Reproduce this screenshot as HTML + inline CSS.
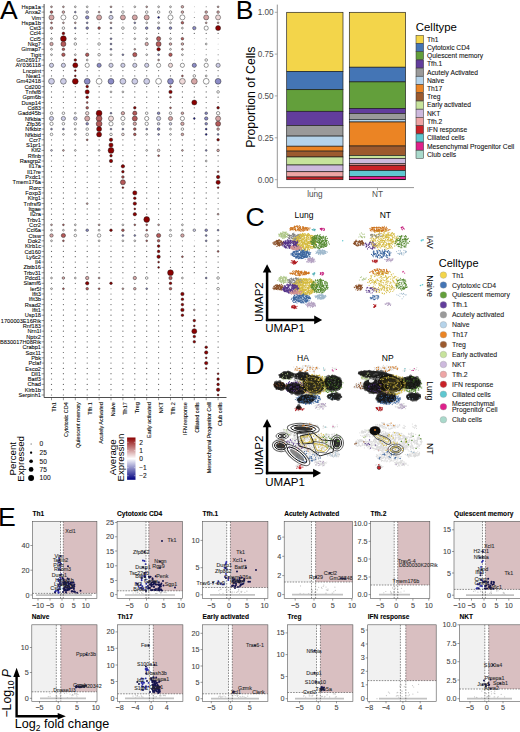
<!DOCTYPE html>
<html><head><meta charset="utf-8"><style>
html,body{margin:0;padding:0;background:#fff;width:520px;height:732px;overflow:hidden}
svg{display:block}
text{font-family:"Liberation Sans", sans-serif}
</style></head><body>
<svg width="520" height="732" viewBox="0 0 520 732">
<rect width="520" height="732" fill="#fff"/>
<text x="0" y="18.75" font-size="26.6" fill="#000">A</text>
<g font-size="5.65" text-anchor="end" fill="#000" stroke="#000" stroke-width="0.07"><text x="41.0" y="8.90">Hspa1a</text><text x="41.0" y="14.22">Anxa2</text><text x="41.0" y="19.54">Vim</text><text x="41.0" y="24.85">Hspa1b</text><text x="41.0" y="30.17">Cst3</text><text x="41.0" y="35.49">Ccl4</text><text x="41.0" y="40.81">Ccl5</text><text x="41.0" y="46.13">Nkg7</text><text x="41.0" y="51.44">Gimap7</text><text x="41.0" y="56.76">Tigit</text><text x="41.0" y="62.08">Gm26917</text><text x="41.0" y="67.40">AY036118</text><text x="41.0" y="72.72">Lncpint</text><text x="41.0" y="78.03">Neat1</text><text x="41.0" y="83.35">Gm42418</text><text x="41.0" y="88.67">Cd200</text><text x="41.0" y="93.99">Tnfsf8</text><text x="41.0" y="99.31">Gpm6b</text><text x="41.0" y="104.62">Dusp14</text><text x="41.0" y="109.94">Cd83</text><text x="41.0" y="115.26">Gadd45b</text><text x="41.0" y="120.58">Nfkbia</text><text x="41.0" y="125.90">Zfp36</text><text x="41.0" y="131.21">Nfkbiz</text><text x="41.0" y="136.53">Nfkbid</text><text x="41.0" y="141.85">Ccr7</text><text x="41.0" y="147.17">S1pr1</text><text x="41.0" y="152.49">Klf2</text><text x="41.0" y="157.80">Rflnb</text><text x="41.0" y="163.12">Rasgrp2</text><text x="41.0" y="168.44">Il17a</text><text x="41.0" y="173.76">Il17re</text><text x="41.0" y="179.08">Pxdc1</text><text x="41.0" y="184.39">Tmem176a</text><text x="41.0" y="189.71">Rorc</text><text x="41.0" y="195.03">Foxp3</text><text x="41.0" y="200.35">Klrg1</text><text x="41.0" y="205.67">Tnfrsf9</text><text x="41.0" y="210.98">Itgae</text><text x="41.0" y="216.30">Il2ra</text><text x="41.0" y="221.62">Trbv1</text><text x="41.0" y="226.94">Ccr2</text><text x="41.0" y="232.26">Ccl6a</text><text x="41.0" y="237.57">Ctsw</text><text x="41.0" y="242.89">Dok2</text><text x="41.0" y="248.21">Klrb1c</text><text x="41.0" y="253.53">Cd160</text><text x="41.0" y="258.85">Ly6c2</text><text x="41.0" y="264.16">Il4</text><text x="41.0" y="269.48">Zbtb16</text><text x="41.0" y="274.80">Trbv31</text><text x="41.0" y="280.12">Pdcd1</text><text x="41.0" y="285.44">Slamf6</text><text x="41.0" y="290.75">Ier5l</text><text x="41.0" y="296.07">Ifit3</text><text x="41.0" y="301.39">Ifit3b</text><text x="41.0" y="306.71">Rsad2</text><text x="41.0" y="312.03">Ifit1</text><text x="41.0" y="317.34">Usp18</text><text x="41.0" y="322.66">1700003E16Rik</text><text x="41.0" y="327.98">Rnf183</text><text x="41.0" y="333.30">Nrn1l</text><text x="41.0" y="338.62">Nptx2</text><text x="41.0" y="343.93">B830017H08Rik</text><text x="41.0" y="349.25">Crabp1</text><text x="41.0" y="354.57">Sox11</text><text x="41.0" y="359.89">Pbk</text><text x="41.0" y="365.21">Pclaf</text><text x="41.0" y="370.52">Esco2</text><text x="41.0" y="375.84">Dll1</text><text x="41.0" y="381.16">Batf3</text><text x="41.0" y="386.48">Chad</text><text x="41.0" y="391.80">Klrb1b</text><text x="41.0" y="397.11">Serpinh1</text></g>
<path d="M41.6 6.80H44.1M41.6 12.12H44.1M41.6 17.44H44.1M41.6 22.75H44.1M41.6 28.07H44.1M41.6 33.39H44.1M41.6 38.71H44.1M41.6 44.03H44.1M41.6 49.34H44.1M41.6 54.66H44.1M41.6 59.98H44.1M41.6 65.30H44.1M41.6 70.62H44.1M41.6 75.93H44.1M41.6 81.25H44.1M41.6 86.57H44.1M41.6 91.89H44.1M41.6 97.21H44.1M41.6 102.52H44.1M41.6 107.84H44.1M41.6 113.16H44.1M41.6 118.48H44.1M41.6 123.80H44.1M41.6 129.11H44.1M41.6 134.43H44.1M41.6 139.75H44.1M41.6 145.07H44.1M41.6 150.39H44.1M41.6 155.70H44.1M41.6 161.02H44.1M41.6 166.34H44.1M41.6 171.66H44.1M41.6 176.98H44.1M41.6 182.29H44.1M41.6 187.61H44.1M41.6 192.93H44.1M41.6 198.25H44.1M41.6 203.57H44.1M41.6 208.88H44.1M41.6 214.20H44.1M41.6 219.52H44.1M41.6 224.84H44.1M41.6 230.16H44.1M41.6 235.47H44.1M41.6 240.79H44.1M41.6 246.11H44.1M41.6 251.43H44.1M41.6 256.75H44.1M41.6 262.06H44.1M41.6 267.38H44.1M41.6 272.70H44.1M41.6 278.02H44.1M41.6 283.34H44.1M41.6 288.65H44.1M41.6 293.97H44.1M41.6 299.29H44.1M41.6 304.61H44.1M41.6 309.93H44.1M41.6 315.24H44.1M41.6 320.56H44.1M41.6 325.88H44.1M41.6 331.20H44.1M41.6 336.52H44.1M41.6 341.83H44.1M41.6 347.15H44.1M41.6 352.47H44.1M41.6 357.79H44.1M41.6 363.11H44.1M41.6 368.42H44.1M41.6 373.74H44.1M41.6 379.06H44.1M41.6 384.38H44.1M41.6 389.70H44.1M41.6 395.01H44.1M51.50 397.5V400.2M63.40 397.5V400.2M75.30 397.5V400.2M87.20 397.5V400.2M99.10 397.5V400.2M111.00 397.5V400.2M122.90 397.5V400.2M134.80 397.5V400.2M146.70 397.5V400.2M158.60 397.5V400.2M170.50 397.5V400.2M182.40 397.5V400.2M194.30 397.5V400.2M206.20 397.5V400.2M218.10 397.5V400.2" stroke="#333" stroke-width="0.5" fill="none"/>
<path d="M44.1 4V397.5H226.5" stroke="#222" stroke-width="0.8" fill="none"/>
<g fill="#666"><circle cx="99.1" cy="6.8" r="0.50"/><circle cx="122.9" cy="6.8" r="0.50"/><circle cx="194.3" cy="6.8" r="0.34"/><circle cx="206.2" cy="6.8" r="0.50"/><circle cx="134.8" cy="12.1" r="0.50"/><circle cx="194.3" cy="12.1" r="0.34"/><circle cx="194.3" cy="17.4" r="0.50"/><circle cx="99.1" cy="22.8" r="0.50"/><circle cx="122.9" cy="22.8" r="0.50"/><circle cx="194.3" cy="22.8" r="0.34"/><circle cx="51.5" cy="33.4" r="0.62"/><circle cx="75.3" cy="33.4" r="0.62"/><circle cx="87.2" cy="33.4" r="0.62"/><circle cx="99.1" cy="33.4" r="0.62"/><circle cx="111.0" cy="33.4" r="0.62"/><circle cx="122.9" cy="33.4" r="0.62"/><circle cx="134.8" cy="33.4" r="0.62"/><circle cx="146.7" cy="33.4" r="0.62"/><circle cx="158.6" cy="33.4" r="0.62"/><circle cx="170.5" cy="33.4" r="0.62"/><circle cx="182.4" cy="33.4" r="0.62"/><circle cx="194.3" cy="33.4" r="0.62"/><circle cx="206.2" cy="33.4" r="0.62"/><circle cx="218.1" cy="33.4" r="0.62"/><circle cx="87.2" cy="38.7" r="0.50"/><circle cx="99.1" cy="38.7" r="0.50"/><circle cx="122.9" cy="38.7" r="0.50"/><circle cx="194.3" cy="38.7" r="0.34"/><circle cx="206.2" cy="38.7" r="0.50"/><circle cx="218.1" cy="38.7" r="0.34"/><circle cx="87.2" cy="44.0" r="0.50"/><circle cx="122.9" cy="44.0" r="0.50"/><circle cx="134.8" cy="44.0" r="0.50"/><circle cx="194.3" cy="44.0" r="0.34"/><circle cx="218.1" cy="44.0" r="0.34"/><circle cx="75.3" cy="49.3" r="0.50"/><circle cx="87.2" cy="49.3" r="0.50"/><circle cx="99.1" cy="49.3" r="0.50"/><circle cx="122.9" cy="49.3" r="0.50"/><circle cx="146.7" cy="49.3" r="0.50"/><circle cx="194.3" cy="49.3" r="0.34"/><circle cx="206.2" cy="49.3" r="0.50"/><circle cx="218.1" cy="49.3" r="0.34"/><circle cx="194.3" cy="54.7" r="0.34"/><circle cx="206.2" cy="54.7" r="0.50"/><circle cx="218.1" cy="54.7" r="0.50"/><circle cx="51.5" cy="60.0" r="0.50"/><circle cx="63.4" cy="60.0" r="0.50"/><circle cx="99.1" cy="60.0" r="0.50"/><circle cx="111.0" cy="60.0" r="0.50"/><circle cx="122.9" cy="60.0" r="0.50"/><circle cx="134.8" cy="60.0" r="0.50"/><circle cx="146.7" cy="60.0" r="0.50"/><circle cx="170.5" cy="60.0" r="0.50"/><circle cx="182.4" cy="60.0" r="0.50"/><circle cx="194.3" cy="60.0" r="0.34"/><circle cx="218.1" cy="60.0" r="0.50"/><circle cx="51.5" cy="70.6" r="0.62"/><circle cx="63.4" cy="70.6" r="0.62"/><circle cx="87.2" cy="70.6" r="0.62"/><circle cx="99.1" cy="70.6" r="0.62"/><circle cx="111.0" cy="70.6" r="0.62"/><circle cx="122.9" cy="70.6" r="0.62"/><circle cx="134.8" cy="70.6" r="0.50"/><circle cx="146.7" cy="70.6" r="0.62"/><circle cx="158.6" cy="70.6" r="0.62"/><circle cx="170.5" cy="70.6" r="0.62"/><circle cx="182.4" cy="70.6" r="0.62"/><circle cx="194.3" cy="70.6" r="0.62"/><circle cx="206.2" cy="70.6" r="0.62"/><circle cx="218.1" cy="70.6" r="0.62"/><circle cx="51.5" cy="75.9" r="0.62"/><circle cx="63.4" cy="75.9" r="0.62"/><circle cx="87.2" cy="75.9" r="0.62"/><circle cx="99.1" cy="75.9" r="0.62"/><circle cx="111.0" cy="75.9" r="0.62"/><circle cx="122.9" cy="75.9" r="0.62"/><circle cx="134.8" cy="75.9" r="0.62"/><circle cx="146.7" cy="75.9" r="0.62"/><circle cx="158.6" cy="75.9" r="0.62"/><circle cx="170.5" cy="75.9" r="0.62"/><circle cx="218.1" cy="75.9" r="0.62"/><circle cx="51.5" cy="86.6" r="0.62"/><circle cx="63.4" cy="86.6" r="0.62"/><circle cx="75.3" cy="86.6" r="0.62"/><circle cx="99.1" cy="86.6" r="0.62"/><circle cx="111.0" cy="86.6" r="0.62"/><circle cx="122.9" cy="86.6" r="0.62"/><circle cx="134.8" cy="86.6" r="0.62"/><circle cx="146.7" cy="86.6" r="0.62"/><circle cx="158.6" cy="86.6" r="0.62"/><circle cx="182.4" cy="86.6" r="0.62"/><circle cx="194.3" cy="86.6" r="0.62"/><circle cx="206.2" cy="86.6" r="0.62"/><circle cx="218.1" cy="86.6" r="0.62"/><circle cx="51.5" cy="91.9" r="0.62"/><circle cx="63.4" cy="91.9" r="0.62"/><circle cx="75.3" cy="91.9" r="0.62"/><circle cx="99.1" cy="91.9" r="0.62"/><circle cx="134.8" cy="91.9" r="0.62"/><circle cx="146.7" cy="91.9" r="0.62"/><circle cx="158.6" cy="91.9" r="0.62"/><circle cx="182.4" cy="91.9" r="0.62"/><circle cx="194.3" cy="91.9" r="0.62"/><circle cx="206.2" cy="91.9" r="0.62"/><circle cx="51.5" cy="97.2" r="0.62"/><circle cx="63.4" cy="97.2" r="0.62"/><circle cx="75.3" cy="97.2" r="0.62"/><circle cx="99.1" cy="97.2" r="0.62"/><circle cx="111.0" cy="97.2" r="0.62"/><circle cx="122.9" cy="97.2" r="0.62"/><circle cx="134.8" cy="97.2" r="0.62"/><circle cx="146.7" cy="97.2" r="0.62"/><circle cx="158.6" cy="97.2" r="0.62"/><circle cx="182.4" cy="97.2" r="0.62"/><circle cx="194.3" cy="97.2" r="0.62"/><circle cx="206.2" cy="97.2" r="0.62"/><circle cx="218.1" cy="97.2" r="0.62"/><circle cx="51.5" cy="102.5" r="0.62"/><circle cx="63.4" cy="102.5" r="0.62"/><circle cx="75.3" cy="102.5" r="0.62"/><circle cx="99.1" cy="102.5" r="0.62"/><circle cx="111.0" cy="102.5" r="0.62"/><circle cx="122.9" cy="102.5" r="0.62"/><circle cx="134.8" cy="102.5" r="0.62"/><circle cx="146.7" cy="102.5" r="0.62"/><circle cx="158.6" cy="102.5" r="0.62"/><circle cx="170.5" cy="102.5" r="0.62"/><circle cx="182.4" cy="102.5" r="0.62"/><circle cx="206.2" cy="102.5" r="0.62"/><circle cx="218.1" cy="102.5" r="0.62"/><circle cx="51.5" cy="107.8" r="0.62"/><circle cx="63.4" cy="107.8" r="0.62"/><circle cx="75.3" cy="107.8" r="0.62"/><circle cx="99.1" cy="107.8" r="0.62"/><circle cx="111.0" cy="107.8" r="0.62"/><circle cx="122.9" cy="107.8" r="0.62"/><circle cx="146.7" cy="107.8" r="0.62"/><circle cx="158.6" cy="107.8" r="0.62"/><circle cx="182.4" cy="107.8" r="0.62"/><circle cx="194.3" cy="107.8" r="0.62"/><circle cx="206.2" cy="107.8" r="0.62"/><circle cx="194.3" cy="113.2" r="0.50"/><circle cx="194.3" cy="123.8" r="0.50"/><circle cx="194.3" cy="129.1" r="0.50"/><circle cx="194.3" cy="134.4" r="0.34"/><circle cx="51.5" cy="139.8" r="0.62"/><circle cx="63.4" cy="139.8" r="0.62"/><circle cx="75.3" cy="139.8" r="0.62"/><circle cx="99.1" cy="139.8" r="0.62"/><circle cx="122.9" cy="139.8" r="0.62"/><circle cx="134.8" cy="139.8" r="0.62"/><circle cx="146.7" cy="139.8" r="0.62"/><circle cx="158.6" cy="139.8" r="0.62"/><circle cx="170.5" cy="139.8" r="0.62"/><circle cx="182.4" cy="139.8" r="0.62"/><circle cx="194.3" cy="139.8" r="0.62"/><circle cx="206.2" cy="139.8" r="0.62"/><circle cx="51.5" cy="145.1" r="0.62"/><circle cx="63.4" cy="145.1" r="0.62"/><circle cx="75.3" cy="145.1" r="0.62"/><circle cx="87.2" cy="145.1" r="0.62"/><circle cx="99.1" cy="145.1" r="0.62"/><circle cx="122.9" cy="145.1" r="0.62"/><circle cx="134.8" cy="145.1" r="0.62"/><circle cx="146.7" cy="145.1" r="0.62"/><circle cx="158.6" cy="145.1" r="0.62"/><circle cx="170.5" cy="145.1" r="0.62"/><circle cx="182.4" cy="145.1" r="0.62"/><circle cx="194.3" cy="145.1" r="0.62"/><circle cx="206.2" cy="145.1" r="0.62"/><circle cx="218.1" cy="145.1" r="0.62"/><circle cx="87.2" cy="150.4" r="0.50"/><circle cx="122.9" cy="150.4" r="0.50"/><circle cx="134.8" cy="150.4" r="0.50"/><circle cx="170.5" cy="150.4" r="0.50"/><circle cx="194.3" cy="150.4" r="0.50"/><circle cx="51.5" cy="155.7" r="0.62"/><circle cx="63.4" cy="155.7" r="0.62"/><circle cx="75.3" cy="155.7" r="0.62"/><circle cx="87.2" cy="155.7" r="0.62"/><circle cx="99.1" cy="155.7" r="0.62"/><circle cx="122.9" cy="155.7" r="0.62"/><circle cx="134.8" cy="155.7" r="0.62"/><circle cx="146.7" cy="155.7" r="0.62"/><circle cx="170.5" cy="155.7" r="0.62"/><circle cx="182.4" cy="155.7" r="0.62"/><circle cx="194.3" cy="155.7" r="0.50"/><circle cx="206.2" cy="155.7" r="0.62"/><circle cx="218.1" cy="155.7" r="0.62"/><circle cx="51.5" cy="161.0" r="0.62"/><circle cx="63.4" cy="161.0" r="0.50"/><circle cx="75.3" cy="161.0" r="0.62"/><circle cx="87.2" cy="161.0" r="0.62"/><circle cx="99.1" cy="161.0" r="0.62"/><circle cx="122.9" cy="161.0" r="0.62"/><circle cx="134.8" cy="161.0" r="0.62"/><circle cx="146.7" cy="161.0" r="0.50"/><circle cx="158.6" cy="161.0" r="0.50"/><circle cx="170.5" cy="161.0" r="0.62"/><circle cx="182.4" cy="161.0" r="0.62"/><circle cx="194.3" cy="161.0" r="0.62"/><circle cx="218.1" cy="161.0" r="0.62"/><circle cx="51.5" cy="166.3" r="0.62"/><circle cx="63.4" cy="166.3" r="0.62"/><circle cx="75.3" cy="166.3" r="0.62"/><circle cx="87.2" cy="166.3" r="0.62"/><circle cx="99.1" cy="166.3" r="0.62"/><circle cx="111.0" cy="166.3" r="0.62"/><circle cx="134.8" cy="166.3" r="0.62"/><circle cx="146.7" cy="166.3" r="0.62"/><circle cx="158.6" cy="166.3" r="0.62"/><circle cx="170.5" cy="166.3" r="0.62"/><circle cx="182.4" cy="166.3" r="0.62"/><circle cx="194.3" cy="166.3" r="0.62"/><circle cx="206.2" cy="166.3" r="0.62"/><circle cx="218.1" cy="166.3" r="0.62"/><circle cx="51.5" cy="171.7" r="0.62"/><circle cx="63.4" cy="171.7" r="0.62"/><circle cx="75.3" cy="171.7" r="0.62"/><circle cx="87.2" cy="171.7" r="0.62"/><circle cx="99.1" cy="171.7" r="0.62"/><circle cx="111.0" cy="171.7" r="0.62"/><circle cx="134.8" cy="171.7" r="0.62"/><circle cx="146.7" cy="171.7" r="0.62"/><circle cx="158.6" cy="171.7" r="0.62"/><circle cx="170.5" cy="171.7" r="0.62"/><circle cx="182.4" cy="171.7" r="0.62"/><circle cx="194.3" cy="171.7" r="0.62"/><circle cx="206.2" cy="171.7" r="0.62"/><circle cx="51.5" cy="177.0" r="0.62"/><circle cx="63.4" cy="177.0" r="0.62"/><circle cx="75.3" cy="177.0" r="0.62"/><circle cx="87.2" cy="177.0" r="0.62"/><circle cx="99.1" cy="177.0" r="0.62"/><circle cx="111.0" cy="177.0" r="0.62"/><circle cx="134.8" cy="177.0" r="0.62"/><circle cx="146.7" cy="177.0" r="0.62"/><circle cx="158.6" cy="177.0" r="0.62"/><circle cx="170.5" cy="177.0" r="0.62"/><circle cx="182.4" cy="177.0" r="0.62"/><circle cx="194.3" cy="177.0" r="0.62"/><circle cx="206.2" cy="177.0" r="0.62"/><circle cx="51.5" cy="182.3" r="0.50"/><circle cx="63.4" cy="182.3" r="0.62"/><circle cx="75.3" cy="182.3" r="0.62"/><circle cx="87.2" cy="182.3" r="0.62"/><circle cx="99.1" cy="182.3" r="0.62"/><circle cx="111.0" cy="182.3" r="0.62"/><circle cx="134.8" cy="182.3" r="0.62"/><circle cx="146.7" cy="182.3" r="0.62"/><circle cx="158.6" cy="182.3" r="0.50"/><circle cx="170.5" cy="182.3" r="0.62"/><circle cx="182.4" cy="182.3" r="0.62"/><circle cx="194.3" cy="182.3" r="0.62"/><circle cx="206.2" cy="182.3" r="0.62"/><circle cx="51.5" cy="187.6" r="0.62"/><circle cx="63.4" cy="187.6" r="0.62"/><circle cx="75.3" cy="187.6" r="0.62"/><circle cx="87.2" cy="187.6" r="0.62"/><circle cx="99.1" cy="187.6" r="0.62"/><circle cx="111.0" cy="187.6" r="0.62"/><circle cx="134.8" cy="187.6" r="0.62"/><circle cx="146.7" cy="187.6" r="0.62"/><circle cx="158.6" cy="187.6" r="0.62"/><circle cx="170.5" cy="187.6" r="0.62"/><circle cx="182.4" cy="187.6" r="0.62"/><circle cx="194.3" cy="187.6" r="0.62"/><circle cx="206.2" cy="187.6" r="0.62"/><circle cx="51.5" cy="192.9" r="0.62"/><circle cx="63.4" cy="192.9" r="0.62"/><circle cx="75.3" cy="192.9" r="0.62"/><circle cx="87.2" cy="192.9" r="0.62"/><circle cx="99.1" cy="192.9" r="0.62"/><circle cx="111.0" cy="192.9" r="0.62"/><circle cx="122.9" cy="192.9" r="0.62"/><circle cx="146.7" cy="192.9" r="0.62"/><circle cx="158.6" cy="192.9" r="0.62"/><circle cx="170.5" cy="192.9" r="0.62"/><circle cx="182.4" cy="192.9" r="0.62"/><circle cx="194.3" cy="192.9" r="0.62"/><circle cx="206.2" cy="192.9" r="0.62"/><circle cx="218.1" cy="192.9" r="0.62"/><circle cx="51.5" cy="198.2" r="0.62"/><circle cx="63.4" cy="198.2" r="0.62"/><circle cx="75.3" cy="198.2" r="0.62"/><circle cx="87.2" cy="198.2" r="0.62"/><circle cx="99.1" cy="198.2" r="0.62"/><circle cx="111.0" cy="198.2" r="0.62"/><circle cx="122.9" cy="198.2" r="0.62"/><circle cx="146.7" cy="198.2" r="0.62"/><circle cx="158.6" cy="198.2" r="0.62"/><circle cx="170.5" cy="198.2" r="0.62"/><circle cx="182.4" cy="198.2" r="0.62"/><circle cx="194.3" cy="198.2" r="0.62"/><circle cx="206.2" cy="198.2" r="0.62"/><circle cx="218.1" cy="198.2" r="0.62"/><circle cx="51.5" cy="203.6" r="0.62"/><circle cx="63.4" cy="203.6" r="0.62"/><circle cx="75.3" cy="203.6" r="0.62"/><circle cx="99.1" cy="203.6" r="0.62"/><circle cx="111.0" cy="203.6" r="0.62"/><circle cx="122.9" cy="203.6" r="0.62"/><circle cx="146.7" cy="203.6" r="0.62"/><circle cx="158.6" cy="203.6" r="0.62"/><circle cx="170.5" cy="203.6" r="0.62"/><circle cx="182.4" cy="203.6" r="0.62"/><circle cx="194.3" cy="203.6" r="0.62"/><circle cx="206.2" cy="203.6" r="0.62"/><circle cx="218.1" cy="203.6" r="0.50"/><circle cx="51.5" cy="208.9" r="0.62"/><circle cx="63.4" cy="208.9" r="0.62"/><circle cx="75.3" cy="208.9" r="0.62"/><circle cx="87.2" cy="208.9" r="0.62"/><circle cx="99.1" cy="208.9" r="0.62"/><circle cx="111.0" cy="208.9" r="0.62"/><circle cx="122.9" cy="208.9" r="0.62"/><circle cx="146.7" cy="208.9" r="0.62"/><circle cx="158.6" cy="208.9" r="0.62"/><circle cx="170.5" cy="208.9" r="0.62"/><circle cx="182.4" cy="208.9" r="0.62"/><circle cx="194.3" cy="208.9" r="0.62"/><circle cx="206.2" cy="208.9" r="0.62"/><circle cx="218.1" cy="208.9" r="0.62"/><circle cx="51.5" cy="214.2" r="0.62"/><circle cx="63.4" cy="214.2" r="0.62"/><circle cx="75.3" cy="214.2" r="0.62"/><circle cx="87.2" cy="214.2" r="0.62"/><circle cx="99.1" cy="214.2" r="0.62"/><circle cx="111.0" cy="214.2" r="0.62"/><circle cx="122.9" cy="214.2" r="0.62"/><circle cx="146.7" cy="214.2" r="0.62"/><circle cx="158.6" cy="214.2" r="0.50"/><circle cx="170.5" cy="214.2" r="0.62"/><circle cx="182.4" cy="214.2" r="0.62"/><circle cx="194.3" cy="214.2" r="0.62"/><circle cx="206.2" cy="214.2" r="0.62"/><circle cx="51.5" cy="219.5" r="0.62"/><circle cx="63.4" cy="219.5" r="0.62"/><circle cx="75.3" cy="219.5" r="0.62"/><circle cx="87.2" cy="219.5" r="0.62"/><circle cx="99.1" cy="219.5" r="0.62"/><circle cx="111.0" cy="219.5" r="0.62"/><circle cx="122.9" cy="219.5" r="0.62"/><circle cx="134.8" cy="219.5" r="0.62"/><circle cx="158.6" cy="219.5" r="0.62"/><circle cx="170.5" cy="219.5" r="0.62"/><circle cx="182.4" cy="219.5" r="0.62"/><circle cx="194.3" cy="219.5" r="0.62"/><circle cx="206.2" cy="219.5" r="0.62"/><circle cx="218.1" cy="219.5" r="0.62"/><circle cx="87.2" cy="224.8" r="0.50"/><circle cx="111.0" cy="224.8" r="0.50"/><circle cx="170.5" cy="224.8" r="0.50"/><circle cx="194.3" cy="224.8" r="0.34"/><circle cx="206.2" cy="224.8" r="0.50"/><circle cx="218.1" cy="224.8" r="0.50"/><circle cx="134.8" cy="230.2" r="0.50"/><circle cx="158.6" cy="230.2" r="0.50"/><circle cx="87.2" cy="235.5" r="0.50"/><circle cx="111.0" cy="235.5" r="0.50"/><circle cx="194.3" cy="235.5" r="0.34"/><circle cx="218.1" cy="235.5" r="0.50"/><circle cx="75.3" cy="240.8" r="0.50"/><circle cx="87.2" cy="240.8" r="0.50"/><circle cx="111.0" cy="240.8" r="0.50"/><circle cx="170.5" cy="240.8" r="0.50"/><circle cx="182.4" cy="240.8" r="0.50"/><circle cx="194.3" cy="240.8" r="0.34"/><circle cx="51.5" cy="246.1" r="0.62"/><circle cx="63.4" cy="246.1" r="0.62"/><circle cx="75.3" cy="246.1" r="0.62"/><circle cx="87.2" cy="246.1" r="0.62"/><circle cx="99.1" cy="246.1" r="0.62"/><circle cx="111.0" cy="246.1" r="0.62"/><circle cx="122.9" cy="246.1" r="0.62"/><circle cx="134.8" cy="246.1" r="0.62"/><circle cx="146.7" cy="246.1" r="0.62"/><circle cx="170.5" cy="246.1" r="0.62"/><circle cx="182.4" cy="246.1" r="0.62"/><circle cx="194.3" cy="246.1" r="0.62"/><circle cx="206.2" cy="246.1" r="0.62"/><circle cx="218.1" cy="246.1" r="0.62"/><circle cx="51.5" cy="251.4" r="0.62"/><circle cx="63.4" cy="251.4" r="0.62"/><circle cx="75.3" cy="251.4" r="0.62"/><circle cx="87.2" cy="251.4" r="0.62"/><circle cx="99.1" cy="251.4" r="0.62"/><circle cx="111.0" cy="251.4" r="0.62"/><circle cx="122.9" cy="251.4" r="0.62"/><circle cx="134.8" cy="251.4" r="0.62"/><circle cx="146.7" cy="251.4" r="0.62"/><circle cx="170.5" cy="251.4" r="0.62"/><circle cx="182.4" cy="251.4" r="0.62"/><circle cx="194.3" cy="251.4" r="0.62"/><circle cx="206.2" cy="251.4" r="0.62"/><circle cx="51.5" cy="256.7" r="0.62"/><circle cx="63.4" cy="256.7" r="0.62"/><circle cx="75.3" cy="256.7" r="0.62"/><circle cx="87.2" cy="256.7" r="0.62"/><circle cx="99.1" cy="256.7" r="0.62"/><circle cx="111.0" cy="256.7" r="0.62"/><circle cx="122.9" cy="256.7" r="0.62"/><circle cx="134.8" cy="256.7" r="0.62"/><circle cx="146.7" cy="256.7" r="0.62"/><circle cx="170.5" cy="256.7" r="0.62"/><circle cx="194.3" cy="256.7" r="0.62"/><circle cx="206.2" cy="256.7" r="0.62"/><circle cx="218.1" cy="256.7" r="0.62"/><circle cx="51.5" cy="262.1" r="0.62"/><circle cx="63.4" cy="262.1" r="0.62"/><circle cx="75.3" cy="262.1" r="0.62"/><circle cx="87.2" cy="262.1" r="0.62"/><circle cx="99.1" cy="262.1" r="0.62"/><circle cx="111.0" cy="262.1" r="0.62"/><circle cx="122.9" cy="262.1" r="0.62"/><circle cx="134.8" cy="262.1" r="0.62"/><circle cx="146.7" cy="262.1" r="0.62"/><circle cx="170.5" cy="262.1" r="0.62"/><circle cx="182.4" cy="262.1" r="0.62"/><circle cx="194.3" cy="262.1" r="0.62"/><circle cx="206.2" cy="262.1" r="0.62"/><circle cx="218.1" cy="262.1" r="0.62"/><circle cx="51.5" cy="267.4" r="0.62"/><circle cx="63.4" cy="267.4" r="0.62"/><circle cx="75.3" cy="267.4" r="0.62"/><circle cx="87.2" cy="267.4" r="0.62"/><circle cx="99.1" cy="267.4" r="0.62"/><circle cx="111.0" cy="267.4" r="0.62"/><circle cx="122.9" cy="267.4" r="0.62"/><circle cx="134.8" cy="267.4" r="0.62"/><circle cx="146.7" cy="267.4" r="0.62"/><circle cx="170.5" cy="267.4" r="0.62"/><circle cx="182.4" cy="267.4" r="0.62"/><circle cx="194.3" cy="267.4" r="0.62"/><circle cx="206.2" cy="267.4" r="0.62"/><circle cx="218.1" cy="267.4" r="0.62"/><circle cx="51.5" cy="272.7" r="0.62"/><circle cx="63.4" cy="272.7" r="0.62"/><circle cx="75.3" cy="272.7" r="0.62"/><circle cx="87.2" cy="272.7" r="0.62"/><circle cx="99.1" cy="272.7" r="0.62"/><circle cx="111.0" cy="272.7" r="0.62"/><circle cx="122.9" cy="272.7" r="0.62"/><circle cx="134.8" cy="272.7" r="0.62"/><circle cx="146.7" cy="272.7" r="0.62"/><circle cx="158.6" cy="272.7" r="0.62"/><circle cx="182.4" cy="272.7" r="0.62"/><circle cx="194.3" cy="272.7" r="0.62"/><circle cx="206.2" cy="272.7" r="0.62"/><circle cx="218.1" cy="272.7" r="0.62"/><circle cx="111.0" cy="278.0" r="0.50"/><circle cx="122.9" cy="278.0" r="0.50"/><circle cx="158.6" cy="278.0" r="0.50"/><circle cx="194.3" cy="278.0" r="0.34"/><circle cx="51.5" cy="283.3" r="0.62"/><circle cx="63.4" cy="283.3" r="0.62"/><circle cx="75.3" cy="283.3" r="0.62"/><circle cx="99.1" cy="283.3" r="0.62"/><circle cx="122.9" cy="283.3" r="0.62"/><circle cx="134.8" cy="283.3" r="0.62"/><circle cx="146.7" cy="283.3" r="0.62"/><circle cx="158.6" cy="283.3" r="0.62"/><circle cx="182.4" cy="283.3" r="0.62"/><circle cx="194.3" cy="283.3" r="0.62"/><circle cx="206.2" cy="283.3" r="0.62"/><circle cx="218.1" cy="283.3" r="0.62"/><circle cx="75.3" cy="288.7" r="0.50"/><circle cx="111.0" cy="288.7" r="0.50"/><circle cx="158.6" cy="288.7" r="0.50"/><circle cx="182.4" cy="288.7" r="0.50"/><circle cx="194.3" cy="288.7" r="0.34"/><circle cx="206.2" cy="288.7" r="0.50"/><circle cx="51.5" cy="294.0" r="0.62"/><circle cx="63.4" cy="294.0" r="0.62"/><circle cx="75.3" cy="294.0" r="0.62"/><circle cx="87.2" cy="294.0" r="0.62"/><circle cx="99.1" cy="294.0" r="0.62"/><circle cx="111.0" cy="294.0" r="0.62"/><circle cx="122.9" cy="294.0" r="0.62"/><circle cx="134.8" cy="294.0" r="0.62"/><circle cx="146.7" cy="294.0" r="0.62"/><circle cx="158.6" cy="294.0" r="0.62"/><circle cx="170.5" cy="294.0" r="0.62"/><circle cx="194.3" cy="294.0" r="0.62"/><circle cx="206.2" cy="294.0" r="0.62"/><circle cx="218.1" cy="294.0" r="0.62"/><circle cx="51.5" cy="299.3" r="0.62"/><circle cx="63.4" cy="299.3" r="0.62"/><circle cx="75.3" cy="299.3" r="0.62"/><circle cx="87.2" cy="299.3" r="0.62"/><circle cx="99.1" cy="299.3" r="0.62"/><circle cx="111.0" cy="299.3" r="0.62"/><circle cx="122.9" cy="299.3" r="0.62"/><circle cx="134.8" cy="299.3" r="0.62"/><circle cx="146.7" cy="299.3" r="0.62"/><circle cx="158.6" cy="299.3" r="0.62"/><circle cx="170.5" cy="299.3" r="0.62"/><circle cx="194.3" cy="299.3" r="0.62"/><circle cx="206.2" cy="299.3" r="0.62"/><circle cx="218.1" cy="299.3" r="0.62"/><circle cx="51.5" cy="304.6" r="0.62"/><circle cx="63.4" cy="304.6" r="0.62"/><circle cx="75.3" cy="304.6" r="0.62"/><circle cx="87.2" cy="304.6" r="0.62"/><circle cx="99.1" cy="304.6" r="0.62"/><circle cx="111.0" cy="304.6" r="0.62"/><circle cx="122.9" cy="304.6" r="0.62"/><circle cx="134.8" cy="304.6" r="0.62"/><circle cx="146.7" cy="304.6" r="0.62"/><circle cx="158.6" cy="304.6" r="0.62"/><circle cx="170.5" cy="304.6" r="0.62"/><circle cx="194.3" cy="304.6" r="0.62"/><circle cx="206.2" cy="304.6" r="0.62"/><circle cx="218.1" cy="304.6" r="0.62"/><circle cx="51.5" cy="309.9" r="0.62"/><circle cx="63.4" cy="309.9" r="0.62"/><circle cx="75.3" cy="309.9" r="0.62"/><circle cx="87.2" cy="309.9" r="0.62"/><circle cx="99.1" cy="309.9" r="0.62"/><circle cx="111.0" cy="309.9" r="0.62"/><circle cx="122.9" cy="309.9" r="0.62"/><circle cx="134.8" cy="309.9" r="0.62"/><circle cx="146.7" cy="309.9" r="0.62"/><circle cx="158.6" cy="309.9" r="0.62"/><circle cx="170.5" cy="309.9" r="0.62"/><circle cx="206.2" cy="309.9" r="0.62"/><circle cx="218.1" cy="309.9" r="0.62"/><circle cx="51.5" cy="315.2" r="0.62"/><circle cx="63.4" cy="315.2" r="0.62"/><circle cx="75.3" cy="315.2" r="0.62"/><circle cx="87.2" cy="315.2" r="0.62"/><circle cx="99.1" cy="315.2" r="0.62"/><circle cx="111.0" cy="315.2" r="0.62"/><circle cx="122.9" cy="315.2" r="0.62"/><circle cx="134.8" cy="315.2" r="0.62"/><circle cx="146.7" cy="315.2" r="0.62"/><circle cx="158.6" cy="315.2" r="0.62"/><circle cx="170.5" cy="315.2" r="0.62"/><circle cx="194.3" cy="315.2" r="0.62"/><circle cx="206.2" cy="315.2" r="0.62"/><circle cx="218.1" cy="315.2" r="0.62"/><circle cx="51.5" cy="320.6" r="0.62"/><circle cx="63.4" cy="320.6" r="0.62"/><circle cx="75.3" cy="320.6" r="0.62"/><circle cx="87.2" cy="320.6" r="0.62"/><circle cx="99.1" cy="320.6" r="0.62"/><circle cx="111.0" cy="320.6" r="0.62"/><circle cx="122.9" cy="320.6" r="0.62"/><circle cx="134.8" cy="320.6" r="0.62"/><circle cx="146.7" cy="320.6" r="0.62"/><circle cx="158.6" cy="320.6" r="0.62"/><circle cx="170.5" cy="320.6" r="0.62"/><circle cx="182.4" cy="320.6" r="0.62"/><circle cx="206.2" cy="320.6" r="0.62"/><circle cx="218.1" cy="320.6" r="0.62"/><circle cx="51.5" cy="325.9" r="0.62"/><circle cx="63.4" cy="325.9" r="0.62"/><circle cx="75.3" cy="325.9" r="0.62"/><circle cx="87.2" cy="325.9" r="0.62"/><circle cx="99.1" cy="325.9" r="0.62"/><circle cx="111.0" cy="325.9" r="0.62"/><circle cx="122.9" cy="325.9" r="0.62"/><circle cx="134.8" cy="325.9" r="0.62"/><circle cx="146.7" cy="325.9" r="0.62"/><circle cx="158.6" cy="325.9" r="0.62"/><circle cx="170.5" cy="325.9" r="0.62"/><circle cx="182.4" cy="325.9" r="0.62"/><circle cx="206.2" cy="325.9" r="0.62"/><circle cx="218.1" cy="325.9" r="0.62"/><circle cx="51.5" cy="331.2" r="0.62"/><circle cx="63.4" cy="331.2" r="0.62"/><circle cx="75.3" cy="331.2" r="0.62"/><circle cx="87.2" cy="331.2" r="0.62"/><circle cx="99.1" cy="331.2" r="0.62"/><circle cx="111.0" cy="331.2" r="0.62"/><circle cx="122.9" cy="331.2" r="0.62"/><circle cx="134.8" cy="331.2" r="0.62"/><circle cx="146.7" cy="331.2" r="0.62"/><circle cx="158.6" cy="331.2" r="0.62"/><circle cx="170.5" cy="331.2" r="0.62"/><circle cx="182.4" cy="331.2" r="0.62"/><circle cx="206.2" cy="331.2" r="0.62"/><circle cx="218.1" cy="331.2" r="0.62"/><circle cx="51.5" cy="336.5" r="0.62"/><circle cx="63.4" cy="336.5" r="0.62"/><circle cx="75.3" cy="336.5" r="0.62"/><circle cx="87.2" cy="336.5" r="0.62"/><circle cx="99.1" cy="336.5" r="0.62"/><circle cx="111.0" cy="336.5" r="0.62"/><circle cx="122.9" cy="336.5" r="0.62"/><circle cx="134.8" cy="336.5" r="0.62"/><circle cx="146.7" cy="336.5" r="0.62"/><circle cx="158.6" cy="336.5" r="0.62"/><circle cx="170.5" cy="336.5" r="0.62"/><circle cx="182.4" cy="336.5" r="0.62"/><circle cx="206.2" cy="336.5" r="0.62"/><circle cx="218.1" cy="336.5" r="0.62"/><circle cx="51.5" cy="341.8" r="0.62"/><circle cx="63.4" cy="341.8" r="0.62"/><circle cx="75.3" cy="341.8" r="0.62"/><circle cx="87.2" cy="341.8" r="0.62"/><circle cx="99.1" cy="341.8" r="0.62"/><circle cx="111.0" cy="341.8" r="0.62"/><circle cx="122.9" cy="341.8" r="0.62"/><circle cx="134.8" cy="341.8" r="0.62"/><circle cx="146.7" cy="341.8" r="0.62"/><circle cx="158.6" cy="341.8" r="0.62"/><circle cx="170.5" cy="341.8" r="0.62"/><circle cx="182.4" cy="341.8" r="0.62"/><circle cx="206.2" cy="341.8" r="0.62"/><circle cx="218.1" cy="341.8" r="0.62"/><circle cx="51.5" cy="347.2" r="0.62"/><circle cx="63.4" cy="347.2" r="0.62"/><circle cx="75.3" cy="347.2" r="0.62"/><circle cx="87.2" cy="347.2" r="0.62"/><circle cx="99.1" cy="347.2" r="0.62"/><circle cx="111.0" cy="347.2" r="0.62"/><circle cx="122.9" cy="347.2" r="0.62"/><circle cx="134.8" cy="347.2" r="0.62"/><circle cx="146.7" cy="347.2" r="0.62"/><circle cx="158.6" cy="347.2" r="0.62"/><circle cx="170.5" cy="347.2" r="0.62"/><circle cx="182.4" cy="347.2" r="0.62"/><circle cx="194.3" cy="347.2" r="0.62"/><circle cx="218.1" cy="347.2" r="0.62"/><circle cx="51.5" cy="352.5" r="0.62"/><circle cx="63.4" cy="352.5" r="0.62"/><circle cx="75.3" cy="352.5" r="0.62"/><circle cx="87.2" cy="352.5" r="0.62"/><circle cx="99.1" cy="352.5" r="0.62"/><circle cx="111.0" cy="352.5" r="0.62"/><circle cx="122.9" cy="352.5" r="0.62"/><circle cx="134.8" cy="352.5" r="0.62"/><circle cx="146.7" cy="352.5" r="0.62"/><circle cx="158.6" cy="352.5" r="0.62"/><circle cx="170.5" cy="352.5" r="0.62"/><circle cx="182.4" cy="352.5" r="0.62"/><circle cx="194.3" cy="352.5" r="0.62"/><circle cx="218.1" cy="352.5" r="0.62"/><circle cx="51.5" cy="357.8" r="0.62"/><circle cx="63.4" cy="357.8" r="0.62"/><circle cx="75.3" cy="357.8" r="0.62"/><circle cx="87.2" cy="357.8" r="0.62"/><circle cx="99.1" cy="357.8" r="0.62"/><circle cx="111.0" cy="357.8" r="0.62"/><circle cx="122.9" cy="357.8" r="0.62"/><circle cx="134.8" cy="357.8" r="0.62"/><circle cx="146.7" cy="357.8" r="0.62"/><circle cx="158.6" cy="357.8" r="0.62"/><circle cx="170.5" cy="357.8" r="0.62"/><circle cx="182.4" cy="357.8" r="0.62"/><circle cx="194.3" cy="357.8" r="0.62"/><circle cx="218.1" cy="357.8" r="0.62"/><circle cx="51.5" cy="363.1" r="0.62"/><circle cx="63.4" cy="363.1" r="0.62"/><circle cx="75.3" cy="363.1" r="0.62"/><circle cx="87.2" cy="363.1" r="0.62"/><circle cx="99.1" cy="363.1" r="0.62"/><circle cx="111.0" cy="363.1" r="0.62"/><circle cx="122.9" cy="363.1" r="0.62"/><circle cx="134.8" cy="363.1" r="0.62"/><circle cx="146.7" cy="363.1" r="0.62"/><circle cx="158.6" cy="363.1" r="0.62"/><circle cx="170.5" cy="363.1" r="0.62"/><circle cx="182.4" cy="363.1" r="0.62"/><circle cx="194.3" cy="363.1" r="0.62"/><circle cx="218.1" cy="363.1" r="0.62"/><circle cx="51.5" cy="368.4" r="0.62"/><circle cx="63.4" cy="368.4" r="0.62"/><circle cx="75.3" cy="368.4" r="0.62"/><circle cx="87.2" cy="368.4" r="0.62"/><circle cx="99.1" cy="368.4" r="0.62"/><circle cx="111.0" cy="368.4" r="0.62"/><circle cx="122.9" cy="368.4" r="0.62"/><circle cx="134.8" cy="368.4" r="0.62"/><circle cx="146.7" cy="368.4" r="0.62"/><circle cx="158.6" cy="368.4" r="0.62"/><circle cx="170.5" cy="368.4" r="0.62"/><circle cx="182.4" cy="368.4" r="0.62"/><circle cx="194.3" cy="368.4" r="0.62"/><circle cx="218.1" cy="368.4" r="0.62"/><circle cx="51.5" cy="373.7" r="0.62"/><circle cx="63.4" cy="373.7" r="0.62"/><circle cx="75.3" cy="373.7" r="0.62"/><circle cx="87.2" cy="373.7" r="0.62"/><circle cx="99.1" cy="373.7" r="0.62"/><circle cx="111.0" cy="373.7" r="0.62"/><circle cx="122.9" cy="373.7" r="0.62"/><circle cx="134.8" cy="373.7" r="0.62"/><circle cx="146.7" cy="373.7" r="0.62"/><circle cx="158.6" cy="373.7" r="0.62"/><circle cx="170.5" cy="373.7" r="0.62"/><circle cx="182.4" cy="373.7" r="0.62"/><circle cx="194.3" cy="373.7" r="0.62"/><circle cx="206.2" cy="373.7" r="0.62"/><circle cx="51.5" cy="379.1" r="0.62"/><circle cx="63.4" cy="379.1" r="0.62"/><circle cx="75.3" cy="379.1" r="0.62"/><circle cx="87.2" cy="379.1" r="0.62"/><circle cx="99.1" cy="379.1" r="0.62"/><circle cx="111.0" cy="379.1" r="0.62"/><circle cx="122.9" cy="379.1" r="0.62"/><circle cx="134.8" cy="379.1" r="0.62"/><circle cx="146.7" cy="379.1" r="0.62"/><circle cx="158.6" cy="379.1" r="0.62"/><circle cx="170.5" cy="379.1" r="0.62"/><circle cx="182.4" cy="379.1" r="0.62"/><circle cx="194.3" cy="379.1" r="0.62"/><circle cx="206.2" cy="379.1" r="0.62"/><circle cx="51.5" cy="384.4" r="0.62"/><circle cx="63.4" cy="384.4" r="0.62"/><circle cx="75.3" cy="384.4" r="0.62"/><circle cx="87.2" cy="384.4" r="0.62"/><circle cx="99.1" cy="384.4" r="0.62"/><circle cx="111.0" cy="384.4" r="0.62"/><circle cx="122.9" cy="384.4" r="0.62"/><circle cx="134.8" cy="384.4" r="0.62"/><circle cx="146.7" cy="384.4" r="0.62"/><circle cx="158.6" cy="384.4" r="0.62"/><circle cx="170.5" cy="384.4" r="0.62"/><circle cx="182.4" cy="384.4" r="0.62"/><circle cx="194.3" cy="384.4" r="0.62"/><circle cx="206.2" cy="384.4" r="0.62"/><circle cx="51.5" cy="389.7" r="0.62"/><circle cx="63.4" cy="389.7" r="0.62"/><circle cx="75.3" cy="389.7" r="0.62"/><circle cx="87.2" cy="389.7" r="0.62"/><circle cx="99.1" cy="389.7" r="0.62"/><circle cx="111.0" cy="389.7" r="0.62"/><circle cx="122.9" cy="389.7" r="0.62"/><circle cx="134.8" cy="389.7" r="0.62"/><circle cx="146.7" cy="389.7" r="0.62"/><circle cx="158.6" cy="389.7" r="0.62"/><circle cx="170.5" cy="389.7" r="0.62"/><circle cx="182.4" cy="389.7" r="0.62"/><circle cx="194.3" cy="389.7" r="0.62"/><circle cx="206.2" cy="389.7" r="0.62"/><circle cx="51.5" cy="395.0" r="0.62"/><circle cx="63.4" cy="395.0" r="0.62"/><circle cx="75.3" cy="395.0" r="0.62"/><circle cx="87.2" cy="395.0" r="0.62"/><circle cx="99.1" cy="395.0" r="0.62"/><circle cx="111.0" cy="395.0" r="0.62"/><circle cx="122.9" cy="395.0" r="0.62"/><circle cx="134.8" cy="395.0" r="0.62"/><circle cx="146.7" cy="395.0" r="0.62"/><circle cx="158.6" cy="395.0" r="0.62"/><circle cx="170.5" cy="395.0" r="0.62"/><circle cx="182.4" cy="395.0" r="0.62"/><circle cx="194.3" cy="395.0" r="0.62"/><circle cx="206.2" cy="395.0" r="0.62"/></g>
<g stroke="#1a1a1a" stroke-width="0.45"><circle cx="51.5" cy="6.8" r="0.90" fill="#d6a6a6"/><circle cx="63.4" cy="6.8" r="0.90" fill="#d6a6a6"/><circle cx="75.3" cy="6.8" r="0.90" fill="#fcf9f9"/><circle cx="87.2" cy="6.8" r="0.90" fill="#ffffff"/><circle cx="111.0" cy="6.8" r="0.90" fill="#d6a6a6"/><circle cx="134.8" cy="6.8" r="0.90" fill="#fcf9f9"/><circle cx="146.7" cy="6.8" r="0.90" fill="#d6a6a6"/><circle cx="158.6" cy="6.8" r="0.90" fill="#fcf9f9"/><circle cx="170.5" cy="6.8" r="0.90" fill="#fcf9f9"/><circle cx="182.4" cy="6.8" r="1.30" fill="#d6a6a6"/><circle cx="218.1" cy="6.8" r="0.90" fill="#d6a6a6"/><circle cx="51.5" cy="12.1" r="1.30" fill="#b45959"/><circle cx="63.4" cy="12.1" r="1.30" fill="#d6a6a6"/><circle cx="75.3" cy="12.1" r="0.90" fill="#8c8cc6"/><circle cx="87.2" cy="12.1" r="1.30" fill="#cccce6"/><circle cx="99.1" cy="12.1" r="0.90" fill="#d6a6a6"/><circle cx="111.0" cy="12.1" r="0.90" fill="#8c8cc6"/><circle cx="122.9" cy="12.1" r="1.30" fill="#ffffff"/><circle cx="146.7" cy="12.1" r="1.30" fill="#ffffff"/><circle cx="158.6" cy="12.1" r="1.30" fill="#ffffff"/><circle cx="170.5" cy="12.1" r="1.30" fill="#ffffff"/><circle cx="182.4" cy="12.1" r="1.30" fill="#d6a6a6"/><circle cx="206.2" cy="12.1" r="1.30" fill="#d6a6a6"/><circle cx="218.1" cy="12.1" r="1.30" fill="#d6a6a6"/><circle cx="51.5" cy="17.4" r="2.50" fill="#d6a6a6"/><circle cx="63.4" cy="17.4" r="2.50" fill="#ffffff"/><circle cx="75.3" cy="17.4" r="2.10" fill="#ffffff"/><circle cx="87.2" cy="17.4" r="1.70" fill="#8c8cc6"/><circle cx="99.1" cy="17.4" r="2.50" fill="#d6a6a6"/><circle cx="111.0" cy="17.4" r="2.10" fill="#cccce6"/><circle cx="122.9" cy="17.4" r="2.50" fill="#d6a6a6"/><circle cx="134.8" cy="17.4" r="2.50" fill="#d6a6a6"/><circle cx="146.7" cy="17.4" r="2.50" fill="#d6a6a6"/><circle cx="158.6" cy="17.4" r="0.90" fill="#1a1a8d"/><circle cx="170.5" cy="17.4" r="2.50" fill="#ffffff"/><circle cx="182.4" cy="17.4" r="2.50" fill="#ffffff"/><circle cx="206.2" cy="17.4" r="2.50" fill="#d6a6a6"/><circle cx="218.1" cy="17.4" r="2.50" fill="#eed9d9"/><circle cx="51.5" cy="22.8" r="0.90" fill="#b45959"/><circle cx="63.4" cy="22.8" r="0.90" fill="#d6a6a6"/><circle cx="75.3" cy="22.8" r="0.90" fill="#d6a6a6"/><circle cx="87.2" cy="22.8" r="0.90" fill="#8c8cc6"/><circle cx="111.0" cy="22.8" r="0.90" fill="#d6a6a6"/><circle cx="134.8" cy="22.8" r="0.90" fill="#8c8cc6"/><circle cx="146.7" cy="22.8" r="0.90" fill="#fcf9f9"/><circle cx="158.6" cy="22.8" r="0.90" fill="#fcf9f9"/><circle cx="170.5" cy="22.8" r="0.90" fill="#fcf9f9"/><circle cx="182.4" cy="22.8" r="1.30" fill="#b45959"/><circle cx="206.2" cy="22.8" r="0.90" fill="#d6a6a6"/><circle cx="218.1" cy="22.8" r="0.90" fill="#d6a6a6"/><circle cx="51.5" cy="28.1" r="1.30" fill="#d6a6a6"/><circle cx="63.4" cy="28.1" r="1.30" fill="#ffffff"/><circle cx="75.3" cy="28.1" r="0.90" fill="#8c8cc6"/><circle cx="87.2" cy="28.1" r="1.30" fill="#8c8cc6"/><circle cx="99.1" cy="28.1" r="1.30" fill="#b45959"/><circle cx="111.0" cy="28.1" r="0.90" fill="#8c8cc6"/><circle cx="122.9" cy="28.1" r="1.30" fill="#ffffff"/><circle cx="134.8" cy="28.1" r="1.30" fill="#ffffff"/><circle cx="146.7" cy="28.1" r="1.30" fill="#8c8cc6"/><circle cx="158.6" cy="28.1" r="1.30" fill="#8c8cc6"/><circle cx="170.5" cy="28.1" r="1.30" fill="#8c8cc6"/><circle cx="182.4" cy="28.1" r="0.90" fill="#fcf9f9"/><circle cx="194.3" cy="28.1" r="1.70" fill="#8c8cc6"/><circle cx="206.2" cy="28.1" r="2.10" fill="#ffffff"/><circle cx="218.1" cy="28.1" r="2.50" fill="#8b0000"/><circle cx="63.4" cy="33.4" r="1.30" fill="#8b0000"/><circle cx="51.5" cy="38.7" r="0.90" fill="#fcf9f9"/><circle cx="63.4" cy="38.7" r="2.90" fill="#8b0000"/><circle cx="75.3" cy="38.7" r="0.90" fill="#fcf9f9"/><circle cx="111.0" cy="38.7" r="0.90" fill="#8c8cc6"/><circle cx="134.8" cy="38.7" r="0.90" fill="#fcf9f9"/><circle cx="146.7" cy="38.7" r="0.90" fill="#fcf9f9"/><circle cx="158.6" cy="38.7" r="2.10" fill="#b45959"/><circle cx="170.5" cy="38.7" r="0.90" fill="#fcf9f9"/><circle cx="182.4" cy="38.7" r="1.30" fill="#b45959"/><circle cx="51.5" cy="44.0" r="1.70" fill="#d6a6a6"/><circle cx="63.4" cy="44.0" r="2.50" fill="#b45959"/><circle cx="75.3" cy="44.0" r="1.30" fill="#ffffff"/><circle cx="99.1" cy="44.0" r="1.30" fill="#ffffff"/><circle cx="111.0" cy="44.0" r="0.90" fill="#8c8cc6"/><circle cx="146.7" cy="44.0" r="1.70" fill="#d6a6a6"/><circle cx="158.6" cy="44.0" r="2.50" fill="#b45959"/><circle cx="170.5" cy="44.0" r="1.30" fill="#d6a6a6"/><circle cx="182.4" cy="44.0" r="1.30" fill="#d6a6a6"/><circle cx="206.2" cy="44.0" r="0.90" fill="#ffffff"/><circle cx="51.5" cy="49.3" r="0.90" fill="#fcf9f9"/><circle cx="63.4" cy="49.3" r="1.30" fill="#b45959"/><circle cx="111.0" cy="49.3" r="0.90" fill="#8c8cc6"/><circle cx="134.8" cy="49.3" r="0.90" fill="#d6a6a6"/><circle cx="158.6" cy="49.3" r="1.70" fill="#8b0000"/><circle cx="170.5" cy="49.3" r="0.90" fill="#fcf9f9"/><circle cx="182.4" cy="49.3" r="0.90" fill="#d6a6a6"/><circle cx="51.5" cy="54.7" r="0.90" fill="#fcf9f9"/><circle cx="63.4" cy="54.7" r="1.70" fill="#b45959"/><circle cx="75.3" cy="54.7" r="0.90" fill="#fcf9f9"/><circle cx="87.2" cy="54.7" r="1.70" fill="#b45959"/><circle cx="99.1" cy="54.7" r="1.30" fill="#fcf9f9"/><circle cx="111.0" cy="54.7" r="0.90" fill="#fcf9f9"/><circle cx="122.9" cy="54.7" r="0.90" fill="#8c8cc6"/><circle cx="134.8" cy="54.7" r="2.10" fill="#b45959"/><circle cx="146.7" cy="54.7" r="0.90" fill="#fcf9f9"/><circle cx="158.6" cy="54.7" r="0.90" fill="#8c8cc6"/><circle cx="170.5" cy="54.7" r="1.70" fill="#b45959"/><circle cx="182.4" cy="54.7" r="0.90" fill="#fcf9f9"/><circle cx="75.3" cy="60.0" r="1.30" fill="#8b0000"/><circle cx="87.2" cy="60.0" r="0.90" fill="#fcf9f9"/><circle cx="158.6" cy="60.0" r="0.90" fill="#d6a6a6"/><circle cx="206.2" cy="60.0" r="1.30" fill="#ffffff"/><circle cx="51.5" cy="65.3" r="2.10" fill="#cccce6"/><circle cx="63.4" cy="65.3" r="2.10" fill="#cccce6"/><circle cx="75.3" cy="65.3" r="2.50" fill="#8b0000"/><circle cx="87.2" cy="65.3" r="2.10" fill="#ffffff"/><circle cx="99.1" cy="65.3" r="2.10" fill="#8c8cc6"/><circle cx="111.0" cy="65.3" r="2.10" fill="#cccce6"/><circle cx="122.9" cy="65.3" r="2.10" fill="#cccce6"/><circle cx="134.8" cy="65.3" r="2.10" fill="#cccce6"/><circle cx="146.7" cy="65.3" r="2.10" fill="#cccce6"/><circle cx="158.6" cy="65.3" r="2.10" fill="#ffffff"/><circle cx="170.5" cy="65.3" r="2.10" fill="#eed9d9"/><circle cx="182.4" cy="65.3" r="2.10" fill="#ffffff"/><circle cx="194.3" cy="65.3" r="2.10" fill="#8c8cc6"/><circle cx="206.2" cy="65.3" r="2.10" fill="#ffffff"/><circle cx="218.1" cy="65.3" r="2.10" fill="#cccce6"/><circle cx="75.3" cy="70.6" r="0.90" fill="#8b0000"/><circle cx="75.3" cy="75.9" r="0.90" fill="#8b0000"/><circle cx="182.4" cy="75.9" r="0.90" fill="#b45959"/><circle cx="194.3" cy="75.9" r="1.30" fill="#ffffff"/><circle cx="206.2" cy="75.9" r="0.90" fill="#fcf9f9"/><circle cx="51.5" cy="81.3" r="2.90" fill="#cccce6"/><circle cx="63.4" cy="81.3" r="2.90" fill="#cccce6"/><circle cx="75.3" cy="81.3" r="2.90" fill="#8b0000"/><circle cx="87.2" cy="81.3" r="2.90" fill="#8c8cc6"/><circle cx="99.1" cy="81.3" r="2.90" fill="#ffffff"/><circle cx="111.0" cy="81.3" r="2.90" fill="#8c8cc6"/><circle cx="122.9" cy="81.3" r="2.90" fill="#cccce6"/><circle cx="134.8" cy="81.3" r="2.90" fill="#cccce6"/><circle cx="146.7" cy="81.3" r="2.90" fill="#cccce6"/><circle cx="158.6" cy="81.3" r="2.90" fill="#ffffff"/><circle cx="170.5" cy="81.3" r="2.90" fill="#8c8cc6"/><circle cx="182.4" cy="81.3" r="2.90" fill="#eed9d9"/><circle cx="194.3" cy="81.3" r="2.90" fill="#d6a6a6"/><circle cx="206.2" cy="81.3" r="2.90" fill="#ffffff"/><circle cx="218.1" cy="81.3" r="2.90" fill="#8c8cc6"/><circle cx="87.2" cy="86.6" r="1.30" fill="#8b0000"/><circle cx="170.5" cy="86.6" r="0.90" fill="#b45959"/><circle cx="87.2" cy="91.9" r="2.10" fill="#8b0000"/><circle cx="111.0" cy="91.9" r="0.90" fill="#fcf9f9"/><circle cx="122.9" cy="91.9" r="0.90" fill="#fcf9f9"/><circle cx="170.5" cy="91.9" r="1.70" fill="#8b0000"/><circle cx="218.1" cy="91.9" r="1.30" fill="#ffffff"/><circle cx="87.2" cy="97.2" r="1.30" fill="#8b0000"/><circle cx="170.5" cy="97.2" r="0.90" fill="#b45959"/><circle cx="87.2" cy="102.5" r="0.90" fill="#b45959"/><circle cx="194.3" cy="102.5" r="2.50" fill="#8b0000"/><circle cx="87.2" cy="107.8" r="1.30" fill="#b45959"/><circle cx="134.8" cy="107.8" r="1.30" fill="#8b0000"/><circle cx="170.5" cy="107.8" r="0.90" fill="#b45959"/><circle cx="218.1" cy="107.8" r="1.30" fill="#8b0000"/><circle cx="51.5" cy="113.2" r="1.30" fill="#ffffff"/><circle cx="63.4" cy="113.2" r="1.30" fill="#ffffff"/><circle cx="75.3" cy="113.2" r="0.90" fill="#ffffff"/><circle cx="87.2" cy="113.2" r="1.70" fill="#eed9d9"/><circle cx="99.1" cy="113.2" r="2.90" fill="#8b0000"/><circle cx="111.0" cy="113.2" r="0.90" fill="#8c8cc6"/><circle cx="122.9" cy="113.2" r="1.70" fill="#d6a6a6"/><circle cx="134.8" cy="113.2" r="2.10" fill="#b45959"/><circle cx="146.7" cy="113.2" r="1.30" fill="#ffffff"/><circle cx="158.6" cy="113.2" r="1.30" fill="#8c8cc6"/><circle cx="170.5" cy="113.2" r="1.30" fill="#ffffff"/><circle cx="182.4" cy="113.2" r="1.30" fill="#d6a6a6"/><circle cx="206.2" cy="113.2" r="1.30" fill="#8c8cc6"/><circle cx="218.1" cy="113.2" r="1.70" fill="#ffffff"/><circle cx="51.5" cy="118.5" r="2.10" fill="#cccce6"/><circle cx="63.4" cy="118.5" r="2.10" fill="#cccce6"/><circle cx="75.3" cy="118.5" r="1.70" fill="#cccce6"/><circle cx="87.2" cy="118.5" r="2.50" fill="#d6a6a6"/><circle cx="99.1" cy="118.5" r="2.90" fill="#b45959"/><circle cx="111.0" cy="118.5" r="2.50" fill="#eed9d9"/><circle cx="122.9" cy="118.5" r="2.10" fill="#ffffff"/><circle cx="134.8" cy="118.5" r="2.50" fill="#b45959"/><circle cx="146.7" cy="118.5" r="2.10" fill="#ffffff"/><circle cx="158.6" cy="118.5" r="2.10" fill="#cccce6"/><circle cx="170.5" cy="118.5" r="2.10" fill="#d6a6a6"/><circle cx="182.4" cy="118.5" r="2.10" fill="#ffffff"/><circle cx="194.3" cy="118.5" r="0.90" fill="#1a1a8d"/><circle cx="206.2" cy="118.5" r="1.70" fill="#8c8cc6"/><circle cx="218.1" cy="118.5" r="2.50" fill="#d6a6a6"/><circle cx="51.5" cy="123.8" r="1.70" fill="#ffffff"/><circle cx="63.4" cy="123.8" r="1.30" fill="#ffffff"/><circle cx="75.3" cy="123.8" r="1.30" fill="#ffffff"/><circle cx="87.2" cy="123.8" r="1.30" fill="#8c8cc6"/><circle cx="99.1" cy="123.8" r="2.90" fill="#b45959"/><circle cx="111.0" cy="123.8" r="2.10" fill="#ffffff"/><circle cx="122.9" cy="123.8" r="1.30" fill="#ffffff"/><circle cx="134.8" cy="123.8" r="1.70" fill="#d6a6a6"/><circle cx="146.7" cy="123.8" r="1.70" fill="#ffffff"/><circle cx="158.6" cy="123.8" r="1.30" fill="#cccce6"/><circle cx="170.5" cy="123.8" r="1.30" fill="#cccce6"/><circle cx="182.4" cy="123.8" r="1.70" fill="#d6a6a6"/><circle cx="206.2" cy="123.8" r="1.30" fill="#8c8cc6"/><circle cx="218.1" cy="123.8" r="2.50" fill="#b45959"/><circle cx="51.5" cy="129.1" r="0.90" fill="#8c8cc6"/><circle cx="63.4" cy="129.1" r="0.90" fill="#8c8cc6"/><circle cx="75.3" cy="129.1" r="0.90" fill="#fcf9f9"/><circle cx="87.2" cy="129.1" r="1.30" fill="#ffffff"/><circle cx="99.1" cy="129.1" r="2.50" fill="#8b0000"/><circle cx="111.0" cy="129.1" r="0.90" fill="#8c8cc6"/><circle cx="122.9" cy="129.1" r="0.90" fill="#8c8cc6"/><circle cx="134.8" cy="129.1" r="1.30" fill="#b45959"/><circle cx="146.7" cy="129.1" r="0.90" fill="#8c8cc6"/><circle cx="158.6" cy="129.1" r="1.30" fill="#8c8cc6"/><circle cx="170.5" cy="129.1" r="0.90" fill="#ffffff"/><circle cx="182.4" cy="129.1" r="1.30" fill="#ffffff"/><circle cx="206.2" cy="129.1" r="0.90" fill="#1a1a8d"/><circle cx="218.1" cy="129.1" r="1.30" fill="#d6a6a6"/><circle cx="51.5" cy="134.4" r="1.30" fill="#ffffff"/><circle cx="63.4" cy="134.4" r="0.90" fill="#fcf9f9"/><circle cx="75.3" cy="134.4" r="0.90" fill="#fcf9f9"/><circle cx="87.2" cy="134.4" r="1.30" fill="#ffffff"/><circle cx="99.1" cy="134.4" r="2.50" fill="#8b0000"/><circle cx="111.0" cy="134.4" r="1.30" fill="#ffffff"/><circle cx="122.9" cy="134.4" r="1.30" fill="#eed9d9"/><circle cx="134.8" cy="134.4" r="1.30" fill="#b45959"/><circle cx="146.7" cy="134.4" r="0.90" fill="#fcf9f9"/><circle cx="158.6" cy="134.4" r="0.90" fill="#8c8cc6"/><circle cx="170.5" cy="134.4" r="0.90" fill="#ffffff"/><circle cx="182.4" cy="134.4" r="1.30" fill="#d6a6a6"/><circle cx="206.2" cy="134.4" r="0.90" fill="#1a1a8d"/><circle cx="218.1" cy="134.4" r="0.90" fill="#8c8cc6"/><circle cx="87.2" cy="139.8" r="0.90" fill="#b45959"/><circle cx="111.0" cy="139.8" r="1.70" fill="#8b0000"/><circle cx="218.1" cy="139.8" r="1.30" fill="#8b0000"/><circle cx="111.0" cy="145.1" r="2.10" fill="#8b0000"/><circle cx="51.5" cy="150.4" r="0.90" fill="#cccce6"/><circle cx="63.4" cy="150.4" r="0.90" fill="#d6a6a6"/><circle cx="75.3" cy="150.4" r="0.90" fill="#fcf9f9"/><circle cx="99.1" cy="150.4" r="0.90" fill="#fcf9f9"/><circle cx="111.0" cy="150.4" r="2.90" fill="#8b0000"/><circle cx="146.7" cy="150.4" r="0.90" fill="#fcf9f9"/><circle cx="158.6" cy="150.4" r="1.30" fill="#eed9d9"/><circle cx="182.4" cy="150.4" r="0.90" fill="#d6a6a6"/><circle cx="206.2" cy="150.4" r="0.90" fill="#8c8cc6"/><circle cx="218.1" cy="150.4" r="1.30" fill="#d6a6a6"/><circle cx="111.0" cy="155.7" r="1.30" fill="#8b0000"/><circle cx="158.6" cy="155.7" r="0.90" fill="#b45959"/><circle cx="111.0" cy="161.0" r="1.70" fill="#8b0000"/><circle cx="206.2" cy="161.0" r="0.90" fill="#fcf9f9"/><circle cx="122.9" cy="166.3" r="1.70" fill="#8b0000"/><circle cx="122.9" cy="171.7" r="1.30" fill="#8b0000"/><circle cx="218.1" cy="171.7" r="0.90" fill="#b45959"/><circle cx="122.9" cy="177.0" r="1.30" fill="#b45959"/><circle cx="218.1" cy="177.0" r="1.70" fill="#8b0000"/><circle cx="122.9" cy="182.3" r="2.50" fill="#b45959"/><circle cx="218.1" cy="182.3" r="2.10" fill="#8b0000"/><circle cx="122.9" cy="187.6" r="0.90" fill="#8b0000"/><circle cx="218.1" cy="187.6" r="0.90" fill="#8b0000"/><circle cx="134.8" cy="192.9" r="2.10" fill="#8b0000"/><circle cx="134.8" cy="198.2" r="1.30" fill="#8b0000"/><circle cx="87.2" cy="203.6" r="0.90" fill="#d6a6a6"/><circle cx="134.8" cy="203.6" r="1.70" fill="#8b0000"/><circle cx="134.8" cy="208.9" r="0.90" fill="#8b0000"/><circle cx="134.8" cy="214.2" r="1.70" fill="#8b0000"/><circle cx="218.1" cy="214.2" r="0.90" fill="#d6a6a6"/><circle cx="146.7" cy="219.5" r="2.90" fill="#8b0000"/><circle cx="51.5" cy="224.8" r="0.90" fill="#d6a6a6"/><circle cx="63.4" cy="224.8" r="0.90" fill="#b45959"/><circle cx="75.3" cy="224.8" r="0.90" fill="#fcf9f9"/><circle cx="99.1" cy="224.8" r="0.90" fill="#d6a6a6"/><circle cx="122.9" cy="224.8" r="0.90" fill="#fcf9f9"/><circle cx="134.8" cy="224.8" r="0.90" fill="#b45959"/><circle cx="146.7" cy="224.8" r="0.90" fill="#b45959"/><circle cx="158.6" cy="224.8" r="0.90" fill="#d6a6a6"/><circle cx="182.4" cy="224.8" r="0.90" fill="#fcf9f9"/><circle cx="51.5" cy="230.2" r="0.90" fill="#fcf9f9"/><circle cx="63.4" cy="230.2" r="0.90" fill="#fcf9f9"/><circle cx="75.3" cy="230.2" r="0.90" fill="#fcf9f9"/><circle cx="87.2" cy="230.2" r="1.30" fill="#8c8cc6"/><circle cx="99.1" cy="230.2" r="0.90" fill="#fcf9f9"/><circle cx="111.0" cy="230.2" r="1.30" fill="#8b0000"/><circle cx="122.9" cy="230.2" r="1.30" fill="#b45959"/><circle cx="146.7" cy="230.2" r="0.90" fill="#b45959"/><circle cx="170.5" cy="230.2" r="0.90" fill="#ffffff"/><circle cx="182.4" cy="230.2" r="0.90" fill="#fcf9f9"/><circle cx="194.3" cy="230.2" r="1.30" fill="#cccce6"/><circle cx="206.2" cy="230.2" r="1.30" fill="#8c8cc6"/><circle cx="218.1" cy="230.2" r="0.90" fill="#8c8cc6"/><circle cx="51.5" cy="235.5" r="1.70" fill="#d6a6a6"/><circle cx="63.4" cy="235.5" r="2.10" fill="#b45959"/><circle cx="75.3" cy="235.5" r="1.30" fill="#ffffff"/><circle cx="99.1" cy="235.5" r="1.70" fill="#ffffff"/><circle cx="122.9" cy="235.5" r="0.90" fill="#8c8cc6"/><circle cx="134.8" cy="235.5" r="0.90" fill="#8c8cc6"/><circle cx="146.7" cy="235.5" r="1.70" fill="#eed9d9"/><circle cx="158.6" cy="235.5" r="2.10" fill="#b45959"/><circle cx="170.5" cy="235.5" r="1.30" fill="#ffffff"/><circle cx="182.4" cy="235.5" r="1.70" fill="#d6a6a6"/><circle cx="206.2" cy="235.5" r="0.90" fill="#8c8cc6"/><circle cx="51.5" cy="240.8" r="0.90" fill="#fcf9f9"/><circle cx="63.4" cy="240.8" r="0.90" fill="#b45959"/><circle cx="99.1" cy="240.8" r="0.90" fill="#fcf9f9"/><circle cx="122.9" cy="240.8" r="0.90" fill="#fcf9f9"/><circle cx="134.8" cy="240.8" r="0.90" fill="#fcf9f9"/><circle cx="146.7" cy="240.8" r="0.90" fill="#b45959"/><circle cx="158.6" cy="240.8" r="1.30" fill="#b45959"/><circle cx="206.2" cy="240.8" r="0.90" fill="#8c8cc6"/><circle cx="218.1" cy="240.8" r="0.90" fill="#ffffff"/><circle cx="158.6" cy="246.1" r="1.30" fill="#8b0000"/><circle cx="158.6" cy="251.4" r="1.30" fill="#8b0000"/><circle cx="218.1" cy="251.4" r="0.90" fill="#b45959"/><circle cx="158.6" cy="256.7" r="1.70" fill="#8b0000"/><circle cx="182.4" cy="256.7" r="0.90" fill="#b45959"/><circle cx="158.6" cy="262.1" r="0.90" fill="#8b0000"/><circle cx="158.6" cy="267.4" r="0.90" fill="#8b0000"/><circle cx="170.5" cy="272.7" r="2.90" fill="#8b0000"/><circle cx="51.5" cy="278.0" r="0.90" fill="#fcf9f9"/><circle cx="63.4" cy="278.0" r="1.30" fill="#d6a6a6"/><circle cx="75.3" cy="278.0" r="0.90" fill="#fcf9f9"/><circle cx="87.2" cy="278.0" r="1.70" fill="#d6a6a6"/><circle cx="99.1" cy="278.0" r="0.90" fill="#d6a6a6"/><circle cx="134.8" cy="278.0" r="1.70" fill="#d6a6a6"/><circle cx="146.7" cy="278.0" r="1.30" fill="#ffffff"/><circle cx="170.5" cy="278.0" r="1.70" fill="#b45959"/><circle cx="182.4" cy="278.0" r="0.90" fill="#fcf9f9"/><circle cx="206.2" cy="278.0" r="0.90" fill="#8c8cc6"/><circle cx="218.1" cy="278.0" r="1.30" fill="#ffffff"/><circle cx="87.2" cy="283.3" r="1.70" fill="#8b0000"/><circle cx="111.0" cy="283.3" r="1.30" fill="#8b0000"/><circle cx="170.5" cy="283.3" r="1.30" fill="#8b0000"/><circle cx="51.5" cy="288.7" r="0.90" fill="#fcf9f9"/><circle cx="63.4" cy="288.7" r="0.90" fill="#b45959"/><circle cx="87.2" cy="288.7" r="1.30" fill="#b45959"/><circle cx="99.1" cy="288.7" r="0.90" fill="#b45959"/><circle cx="122.9" cy="288.7" r="0.90" fill="#d6a6a6"/><circle cx="134.8" cy="288.7" r="1.30" fill="#d6a6a6"/><circle cx="146.7" cy="288.7" r="0.90" fill="#8c8cc6"/><circle cx="170.5" cy="288.7" r="1.30" fill="#b45959"/><circle cx="218.1" cy="288.7" r="1.30" fill="#ffffff"/><circle cx="182.4" cy="294.0" r="1.70" fill="#8b0000"/><circle cx="182.4" cy="299.3" r="1.30" fill="#8b0000"/><circle cx="182.4" cy="304.6" r="1.30" fill="#8b0000"/><circle cx="182.4" cy="309.9" r="1.70" fill="#8b0000"/><circle cx="194.3" cy="309.9" r="0.90" fill="#d6a6a6"/><circle cx="182.4" cy="315.2" r="1.30" fill="#8b0000"/><circle cx="194.3" cy="320.6" r="1.30" fill="#8b0000"/><circle cx="194.3" cy="325.9" r="0.90" fill="#8b0000"/><circle cx="194.3" cy="331.2" r="2.50" fill="#8b0000"/><circle cx="194.3" cy="336.5" r="1.30" fill="#8b0000"/><circle cx="194.3" cy="341.8" r="1.30" fill="#8b0000"/><circle cx="206.2" cy="347.2" r="1.30" fill="#8b0000"/><circle cx="206.2" cy="352.5" r="1.70" fill="#8b0000"/><circle cx="206.2" cy="357.8" r="0.90" fill="#8b0000"/><circle cx="206.2" cy="363.1" r="1.70" fill="#8b0000"/><circle cx="206.2" cy="368.4" r="0.90" fill="#8b0000"/><circle cx="218.1" cy="373.7" r="0.90" fill="#8b0000"/><circle cx="218.1" cy="379.1" r="1.30" fill="#8b0000"/><circle cx="218.1" cy="384.4" r="1.30" fill="#8b0000"/><circle cx="218.1" cy="389.7" r="1.70" fill="#8b0000"/><circle cx="218.1" cy="395.0" r="0.90" fill="#8b0000"/></g>
<g font-size="5.45" text-anchor="end" fill="#000" stroke="#000" stroke-width="0.07"><text transform="translate(55.80 402.3) rotate(-90)">Th1</text><text transform="translate(67.70 402.3) rotate(-90)">Cytotoxic CD4</text><text transform="translate(79.60 402.3) rotate(-90)">Quiescent memory</text><text transform="translate(91.50 402.3) rotate(-90)">Tfh.1</text><text transform="translate(103.40 402.3) rotate(-90)">Acutely Activated</text><text transform="translate(115.30 402.3) rotate(-90)">Naive</text><text transform="translate(127.20 402.3) rotate(-90)">Th17</text><text transform="translate(139.10 402.3) rotate(-90)">Treg</text><text transform="translate(151.00 402.3) rotate(-90)">Early activated</text><text transform="translate(162.90 402.3) rotate(-90)">NKT</text><text transform="translate(174.80 402.3) rotate(-90)">Tfh.2</text><text transform="translate(186.70 402.3) rotate(-90)">IFN response</text><text transform="translate(198.60 402.3) rotate(-90)">Ciliated cells</text><text transform="translate(210.50 402.3) rotate(-90)">Mesenchymal Progenitor Cell</text><text transform="translate(222.40 402.3) rotate(-90)">Club cells</text></g>
<g font-size="9.7" text-anchor="middle" fill="#000"><text transform="translate(16.2 458.7) rotate(-90)">Percent</text><text transform="translate(23.6 458.9) rotate(-90)">Expressed</text></g>
<g font-size="6.6" fill="#111" stroke="#111" stroke-width="0.09"><circle cx="31.1" cy="444.0" r="0.45" fill="#000"/><text x="39.6" y="446.2">0</text><circle cx="31.1" cy="452.7" r="1.10" fill="#000"/><text x="39.6" y="454.9">25</text><circle cx="31.1" cy="461.3" r="1.80" fill="#000"/><text x="39.6" y="463.5">50</text><circle cx="31.1" cy="469.4" r="2.30" fill="#000"/><text x="39.6" y="471.6">75</text><circle cx="31.1" cy="478.0" r="2.90" fill="#000"/><text x="39.6" y="480.2">100</text></g>
<g font-size="9.7" text-anchor="middle" fill="#000"><text transform="translate(115.6 457.4) rotate(-90)">Average</text><text transform="translate(123.8 457.6) rotate(-90)">Expression</text></g>
<defs><linearGradient id="cb" x1="0" y1="0" x2="0" y2="1"><stop offset="0" stop-color="#8b0000"/><stop offset="0.5" stop-color="#ffffff"/><stop offset="1" stop-color="#000080"/></linearGradient></defs>
<rect x="127.1" y="437.5" width="8.4" height="42.3" fill="url(#cb)"/>
<g font-size="6.6" fill="#111" stroke="#111" stroke-width="0.09"><text x="139.2" y="444.5">2</text><path d="M127.1 442.3h1.6M133.9 442.3h1.6" stroke="#fff" stroke-width="0.4"/><text x="139.2" y="452.8">1</text><path d="M127.1 450.6h1.6M133.9 450.6h1.6" stroke="#fff" stroke-width="0.4"/><text x="139.2" y="461.2">0</text><path d="M127.1 459.0h1.6M133.9 459.0h1.6" stroke="#fff" stroke-width="0.4"/><text x="139.2" y="469.9">−1</text><path d="M127.1 467.7h1.6M133.9 467.7h1.6" stroke="#fff" stroke-width="0.4"/><text x="139.2" y="477.9">−2</text><path d="M127.1 475.7h1.6M133.9 475.7h1.6" stroke="#fff" stroke-width="0.4"/></g>
<text x="235.8" y="19" font-size="26.6" fill="#000">B</text>
<g stroke="#1a1a1a" stroke-width="0.65"><rect x="286.7" y="12.30" width="56.3" height="59.20" fill="#f3d54a"/><rect x="286.7" y="71.50" width="56.3" height="18.20" fill="#4475b5"/><rect x="286.7" y="89.70" width="56.3" height="21.60" fill="#639f3b"/><rect x="286.7" y="111.30" width="56.3" height="14.20" fill="#623d9c"/><rect x="286.7" y="125.50" width="56.3" height="10.60" fill="#9a9a9a"/><rect x="286.7" y="136.10" width="56.3" height="10.10" fill="#b5d3ea"/><rect x="286.7" y="146.20" width="56.3" height="4.90" fill="#eb8424"/><rect x="286.7" y="151.10" width="56.3" height="5.90" fill="#9c5a2e"/><rect x="286.7" y="157.00" width="56.3" height="8.00" fill="#c7e39c"/><rect x="286.7" y="165.00" width="56.3" height="6.75" fill="#cdb9dd"/><rect x="286.7" y="171.75" width="56.3" height="5.25" fill="#eea5a5"/><rect x="286.7" y="177.00" width="56.3" height="2.70" fill="#c92127"/><rect x="349.3" y="12.30" width="56.3" height="54.90" fill="#f3d54a"/><rect x="349.3" y="67.20" width="56.3" height="14.70" fill="#4475b5"/><rect x="349.3" y="81.90" width="56.3" height="26.60" fill="#639f3b"/><rect x="349.3" y="108.50" width="56.3" height="4.90" fill="#623d9c"/><rect x="349.3" y="113.40" width="56.3" height="6.00" fill="#9a9a9a"/><rect x="349.3" y="119.40" width="56.3" height="2.60" fill="#b5d3ea"/><rect x="349.3" y="122.00" width="56.3" height="24.00" fill="#eb8424"/><rect x="349.3" y="146.00" width="56.3" height="9.50" fill="#9c5a2e"/><rect x="349.3" y="155.50" width="56.3" height="2.90" fill="#c7e39c"/><rect x="349.3" y="158.40" width="56.3" height="5.40" fill="#cdb9dd"/><rect x="349.3" y="163.80" width="56.3" height="1.50" fill="#eea5a5"/><rect x="349.3" y="165.30" width="56.3" height="5.20" fill="#c92127"/><rect x="349.3" y="170.50" width="56.3" height="5.90" fill="#5ec7d0"/><rect x="349.3" y="176.40" width="56.3" height="3.00" fill="#df1f8b"/><rect x="349.3" y="179.40" width="56.3" height="0.30" fill="#a9d9cb"/></g>
<path d="M277.3 4.6V187.6H414" stroke="#8a8a8a" stroke-width="0.9" fill="none"/>
<path d="M274.8 12.3H277.3M274.8 54.1H277.3M274.8 95.9H277.3M274.8 137.8H277.3M274.8 179.7H277.3M314.9 187.6V190.1M377.5 187.6V190.1" stroke="#8a8a8a" stroke-width="0.7"/>
<g font-size="8.2" fill="#4d4d4d" text-anchor="end"><text x="273.6" y="15.2">1.00</text><text x="273.6" y="57.0">0.75</text><text x="273.6" y="98.8">0.50</text><text x="273.6" y="140.7">0.25</text><text x="273.6" y="182.6">0.00</text></g>
<g font-size="8.2" fill="#4d4d4d" text-anchor="middle"><text x="314.9" y="197.3">lung</text><text x="377.5" y="197.3">NT</text></g>
<text transform="translate(254.6 97.2) rotate(-90)" font-size="12.3" text-anchor="middle" fill="#000">Proportion of Cells</text>
<text x="415.8" y="31.2" font-size="11.4" fill="#000">Celltype</text>
<g stroke="#333" stroke-width="0.5"><rect x="416" y="35.30" width="7.6" height="8.0" fill="#f3d54a"/><rect x="416" y="43.52" width="7.6" height="8.0" fill="#4475b5"/><rect x="416" y="51.74" width="7.6" height="8.0" fill="#639f3b"/><rect x="416" y="59.96" width="7.6" height="8.0" fill="#623d9c"/><rect x="416" y="68.18" width="7.6" height="8.0" fill="#9a9a9a"/><rect x="416" y="76.40" width="7.6" height="8.0" fill="#b5d3ea"/><rect x="416" y="84.62" width="7.6" height="8.0" fill="#eb8424"/><rect x="416" y="92.84" width="7.6" height="8.0" fill="#9c5a2e"/><rect x="416" y="101.06" width="7.6" height="8.0" fill="#c7e39c"/><rect x="416" y="109.28" width="7.6" height="8.0" fill="#cdb9dd"/><rect x="416" y="117.50" width="7.6" height="8.0" fill="#eea5a5"/><rect x="416" y="125.72" width="7.6" height="8.0" fill="#c92127"/><rect x="416" y="133.94" width="7.6" height="8.0" fill="#5ec7d0"/><rect x="416" y="142.16" width="7.6" height="8.0" fill="#df1f8b"/><rect x="416" y="150.38" width="7.6" height="8.0" fill="#a9d9cb"/></g>
<g font-size="6.7" fill="#111" stroke="#111" stroke-width="0.09"><text x="427" y="41.70">Th1</text><text x="427" y="49.92">Cytotoxic CD4</text><text x="427" y="58.14">Quiescent memory</text><text x="427" y="66.36">Tfh.1</text><text x="427" y="74.58">Acutely Activated</text><text x="427" y="82.80">Naive</text><text x="427" y="91.02">Th17</text><text x="427" y="99.24">Treg</text><text x="427" y="107.46">Early activated</text><text x="427" y="115.68">NKT</text><text x="427" y="123.90">Tfh.2</text><text x="427" y="132.12">IFN response</text><text x="427" y="140.34">Ciliated cells</text><text x="427" y="148.56">Mesenchymal Progenitor Cell</text><text x="427" y="156.78">Club cells</text></g>
<text x="245.6" y="225.7" font-size="26.6" fill="#000">C</text>
<g font-size="8.5" text-anchor="middle" fill="#000"><text x="304" y="217.5">Lung</text><text x="385.4" y="217.5">NT</text></g>
<g><path d="M293.0 229.0h0M292.2 228.9h0M293.9 227.1h0M307.1 229.8h0M308.9 227.9h0M300.1 228.8h0M302.1 229.9h0M290.2 229.4h0M291.0 228.7h0M310.1 228.0h0M297.6 229.9h0M300.6 226.6h0M308.9 228.0h0M306.0 227.6h0M306.8 229.2h0M305.5 229.2h0M303.4 229.6h0M300.2 227.4h0M303.3 231.1h0M304.5 230.0h0M308.0 229.0h0M301.7 229.7h0M307.7 230.4h0M300.3 227.3h0M306.1 230.2h0M295.6 229.7h0M291.4 227.7h0M307.2 227.6h0M299.4 227.0h0M305.1 227.3h0M309.2 229.8h0M298.8 230.8h0M303.8 230.7h0M290.6 227.5h0M304.0 228.1h0M297.5 229.2h0M295.5 228.8h0M307.4 227.8h0M302.1 229.1h0M297.5 226.2h0M290.1 230.2h0M306.1 228.6h0M299.3 225.6h0M295.6 229.9h0M292.4 229.4h0M294.5 227.2h0M307.8 229.6h0M298.7 226.5h0M291.9 229.8h0M306.8 229.0h0M296.3 226.3h0M299.3 229.4h0M301.5 229.3h0M290.4 230.0h0M302.1 229.4h0M303.7 227.3h0M304.8 229.3h0M297.2 226.4h0M294.7 229.4h0M294.2 228.0h0M306.4 228.4h0M300.8 227.7h0M296.7 230.8h0M298.3 228.5h0M300.5 228.7h0M294.6 226.1h0M297.4 227.6h0M306.4 228.5h0M298.5 229.7h0M292.2 227.6h0M302.9 227.9h0M303.3 229.3h0M295.0 229.5h0M305.8 227.8h0M297.4 225.8h0M303.4 230.9h0M290.4 228.9h0M303.8 227.6h0M291.1 227.9h0M300.6 227.8h0M295.3 230.8h0M291.6 227.9h0M306.5 227.9h0M300.7 231.1h0M295.4 226.7h0M298.0 229.4h0M302.7 230.8h0M294.9 228.0h0M299.0 228.2h0M291.7 229.8h0M298.1 227.9h0M308.8 228.4h0M304.7 229.0h0M294.3 229.3h0M302.8 228.1h0M301.0 229.4h0M295.5 230.6h0M304.7 230.2h0M292.7 228.6h0M295.9 229.0h0M295.4 226.7h0M302.5 226.9h0M303.7 228.6h0M301.8 231.0h0M300.2 231.0h0M302.9 226.9h0M293.2 229.9h0M296.0 226.3h0M290.0 228.5h0M300.7 229.3h0M292.5 227.9h0M302.4 228.6h0M303.7 228.6h0M290.8 229.5h0M293.0 228.4h0M297.1 226.7h0M299.3 227.2h0M299.2 228.1h0M296.6 226.0h0M294.9 227.4h0M299.1 230.4h0M303.1 226.6h0M296.7 226.1h0M298.8 228.3h0M305.0 228.3h0M300.4 230.8h0M295.0 226.9h0M307.3 228.0h0M300.4 228.1h0M299.7 230.3h0M297.4 230.0h0M293.6 227.9h0" stroke="#ce741f" stroke-width="1.10" stroke-linecap="round" fill="none"/><path d="M287.2 234.8h0M281.5 233.6h0M285.4 237.4h0M283.1 234.3h0M279.6 234.8h0M281.3 233.5h0M283.3 235.5h0M284.6 238.0h0M284.8 234.2h0M286.7 236.6h0M284.2 234.6h0M284.0 232.6h0M281.7 234.0h0M283.4 235.7h0M279.4 236.1h0M280.9 233.4h0M287.8 234.7h0M286.9 236.6h0M281.6 235.9h0M280.3 233.3h0M284.5 238.0h0M284.4 235.6h0M282.1 234.2h0M285.8 236.3h0M281.3 237.0h0M283.5 232.0h0M284.8 232.2h0M281.5 235.4h0M280.5 232.7h0M282.8 231.9h0M287.1 236.9h0M280.3 233.8h0M283.8 234.6h0M285.5 235.3h0M282.4 236.8h0M282.2 235.4h0M287.8 233.2h0M284.0 233.6h0M287.4 234.1h0M281.1 236.8h0M284.8 236.9h0M285.6 233.4h0M285.9 233.8h0M280.9 234.2h0M282.8 234.0h0M284.4 234.6h0M287.2 236.9h0M282.2 234.3h0M279.0 234.8h0M286.4 234.5h0M283.2 232.0h0M285.8 232.0h0M286.4 232.1h0M279.8 234.2h0M281.8 234.4h0M282.2 236.4h0M282.7 238.4h0M286.2 236.6h0M285.1 235.4h0M285.0 235.5h0M283.4 237.7h0M284.8 237.2h0M282.4 236.9h0M283.6 238.0h0M278.7 234.1h0M287.8 235.6h0M279.9 235.8h0M282.8 233.6h0M280.4 236.7h0M284.2 236.4h0M284.4 232.3h0M283.7 238.0h0M288.2 234.4h0M285.4 235.7h0M281.0 235.1h0M285.1 233.1h0M284.8 234.2h0M280.8 235.0h0M282.9 236.9h0M279.0 236.1h0M284.2 236.6h0M285.8 232.6h0M282.2 233.2h0M288.1 235.0h0M281.0 234.1h0M281.9 237.3h0M283.3 236.2h0M286.6 233.8h0M284.2 234.2h0M282.0 232.8h0M285.6 232.9h0M284.1 236.1h0M285.2 233.9h0M283.4 232.2h0M282.2 235.6h0M287.0 234.2h0M285.6 235.7h0M284.6 236.3h0M285.6 233.2h0" stroke="#afc789" stroke-width="1.10" stroke-linecap="round" fill="none"/><path d="M298.8 235.5h0M299.4 238.6h0M294.1 234.6h0M293.2 235.6h0M289.2 236.1h0M293.1 238.9h0M298.6 238.7h0M293.2 235.2h0M298.0 234.8h0M293.5 240.0h0M296.2 235.2h0M299.3 236.7h0M292.4 234.4h0M291.1 238.1h0M296.9 238.9h0M291.9 235.9h0M291.2 235.6h0M294.5 235.3h0M289.9 236.5h0M293.4 233.8h0M297.9 234.2h0M288.2 235.2h0M288.9 237.9h0M293.9 233.0h0M294.9 234.6h0M297.7 238.0h0M300.1 237.3h0M293.5 238.5h0M300.2 234.1h0M289.6 238.5h0M289.8 235.7h0M298.7 238.1h0M295.0 238.4h0M299.5 235.0h0M295.0 236.3h0M294.8 238.2h0M291.5 237.6h0M297.8 235.3h0M293.6 235.8h0M297.1 239.7h0M297.1 236.5h0M300.2 234.5h0M292.5 233.6h0M295.6 238.0h0M295.9 237.3h0M291.6 238.0h0M296.3 238.0h0M295.5 239.6h0M290.1 237.3h0M292.0 236.2h0M298.2 237.1h0M294.6 239.6h0M295.3 236.6h0M289.6 238.5h0M289.2 236.1h0M294.9 234.2h0M293.3 234.3h0M295.2 235.0h0M289.5 236.8h0M295.6 239.2h0M292.9 236.1h0M289.3 235.4h0M299.3 236.9h0M295.7 239.7h0M290.4 235.2h0M297.9 238.0h0M291.3 235.4h0M300.6 238.3h0M298.6 238.1h0M298.9 237.5h0M295.4 236.4h0M296.7 236.6h0M298.6 236.7h0M291.8 237.7h0M301.9 236.5h0M295.0 238.0h0M288.1 237.5h0M301.0 236.3h0M293.5 236.4h0M299.0 234.4h0M289.2 238.8h0M296.2 238.8h0M296.8 238.2h0M294.2 238.5h0M296.9 235.5h0M293.5 234.8h0M295.4 238.6h0M294.0 235.1h0M299.0 235.1h0M295.6 236.6h0M300.2 238.6h0M293.0 236.6h0M297.5 236.8h0M292.9 238.4h0M293.9 234.3h0M296.7 238.3h0M291.7 237.4h0M294.0 238.4h0M299.5 236.6h0M298.1 235.4h0M295.5 238.2h0M297.1 235.2h0M291.6 237.5h0M292.6 238.7h0M291.5 238.3h0M294.8 237.8h0M297.9 238.0h0M294.2 236.3h0M299.8 237.4h0M290.7 235.6h0M299.7 236.5h0M294.8 239.5h0M289.4 234.8h0M300.2 235.1h0M291.0 238.3h0M298.3 235.1h0M298.1 238.6h0M297.8 236.6h0M294.3 235.1h0M291.4 237.5h0M288.7 235.5h0M298.3 236.8h0M292.4 238.4h0M301.6 236.3h0M289.4 236.9h0M295.0 234.5h0M293.4 237.7h0M297.4 237.2h0M298.7 237.4h0M298.5 238.9h0M295.1 238.4h0M294.1 234.6h0" stroke="#878787" stroke-width="1.10" stroke-linecap="round" fill="none"/><path d="M300.4 247.8h0M297.7 239.2h0M310.6 235.6h0M302.2 238.5h0M295.3 237.7h0M301.6 236.6h0M316.8 238.8h0M306.6 243.8h0M309.1 242.0h0M296.6 240.7h0M308.3 235.0h0M297.8 236.9h0M302.1 235.9h0M307.2 244.4h0M300.8 242.3h0M300.5 240.5h0M305.9 248.1h0M308.3 242.5h0M307.5 243.9h0M307.7 249.6h0M308.4 237.2h0M299.5 237.3h0M311.8 235.9h0M304.6 238.5h0M306.8 244.1h0M302.2 247.7h0M305.1 241.6h0M306.8 235.4h0M310.2 235.4h0M312.1 240.1h0M306.2 241.2h0M298.8 244.7h0M298.4 247.4h0M311.1 239.5h0M304.7 237.6h0M303.1 238.9h0M301.1 246.5h0M298.0 244.5h0M307.7 250.3h0M312.9 247.8h0M306.4 247.1h0M304.1 248.8h0M308.3 246.6h0M299.9 237.9h0M297.1 236.2h0M296.8 242.3h0M301.7 236.3h0M300.1 244.4h0M302.4 241.5h0M297.6 238.3h0M293.2 243.3h0M303.0 234.0h0M312.9 248.1h0M311.2 235.9h0M307.8 236.2h0M311.9 237.5h0M296.8 243.6h0M303.9 248.9h0M307.0 236.9h0M310.2 235.8h0M306.2 239.0h0M312.6 242.6h0M307.9 244.9h0M298.2 237.1h0M308.2 248.0h0M308.1 248.6h0M301.1 245.8h0M297.2 237.9h0M302.4 236.7h0M313.5 239.8h0M314.9 241.4h0M302.7 247.5h0M294.8 245.7h0M292.8 242.2h0M305.6 249.2h0M302.2 249.3h0M311.8 239.3h0M301.7 242.8h0M293.8 245.6h0M301.9 238.4h0M309.3 239.6h0M309.1 234.6h0M314.7 246.9h0M297.5 246.8h0M315.2 237.1h0M297.4 243.1h0M302.2 236.0h0M312.9 241.2h0M302.0 234.1h0M297.5 247.2h0M307.2 247.3h0M305.3 240.0h0M297.6 237.6h0M304.2 234.9h0M317.3 242.5h0M311.3 242.7h0M312.9 247.3h0M311.6 246.6h0M298.6 241.4h0M302.7 243.4h0M297.6 239.8h0M308.5 239.2h0M298.2 244.9h0M304.6 243.1h0M304.4 235.3h0M308.4 243.5h0M298.7 236.0h0M311.4 244.6h0M300.3 246.5h0M312.2 239.9h0M299.8 244.6h0M299.1 246.2h0M298.8 244.6h0M312.5 244.2h0M305.3 244.9h0M299.3 241.9h0M312.7 242.3h0M294.7 237.8h0M299.9 245.1h0M300.6 247.4h0M308.4 243.2h0M307.6 236.4h0M304.3 249.4h0M307.9 238.4h0M308.2 235.6h0M312.8 243.7h0M304.8 240.8h0M304.2 241.3h0M300.1 234.3h0M306.6 236.1h0M297.9 244.1h0M305.5 240.2h0M300.8 236.7h0M299.4 249.4h0M305.8 247.1h0M312.9 247.6h0M297.7 243.3h0M294.2 242.7h0M313.6 247.0h0M307.4 247.1h0M297.1 239.0h0M308.3 237.5h0M311.7 241.1h0M303.9 249.1h0M314.3 245.5h0M294.9 244.3h0M311.4 238.9h0M304.7 240.0h0M314.1 243.3h0M303.6 244.7h0M306.4 239.2h0M307.5 247.8h0M307.0 235.0h0M303.2 237.0h0M302.1 249.3h0M304.6 243.1h0M303.9 246.5h0M304.0 247.0h0M309.1 239.0h0M298.1 237.5h0M298.9 234.8h0M315.3 245.3h0M305.2 248.2h0M312.5 239.8h0M307.4 250.8h0M303.5 240.0h0M301.7 240.8h0M307.0 240.4h0M314.8 243.1h0M311.3 236.0h0M299.4 241.3h0M299.5 241.6h0M300.9 242.3h0M314.2 241.2h0M301.4 247.7h0M316.9 238.7h0M312.6 242.4h0M298.1 237.6h0M293.6 241.0h0M313.1 235.9h0M309.0 235.7h0M305.7 234.4h0M308.6 233.6h0M302.4 246.4h0M303.8 248.4h0M301.4 237.7h0M307.1 245.4h0M306.5 237.8h0M304.4 249.0h0M307.1 246.1h0M303.7 234.6h0M314.2 245.8h0M294.4 246.6h0M314.9 237.7h0M307.1 235.3h0M299.5 244.8h0M295.0 243.2h0M303.0 243.4h0M309.4 249.4h0M299.3 249.4h0M310.6 241.2h0M313.2 237.0h0M301.9 245.1h0M309.5 243.7h0M303.7 245.7h0M296.3 239.9h0M308.3 241.4h0M301.8 248.7h0M308.2 246.0h0M307.4 234.1h0M310.2 238.1h0M306.9 241.4h0M310.0 243.7h0M305.6 243.9h0M294.9 242.1h0M312.0 242.5h0M298.8 238.6h0M302.7 246.3h0M296.8 245.2h0M311.0 239.6h0M306.8 239.6h0M303.7 245.1h0M301.3 240.2h0M312.7 246.5h0M292.9 242.1h0M313.4 242.6h0M300.1 238.0h0M295.9 242.7h0M301.9 242.6h0M310.1 236.2h0M295.8 241.5h0M296.4 243.1h0M298.1 242.2h0M311.8 235.3h0M300.5 234.3h0M306.8 238.3h0M306.1 250.2h0M298.1 247.7h0M314.6 239.4h0M314.6 247.1h0M309.0 247.4h0M301.9 239.8h0M312.4 235.7h0M294.0 238.2h0M300.0 245.4h0M306.0 237.5h0M301.9 236.6h0M308.1 247.4h0M299.8 249.0h0M315.0 239.9h0M301.1 245.8h0M315.2 243.6h0M305.0 238.3h0M305.6 246.9h0M300.5 246.7h0M298.5 245.2h0M308.2 241.5h0M304.8 235.0h0M307.9 239.2h0M299.9 241.2h0M310.1 247.7h0M304.1 236.7h0M302.5 236.6h0M293.6 243.2h0M310.4 243.5h0M309.5 245.7h0M296.7 245.4h0M314.8 244.2h0M304.0 242.4h0M302.3 242.3h0M295.1 243.6h0M310.0 246.0h0M296.3 242.2h0M304.3 249.1h0M299.2 246.3h0M299.2 238.8h0M297.5 243.3h0M298.0 247.6h0M297.0 245.7h0M302.6 233.3h0M296.2 245.4h0M293.0 240.5h0M312.7 242.3h0M299.2 240.1h0M309.5 249.9h0M309.1 235.3h0M302.5 234.3h0M304.2 248.9h0M309.5 241.4h0M303.2 234.3h0M297.1 241.4h0M312.4 238.4h0M300.5 243.3h0M291.9 240.0h0M299.2 248.1h0M301.7 235.1h0M303.8 247.0h0M298.4 247.2h0M313.1 236.4h0M307.9 243.0h0M304.2 247.8h0M309.9 235.5h0M303.1 237.1h0M297.3 243.0h0M296.9 239.2h0M307.5 249.4h0M299.7 247.1h0M313.8 238.8h0M304.4 237.7h0M306.2 247.7h0M315.6 244.4h0M296.3 240.3h0M296.8 248.3h0M309.5 243.1h0M307.3 245.4h0M301.2 247.7h0M300.6 246.3h0M304.6 243.6h0M304.9 244.5h0M299.1 241.2h0M297.8 236.8h0M297.9 244.7h0M296.7 240.1h0M305.2 243.3h0M307.6 235.8h0M312.1 235.7h0M304.1 236.6h0M314.7 235.8h0M311.1 243.8h0M298.8 241.2h0M308.4 241.9h0M309.3 246.1h0M293.3 239.1h0M297.6 238.9h0M313.1 238.3h0M297.5 240.4h0M310.4 242.2h0M313.6 246.1h0M301.1 240.8h0M309.0 235.2h0M315.7 243.8h0M308.3 242.8h0M302.5 245.7h0M298.9 236.9h0M298.4 239.7h0M302.3 238.5h0M306.2 246.2h0M309.8 243.8h0M311.5 236.0h0M299.7 237.8h0M312.3 244.5h0M307.5 242.4h0M301.7 244.4h0M307.6 247.4h0M300.0 240.9h0M315.2 245.8h0M293.5 243.1h0M306.8 235.0h0M308.0 244.8h0M310.5 238.4h0M310.4 236.5h0M310.0 245.1h0M308.1 248.7h0M298.3 241.3h0M297.4 241.8h0M301.0 239.6h0M311.4 238.1h0M308.4 241.3h0M298.1 247.1h0M303.6 245.8h0M301.6 234.6h0M312.6 236.8h0M303.8 234.5h0M314.9 239.5h0M315.1 241.1h0M309.4 246.2h0M305.2 239.7h0M301.1 248.3h0M312.4 235.8h0M303.4 238.3h0M298.5 240.3h0M311.6 243.3h0M302.9 240.1h0M295.7 242.1h0M298.6 244.5h0M304.4 236.0h0M307.7 234.3h0M305.9 243.5h0M303.2 234.7h0M309.2 243.1h0M308.3 235.5h0M302.1 244.0h0M305.4 243.6h0M299.9 240.9h0M302.2 243.9h0M310.6 237.4h0M299.5 235.1h0M300.2 237.7h0M303.5 248.5h0M308.3 242.7h0M315.5 242.0h0M293.2 242.3h0M296.9 242.6h0M307.4 242.1h0M303.3 239.4h0M296.1 237.7h0M297.4 248.0h0M311.5 238.3h0M313.8 237.6h0M306.7 247.5h0M312.0 240.6h0M306.4 242.7h0M313.7 237.7h0M298.0 239.3h0M308.7 249.0h0M313.5 240.5h0M314.5 237.8h0M311.8 246.6h0M304.9 248.5h0M304.3 235.0h0M301.3 235.2h0M309.4 243.6h0M300.3 238.1h0M314.9 241.4h0M297.4 237.6h0M312.7 236.5h0M299.0 246.3h0M301.3 245.4h0M299.4 235.4h0M305.8 247.2h0M310.6 239.9h0M311.2 247.2h0M304.9 250.2h0M300.2 247.0h0M299.3 243.9h0M297.9 236.4h0M307.6 243.1h0M312.6 242.3h0M311.6 244.0h0M298.2 247.9h0M313.2 247.7h0M307.7 243.6h0M315.3 241.1h0M304.5 235.3h0M302.1 239.0h0M294.6 240.8h0M307.9 234.6h0M310.1 242.9h0M297.0 244.0h0M306.9 236.6h0M314.9 242.5h0M310.7 243.3h0M300.8 237.2h0M299.0 242.8h0M307.7 244.8h0M317.2 241.8h0M311.3 248.5h0M305.8 234.2h0M308.7 245.2h0M312.4 239.1h0M305.3 248.2h0M297.0 244.3h0M295.3 243.6h0M301.4 240.8h0M304.2 243.4h0M315.8 239.3h0M301.0 245.9h0M309.1 237.7h0M315.6 243.3h0M306.1 239.9h0M306.0 235.2h0M300.1 246.3h0M308.0 233.8h0M310.0 240.7h0M306.2 239.6h0M310.6 236.9h0M311.2 237.6h0M303.7 247.1h0M306.4 240.6h0M302.1 245.5h0M296.8 245.6h0M304.4 242.7h0M297.6 242.4h0M303.2 246.5h0M303.7 241.9h0M297.1 244.2h0M306.4 235.8h0M305.4 235.2h0M312.7 237.1h0M295.0 240.5h0M306.7 239.9h0M296.3 237.4h0M297.1 248.3h0M310.4 247.9h0M301.5 249.5h0M303.9 233.8h0M313.8 245.3h0M313.7 239.6h0M304.0 243.7h0M310.6 246.6h0M309.8 245.4h0M297.8 244.3h0M314.2 238.0h0M295.2 243.5h0M312.0 241.8h0M307.7 248.9h0M305.8 245.3h0M306.2 244.5h0M303.3 235.6h0M297.9 241.6h0M301.6 248.9h0M307.8 245.7h0M315.5 237.9h0M301.9 240.3h0M307.2 240.7h0M294.3 242.6h0M300.4 235.5h0M303.8 239.9h0M307.8 237.0h0M301.3 236.3h0M300.3 244.8h0M297.1 245.3h0M315.3 242.6h0M299.5 238.8h0M303.0 239.5h0M300.9 235.3h0M309.5 234.2h0M298.3 237.1h0M304.9 242.0h0M314.8 240.8h0M313.6 241.4h0M310.7 243.3h0M299.9 244.6h0M303.0 247.4h0M294.6 246.5h0M307.9 247.9h0M301.2 250.1h0M298.7 241.3h0M301.7 245.1h0M302.8 235.3h0M309.1 242.3h0M316.0 241.9h0M299.4 238.1h0M299.4 241.7h0M313.9 245.2h0M301.6 248.8h0M315.9 236.7h0M305.5 250.0h0M308.7 243.2h0M304.3 236.0h0M315.8 244.6h0M303.1 242.4h0M293.5 240.5h0M302.7 235.6h0M297.7 239.4h0M301.8 250.4h0M303.0 244.8h0M304.9 233.5h0M305.7 243.3h0M311.3 241.0h0M305.6 243.2h0M296.7 248.8h0M302.0 241.5h0M306.8 240.4h0M300.7 234.5h0M312.7 248.5h0M301.5 242.2h0M312.1 244.1h0M302.7 244.2h0M296.2 244.6h0M301.2 241.8h0M304.2 250.1h0" stroke="#d5bb41" stroke-width="1.10" stroke-linecap="round" fill="none"/><path d="M318.9 241.2h0M317.5 234.9h0M321.2 246.9h0M325.3 245.0h0M326.2 245.8h0M313.5 246.8h0M323.4 240.7h0M325.6 244.7h0M324.8 245.7h0M314.2 238.0h0M323.0 245.1h0M326.8 242.3h0M312.0 241.6h0M320.7 238.9h0M320.5 237.0h0M313.3 244.4h0M325.4 237.8h0M326.6 243.9h0M324.0 246.2h0M324.7 243.4h0M322.8 238.1h0M320.8 236.8h0M317.6 242.4h0M317.1 242.5h0M324.0 238.2h0M322.5 236.8h0M322.1 243.1h0M325.6 240.1h0M314.8 240.1h0M320.9 242.8h0M322.6 239.9h0M320.5 246.9h0M318.0 247.8h0M318.5 247.6h0M314.4 247.3h0M316.8 238.8h0M317.1 240.0h0M324.1 246.9h0M327.4 238.2h0M312.4 237.3h0M316.7 245.5h0M314.5 236.5h0M323.5 242.8h0M313.0 240.0h0M316.3 237.0h0M324.6 244.4h0M317.1 246.9h0M323.2 247.5h0M318.9 245.1h0M315.5 240.9h0M314.9 238.2h0M312.8 243.7h0M311.7 237.9h0M319.6 238.4h0M319.4 236.8h0M326.3 241.2h0M318.4 243.2h0M318.3 236.0h0M318.7 236.0h0M317.1 237.6h0M318.6 237.3h0M322.3 246.3h0M322.1 239.7h0M312.1 241.5h0M328.4 241.8h0M316.1 238.5h0M312.7 244.5h0M313.5 242.2h0M315.4 247.7h0M312.8 240.1h0M315.2 242.3h0M314.0 243.4h0M315.5 237.8h0M319.7 248.6h0M318.5 247.9h0M319.1 249.1h0M313.9 243.2h0M314.4 240.0h0M326.8 245.6h0M321.7 238.5h0M312.1 242.0h0M321.2 242.4h0M326.7 240.3h0M325.4 239.1h0M317.3 241.9h0M321.5 246.2h0M317.3 240.9h0M312.6 242.2h0M313.7 238.7h0M324.9 241.7h0M325.5 244.7h0M325.1 244.7h0M320.7 237.6h0M325.5 241.8h0M317.3 235.4h0M320.5 239.9h0M321.7 247.5h0M313.1 244.2h0M319.9 237.0h0M314.9 235.8h0M313.7 241.6h0M325.1 242.0h0M318.6 238.5h0M314.7 238.8h0M321.4 237.0h0M320.1 245.5h0M319.1 238.9h0M321.3 244.4h0M325.5 240.9h0M318.6 240.4h0M320.3 247.7h0M311.3 241.2h0M320.7 243.9h0M314.2 238.7h0M316.6 237.8h0M326.2 236.4h0M317.2 237.1h0M316.7 238.5h0M315.2 239.3h0M316.7 235.9h0M313.5 242.8h0M320.1 234.5h0M313.8 243.0h0M321.4 237.7h0M318.8 242.8h0M323.8 240.4h0M321.9 238.3h0M324.6 243.2h0M323.3 236.5h0M322.7 244.2h0M318.1 247.6h0M324.7 243.4h0M312.2 244.6h0M321.8 240.2h0M312.7 237.7h0M325.2 240.8h0M313.6 237.0h0M313.3 243.1h0M322.1 244.7h0M311.2 241.3h0M313.9 239.1h0M315.0 248.0h0M318.0 238.9h0M315.3 245.0h0M323.3 245.9h0M313.7 247.0h0M325.4 237.0h0M324.3 239.8h0M316.2 244.8h0M318.9 240.1h0M323.7 237.6h0M318.8 247.8h0M314.7 243.9h0M316.2 244.5h0M321.3 241.6h0M312.3 241.8h0M322.8 243.0h0M319.6 244.2h0M320.5 239.4h0M321.8 243.1h0M320.2 236.9h0M326.2 243.4h0M323.6 244.6h0M329.5 244.1h0M312.0 239.9h0M321.9 247.0h0M324.7 243.2h0M315.1 241.8h0M318.4 246.0h0M328.2 243.0h0M325.2 239.8h0M312.6 244.2h0M315.9 247.0h0M314.4 244.1h0M316.8 239.2h0M314.1 236.9h0M315.4 244.6h0M314.2 242.3h0M323.3 237.8h0M314.6 235.8h0M314.2 241.7h0M322.0 237.1h0M323.5 237.8h0M321.7 246.4h0M319.2 244.9h0M315.3 238.3h0M315.2 243.7h0M312.3 242.7h0M326.1 243.8h0M325.4 246.5h0M315.1 238.1h0M319.8 239.6h0M323.6 237.5h0M323.4 236.0h0M319.8 241.4h0M321.6 242.0h0M320.9 238.5h0M327.2 240.5h0M319.6 235.6h0M310.5 241.8h0M313.4 236.6h0M318.8 248.1h0M324.9 242.1h0M312.8 239.4h0M316.8 238.1h0M314.3 246.2h0M326.6 243.2h0M319.9 240.5h0M317.3 247.9h0M318.5 242.4h0M315.2 238.9h0M314.9 241.5h0M313.6 241.9h0M318.4 247.8h0M321.3 246.3h0M312.6 240.5h0M316.5 244.5h0M320.3 243.4h0M325.7 238.8h0M319.6 243.8h0M319.9 242.4h0M320.6 237.1h0M314.1 242.9h0M316.0 246.8h0M327.2 244.7h0M317.1 240.9h0M320.5 236.2h0M320.6 243.5h0M321.3 241.2h0M326.2 246.4h0M314.7 239.7h0M316.9 237.3h0M323.6 244.6h0M316.7 239.7h0M317.7 242.0h0M315.2 240.9h0M319.3 239.9h0M321.4 245.0h0M322.7 240.2h0M311.6 243.9h0M313.3 240.4h0M317.1 239.8h0M324.9 237.0h0M316.4 246.5h0M315.6 240.9h0M326.6 244.1h0M323.5 241.0h0M324.4 242.2h0M324.0 243.3h0M316.5 241.8h0M311.3 242.3h0M320.3 237.3h0M322.8 246.2h0M319.7 246.2h0M325.2 238.0h0M315.8 235.2h0M314.1 240.1h0M321.4 247.0h0M319.5 242.1h0M313.6 245.3h0M317.1 235.7h0M313.8 238.2h0M326.4 241.7h0M316.0 236.3h0M321.0 244.3h0M321.1 246.2h0M312.9 238.3h0M323.2 240.6h0M319.1 245.1h0M321.4 241.0h0M326.4 240.4h0M321.0 244.8h0M320.6 242.8h0M324.4 245.3h0M313.2 240.6h0M320.2 236.3h0M322.2 241.4h0M322.9 241.4h0M320.9 236.6h0M321.5 246.7h0M323.1 244.1h0M319.7 242.7h0M314.7 237.2h0M313.7 246.3h0M327.1 238.6h0M325.1 245.1h0" stroke="#578b33" stroke-width="1.10" stroke-linecap="round" fill="none"/><path d="M278.5 243.1h0M279.0 245.4h0M277.9 241.9h0M276.9 243.3h0M275.1 242.2h0M277.1 243.7h0M278.0 244.6h0M273.5 244.1h0M278.3 244.8h0M276.0 243.8h0M280.1 245.2h0M278.8 243.7h0M280.1 242.6h0M274.5 242.2h0M279.0 243.4h0M282.3 243.7h0M279.7 245.3h0M281.1 244.6h0M282.7 242.5h0M283.1 242.4h0M280.8 243.7h0M283.1 244.1h0M278.2 243.6h0M279.6 240.5h0M281.1 241.9h0M275.9 242.8h0M275.1 245.0h0M278.0 243.6h0M282.7 242.5h0M278.1 245.8h0M275.5 244.3h0M272.9 242.8h0M279.5 246.0h0M277.0 241.9h0M282.3 245.0h0M279.0 240.4h0M277.1 244.6h0M281.8 243.7h0M283.4 242.8h0M277.0 244.6h0M276.3 240.7h0M275.5 241.3h0M277.6 243.8h0M283.4 241.4h0M277.8 242.4h0M281.9 245.0h0M280.9 244.9h0M276.4 241.6h0M276.3 240.8h0M274.9 244.6h0M279.0 241.8h0M277.9 245.8h0M277.8 240.9h0M277.0 242.8h0M276.6 241.8h0M280.4 242.4h0M279.4 244.2h0M280.7 240.8h0M278.8 242.5h0M281.9 241.9h0M281.0 244.5h0M276.3 241.0h0M278.0 244.6h0M274.4 243.9h0M279.2 240.9h0M276.9 243.5h0M277.4 244.1h0M276.9 240.8h0M278.2 245.2h0M278.1 243.5h0M279.3 240.3h0M277.7 243.0h0M279.4 244.1h0M279.8 244.5h0M283.5 242.9h0M279.5 243.2h0M283.5 242.1h0M279.3 239.5h0M278.7 239.9h0M274.1 241.7h0M273.9 243.5h0M282.6 242.6h0M279.4 242.7h0M278.6 243.0h0M279.6 244.8h0M279.8 242.9h0M280.9 240.5h0M274.6 242.1h0M276.7 240.3h0M282.8 243.2h0M281.3 241.1h0M277.0 241.8h0M279.8 245.6h0M277.9 240.7h0M276.7 243.5h0M279.4 242.7h0M277.3 240.6h0M277.8 243.0h0M279.0 242.7h0M279.4 242.6h0M275.3 244.6h0M278.4 240.6h0M281.0 244.1h0M274.0 242.4h0M280.5 241.0h0M276.9 246.4h0M281.9 242.9h0M272.8 243.0h0M277.3 241.3h0M274.8 243.8h0" stroke="#894f28" stroke-width="1.10" stroke-linecap="round" fill="none"/><path d="M288.4 245.6h0M283.3 244.6h0M287.5 244.1h0M284.5 246.0h0M287.7 244.2h0M284.8 243.7h0M288.5 241.0h0M289.5 247.7h0M296.7 242.8h0M295.9 246.9h0M287.4 242.4h0M291.2 244.0h0M283.6 241.8h0M286.0 244.5h0M289.6 248.5h0M283.8 242.4h0M286.0 242.1h0M282.1 245.1h0M291.8 240.5h0M297.2 242.5h0M288.4 241.1h0M287.6 240.3h0M294.1 242.4h0M288.8 242.7h0M288.4 242.8h0M289.9 247.0h0M285.8 241.1h0M288.4 241.4h0M292.4 243.1h0M294.6 246.8h0M285.2 241.8h0M285.1 240.7h0M292.9 241.1h0M295.0 245.3h0M294.0 243.4h0M293.6 244.2h0M288.4 246.7h0M284.9 246.2h0M296.4 246.6h0M285.9 248.3h0M294.9 244.4h0M294.0 244.9h0M286.6 245.8h0M292.2 246.8h0M290.5 241.8h0M293.2 245.9h0M292.1 248.6h0M288.0 243.0h0M284.8 242.2h0M294.3 245.7h0M295.9 242.8h0M285.8 246.1h0M294.1 241.2h0M288.8 243.4h0M293.5 242.5h0M285.5 244.0h0M285.5 242.5h0M289.9 246.4h0M285.6 244.4h0M290.1 246.5h0M288.8 243.0h0M284.6 247.1h0M293.5 244.7h0M286.2 247.7h0M285.4 242.2h0M295.4 241.4h0M292.0 247.3h0M288.3 246.9h0M288.4 241.9h0M290.5 243.8h0M284.4 243.3h0M295.8 241.7h0M295.2 241.3h0M287.9 248.2h0M284.9 243.4h0M295.3 241.9h0M294.4 241.7h0M295.6 242.7h0M286.0 244.7h0M295.7 245.4h0M296.6 246.7h0M286.3 242.9h0M293.1 243.8h0M288.6 241.5h0M285.5 243.7h0M292.1 241.9h0M295.3 241.0h0M287.0 245.5h0M283.0 242.9h0M288.2 242.1h0M289.0 238.8h0M290.0 243.3h0M296.4 246.5h0M292.1 247.7h0M287.6 243.2h0M296.8 244.3h0M297.1 241.5h0M290.0 247.2h0M293.4 245.3h0M284.7 247.2h0M287.9 241.4h0M294.3 240.8h0M288.3 244.3h0M290.6 242.9h0M289.0 242.1h0M287.5 245.0h0M285.0 241.2h0M286.0 242.9h0M291.2 241.7h0M294.7 244.6h0M286.7 247.3h0M296.2 246.6h0M287.2 242.3h0M288.0 240.5h0M290.6 241.3h0M284.0 246.7h0M295.3 241.9h0M286.2 246.8h0M293.5 243.5h0M289.1 240.8h0M286.1 240.6h0M288.7 240.5h0M294.7 246.0h0M284.6 245.1h0M287.4 245.7h0M288.7 246.2h0M297.0 243.3h0M294.0 243.7h0M295.1 244.9h0M288.4 242.6h0M285.1 242.9h0M285.8 247.5h0M294.3 247.7h0M289.1 245.9h0M297.4 242.6h0M293.5 243.0h0M296.8 245.7h0M293.1 247.5h0M289.8 245.8h0M293.6 243.6h0M288.9 245.8h0M287.5 243.9h0M282.9 244.6h0M294.8 244.4h0M290.4 240.1h0M286.6 247.2h0M281.6 243.1h0M282.9 246.0h0M285.6 242.1h0M292.7 247.4h0M297.2 246.9h0M288.2 243.8h0M294.3 245.8h0M293.9 244.5h0M290.6 247.4h0M294.3 247.3h0M296.8 242.8h0M289.3 241.6h0M294.3 240.7h0M296.2 245.3h0M290.9 246.8h0M288.8 244.0h0M292.7 245.6h0M292.3 241.9h0M293.6 247.1h0M295.6 243.0h0M284.2 243.5h0M297.7 240.9h0M287.7 240.5h0M294.4 241.6h0M293.6 245.7h0M292.6 241.5h0M284.3 242.3h0M289.0 243.0h0M294.0 246.8h0M293.3 246.4h0M289.0 244.2h0M288.4 243.0h0M290.0 240.6h0M289.2 247.3h0M293.9 247.6h0M292.7 245.6h0M288.9 244.3h0M292.7 248.1h0M288.2 243.1h0M296.1 247.0h0M294.0 240.9h0M293.9 241.2h0M291.6 242.6h0M289.0 246.3h0M298.3 245.9h0M285.3 247.4h0M290.5 240.6h0M290.7 240.8h0M284.1 245.2h0M289.6 242.3h0M286.2 241.6h0M293.2 241.4h0M290.8 245.4h0M285.6 241.0h0M287.6 245.4h0M289.8 243.0h0M286.8 243.3h0M297.9 242.8h0M286.3 243.8h0M288.1 240.8h0M296.3 243.6h0M296.5 242.6h0M289.6 245.0h0M292.4 246.2h0M293.0 246.5h0M288.3 243.8h0M295.6 244.3h0M289.1 246.3h0M289.2 245.9h0M290.2 245.4h0M289.0 243.0h0M295.1 243.9h0M294.1 248.3h0M287.7 239.6h0" stroke="#563589" stroke-width="1.10" stroke-linecap="round" fill="none"/><path d="M297.8 247.2h0M299.4 249.0h0M297.8 247.9h0M292.0 247.8h0M299.2 248.9h0M292.6 245.9h0M295.6 248.2h0M300.9 248.4h0M296.3 248.6h0M295.7 247.8h0M298.3 247.7h0M291.3 249.0h0M296.9 249.2h0M298.2 247.4h0M296.2 248.8h0M298.4 248.9h0M293.1 249.8h0M294.0 248.8h0M298.1 249.7h0M295.9 246.8h0M295.8 248.8h0M292.5 247.8h0M297.9 247.8h0M294.9 246.1h0M291.6 248.3h0M293.3 249.3h0M294.2 249.7h0M299.0 249.2h0M298.5 249.6h0M296.9 247.7h0M292.1 247.8h0M299.1 249.6h0M297.7 249.1h0M292.8 247.9h0M300.4 249.0h0M300.9 249.5h0M298.2 248.3h0M294.4 246.4h0M294.3 249.1h0M297.7 248.5h0M291.9 246.3h0M292.3 247.8h0M296.0 249.2h0M299.4 246.9h0M294.9 249.2h0M294.6 248.1h0M292.5 247.8h0M298.6 247.9h0M299.5 249.1h0M296.1 246.8h0M293.3 246.9h0M290.6 248.2h0M292.9 247.2h0M292.5 249.2h0M292.5 246.6h0M299.6 247.4h0M298.3 246.7h0M292.0 247.0h0M297.1 249.2h0M300.9 247.3h0M300.3 247.2h0M296.5 247.5h0M293.3 249.0h0M291.0 246.4h0M298.1 248.9h0M293.3 248.0h0M294.9 249.2h0M296.9 249.6h0M294.9 249.3h0M293.1 248.4h0M290.8 247.6h0M301.7 247.5h0M297.8 248.3h0M297.9 248.1h0M291.3 247.5h0M299.6 249.1h0M298.1 248.3h0M293.5 247.4h0M297.6 247.5h0M299.0 247.3h0M296.3 250.0h0M299.9 247.4h0M295.6 250.0h0M292.5 249.0h0M300.5 248.8h0M290.6 248.0h0M290.4 247.9h0M299.5 249.3h0" stroke="#d19191" stroke-width="1.10" stroke-linecap="round" fill="none"/><path d="M324.6 252.6h0M323.9 250.6h0M320.6 250.4h0M317.6 252.9h0M322.3 251.3h0M324.5 250.4h0M317.1 252.3h0M321.5 250.9h0M320.1 249.7h0M321.2 252.5h0M318.5 252.4h0M316.0 253.4h0M320.5 253.0h0M322.5 252.2h0M322.3 253.3h0M322.3 249.8h0M327.5 252.1h0M319.0 251.5h0M322.6 251.3h0M319.8 252.9h0M319.3 252.0h0M321.3 251.5h0M323.3 250.8h0M324.0 254.0h0M317.7 250.3h0M320.3 254.7h0M321.8 252.5h0M322.2 253.8h0M324.3 253.2h0M322.6 254.1h0M318.4 254.4h0M321.2 251.9h0M320.3 253.2h0M323.5 252.6h0M319.5 250.5h0M318.9 249.9h0M320.0 251.7h0M324.0 252.8h0M318.9 252.5h0M320.6 251.1h0M323.6 250.9h0M318.6 252.3h0M321.9 252.5h0M322.6 250.8h0M318.3 250.0h0M320.6 251.3h0M324.3 253.4h0M323.7 251.1h0M323.0 251.0h0M325.6 251.3h0M321.1 252.0h0M321.8 251.3h0M324.9 252.5h0M322.5 253.7h0M320.2 250.3h0M319.6 252.3h0M324.8 250.6h0M324.6 250.9h0M322.9 252.8h0M316.5 252.9h0M322.9 252.6h0M325.6 253.4h0M324.6 251.0h0M317.7 251.4h0M320.0 251.7h0M317.4 252.4h0M321.1 250.7h0M316.4 252.5h0M322.7 250.3h0M320.8 251.6h0M322.3 250.2h0M324.2 251.1h0M317.9 252.8h0M322.9 251.5h0M326.2 251.6h0M326.1 253.0h0M319.2 251.5h0M318.5 253.8h0M320.3 254.2h0M322.7 249.9h0M319.3 252.3h0M324.1 252.7h0M322.0 252.5h0M318.8 250.3h0M323.7 254.5h0M321.1 253.8h0M325.0 252.0h0M325.2 253.0h0M320.5 251.3h0M319.9 253.6h0M320.2 252.5h0M320.2 252.5h0M325.0 252.5h0M318.2 253.0h0M321.3 251.0h0M317.8 252.3h0M318.7 252.0h0M321.0 250.8h0M320.1 253.7h0M320.2 250.6h0M325.2 251.3h0M316.1 251.2h0M320.1 254.8h0M323.2 253.4h0M322.0 253.4h0M319.0 250.4h0M319.0 252.0h0M324.6 251.5h0M325.7 252.7h0M318.8 253.6h0" stroke="#9fb9cd" stroke-width="1.10" stroke-linecap="round" fill="none"/><path d="M304.7 251.6h0M298.4 258.7h0M297.1 256.4h0M299.4 253.4h0M307.7 250.7h0M304.8 257.4h0M301.8 252.3h0M297.6 251.3h0M304.5 252.8h0M303.9 254.1h0M306.2 252.4h0M299.8 255.6h0M293.9 254.8h0M309.6 254.6h0M307.1 251.9h0M304.3 257.1h0M301.8 258.0h0M298.5 258.7h0M309.9 256.6h0M301.9 256.4h0M306.3 254.1h0M303.2 257.7h0M309.8 254.5h0M297.8 253.1h0M292.5 254.9h0M295.9 251.1h0M299.8 256.9h0M306.8 255.3h0M306.5 251.3h0M300.7 253.6h0M299.5 257.3h0M292.9 252.4h0M293.1 254.0h0M308.6 253.5h0M299.2 253.6h0M297.4 255.9h0M304.6 255.5h0M304.9 252.6h0M297.1 256.0h0M306.8 253.3h0M304.8 254.7h0M296.9 258.2h0M302.7 251.4h0M301.5 256.3h0M294.5 253.2h0M293.8 255.4h0M296.7 257.0h0M306.1 252.7h0M295.6 254.7h0M304.4 252.7h0M305.2 256.4h0M298.5 257.9h0M303.6 250.3h0M299.2 257.0h0M298.9 254.6h0M296.7 253.8h0M306.6 254.6h0M301.9 258.6h0M294.1 255.8h0M294.8 252.7h0M300.4 255.7h0M295.4 257.8h0M298.0 251.3h0M302.7 251.4h0M302.4 256.7h0M294.5 252.7h0M303.8 252.0h0M298.4 253.6h0M297.4 250.7h0M300.2 255.0h0M303.6 252.6h0M294.2 256.4h0M304.7 255.6h0M310.2 254.0h0M301.6 253.0h0M295.5 256.0h0M301.8 254.2h0M302.9 254.6h0M305.4 254.1h0M306.2 255.7h0M303.3 256.6h0M305.0 255.0h0M310.1 253.6h0M291.2 253.4h0M304.8 253.1h0M296.8 258.2h0M306.0 255.5h0M306.2 253.4h0M297.7 256.8h0M298.0 256.3h0M293.6 254.5h0M301.4 255.7h0M304.1 253.6h0M300.5 256.0h0M295.6 257.9h0M295.1 254.5h0M291.2 254.9h0M296.3 252.6h0M305.6 255.7h0M303.0 254.3h0M299.5 250.5h0M302.0 251.9h0M295.3 253.0h0M309.3 252.7h0M296.7 257.0h0M306.2 254.3h0M296.5 257.5h0M304.5 252.3h0M305.3 257.1h0M302.6 253.3h0M291.1 253.9h0M292.5 253.9h0M300.7 251.6h0M300.8 252.4h0M308.9 254.1h0M298.4 256.4h0M308.4 253.7h0M303.3 254.1h0M302.8 252.4h0M297.2 257.6h0M302.4 250.4h0M296.0 257.4h0M296.9 254.7h0M301.3 255.7h0M303.5 255.7h0M300.4 254.9h0M296.7 253.5h0M300.3 253.2h0M303.3 252.7h0M303.8 252.0h0M296.8 251.3h0M305.2 251.8h0M302.7 258.4h0M294.7 256.0h0M304.4 256.0h0M304.2 253.8h0M307.3 252.7h0M295.9 253.9h0M304.4 249.8h0M303.7 258.0h0M300.6 252.3h0M298.1 254.3h0M307.9 257.1h0M295.8 254.2h0M306.9 253.1h0M310.7 252.5h0M302.2 250.0h0M303.7 257.9h0M296.8 254.4h0M301.0 254.1h0M302.3 254.0h0M309.1 252.6h0M297.3 251.1h0M302.0 255.6h0M306.8 257.4h0M296.0 251.0h0M309.1 252.1h0M300.3 257.5h0M295.6 256.3h0M293.6 252.4h0M294.0 251.7h0M308.0 252.3h0M294.5 253.3h0M297.6 256.1h0M305.9 256.4h0M299.7 250.0h0M296.0 250.8h0M306.4 254.2h0M302.4 254.9h0M297.3 257.4h0M295.2 251.2h0M298.7 250.3h0M304.5 254.2h0M293.7 252.9h0M307.3 253.3h0M301.3 258.5h0M307.4 252.9h0M294.6 256.4h0M306.6 253.9h0M309.3 252.1h0M308.9 255.3h0M303.3 250.8h0M305.8 257.0h0M292.5 253.2h0M308.7 253.1h0M303.1 256.4h0M303.2 252.6h0M299.2 258.2h0M293.3 256.2h0M302.0 254.4h0M303.8 256.1h0M299.7 250.0h0M299.6 249.9h0M294.1 251.6h0M296.9 254.3h0M298.0 251.8h0M301.0 250.7h0M298.0 255.0h0M300.1 258.6h0M309.8 256.9h0M299.3 256.9h0M307.9 255.7h0M297.3 251.6h0M307.8 251.3h0M306.3 255.9h0M307.9 256.1h0M294.5 251.3h0M293.2 252.4h0M303.6 257.5h0M308.3 254.2h0M302.2 256.7h0M303.9 257.4h0M303.6 254.6h0M296.3 251.8h0M292.5 255.5h0M309.6 256.6h0M303.9 250.6h0M305.0 251.8h0M301.9 254.7h0M305.4 251.2h0M302.6 254.0h0M302.2 250.6h0M293.2 251.5h0M296.7 253.7h0M306.8 255.7h0M306.1 257.1h0M296.6 256.4h0M307.4 256.5h0M308.8 254.9h0M308.4 253.0h0M300.7 253.4h0M304.0 257.0h0M295.9 253.0h0M301.7 258.0h0M300.1 254.6h0M297.3 256.7h0M300.8 251.4h0M299.9 255.6h0M294.3 251.7h0M299.1 254.5h0M291.2 254.5h0M304.4 256.8h0M297.4 257.7h0M301.3 257.7h0M299.5 257.2h0M301.2 257.0h0M302.6 251.5h0M297.7 253.7h0M296.6 250.8h0M299.5 253.9h0M303.9 257.7h0M304.3 252.6h0M301.2 251.5h0M305.0 257.3h0M296.2 254.7h0M298.4 251.9h0M297.2 256.4h0M300.5 257.5h0M303.5 251.7h0M308.8 253.0h0M302.7 255.9h0M299.5 258.3h0M298.4 255.2h0M301.6 255.7h0" stroke="#3b669f" stroke-width="1.10" stroke-linecap="round" fill="none"/><path d="M313.4 259.7h0M308.2 260.6h0M307.9 259.4h0M308.1 260.2h0M309.0 260.5h0M308.5 258.4h0M312.3 261.1h0M309.7 261.7h0M314.0 262.1h0M308.0 260.8h0M312.7 259.0h0M309.1 258.5h0M311.7 262.4h0M311.3 261.5h0M310.3 258.1h0M312.0 258.8h0M311.8 259.3h0M311.2 262.7h0M308.2 261.2h0M314.1 260.0h0M313.1 259.2h0M311.5 259.2h0M310.6 260.4h0M311.1 258.4h0M312.8 259.7h0M313.0 261.9h0M312.8 260.8h0M311.5 260.9h0M308.4 260.0h0M311.3 259.0h0M311.0 259.3h0M308.7 258.9h0M311.0 259.8h0M306.7 261.5h0M313.1 262.1h0M311.8 261.1h0M313.4 260.7h0M310.4 257.5h0M309.4 260.3h0M312.6 258.0h0M314.0 258.8h0M306.8 261.9h0M311.2 260.9h0M308.4 259.9h0M311.9 260.4h0M309.9 259.9h0M312.2 259.0h0M311.1 260.0h0M312.8 257.9h0M311.0 261.4h0M309.5 259.7h0M311.9 261.5h0M314.8 260.0h0M312.1 258.3h0M311.9 259.9h0M310.2 258.1h0M313.8 259.9h0M315.1 261.5h0M309.5 258.4h0M311.5 259.5h0M310.2 258.5h0M308.0 261.4h0M309.6 259.4h0M313.8 259.6h0M312.9 261.0h0M308.2 259.3h0M311.6 260.3h0M309.6 260.7h0M314.4 259.7h0M307.7 261.1h0M311.7 261.6h0M308.2 262.4h0M309.9 261.9h0M311.0 262.0h0M309.5 259.5h0M313.5 260.2h0M311.7 259.1h0M310.9 260.1h0M312.4 259.4h0M309.8 259.4h0M309.2 260.8h0M310.4 258.2h0M311.5 259.4h0M307.7 258.9h0M307.8 259.3h0M313.3 261.3h0M305.3 259.2h0M312.4 257.6h0" stroke="#b4a2c2" stroke-width="1.10" stroke-linecap="round" fill="none"/><path d="M295.0 263.1h0M295.0 261.3h0M295.5 262.0h0M294.3 263.1h0M294.6 262.7h0M292.3 263.3h0M295.1 263.5h0M296.2 262.7h0M293.1 261.5h0M297.4 261.6h0M292.8 262.6h0M292.0 260.7h0M296.4 262.0h0M293.6 263.2h0M295.6 262.2h0M291.1 262.6h0M293.9 261.7h0M294.7 263.3h0M294.1 263.4h0M295.3 263.7h0M294.5 262.4h0M294.7 262.2h0M296.5 262.8h0M295.5 263.5h0M291.4 260.7h0M295.9 262.4h0M294.6 263.7h0M293.8 261.7h0M293.1 262.0h0M296.0 262.5h0M294.3 261.3h0M293.0 262.9h0M296.0 262.8h0M295.1 263.2h0M293.6 262.5h0M293.7 264.2h0M296.0 262.5h0M296.5 262.5h0M295.9 262.2h0M294.6 260.6h0M292.6 261.1h0M293.8 260.9h0M292.5 262.8h0M292.9 261.3h0" stroke="#b01d22" stroke-width="1.10" stroke-linecap="round" fill="none"/><path d="M320.6 228.5h0M324.4 230.1h0M321.7 228.7h0M322.5 228.9h0M324.5 228.9h0M323.4 230.2h0M323.5 228.2h0M320.2 228.6h0M324.2 229.5h0M321.7 228.4h0M320.4 229.3h0M321.7 229.9h0M321.1 228.4h0M322.2 228.4h0M320.9 229.3h0M321.6 230.2h0M321.0 229.3h0" stroke="#c41b7a" stroke-width="1.10" stroke-linecap="round" fill="none"/><path d="M315.0 229.3h0M314.2 230.2h0M314.3 229.7h0M312.7 229.5h0M313.7 230.2h0M313.8 228.9h0M315.3 229.6h0M312.6 230.0h0M312.1 229.5h0M314.2 230.1h0M314.8 230.8h0" stroke="#52afb7" stroke-width="1.10" stroke-linecap="round" fill="none"/></g>
<g><path d="M377.0 231.8h0M383.5 230.6h0M371.2 229.4h0M386.1 231.0h0M385.9 231.4h0M385.3 230.0h0M376.5 228.8h0M379.8 227.4h0M376.2 227.4h0M381.7 228.1h0M371.8 228.7h0M382.5 227.4h0M371.3 229.6h0M372.7 228.8h0M376.6 227.1h0M385.6 230.3h0M375.8 227.7h0M381.6 230.3h0M382.2 226.7h0M370.8 230.0h0M378.8 231.4h0M381.4 231.3h0M381.6 231.2h0M374.7 229.5h0M380.3 227.9h0M377.7 231.4h0M375.8 230.5h0M378.5 231.1h0M379.7 229.8h0M387.4 228.8h0M381.2 230.8h0M374.2 228.6h0M380.3 227.6h0M378.2 229.7h0M378.5 229.2h0M373.2 227.4h0M371.0 230.7h0M380.8 227.7h0M386.1 228.8h0M374.8 230.4h0M376.4 231.4h0M379.2 229.2h0M389.0 229.8h0M375.0 232.1h0M379.3 229.1h0M380.8 228.5h0M375.8 227.6h0M382.7 227.6h0M372.8 230.1h0M382.8 230.6h0M376.6 230.2h0M371.9 229.5h0M372.8 229.5h0M374.9 231.2h0M384.2 228.2h0M369.9 228.8h0M373.2 231.1h0M381.7 231.4h0M381.6 230.7h0M388.7 229.9h0M372.2 228.3h0M383.2 230.4h0M386.9 230.4h0M378.3 230.5h0M378.0 229.3h0M374.6 231.3h0M376.6 229.3h0M374.2 230.3h0M382.1 231.0h0M372.8 228.7h0M385.7 230.1h0M386.5 227.1h0M373.7 227.9h0M384.8 227.7h0M379.4 230.8h0M379.9 229.8h0M383.4 227.4h0M383.9 228.5h0M379.9 227.6h0M378.9 227.0h0M374.2 230.8h0M381.0 230.3h0M373.4 227.6h0M374.2 227.4h0M370.3 230.2h0M379.4 231.8h0M378.4 229.3h0M385.9 231.0h0M381.2 230.9h0M374.9 231.5h0M382.5 231.2h0M383.0 228.8h0M377.5 230.9h0M385.1 229.9h0M383.9 229.7h0M384.0 228.2h0M382.9 230.5h0M371.2 229.8h0M386.0 227.7h0M381.4 231.6h0M374.8 231.6h0M385.6 228.9h0M379.9 230.5h0M377.8 228.1h0M383.8 228.9h0M384.3 231.2h0M378.4 231.2h0M370.1 228.3h0M381.0 229.1h0M382.8 228.9h0M378.3 227.8h0M377.0 230.5h0M373.6 229.8h0M372.7 227.5h0M382.2 230.5h0M374.7 227.4h0M373.9 227.7h0M372.5 229.3h0M370.5 230.2h0M377.9 227.2h0M376.4 230.4h0M390.0 229.6h0M371.2 231.0h0M372.4 229.0h0M388.3 230.2h0M384.4 226.2h0M377.0 230.4h0M371.8 227.4h0M386.7 229.2h0M374.2 230.4h0M376.9 227.8h0M380.7 228.1h0M385.5 230.5h0M378.2 227.7h0M377.6 230.0h0M378.9 230.2h0M383.8 230.1h0M382.2 229.7h0M377.4 227.8h0M376.9 230.5h0" stroke="#ce741f" stroke-width="1.10" stroke-linecap="round" fill="none"/><path d="M383.3 240.4h0M388.9 243.3h0M379.7 244.6h0M393.3 234.6h0M378.3 246.8h0M378.0 231.3h0M392.0 239.7h0M390.8 245.5h0M392.9 233.5h0M378.9 233.5h0M396.0 239.5h0M378.2 241.0h0M388.8 234.6h0M385.3 230.4h0M373.6 241.2h0M388.6 244.4h0M376.9 238.1h0M384.9 241.9h0M380.2 230.1h0M389.5 245.5h0M385.7 245.2h0M372.9 243.5h0M385.1 234.8h0M383.3 234.5h0M384.6 246.6h0M382.4 240.6h0M390.2 247.3h0M391.2 235.3h0M390.9 248.2h0M375.9 241.7h0M385.4 246.1h0M393.9 233.8h0M379.2 236.8h0M393.3 237.6h0M383.3 234.3h0M379.6 232.9h0M376.3 231.3h0M382.9 245.9h0M388.0 237.5h0M377.8 234.2h0M391.0 245.7h0M396.1 236.5h0M382.6 236.3h0M388.8 235.3h0M391.5 246.5h0M381.1 240.4h0M397.8 238.6h0M385.9 240.2h0M389.8 246.9h0M392.1 241.1h0M382.9 240.4h0M391.8 242.8h0M371.0 235.8h0M379.0 239.6h0M388.2 248.2h0M378.3 237.2h0M379.0 236.4h0M392.4 248.0h0M390.7 239.3h0M373.6 238.3h0M384.0 232.9h0M373.7 239.6h0M377.0 237.3h0M381.1 245.4h0M386.3 237.3h0M389.1 244.3h0M387.5 248.7h0M388.6 243.0h0M370.9 240.6h0M380.6 236.8h0M386.7 245.4h0M377.5 247.2h0M391.6 233.9h0M394.9 245.1h0M382.8 236.8h0M393.0 242.6h0M387.8 234.2h0M372.5 234.6h0M397.3 241.0h0M376.7 246.0h0M371.8 238.3h0M384.7 246.4h0M385.8 236.1h0M374.4 235.2h0M376.6 245.6h0M384.2 244.2h0M398.5 238.1h0M393.8 234.1h0M387.5 236.9h0M384.6 242.3h0M380.5 244.5h0M393.8 241.3h0M393.9 241.6h0M392.4 232.6h0M391.3 240.8h0M391.8 236.3h0M380.4 240.5h0M390.4 244.0h0M373.7 244.9h0M392.4 244.2h0M379.3 245.8h0M380.0 239.1h0M385.8 237.1h0M373.5 245.7h0M391.7 243.6h0M372.0 242.2h0M379.3 244.0h0M382.3 237.1h0M396.9 240.0h0M390.0 244.1h0M378.9 241.6h0M387.0 243.7h0M389.5 246.2h0M381.0 233.5h0M378.6 238.3h0M378.3 249.4h0M393.4 240.8h0M370.5 242.5h0M385.9 235.1h0M385.8 244.5h0M372.7 244.6h0M387.9 232.0h0M380.3 243.3h0M385.9 248.0h0M394.7 246.3h0M390.4 235.8h0M384.4 240.6h0M383.0 235.4h0M390.4 240.0h0M382.5 244.5h0M384.3 247.3h0M381.9 241.2h0M373.5 238.5h0M388.5 245.8h0M372.4 236.8h0M386.2 247.3h0M388.0 235.4h0M390.1 234.6h0M383.0 234.4h0M391.4 239.8h0M388.8 238.8h0M378.5 244.9h0M376.2 243.4h0M396.8 242.7h0M383.4 242.6h0M390.0 241.1h0M392.1 235.6h0M386.8 235.9h0M377.6 245.0h0M377.3 242.5h0M397.7 238.6h0M389.9 243.4h0M378.3 243.2h0M370.3 238.3h0M388.0 243.9h0M370.1 241.7h0M389.1 248.1h0M389.6 235.6h0M383.9 232.4h0M373.0 245.1h0M381.5 238.8h0M371.8 239.2h0M376.7 234.5h0M376.0 245.5h0M384.8 241.0h0M382.0 239.8h0M374.8 232.4h0M396.4 237.3h0M385.6 239.5h0M388.6 240.9h0M392.5 247.9h0M378.6 243.4h0M387.5 239.4h0M390.3 238.7h0M393.0 241.7h0M388.0 233.3h0M374.6 247.7h0M389.2 248.0h0M391.2 247.0h0M375.0 245.2h0M372.2 235.0h0M390.5 239.7h0M386.1 237.7h0M374.4 239.8h0M380.6 238.7h0M371.4 243.1h0M373.9 244.9h0M383.3 234.6h0M388.5 239.3h0M387.2 241.0h0M380.3 240.9h0M377.4 236.3h0M389.9 235.4h0M372.9 240.6h0M378.9 245.2h0M377.0 246.7h0M388.4 236.9h0M385.5 239.8h0M386.3 230.2h0M395.4 240.7h0M395.9 242.1h0M376.3 237.5h0M391.3 233.0h0M386.0 242.4h0M394.2 233.5h0M389.4 244.5h0M384.3 238.1h0M391.0 240.0h0M375.6 240.6h0M395.2 241.7h0M373.4 244.6h0M387.8 234.0h0M373.7 244.6h0M392.7 239.6h0M386.1 244.4h0M381.1 246.7h0M388.4 233.9h0M370.8 235.1h0M387.2 240.5h0M379.6 243.1h0M372.7 241.4h0M379.9 241.6h0M392.6 236.1h0M373.0 235.2h0M384.4 241.2h0M391.0 234.0h0M392.0 236.1h0M385.9 238.1h0M391.0 240.3h0M375.6 240.2h0M392.1 241.3h0M375.2 246.5h0M383.5 235.0h0M379.6 242.9h0M382.4 240.3h0M375.7 236.4h0M383.0 244.9h0M391.5 241.3h0M372.3 246.1h0M374.0 240.4h0M387.4 244.0h0M384.1 244.3h0M379.3 237.0h0M386.8 235.4h0M376.6 237.5h0M375.8 235.4h0M386.2 236.2h0M390.8 240.9h0M383.2 236.6h0M380.7 231.2h0M371.9 234.4h0M381.5 246.4h0M372.4 242.9h0M374.0 246.7h0M384.5 249.2h0M382.0 246.4h0M385.0 236.3h0M376.2 238.1h0M389.1 232.6h0M386.1 235.3h0M394.2 243.5h0M389.4 237.3h0M396.5 240.6h0M384.0 235.4h0M391.0 242.9h0M381.9 239.0h0M386.8 237.6h0M385.2 237.2h0M377.2 244.5h0M389.0 246.8h0M386.1 249.3h0M374.0 246.9h0M380.2 242.2h0M392.5 238.0h0M377.3 247.7h0M373.7 246.4h0M375.5 238.9h0M372.3 234.6h0M391.4 239.2h0M380.7 247.9h0M384.5 242.0h0M383.8 243.3h0M397.1 237.7h0M394.6 235.1h0M383.8 240.7h0M381.9 233.8h0M379.4 232.8h0M381.8 236.3h0M388.0 235.5h0M385.3 231.4h0M374.9 243.6h0M375.7 244.9h0M386.8 234.4h0M389.3 240.3h0M383.2 238.2h0M390.0 240.9h0M374.3 247.4h0M384.3 247.1h0M372.4 241.2h0M386.5 243.5h0M392.4 242.0h0M392.6 237.6h0M375.0 236.1h0M384.1 246.1h0M381.1 236.7h0M384.7 233.1h0M376.5 234.8h0M377.5 240.2h0M389.0 243.3h0M394.4 236.2h0M383.4 238.5h0M372.4 240.6h0M374.2 245.4h0M394.8 237.7h0M382.6 242.0h0M388.3 237.4h0M373.8 241.4h0M388.4 238.5h0M375.1 243.7h0M392.7 236.0h0M374.0 238.7h0M379.3 247.0h0M381.7 242.4h0M372.3 237.7h0M392.1 239.0h0M383.2 243.9h0M375.2 245.6h0M376.0 245.9h0M379.7 235.0h0M395.1 238.4h0" stroke="#d5bb41" stroke-width="1.10" stroke-linecap="round" fill="none"/><path d="M360.0 245.3h0M361.6 241.6h0M355.2 243.6h0M360.6 243.9h0M354.6 242.4h0M364.0 243.2h0M354.4 243.3h0M359.6 242.2h0M360.7 245.1h0M358.2 243.9h0M363.0 244.9h0M359.9 241.5h0M362.3 244.6h0M362.5 242.0h0M360.6 242.6h0M360.8 244.4h0M354.8 244.5h0M355.1 241.6h0M361.0 241.0h0M354.6 243.7h0M355.1 244.0h0M357.8 245.5h0M355.7 241.2h0M356.8 244.5h0M356.7 245.4h0M355.7 241.9h0M356.0 245.4h0M358.7 242.0h0M358.6 241.2h0M362.3 240.5h0M357.5 245.9h0M357.1 246.0h0M356.1 240.0h0M362.2 243.2h0M360.0 242.6h0M356.8 241.5h0M353.4 243.5h0M356.5 245.4h0M358.2 244.7h0M362.5 241.3h0M361.6 241.3h0M355.0 241.5h0M358.5 245.0h0M356.3 240.8h0M355.0 244.0h0M354.7 243.2h0M363.8 244.0h0M360.1 243.8h0M359.4 240.7h0M361.3 240.9h0M355.2 242.0h0M354.8 243.5h0M362.4 245.0h0M362.1 243.7h0M355.3 241.7h0M358.2 244.6h0M360.9 241.9h0M355.7 241.7h0M355.3 244.5h0M362.8 243.2h0M355.8 242.9h0M356.3 241.5h0M357.6 243.2h0M362.3 242.8h0M361.8 242.0h0M363.3 242.4h0M363.4 243.1h0M354.1 244.1h0M363.7 243.7h0M361.7 241.6h0M361.5 243.3h0M361.8 241.3h0M360.7 241.2h0M357.3 241.3h0M359.7 240.9h0M361.0 243.5h0M355.7 243.4h0M355.4 243.8h0M358.4 245.3h0M359.0 244.9h0M355.7 241.7h0M359.2 242.2h0M359.4 241.0h0M358.4 245.7h0M358.1 242.6h0M360.4 242.9h0M355.7 241.7h0M354.1 242.1h0M355.8 240.6h0M354.4 242.9h0" stroke="#894f28" stroke-width="1.10" stroke-linecap="round" fill="none"/><path d="M404.3 243.6h0M404.2 239.4h0M407.3 242.7h0M398.4 244.0h0M399.0 240.3h0M404.5 238.8h0M407.7 239.0h0M401.7 245.9h0M404.0 240.7h0M399.1 244.3h0M403.0 236.0h0M401.9 247.8h0M398.1 246.2h0M396.7 239.9h0M399.5 236.4h0M402.7 245.5h0M399.8 239.9h0M404.5 236.9h0M408.2 238.4h0M400.8 241.0h0M404.8 243.6h0M398.1 243.5h0M402.0 240.8h0M401.2 243.4h0M399.9 240.8h0M400.4 239.2h0M405.5 239.4h0M400.3 238.5h0M403.9 246.7h0M402.8 242.0h0M405.6 240.0h0M397.1 244.3h0M397.7 240.5h0M404.9 239.2h0M399.5 239.5h0M400.5 236.9h0M403.2 243.9h0M405.4 235.6h0M406.9 243.4h0M396.8 244.9h0M395.6 241.1h0M409.6 241.4h0M406.4 236.2h0M400.8 247.8h0M398.1 240.2h0M396.0 241.9h0M404.2 238.5h0M399.5 244.4h0M406.1 237.2h0M406.1 244.6h0M401.7 236.7h0M404.8 246.5h0M399.6 246.6h0M405.0 245.7h0M400.6 244.8h0M405.7 242.0h0M399.9 243.1h0M399.3 244.4h0M408.6 243.1h0M401.1 245.0h0M405.0 236.4h0M403.9 246.1h0M400.4 236.6h0M407.1 239.0h0M406.3 239.3h0M401.0 238.3h0M399.6 236.5h0M404.8 247.1h0M401.0 247.1h0M405.6 239.4h0M405.5 235.9h0M395.0 243.1h0M403.0 239.5h0M400.2 238.1h0M401.3 236.9h0M406.3 245.0h0M398.5 246.6h0M400.3 241.7h0M406.7 241.0h0M401.3 235.7h0M397.5 239.8h0M398.8 244.0h0M397.6 244.0h0M405.9 246.9h0M405.7 238.6h0M400.1 239.8h0M401.7 235.6h0M403.5 241.7h0M400.5 239.0h0M395.5 243.5h0M401.6 244.3h0M403.1 241.2h0M398.8 240.6h0M405.1 241.1h0M399.4 242.0h0M402.1 242.2h0M405.9 245.0h0M396.8 238.7h0M398.8 245.0h0M402.2 239.2h0M398.4 244.5h0M397.6 240.7h0M396.4 241.8h0M396.6 239.1h0M405.4 238.6h0M397.9 236.1h0M398.9 238.3h0M407.2 239.6h0M397.7 244.4h0M397.9 243.5h0M405.9 244.7h0M403.0 239.4h0M404.4 238.9h0M405.0 242.1h0M405.9 239.6h0M406.3 240.9h0M406.9 242.9h0M402.5 239.8h0M407.1 243.2h0M401.3 242.7h0" stroke="#578b33" stroke-width="1.10" stroke-linecap="round" fill="none"/><path d="M383.0 252.4h0M375.7 256.8h0M387.8 255.5h0M378.4 255.4h0M374.1 251.8h0M377.0 256.1h0M377.2 251.2h0M384.3 254.1h0M380.3 253.2h0M389.9 255.2h0M387.4 252.5h0M380.1 251.4h0M385.2 251.2h0M375.0 254.4h0M387.8 255.5h0M389.2 254.0h0M378.6 254.9h0M384.6 249.7h0M383.6 253.7h0M380.1 251.7h0M381.0 257.5h0M377.3 257.1h0M380.4 255.4h0M377.0 255.9h0M380.0 255.9h0M377.2 253.5h0M387.3 251.4h0M378.8 255.4h0M382.1 253.7h0M382.3 250.1h0M385.2 251.6h0M384.1 251.4h0M380.2 251.8h0M388.9 253.5h0M382.2 251.4h0M391.0 252.7h0M387.8 252.1h0M389.8 251.7h0M389.3 255.7h0M380.0 250.7h0M373.5 256.7h0M371.5 254.4h0M375.9 255.7h0M387.1 257.1h0M381.2 257.7h0M384.3 253.1h0M375.6 253.5h0M389.2 254.6h0M373.2 254.3h0M376.6 255.8h0M385.1 250.8h0M378.5 254.7h0M376.5 250.7h0M386.7 251.3h0M373.1 252.0h0M377.8 257.8h0M379.5 250.4h0M383.5 256.0h0M381.2 253.7h0M376.6 254.2h0M386.6 255.6h0M386.7 255.9h0M389.2 252.2h0M384.2 255.8h0M387.5 257.7h0M386.5 254.6h0M382.8 254.9h0M374.1 254.8h0M383.9 252.4h0M388.5 250.6h0M381.2 256.9h0M385.1 253.5h0M380.7 252.8h0M377.7 252.8h0M386.7 257.3h0M383.3 254.9h0M383.1 253.3h0M374.9 253.4h0M381.2 252.9h0M384.5 251.8h0M374.0 254.2h0M383.2 256.4h0M372.5 255.7h0M377.9 252.4h0M384.5 252.7h0M377.1 252.1h0M373.8 253.0h0M373.0 255.5h0M389.8 254.3h0M379.8 258.1h0M377.3 253.8h0M388.2 251.0h0M381.6 256.7h0M376.8 256.3h0M379.1 254.3h0M381.9 256.5h0M373.5 253.4h0M377.8 250.9h0M385.7 256.0h0M378.1 250.8h0M373.7 252.4h0M381.8 257.2h0M384.6 254.7h0M373.7 251.4h0M390.0 253.2h0M382.4 257.7h0M373.8 250.9h0M385.0 250.0h0M377.6 253.2h0M377.5 256.4h0" stroke="#3b669f" stroke-width="1.10" stroke-linecap="round" fill="none"/><path d="M368.6 245.6h0M370.5 242.3h0M363.9 245.3h0M371.5 248.8h0M377.0 245.8h0M369.9 247.2h0M374.1 244.5h0M373.0 247.6h0M368.8 244.2h0M369.9 244.1h0M366.5 244.4h0M369.1 244.3h0M367.5 248.9h0M368.1 244.1h0M370.6 242.0h0M373.7 247.1h0M367.0 245.6h0M366.0 247.1h0M370.4 248.2h0M372.4 247.8h0M369.8 243.0h0M365.2 243.9h0M371.7 243.0h0M369.5 242.9h0M369.8 242.3h0M375.0 247.0h0M372.6 246.3h0M372.0 248.2h0M365.7 243.0h0M374.9 248.1h0M369.7 246.6h0M366.6 244.3h0M372.7 248.5h0M368.5 247.5h0M365.8 243.1h0M371.5 244.7h0M374.0 245.3h0M373.0 248.2h0M372.6 249.1h0M366.7 246.4h0M375.4 244.3h0M366.2 246.1h0M373.4 242.2h0M374.0 243.5h0M372.6 241.9h0" stroke="#563589" stroke-width="1.10" stroke-linecap="round" fill="none"/><path d="M374.3 260.2h0M372.3 260.3h0M376.8 260.0h0M374.6 261.1h0M372.7 261.7h0M374.9 262.1h0M376.5 261.4h0M377.0 260.9h0M374.9 260.9h0M374.5 260.7h0M375.0 262.4h0M375.1 260.6h0M374.5 261.4h0M375.4 260.3h0M372.8 261.0h0M377.3 260.3h0M377.3 261.8h0M373.3 261.8h0M376.6 260.5h0M376.3 261.7h0M375.3 261.6h0M376.0 262.7h0M375.6 260.2h0M376.3 261.5h0M374.2 260.0h0" stroke="#b01d22" stroke-width="1.10" stroke-linecap="round" fill="none"/><path d="M391.9 260.4h0M388.8 259.4h0M393.0 258.9h0M385.8 259.7h0M387.1 260.2h0M387.6 259.4h0M387.7 260.6h0M390.4 260.6h0M386.6 261.4h0M391.7 259.9h0M392.1 259.8h0M391.2 260.5h0M388.3 260.9h0M390.9 261.7h0M388.6 259.4h0M387.2 260.7h0M384.6 259.3h0M392.0 258.7h0M390.0 260.8h0M388.9 258.1h0M389.6 260.3h0M389.3 258.5h0M386.6 259.5h0M389.7 258.5h0M390.2 260.4h0M390.2 259.4h0M392.6 260.0h0M388.1 259.2h0M389.1 258.6h0M390.9 261.1h0" stroke="#b4a2c2" stroke-width="1.10" stroke-linecap="round" fill="none"/><path d="M401.8 254.6h0M401.5 252.6h0M398.9 253.7h0M400.5 250.2h0M405.2 252.6h0M403.8 250.2h0M406.0 251.4h0M403.2 255.0h0M396.6 251.6h0M399.5 254.4h0M406.5 251.8h0M399.3 253.2h0M397.9 253.4h0M399.2 253.3h0M398.8 250.6h0M404.1 253.8h0M401.7 253.4h0M405.1 250.7h0M400.4 251.7h0M405.7 251.9h0M403.2 252.8h0M405.7 252.5h0M405.8 252.3h0M401.3 253.9h0M400.8 253.4h0" stroke="#9fb9cd" stroke-width="1.10" stroke-linecap="round" fill="none"/><path d="M363.9 234.5h0M361.4 236.4h0M364.0 236.6h0M361.3 237.0h0M361.9 237.4h0M358.8 237.0h0M359.9 234.1h0M362.3 237.4h0M359.8 234.3h0M360.9 236.3h0M361.9 236.5h0M360.5 235.7h0M360.1 236.0h0M362.6 237.8h0M362.6 234.1h0M364.8 236.7h0M361.4 232.9h0M360.9 236.3h0M364.3 234.0h0M364.6 237.6h0" stroke="#afc789" stroke-width="1.10" stroke-linecap="round" fill="none"/><path d="M375.9 236.9h0M375.2 235.4h0M380.1 233.8h0M371.2 237.2h0M379.8 235.1h0M372.1 235.6h0M378.7 234.4h0M382.0 235.5h0M376.6 235.8h0M372.2 234.4h0M374.2 234.4h0M372.0 236.2h0M370.8 234.5h0M378.5 236.5h0M377.3 237.2h0M378.5 234.7h0M376.2 236.7h0M374.0 235.1h0M372.8 236.5h0M378.7 234.7h0M371.3 234.8h0M375.7 236.1h0M370.7 235.5h0M371.1 234.2h0M380.7 236.2h0" stroke="#878787" stroke-width="1.10" stroke-linecap="round" fill="none"/><path d="M402.2 227.2h0M403.3 228.3h0M402.5 229.7h0M402.3 226.9h0M404.2 229.1h0M401.1 227.6h0M401.6 227.4h0M401.7 228.9h0M403.8 228.4h0M403.0 227.1h0" stroke="#c41b7a" stroke-width="1.10" stroke-linecap="round" fill="none"/></g>
<g><path d="M296.3 270.5h0M306.9 272.4h0M307.0 272.5h0M298.3 273.5h0M300.4 272.8h0M294.2 273.3h0M300.0 275.0h0M296.4 271.8h0M300.6 272.2h0M304.1 273.0h0M308.5 272.7h0M304.3 271.8h0M297.8 273.5h0M308.7 272.5h0M300.7 275.2h0M306.5 271.7h0M298.6 273.3h0M298.1 273.3h0M290.1 272.9h0M305.7 274.6h0M309.5 273.1h0M300.5 275.2h0M294.2 273.8h0M308.9 272.0h0M301.9 271.9h0M299.3 271.9h0M306.3 272.6h0M297.5 273.8h0M290.8 273.5h0M295.4 273.7h0M292.8 271.4h0M298.9 274.0h0M294.3 273.7h0M295.3 271.3h0M297.7 271.4h0M305.4 272.3h0M299.9 273.4h0M289.9 273.2h0M299.7 274.7h0M304.7 274.6h0M304.4 274.6h0M301.8 273.1h0M292.5 273.2h0M306.8 273.0h0M298.7 273.6h0M296.6 275.3h0M303.1 272.5h0M299.2 271.3h0M294.4 274.0h0M292.5 274.2h0M308.2 272.5h0M293.1 273.9h0M303.2 272.9h0M304.1 273.5h0M295.7 275.0h0M308.0 273.5h0M294.9 271.4h0M299.5 274.5h0M299.7 272.0h0M298.7 274.5h0M306.3 273.7h0M293.3 272.8h0M299.4 274.2h0M302.9 274.9h0M304.6 272.7h0M305.9 271.9h0M306.2 274.1h0M305.4 273.5h0M301.7 271.7h0M304.4 272.7h0M295.2 270.8h0M301.8 271.6h0M298.6 272.3h0M298.0 271.2h0M292.7 271.6h0M294.9 274.4h0M298.0 275.3h0M301.7 273.8h0M290.8 273.9h0M296.8 270.9h0M296.8 271.7h0M298.4 271.1h0M299.0 271.8h0M301.9 271.0h0M297.1 275.0h0M298.5 270.6h0M290.1 273.0h0M297.8 272.4h0M305.6 273.1h0M293.3 272.8h0M304.7 271.0h0M293.8 272.8h0M295.5 275.2h0M296.1 272.2h0M291.8 273.4h0M303.5 274.5h0M294.7 271.8h0M305.6 273.5h0M295.2 272.0h0M301.3 272.7h0M295.6 272.9h0M300.7 271.3h0M304.3 272.4h0M308.6 273.7h0M303.7 274.1h0M291.5 273.2h0M298.7 274.2h0M299.8 274.7h0M298.5 275.3h0M299.7 274.5h0M306.6 274.1h0M299.9 273.5h0M301.4 271.6h0M307.8 273.4h0M307.4 273.5h0M305.0 272.9h0M301.2 273.8h0M302.6 274.7h0M303.4 273.1h0M306.2 274.1h0M304.0 273.7h0M291.6 273.1h0M298.0 272.3h0M298.9 275.0h0M300.5 272.3h0M298.9 271.8h0M305.0 271.6h0M293.2 270.8h0M299.5 275.8h0M302.2 273.0h0M291.5 273.2h0M300.8 274.8h0" stroke="#ce741f" stroke-width="1.10" stroke-linecap="round" fill="none"/><path d="M283.7 280.5h0M285.6 282.3h0M285.6 278.1h0M281.7 282.6h0M283.7 277.5h0M285.2 279.5h0M281.9 282.2h0M279.1 278.4h0M280.1 278.0h0M280.2 278.0h0M287.8 281.6h0M281.9 278.1h0M281.1 281.7h0M280.8 276.4h0M286.5 278.5h0M287.0 279.9h0M285.2 277.6h0M285.2 279.5h0M284.5 280.2h0M280.3 277.8h0M285.2 278.6h0M283.3 281.3h0M285.6 280.1h0M279.1 278.0h0M281.0 278.4h0M283.4 279.7h0M283.5 283.4h0M283.6 281.2h0M283.4 279.6h0M280.8 281.3h0M280.1 281.2h0M280.0 277.7h0M282.2 281.6h0M285.3 281.1h0M279.6 279.8h0M283.0 279.5h0M282.3 277.6h0M286.3 282.1h0M280.3 278.6h0M279.0 278.4h0M282.7 278.1h0M285.2 279.1h0M280.6 278.8h0M286.0 279.0h0M282.8 279.6h0M286.7 277.3h0M284.4 277.4h0M280.4 279.6h0M282.8 278.4h0M282.2 280.3h0M284.7 282.6h0M281.3 282.0h0M280.8 282.1h0M280.0 280.9h0M279.3 281.0h0M280.7 281.9h0M281.1 278.5h0M283.3 280.4h0M283.4 280.0h0M280.9 277.6h0M282.5 280.0h0M283.4 282.6h0M281.7 280.6h0M283.4 281.6h0M280.2 279.9h0M280.0 281.0h0M287.5 279.2h0M280.6 280.7h0M280.8 281.9h0M287.5 279.8h0M283.6 277.2h0M284.8 280.2h0M283.8 276.3h0M280.5 278.0h0M281.7 276.7h0M282.2 279.9h0M281.8 280.7h0M284.9 281.7h0M282.7 279.5h0M283.8 278.2h0M284.0 277.3h0M284.9 277.6h0M278.7 279.7h0M285.9 280.1h0M287.3 280.5h0M285.3 279.5h0M287.6 280.5h0M277.6 280.3h0M279.4 277.6h0M279.1 279.6h0M281.5 282.3h0M284.3 282.1h0M286.5 277.0h0M282.6 280.7h0M285.6 279.1h0M281.8 282.7h0M282.2 281.6h0M284.6 277.0h0M285.8 277.1h0" stroke="#afc789" stroke-width="1.10" stroke-linecap="round" fill="none"/><path d="M297.0 283.2h0M291.9 282.7h0M299.5 282.2h0M292.6 279.6h0M293.8 282.5h0M299.5 279.5h0M299.9 282.5h0M293.4 279.9h0M293.0 284.0h0M301.7 281.3h0M296.2 282.9h0M296.3 280.1h0M294.5 282.3h0M298.2 283.2h0M296.0 281.8h0M298.1 282.9h0M294.1 280.5h0M298.4 280.9h0M293.7 278.7h0M292.7 279.5h0M292.3 279.0h0M290.3 278.5h0M295.0 278.8h0M290.5 282.6h0M289.5 282.2h0M288.8 280.4h0M294.0 280.1h0M301.6 281.6h0M290.7 282.0h0M295.0 284.3h0M290.0 283.5h0M294.9 280.5h0M296.2 278.8h0M300.4 279.3h0M302.1 281.6h0M302.4 280.5h0M290.2 283.2h0M290.5 281.0h0M295.6 278.0h0M302.3 280.6h0M288.1 282.4h0M295.3 278.3h0M298.8 282.4h0M297.8 278.9h0M299.3 282.1h0M297.0 281.0h0M289.4 283.0h0M290.1 281.4h0M298.9 282.6h0M289.8 280.1h0M295.4 282.8h0M300.4 279.9h0M294.6 281.8h0M301.4 279.6h0M300.8 279.7h0M291.7 281.5h0M296.7 277.9h0M291.1 279.6h0M301.4 282.5h0M300.5 281.3h0M289.3 281.8h0M301.1 281.7h0M291.0 283.1h0M294.1 284.3h0M300.7 282.9h0M293.6 278.9h0M297.0 280.0h0M292.7 283.1h0M289.7 281.2h0M296.1 279.2h0M289.3 280.5h0M290.8 280.5h0M289.4 279.4h0M290.9 282.5h0M298.5 281.1h0M299.0 280.2h0M297.0 282.8h0M293.7 278.6h0M298.4 282.2h0M291.4 278.8h0M298.5 279.6h0M295.3 281.4h0M289.9 282.7h0M299.3 281.1h0M291.7 282.0h0M293.0 284.3h0M299.1 282.1h0M290.7 283.7h0M293.3 280.6h0M294.8 284.2h0M289.5 280.9h0M289.8 280.4h0M300.8 279.1h0M295.1 282.9h0M298.3 278.1h0M289.1 282.3h0M302.4 281.1h0M295.5 277.8h0M298.2 279.9h0M297.3 278.7h0M301.2 280.7h0M297.6 279.6h0M295.5 281.7h0M297.2 279.3h0M297.5 280.6h0M289.9 282.9h0M298.5 283.3h0M296.9 282.2h0M297.4 282.9h0M291.5 279.9h0M296.9 278.7h0M299.5 281.3h0M300.6 279.8h0M297.9 278.8h0M297.7 282.6h0M296.3 283.7h0M293.1 279.7h0M301.7 280.6h0M296.6 279.9h0M291.1 279.2h0M288.2 279.6h0M298.4 280.4h0M293.9 282.9h0M293.7 278.4h0M292.6 280.9h0M297.1 282.7h0M299.5 279.9h0M297.5 283.0h0M292.9 283.2h0M291.4 278.0h0M288.2 282.0h0M295.4 278.4h0" stroke="#878787" stroke-width="1.10" stroke-linecap="round" fill="none"/><path d="M297.7 280.7h0M312.5 283.3h0M298.1 281.4h0M297.8 291.2h0M307.7 291.0h0M309.6 294.0h0M312.5 289.8h0M296.3 285.3h0M306.3 294.2h0M313.4 281.6h0M306.8 294.1h0M302.2 290.7h0M297.5 288.5h0M302.6 292.5h0M304.5 286.3h0M302.9 292.2h0M295.8 281.8h0M306.0 292.5h0M310.9 291.2h0M303.7 293.1h0M316.3 284.8h0M303.8 291.8h0M293.9 283.8h0M312.7 281.4h0M297.5 288.6h0M308.0 282.6h0M307.1 289.2h0M297.4 279.3h0M309.9 286.5h0M305.6 284.3h0M305.0 290.7h0M315.8 285.4h0M301.9 291.3h0M312.5 289.8h0M302.2 289.0h0M310.7 293.9h0M311.6 293.2h0M310.8 289.3h0M311.8 292.3h0M306.2 294.8h0M311.4 289.2h0M300.2 282.5h0M307.9 283.9h0M305.3 283.6h0M310.9 287.1h0M305.5 282.3h0M306.8 279.4h0M293.1 285.0h0M317.6 285.2h0M301.6 280.8h0M304.2 290.5h0M304.4 289.6h0M299.5 289.0h0M304.1 282.4h0M300.5 288.5h0M298.8 293.3h0M307.6 293.1h0M298.1 284.3h0M303.2 292.3h0M313.7 288.1h0M306.3 284.2h0M313.8 281.4h0M314.6 290.4h0M308.4 289.1h0M298.0 281.7h0M300.0 291.1h0M300.7 281.3h0M302.0 286.3h0M315.0 286.2h0M316.1 284.2h0M309.5 282.5h0M310.1 287.4h0M309.2 294.4h0M313.1 285.8h0M295.8 288.6h0M308.0 290.3h0M304.7 289.4h0M300.8 279.5h0M297.4 284.7h0M301.1 292.9h0M312.9 286.7h0M308.8 287.2h0M300.0 290.6h0M295.5 289.4h0M311.6 280.1h0M313.2 288.0h0M305.0 293.4h0M305.9 281.9h0M297.4 286.6h0M297.0 287.1h0M308.5 287.1h0M299.2 278.2h0M298.0 292.2h0M303.7 291.3h0M312.4 285.8h0M305.6 289.0h0M302.6 289.2h0M314.3 281.3h0M311.4 290.3h0M297.1 291.1h0M300.9 289.7h0M307.9 287.3h0M303.7 293.0h0M311.0 290.1h0M304.2 291.1h0M302.8 293.0h0M299.6 289.8h0M308.1 285.2h0M300.5 290.8h0M295.1 285.2h0M305.6 280.2h0M297.7 292.1h0M298.3 288.0h0M311.5 281.2h0M309.3 285.8h0M312.8 289.9h0M306.7 289.5h0M295.6 292.0h0M302.2 290.2h0M308.8 288.0h0M308.0 291.9h0M303.6 287.0h0M313.6 283.3h0M304.0 285.5h0M315.4 283.9h0M300.6 288.2h0M312.7 289.6h0M311.5 279.6h0M299.4 289.2h0M300.1 291.9h0M307.5 284.1h0M302.2 281.2h0M309.2 292.5h0M311.0 291.8h0M310.8 289.8h0M310.2 281.2h0M308.5 280.8h0M301.4 292.3h0M315.1 289.2h0M316.5 284.3h0M299.9 290.6h0M303.3 288.0h0M306.2 286.7h0M298.7 284.1h0M298.8 287.3h0M307.4 279.4h0M303.1 290.7h0M314.7 291.9h0M302.2 281.6h0M299.3 280.3h0M307.0 287.8h0M312.9 288.9h0M309.3 290.0h0M303.1 278.5h0M311.8 281.7h0M299.2 280.9h0M312.5 289.3h0M309.9 285.6h0M304.1 291.4h0M305.6 282.7h0M307.2 279.7h0M317.1 286.9h0M300.8 291.4h0M301.5 294.8h0M308.3 278.8h0M313.6 290.7h0M293.4 287.9h0M312.9 282.0h0M305.1 287.3h0M303.0 294.7h0M302.5 282.0h0M307.4 281.6h0M307.3 281.9h0M297.4 286.8h0M311.2 292.5h0M315.3 288.1h0M315.5 284.1h0M308.9 295.0h0M293.5 287.5h0M298.6 291.7h0M302.9 281.3h0M293.6 289.0h0M301.1 293.0h0M297.1 288.5h0M304.8 280.0h0M311.8 293.4h0M312.8 282.1h0M311.9 292.2h0M301.4 279.6h0M308.1 292.2h0M300.9 278.2h0M305.7 294.0h0M305.0 286.4h0M292.7 287.5h0M295.8 288.4h0M299.5 285.2h0M298.8 291.7h0M303.1 282.2h0M307.1 288.3h0M294.9 288.3h0M309.6 279.2h0M298.3 292.2h0M297.3 289.6h0M300.7 288.4h0M303.9 286.2h0M312.8 288.1h0M312.3 282.7h0M308.5 292.3h0M313.4 281.1h0M294.9 284.2h0M311.1 289.0h0M308.2 280.7h0M305.4 289.3h0M297.5 280.8h0M300.1 283.0h0M304.4 286.1h0M293.9 287.9h0M305.2 290.7h0M302.1 283.1h0M306.9 289.0h0M301.3 284.3h0M315.7 288.5h0M309.9 278.5h0M302.1 284.0h0M303.9 285.2h0M305.8 281.0h0M312.8 285.7h0M309.0 285.8h0M306.0 283.2h0M298.8 285.7h0M312.6 285.4h0M305.1 287.4h0M306.6 289.5h0M312.0 286.2h0M314.0 289.5h0M302.9 281.4h0M309.3 282.5h0M312.1 290.9h0M303.3 289.7h0M309.1 293.3h0M293.1 285.0h0M303.0 293.9h0M308.4 291.4h0M303.5 281.4h0M297.8 282.8h0M297.7 291.6h0M303.1 288.4h0M301.4 292.0h0M307.8 280.8h0M309.9 290.9h0M295.8 292.7h0M305.9 279.2h0M308.5 282.4h0M304.8 285.9h0M299.8 283.9h0M294.3 286.6h0M313.4 290.0h0M310.3 279.1h0M303.9 283.1h0M309.6 282.9h0M312.6 290.4h0M311.7 287.6h0M306.8 280.2h0M315.5 287.7h0M305.1 294.4h0M300.1 292.0h0M301.8 287.6h0M307.4 282.8h0M309.1 280.7h0M309.8 292.3h0M305.2 279.7h0M313.9 286.2h0M313.9 288.3h0M315.9 283.2h0M304.2 286.3h0M311.1 290.6h0M302.6 286.8h0M307.3 291.6h0M296.7 292.6h0M301.9 289.5h0M304.3 294.4h0M295.8 283.9h0M306.1 293.9h0M303.7 282.1h0M303.2 285.7h0M311.4 286.0h0M303.1 283.7h0M302.7 293.0h0M300.1 285.8h0M308.8 289.6h0M300.3 284.8h0M306.1 279.7h0M297.3 286.3h0M299.0 283.1h0M309.2 290.9h0M293.3 284.3h0M297.7 287.9h0M304.2 291.7h0M312.6 284.4h0M308.3 288.6h0M300.3 289.6h0M299.2 293.3h0M301.1 287.6h0M294.0 284.6h0M312.9 291.3h0M311.7 284.8h0M294.5 285.7h0M308.8 293.3h0M301.8 281.8h0M301.9 291.6h0M316.6 285.4h0M302.7 291.2h0M311.7 283.5h0M304.0 278.5h0M302.9 279.3h0M307.2 287.9h0M302.0 289.2h0M309.9 285.6h0M312.3 283.1h0M306.1 285.6h0M309.6 293.0h0M297.2 292.0h0M313.3 281.2h0M310.4 291.4h0M308.6 285.3h0M305.2 287.4h0M304.9 287.8h0M302.5 289.8h0M300.6 284.6h0M313.1 292.4h0M293.5 287.7h0M310.3 291.8h0M304.9 279.4h0M298.2 283.7h0M305.9 287.2h0M303.3 282.2h0M306.8 291.5h0M311.5 285.2h0M306.3 292.7h0M312.2 290.8h0M306.6 290.1h0M308.7 290.7h0M301.8 283.7h0M298.8 290.7h0M302.5 288.4h0M300.4 284.2h0M317.0 286.1h0M299.6 287.8h0M301.7 281.5h0M311.2 290.0h0M296.2 291.2h0M308.6 288.8h0M311.7 287.4h0M294.0 284.9h0M304.6 288.0h0M308.8 292.8h0M307.4 281.7h0M310.6 281.8h0M307.5 282.8h0M304.1 293.9h0M315.5 288.1h0M300.1 286.9h0M306.8 283.3h0M306.8 282.4h0M309.9 285.3h0M297.0 287.0h0M304.5 280.5h0M303.5 289.4h0M305.0 285.6h0M303.0 284.8h0M310.2 281.7h0M296.5 287.5h0M313.0 285.4h0M303.2 295.4h0M310.1 291.2h0M299.2 285.0h0M296.3 288.6h0M315.9 284.6h0M309.2 279.6h0M298.5 282.6h0M302.7 291.3h0M306.5 282.9h0M311.8 284.2h0M305.8 290.1h0M299.8 288.2h0M310.4 293.2h0M307.7 281.5h0M308.9 285.9h0M301.3 287.6h0M308.0 288.4h0M303.8 283.9h0M310.5 282.4h0M307.1 281.1h0M308.6 279.2h0M301.5 290.4h0M304.8 279.3h0M311.8 292.4h0M313.0 289.7h0M306.2 278.6h0M301.5 292.4h0M293.1 283.5h0M301.8 288.4h0M305.7 281.2h0M305.7 290.1h0M307.0 279.1h0M307.1 292.8h0M298.8 281.3h0M306.2 284.0h0M304.9 282.4h0M316.1 287.8h0M297.6 287.4h0M298.7 289.2h0M297.3 292.7h0M306.2 280.7h0M312.6 291.6h0M302.4 279.9h0M312.0 280.7h0M301.2 278.8h0M310.0 288.1h0M296.5 281.9h0M304.3 281.3h0M302.4 279.7h0M302.4 284.2h0M315.9 290.2h0M296.9 290.6h0M308.4 292.5h0M308.9 286.5h0M300.0 290.4h0M294.2 287.8h0M305.8 285.2h0M296.7 282.3h0M293.0 286.2h0M295.3 283.1h0M301.6 279.1h0M301.9 283.2h0M296.8 291.0h0M314.7 292.1h0M306.1 282.5h0M308.5 282.8h0M306.9 291.5h0M308.0 283.5h0M298.5 285.2h0M303.8 278.5h0M300.8 285.4h0M312.6 287.7h0M311.5 287.4h0M301.8 286.5h0M297.6 286.5h0M312.8 291.9h0M302.1 281.8h0M303.9 280.6h0M294.7 291.1h0M302.5 284.4h0M299.2 286.3h0M309.3 288.2h0M307.9 292.6h0M310.2 292.0h0M311.2 281.8h0M299.0 279.9h0M294.0 284.6h0M296.0 287.6h0M310.3 281.1h0M309.8 278.4h0M310.8 286.1h0M306.6 294.6h0M307.2 294.2h0M296.5 289.2h0M303.4 289.3h0M302.9 282.7h0M311.1 282.5h0M311.7 282.3h0M302.7 281.7h0M299.6 279.9h0M297.5 288.8h0M305.9 293.7h0M294.9 289.5h0M316.3 288.8h0M296.8 288.0h0M298.0 285.6h0M304.7 289.7h0M300.2 282.4h0M302.4 286.8h0M312.6 286.0h0M303.6 291.6h0M316.5 290.6h0M312.7 287.6h0M295.2 285.3h0M311.4 281.7h0M301.5 291.3h0M311.9 279.7h0M304.7 279.3h0M297.4 287.1h0M301.8 293.6h0M305.3 283.5h0M303.3 278.9h0M299.1 289.1h0M306.7 282.9h0M302.0 287.0h0M309.5 281.9h0M307.0 294.7h0M299.8 292.1h0M310.8 280.4h0M311.7 291.0h0M314.7 290.8h0M300.0 289.9h0M303.7 279.1h0M304.0 290.8h0M310.0 284.4h0M307.1 293.9h0M297.7 280.3h0M299.4 287.1h0M296.6 289.5h0M312.7 283.0h0M297.4 291.3h0M299.5 288.3h0M309.7 284.6h0M299.2 291.3h0M304.0 279.8h0M303.7 283.1h0M316.1 287.8h0M305.4 278.8h0M303.1 287.9h0M314.6 284.3h0M300.6 284.4h0M308.1 287.7h0M307.1 285.8h0M294.7 290.3h0M312.1 281.5h0M309.3 287.9h0M314.0 281.5h0M302.9 287.3h0M312.9 284.2h0M312.5 286.3h0M298.4 281.4h0M298.3 288.7h0M302.0 287.5h0M302.3 285.5h0M305.5 292.6h0M312.3 287.7h0M313.0 290.8h0M296.5 280.8h0M301.2 284.5h0M308.7 292.7h0M309.3 290.7h0M309.6 283.9h0M311.8 284.8h0M301.3 290.2h0M294.3 283.8h0M300.4 285.0h0M308.9 292.6h0M309.0 286.2h0M300.4 294.4h0M298.2 286.2h0M311.1 279.7h0M309.0 282.5h0M299.2 286.9h0M306.0 289.5h0M300.6 282.6h0M310.4 280.8h0M303.9 289.7h0M303.2 279.8h0M299.2 287.9h0M304.4 292.2h0M296.0 284.9h0M300.7 294.5h0M305.1 289.0h0M300.0 284.3h0M304.3 279.5h0M301.5 285.6h0M304.3 283.2h0M296.8 283.8h0M299.5 292.8h0" stroke="#d5bb41" stroke-width="1.10" stroke-linecap="round" fill="none"/><path d="M313.2 289.4h0M311.3 286.0h0M322.6 285.5h0M313.8 283.8h0M320.5 289.3h0M315.7 289.0h0M319.7 282.9h0M320.0 281.5h0M313.4 285.6h0M319.7 280.3h0M312.7 287.3h0M327.4 283.6h0M326.4 282.8h0M323.0 285.9h0M315.2 287.7h0M318.4 290.9h0M326.0 287.9h0M328.1 287.6h0M312.9 287.6h0M327.5 288.6h0M312.5 286.4h0M323.7 287.7h0M314.1 285.8h0M324.1 285.0h0M323.5 280.4h0M316.6 290.9h0M320.5 280.9h0M322.9 292.4h0M316.3 288.4h0M316.1 286.8h0M320.4 278.9h0M320.1 292.8h0M314.1 284.9h0M321.1 288.4h0M312.5 284.7h0M317.2 289.4h0M322.6 285.5h0M320.3 289.5h0M322.4 283.5h0M314.7 289.5h0M312.6 285.9h0M320.4 287.3h0M323.1 289.5h0M326.8 287.6h0M326.1 289.4h0M311.6 284.9h0M317.8 280.4h0M314.0 288.3h0M317.0 285.7h0M320.9 287.8h0M312.6 286.3h0M322.4 288.4h0M323.3 286.1h0M320.5 283.6h0M327.7 289.0h0M316.7 285.9h0M314.7 282.7h0M315.1 285.1h0M318.9 284.5h0M326.0 281.4h0M324.9 281.3h0M321.9 286.4h0M312.1 287.4h0M320.9 289.2h0M318.0 282.5h0M321.4 289.3h0M321.2 287.4h0M317.9 284.6h0M317.3 284.8h0M314.3 290.3h0M316.2 285.5h0M315.6 289.5h0M319.8 287.4h0M320.6 291.4h0M316.9 291.3h0M321.1 288.4h0M321.7 280.8h0M317.6 279.9h0M313.6 287.7h0M320.6 280.7h0M324.8 283.6h0M324.7 283.2h0M311.4 288.1h0M316.8 286.6h0M327.5 287.5h0M323.2 286.3h0M319.2 292.0h0M323.0 280.3h0M319.4 289.3h0M319.0 289.5h0M324.7 288.9h0M326.1 282.7h0M325.2 288.5h0M313.8 289.0h0M314.8 286.8h0M313.7 285.4h0M325.2 288.0h0M323.1 285.2h0M322.0 289.5h0M326.1 284.0h0M317.0 291.8h0M321.9 292.4h0M317.0 282.1h0M320.9 290.8h0M324.6 281.8h0M318.0 283.6h0M322.1 284.4h0M317.1 280.4h0M314.7 292.3h0M320.8 291.5h0M320.3 282.3h0M324.1 291.8h0M319.4 285.8h0M318.9 287.3h0M312.8 288.7h0M321.6 286.4h0M322.9 284.9h0M311.2 287.1h0M319.5 292.2h0M326.6 285.6h0M322.9 285.4h0M322.1 285.6h0M311.7 284.0h0M326.5 287.2h0M326.4 287.5h0M321.0 285.8h0M316.6 288.3h0M318.9 289.5h0M316.1 287.1h0M313.5 284.2h0M312.5 283.0h0M321.8 289.1h0M321.5 280.9h0M319.9 282.5h0M319.5 286.6h0M313.5 284.9h0M322.8 280.2h0M322.4 286.6h0M314.7 286.9h0M317.5 286.8h0M324.4 290.8h0M322.0 282.2h0M313.3 282.1h0M322.2 282.2h0M323.9 285.8h0M316.3 291.5h0M321.9 281.9h0M326.9 286.2h0M325.5 290.3h0M315.5 287.7h0M322.0 280.7h0M322.9 291.4h0M320.5 282.8h0M324.9 287.8h0M318.0 290.0h0M322.0 280.5h0M318.8 290.3h0M319.2 279.5h0M316.9 287.5h0M323.8 290.2h0M320.7 282.0h0M327.8 285.7h0M320.1 284.6h0M320.0 280.5h0M318.7 285.3h0M313.8 284.1h0M325.1 282.8h0M324.4 291.0h0M320.8 285.3h0M318.9 281.5h0M324.6 282.0h0M317.9 284.1h0M318.3 290.5h0M319.9 283.2h0M322.6 292.4h0M315.4 279.9h0M320.4 288.3h0M314.0 284.1h0M318.7 281.1h0M314.8 290.9h0M311.9 287.8h0M316.2 287.2h0M315.1 282.6h0M315.3 291.2h0M310.6 285.3h0M318.7 283.2h0M325.5 289.7h0M312.6 289.0h0M312.8 286.9h0M327.2 282.5h0M320.7 279.9h0M323.0 292.4h0M313.9 282.5h0M316.6 292.7h0M321.1 280.6h0M326.0 283.1h0M320.3 289.1h0M320.4 290.8h0M322.5 290.1h0M317.7 289.9h0M325.7 284.3h0M313.7 281.3h0M317.7 286.0h0M315.1 283.0h0M318.4 292.3h0M313.6 288.2h0M321.6 283.2h0M321.7 282.0h0M312.3 284.2h0M327.4 284.9h0M322.3 282.8h0M314.5 290.2h0M321.2 290.9h0M321.7 290.0h0M311.8 287.3h0M322.8 285.2h0M321.6 279.7h0M318.0 282.1h0M325.6 285.7h0M321.4 288.6h0M325.1 289.7h0M323.0 290.7h0M314.7 286.7h0M320.7 290.6h0M316.3 284.4h0M320.0 284.8h0M319.8 279.8h0M326.5 286.5h0M317.6 282.3h0M320.4 290.3h0M316.8 287.6h0M326.3 285.6h0M315.6 280.9h0M320.4 286.0h0M323.8 286.9h0M313.9 285.6h0M322.6 286.6h0M316.9 285.8h0M316.7 285.0h0M321.6 293.0h0M318.9 287.1h0M315.2 287.0h0M314.4 290.0h0M314.3 291.0h0M316.0 288.6h0M322.8 292.6h0M317.4 292.1h0M324.2 287.7h0M318.2 289.0h0M311.6 284.4h0M313.1 284.6h0M319.4 285.9h0M323.5 289.4h0M317.2 280.4h0M321.5 293.0h0M321.0 284.5h0M314.9 290.3h0" stroke="#578b33" stroke-width="1.10" stroke-linecap="round" fill="none"/><path d="M280.9 288.3h0M274.8 288.0h0M278.1 288.8h0M279.7 284.5h0M273.6 286.9h0M275.7 288.9h0M280.0 289.2h0M281.7 290.1h0M275.0 287.8h0M280.0 284.9h0M282.1 287.7h0M278.7 286.0h0M278.8 287.2h0M276.7 289.5h0M275.6 289.0h0M277.3 288.4h0M276.1 287.1h0M277.4 288.1h0M280.8 287.3h0M276.4 288.9h0M281.6 284.2h0M276.3 289.5h0M282.4 287.6h0M275.1 287.6h0M281.2 289.0h0M278.0 286.5h0M280.4 289.6h0M278.8 287.8h0M275.0 288.7h0M275.7 288.0h0M276.3 289.5h0M274.2 288.4h0M278.6 288.0h0M274.0 289.6h0M274.9 287.8h0M274.3 285.7h0M278.5 288.4h0M278.1 287.3h0M277.5 284.8h0M279.4 289.3h0M275.5 288.0h0M282.1 286.9h0M275.5 285.1h0M280.5 287.0h0M277.3 285.9h0M281.4 286.8h0M280.0 288.6h0M282.0 289.2h0M280.1 288.2h0M279.0 285.6h0M277.4 288.2h0M280.1 289.9h0M277.6 287.8h0M278.1 286.5h0M274.3 286.3h0M277.9 287.6h0M276.7 285.3h0M274.5 286.3h0M281.6 287.4h0M282.0 290.0h0M276.5 286.5h0M279.5 286.3h0M278.6 285.4h0M278.5 287.3h0M277.0 286.3h0M281.4 288.5h0M275.5 285.7h0M275.6 285.6h0M281.4 287.2h0M276.3 288.7h0M280.0 289.8h0M281.9 287.4h0M277.8 286.8h0M279.7 288.9h0M280.4 285.3h0M273.2 288.6h0M280.0 285.7h0M277.5 285.8h0M282.0 287.4h0M279.1 289.5h0M280.3 288.8h0M275.6 287.6h0M276.5 284.8h0M274.3 289.0h0M282.7 287.2h0M272.9 288.1h0M281.3 286.4h0M280.2 288.2h0M280.7 287.7h0M275.6 287.7h0M276.4 287.3h0M282.0 285.2h0M274.2 286.8h0M279.7 287.0h0M276.5 286.9h0M280.7 286.5h0M275.4 287.9h0M278.0 285.6h0M278.0 289.1h0M283.0 286.0h0M276.7 288.1h0M276.4 286.4h0M274.4 288.4h0M282.8 285.9h0M279.6 284.9h0M277.9 289.7h0M281.9 285.1h0M280.1 288.3h0M277.1 286.7h0M274.8 287.8h0" stroke="#894f28" stroke-width="1.10" stroke-linecap="round" fill="none"/><path d="M291.0 290.7h0M286.1 291.5h0M287.8 286.8h0M293.7 285.6h0M287.5 288.6h0M293.9 288.1h0M287.4 287.2h0M292.7 288.5h0M296.9 288.0h0M290.6 284.0h0M290.3 292.0h0M295.1 287.6h0M292.1 287.4h0M289.1 290.1h0M292.6 286.7h0M296.1 287.5h0M289.5 291.4h0M292.6 288.4h0M289.1 287.7h0M294.9 284.3h0M289.1 292.3h0M288.0 289.6h0M288.9 291.2h0M297.7 288.5h0M286.4 288.7h0M284.6 290.5h0M284.0 288.1h0M292.2 288.8h0M295.3 287.9h0M296.2 291.7h0M281.9 289.3h0M293.4 292.4h0M283.8 290.3h0M284.3 290.0h0M291.9 285.0h0M289.0 288.7h0M287.8 286.6h0M294.9 291.3h0M294.3 287.5h0M285.1 289.7h0M285.6 290.9h0M286.0 289.1h0M283.1 288.1h0M284.3 287.3h0M289.0 289.6h0M288.2 285.9h0M294.4 288.2h0M285.0 290.9h0M293.3 288.9h0M287.6 284.3h0M291.2 290.0h0M290.2 291.8h0M284.0 288.6h0M292.1 286.5h0M290.4 290.4h0M294.2 289.0h0M290.0 286.0h0M288.6 290.7h0M286.4 291.1h0M294.2 287.4h0M288.5 290.8h0M289.2 291.4h0M293.3 286.9h0M295.5 291.8h0M291.0 290.3h0M293.7 284.7h0M287.6 292.0h0M293.7 288.9h0M290.4 285.1h0M295.0 288.3h0M288.8 286.4h0M293.1 286.4h0M289.1 289.1h0M283.4 287.5h0M297.4 290.5h0M293.6 287.8h0M287.9 285.8h0M295.5 287.9h0M289.6 290.6h0M296.5 285.8h0M291.8 290.4h0M284.2 286.4h0M285.4 288.6h0M287.3 291.1h0M287.4 287.7h0M288.2 292.5h0M298.0 287.6h0M297.9 289.4h0M285.1 285.6h0M284.6 289.3h0M293.3 289.8h0M291.9 286.2h0M295.1 290.0h0M283.9 290.9h0M283.6 289.1h0M295.5 285.7h0M293.7 284.8h0M289.5 292.3h0M291.3 287.8h0M297.8 289.0h0M285.9 290.7h0M291.6 290.2h0M291.9 292.5h0M289.3 288.5h0M287.5 290.5h0M288.1 291.0h0M292.4 287.1h0M297.7 287.3h0M292.1 287.4h0M292.4 285.9h0M293.2 291.1h0M295.7 286.9h0M293.6 292.4h0M292.7 291.4h0M295.7 285.7h0M292.3 291.7h0M288.7 292.4h0M290.4 291.6h0M288.6 293.1h0M289.3 284.2h0M297.2 285.8h0M286.6 285.1h0M287.0 284.3h0M286.4 289.8h0M284.6 290.6h0M293.5 292.4h0M296.0 286.1h0M285.4 291.6h0M293.5 286.5h0M289.4 285.4h0M286.0 287.9h0M283.3 290.0h0M296.5 286.7h0M294.9 291.5h0M285.7 291.2h0M292.5 284.6h0M297.5 285.9h0M291.6 285.8h0M298.8 288.4h0M295.8 287.5h0M291.1 289.1h0M294.5 286.9h0M291.6 289.0h0M287.6 290.9h0M283.2 289.7h0M289.9 293.2h0M284.6 288.1h0M297.1 288.5h0M287.7 287.8h0M284.0 289.5h0M291.4 288.9h0M284.0 288.4h0M292.2 287.5h0M284.2 288.9h0M287.2 288.3h0M286.4 287.8h0M284.6 287.7h0M286.9 292.1h0M285.0 285.9h0M291.7 285.1h0M282.9 288.5h0M287.8 292.0h0M293.1 285.3h0M282.9 289.0h0M295.5 290.7h0M291.3 288.1h0M288.5 284.7h0M292.0 290.8h0M289.7 291.6h0M290.0 289.2h0M296.8 289.1h0M284.9 285.9h0M285.5 287.2h0M285.7 288.8h0M297.7 290.3h0M288.5 290.9h0M284.5 291.6h0M286.0 287.4h0M294.2 285.4h0M287.8 287.9h0M287.3 289.1h0M282.8 289.0h0M292.5 290.3h0M294.7 291.0h0M289.0 285.4h0M294.7 292.1h0M292.6 293.5h0M284.6 288.1h0M284.3 285.9h0M287.6 284.2h0M292.5 292.8h0M289.6 288.9h0M295.0 286.1h0M294.1 288.2h0M290.9 289.5h0M292.7 292.9h0M295.3 285.4h0M297.5 286.3h0M292.6 288.9h0M294.4 287.8h0M296.1 285.3h0M286.9 290.2h0M284.7 288.8h0M283.3 288.4h0M288.6 287.2h0M290.9 289.6h0M284.6 290.3h0M292.4 284.6h0M297.0 288.5h0M285.8 287.6h0M290.5 284.8h0M291.2 289.9h0M287.7 285.3h0M283.6 290.2h0M295.6 290.6h0M294.9 285.1h0M287.1 284.3h0M286.8 287.5h0M290.0 291.1h0M285.4 286.4h0" stroke="#563589" stroke-width="1.10" stroke-linecap="round" fill="none"/><path d="M299.3 293.3h0M295.1 292.6h0M289.9 292.2h0M295.2 291.9h0M300.4 293.2h0M296.4 293.2h0M297.0 292.1h0M294.5 291.0h0M295.9 292.8h0M300.7 293.4h0M291.4 294.2h0M294.9 292.0h0M299.9 294.0h0M295.6 293.6h0M294.5 293.5h0M294.4 293.2h0M291.8 292.9h0M294.4 294.1h0M294.9 293.9h0M296.6 292.1h0M296.7 291.9h0M291.3 291.9h0M297.0 293.3h0M293.5 290.9h0M298.0 291.3h0M297.9 290.5h0M293.3 293.9h0M298.3 292.7h0M295.8 290.9h0M298.0 294.8h0M291.9 293.5h0M297.8 290.6h0M300.3 291.2h0M296.2 293.0h0M296.7 294.2h0M294.8 292.7h0M294.5 294.0h0M292.8 293.2h0M290.9 292.2h0M292.9 292.3h0M292.8 293.5h0M299.7 294.0h0M297.7 294.0h0M293.9 291.0h0M299.3 293.6h0M296.7 292.9h0M293.3 291.6h0M296.0 290.3h0M291.3 291.7h0M299.9 291.9h0M298.0 294.0h0M301.4 292.0h0M298.3 291.1h0M293.3 291.3h0M298.0 291.2h0M300.8 291.5h0M300.3 293.1h0M295.5 293.3h0M293.3 292.9h0M292.4 292.9h0M292.0 291.0h0M297.8 293.4h0M292.7 293.3h0M296.3 293.4h0M289.4 291.2h0M297.7 290.7h0M296.1 292.3h0M301.8 291.4h0M293.6 292.7h0M296.1 290.9h0M296.9 291.8h0M294.4 292.6h0M297.8 291.4h0M300.6 294.1h0M293.3 290.6h0M296.7 293.5h0M290.5 293.2h0M294.9 293.8h0M294.1 292.8h0M290.9 292.2h0M297.1 291.9h0M293.6 292.8h0M297.7 291.9h0M297.0 293.4h0M296.4 292.7h0M299.8 292.4h0M294.2 293.9h0M297.0 292.9h0" stroke="#d19191" stroke-width="1.10" stroke-linecap="round" fill="none"/><path d="M319.9 297.9h0M314.9 296.0h0M317.6 296.0h0M324.1 296.4h0M321.0 295.4h0M322.3 295.1h0M323.6 296.9h0M320.4 295.5h0M322.4 298.7h0M325.6 296.6h0M319.1 295.8h0M321.1 298.7h0M318.0 299.1h0M320.6 298.0h0M322.4 296.1h0M322.2 298.4h0M317.5 298.7h0M320.0 294.9h0M325.2 297.1h0M319.8 297.3h0M320.7 299.2h0M322.0 296.3h0M322.5 295.9h0M323.7 295.8h0M321.3 298.6h0M323.6 298.7h0M322.8 293.9h0M318.2 297.7h0M316.8 296.2h0M321.4 295.2h0M322.7 294.9h0M319.4 295.5h0M322.8 297.8h0M317.3 295.5h0M320.3 298.2h0M321.2 294.5h0M321.5 295.5h0M321.7 298.2h0M319.5 296.4h0M321.9 297.5h0M322.1 295.9h0M323.9 295.8h0M318.7 296.6h0M318.5 295.2h0M323.2 295.3h0M315.8 296.5h0M323.5 296.1h0M322.2 297.1h0M317.6 298.1h0M325.2 295.5h0M325.7 296.5h0M322.6 296.8h0M322.6 297.8h0M321.3 295.2h0M319.8 299.0h0M320.9 297.1h0M324.1 297.5h0M326.0 296.3h0M320.5 295.2h0M320.6 297.4h0M324.6 296.7h0M322.8 296.6h0M318.1 297.6h0M324.2 296.7h0M322.9 297.4h0M322.0 298.9h0M318.7 298.3h0M324.3 295.9h0M324.5 297.9h0M319.8 294.6h0M323.1 298.6h0M323.4 297.8h0M317.3 295.3h0M318.8 296.0h0M322.9 296.3h0M321.5 297.1h0M319.2 295.4h0M318.6 295.4h0M323.5 298.3h0M316.3 296.6h0M321.5 294.1h0M321.0 296.9h0M319.6 298.5h0M325.6 295.2h0M322.0 298.0h0M319.6 297.0h0M324.6 297.5h0M315.5 297.6h0M321.1 298.4h0M324.6 297.9h0M316.6 297.2h0M319.7 297.4h0M319.9 295.1h0M322.7 298.3h0M317.0 297.0h0M318.6 297.6h0M325.0 297.2h0M321.0 299.2h0M317.5 295.9h0M322.7 297.7h0M319.8 297.7h0M324.2 297.0h0M319.0 295.4h0M323.3 296.9h0M325.4 297.0h0M315.9 295.7h0M317.4 296.5h0M318.2 294.8h0M319.1 297.8h0M318.0 296.9h0" stroke="#9fb9cd" stroke-width="1.10" stroke-linecap="round" fill="none"/><path d="M304.3 299.1h0M302.4 301.4h0M306.3 297.2h0M304.1 300.7h0M298.0 298.0h0M301.2 297.4h0M294.6 297.7h0M308.6 297.3h0M296.9 296.4h0M298.1 298.9h0M310.2 297.6h0M296.9 297.7h0M302.1 298.6h0M296.1 297.3h0M298.0 301.3h0M301.6 298.1h0M298.5 295.8h0M308.1 295.7h0M300.8 295.6h0M295.7 297.2h0M302.1 300.6h0M296.7 296.4h0M294.5 299.1h0M302.1 296.7h0M299.4 295.1h0M303.1 302.0h0M304.3 297.2h0M295.0 299.8h0M302.7 299.7h0M300.0 301.5h0M301.1 295.7h0M303.0 296.3h0M306.4 300.0h0M306.4 298.2h0M302.1 301.9h0M305.0 295.4h0M295.6 297.8h0M296.9 300.4h0M298.8 296.7h0M299.6 298.0h0M294.7 299.5h0M294.5 298.2h0M303.5 302.0h0M310.0 298.1h0M303.3 299.7h0M303.6 299.1h0M292.8 300.6h0M305.9 300.1h0M298.2 299.5h0M308.1 300.8h0M306.7 296.5h0M301.2 299.7h0M295.9 299.2h0M291.7 298.3h0M295.1 299.4h0M300.9 302.2h0M300.2 299.7h0M297.9 297.4h0M308.0 301.0h0M296.2 300.1h0M305.0 294.7h0M302.7 294.9h0M305.0 295.7h0M304.2 298.5h0M301.4 297.5h0M293.7 297.7h0M306.4 296.3h0M294.9 296.3h0M308.1 296.9h0M303.6 294.1h0M303.3 296.6h0M305.4 301.4h0M299.3 300.9h0M293.6 296.3h0M305.0 301.3h0M293.7 298.6h0M300.5 297.4h0M296.5 300.5h0M292.7 301.2h0M299.9 301.1h0M301.7 298.6h0M297.8 295.4h0M310.3 298.0h0M310.6 298.7h0M304.1 303.0h0M295.6 301.4h0M307.2 300.0h0M300.2 302.0h0M307.9 299.7h0M306.2 297.6h0M301.9 303.0h0M294.4 297.4h0M308.1 300.9h0M307.9 301.2h0M294.9 295.3h0M303.4 294.4h0M296.5 296.1h0M298.2 295.2h0M309.4 296.3h0M307.5 300.2h0M303.4 302.1h0M293.6 299.5h0M303.7 299.0h0M301.9 295.6h0M308.5 298.4h0M295.5 298.2h0M299.6 296.8h0M299.1 301.4h0M294.4 295.4h0M298.5 301.7h0M305.9 301.9h0M297.4 298.1h0M308.0 299.7h0M299.1 295.9h0M293.8 300.7h0M297.2 301.0h0M293.2 298.6h0M305.0 301.6h0M300.3 301.2h0M298.9 300.5h0M300.2 300.5h0M293.7 302.4h0M302.9 302.0h0M293.4 299.6h0M298.4 299.1h0M309.7 300.8h0M293.3 299.5h0M306.5 301.4h0M299.8 298.5h0M301.6 296.0h0M294.3 299.3h0M300.3 296.2h0M307.7 299.5h0M303.7 295.9h0M301.4 301.7h0M298.1 296.0h0M301.4 300.2h0M305.1 300.4h0M306.9 297.8h0M295.9 301.5h0M293.6 297.3h0M306.6 295.6h0M304.8 297.8h0M305.8 299.2h0M305.1 299.0h0M300.8 300.2h0M296.5 297.8h0M293.8 300.8h0M297.6 298.1h0M298.0 297.9h0M306.5 295.7h0M305.9 302.3h0M298.1 297.8h0M293.1 298.5h0M303.7 293.8h0M297.5 300.9h0M302.4 295.4h0M310.0 298.0h0M303.5 299.8h0M306.1 299.5h0M294.4 302.2h0M301.6 300.0h0M301.7 295.8h0M306.4 297.8h0M295.8 302.4h0M303.0 294.9h0M306.3 302.7h0M303.4 295.6h0M306.3 299.1h0M307.8 300.5h0M307.2 295.8h0M301.0 297.8h0M298.5 297.6h0M297.6 299.5h0M305.6 296.4h0M297.1 300.8h0M303.0 297.1h0M294.6 300.1h0M306.4 298.5h0M306.4 301.2h0M305.8 296.5h0M296.6 296.8h0M300.2 298.3h0M306.9 295.2h0M297.8 301.2h0M305.7 298.0h0M300.0 298.6h0M305.3 301.7h0M301.8 295.0h0M299.2 301.6h0M302.5 299.8h0M298.6 298.5h0M299.0 301.5h0M296.5 299.1h0M304.4 298.3h0M291.3 299.5h0M308.2 297.7h0M302.5 294.8h0M303.7 297.6h0M309.7 298.4h0M307.1 298.1h0M294.7 295.8h0M297.6 295.1h0M294.4 297.7h0M301.1 302.3h0M307.2 301.1h0M309.8 297.4h0M307.3 297.3h0M295.4 296.9h0M306.4 295.9h0M309.2 298.8h0M300.3 296.3h0M306.7 300.8h0M299.3 297.1h0M296.2 294.5h0M297.0 303.0h0M300.2 296.7h0M307.5 295.7h0M298.2 300.6h0M305.6 299.0h0M291.7 298.3h0M299.5 300.8h0M306.8 295.8h0M300.3 300.3h0M303.8 298.9h0M303.2 302.8h0M293.1 297.5h0M299.8 295.6h0M296.8 296.6h0M304.5 300.7h0M299.0 301.2h0M299.7 299.3h0M297.4 296.0h0M300.8 302.8h0M307.2 298.1h0M305.6 296.3h0M309.1 298.1h0" stroke="#3b669f" stroke-width="1.10" stroke-linecap="round" fill="none"/><path d="M308.5 304.8h0M314.8 303.6h0M310.8 303.5h0M307.2 304.2h0M309.9 304.6h0M305.5 304.2h0M312.5 306.8h0M307.4 304.1h0M312.6 302.8h0M312.2 306.4h0M313.9 302.6h0M309.0 306.1h0M308.3 303.8h0M312.5 307.2h0M307.7 305.0h0M315.5 305.0h0M312.0 304.7h0M306.4 305.1h0M307.3 305.1h0M311.8 304.6h0M311.5 303.2h0M311.1 305.7h0M312.8 305.6h0M310.9 306.1h0M307.9 303.8h0M312.4 303.5h0M308.2 303.6h0M309.3 304.6h0M312.2 303.4h0M312.1 303.4h0M313.1 304.8h0M311.5 302.5h0M309.7 305.3h0M313.2 304.8h0M311.8 306.0h0M311.7 305.0h0M313.0 305.4h0M315.5 306.1h0M310.0 305.6h0M312.9 304.1h0M308.4 305.4h0M313.8 306.6h0M313.1 302.8h0M310.2 305.6h0M311.4 305.8h0M310.8 305.9h0M315.0 305.7h0M312.5 306.5h0M314.7 305.2h0M309.4 304.5h0M307.5 306.2h0M308.5 303.4h0M311.4 301.9h0M313.3 305.8h0M308.4 305.0h0M314.2 304.5h0M309.3 305.5h0M309.2 302.9h0M315.1 305.6h0M310.5 305.2h0M310.3 304.4h0M307.8 306.9h0M309.9 303.0h0M312.9 303.1h0M310.6 303.2h0M308.0 302.8h0M314.9 303.8h0M312.2 304.3h0M307.3 305.8h0M313.4 304.1h0M313.9 303.1h0M311.8 306.0h0M314.7 303.7h0M308.5 303.1h0M310.0 303.7h0M313.1 304.8h0M314.6 305.2h0M310.0 304.3h0M308.6 305.0h0M309.9 302.8h0M312.6 306.4h0M313.4 303.9h0M314.2 305.1h0M307.4 304.4h0M311.8 304.3h0M309.3 303.3h0M310.4 307.3h0M312.9 306.1h0" stroke="#b4a2c2" stroke-width="1.10" stroke-linecap="round" fill="none"/><path d="M295.8 307.5h0M294.0 307.2h0M293.3 305.4h0M292.8 307.2h0M293.6 307.8h0M294.8 306.0h0M293.7 307.5h0M294.8 306.1h0M294.3 306.8h0M295.5 306.4h0M292.2 305.9h0M291.7 307.8h0M293.1 307.3h0M297.1 306.3h0M293.0 305.5h0M295.7 307.3h0M296.0 306.8h0M293.5 306.9h0M293.3 307.6h0M295.2 306.0h0M291.6 306.8h0M294.1 306.5h0M294.9 306.2h0M295.5 307.0h0M292.6 306.5h0M295.6 307.9h0M294.6 305.2h0M292.4 306.9h0M293.9 307.7h0M294.9 307.5h0M294.5 307.7h0M292.2 307.4h0M294.5 306.4h0M294.2 308.6h0M291.9 307.3h0M291.8 306.0h0M293.0 308.0h0M292.8 307.1h0M294.2 307.5h0M296.7 308.2h0M291.8 306.9h0M295.0 308.2h0M294.7 308.2h0M293.1 307.0h0" stroke="#b01d22" stroke-width="1.10" stroke-linecap="round" fill="none"/><path d="M322.1 275.2h0M320.4 272.5h0M322.0 272.8h0M323.3 272.5h0M323.7 273.5h0M322.5 274.3h0M323.1 274.6h0M320.2 274.3h0M321.8 273.3h0M322.4 272.2h0M320.5 273.4h0M323.4 273.7h0M320.5 274.5h0M321.7 272.8h0M321.7 272.8h0M322.3 273.7h0M322.0 274.3h0" stroke="#c41b7a" stroke-width="1.10" stroke-linecap="round" fill="none"/><path d="M313.2 274.4h0M313.9 275.7h0M313.7 274.2h0M313.3 273.5h0M314.2 272.6h0M313.9 274.0h0M312.9 273.8h0M314.9 273.0h0M314.6 273.5h0M312.7 273.9h0M314.4 274.3h0" stroke="#52afb7" stroke-width="1.10" stroke-linecap="round" fill="none"/></g>
<g><path d="M372.6 272.7h0M386.8 272.0h0M384.2 271.6h0M387.4 271.5h0M387.0 270.3h0M385.7 273.1h0M376.2 275.0h0M382.9 272.0h0M384.2 271.7h0M375.8 270.4h0M375.0 269.7h0M373.3 272.2h0M383.4 274.3h0M382.3 271.3h0M383.5 269.5h0M376.8 273.8h0M375.5 270.3h0M379.9 271.5h0M382.4 274.6h0M382.0 269.7h0M381.9 271.8h0M381.3 274.1h0M379.2 272.9h0M376.3 269.0h0M387.2 271.6h0M378.7 274.0h0M384.0 271.1h0M386.6 270.4h0M377.6 268.9h0M369.8 272.4h0M379.1 274.1h0M374.2 269.5h0M377.8 273.0h0M377.8 273.3h0M375.4 270.3h0M377.8 269.6h0M387.8 271.6h0M386.6 269.3h0M379.5 273.8h0M384.3 272.1h0M378.1 270.4h0M382.2 273.8h0M378.5 272.2h0M372.8 271.4h0M374.5 270.0h0M373.2 273.7h0M377.1 273.5h0M377.2 273.8h0M384.3 269.6h0M380.5 271.3h0M382.5 274.5h0M378.4 271.3h0M381.0 269.9h0M380.8 271.1h0M373.5 273.2h0M376.4 270.2h0M386.7 273.5h0M388.6 272.3h0M380.1 272.3h0M378.7 274.9h0M383.2 273.5h0M377.3 270.2h0M380.2 269.6h0M378.7 270.7h0M385.8 273.3h0M386.7 273.2h0M387.4 273.5h0M371.7 271.3h0M378.4 273.7h0M370.7 271.8h0M385.5 273.1h0M376.0 274.1h0M379.7 269.5h0M384.4 270.6h0M375.4 271.6h0M382.3 273.1h0M372.7 270.5h0M373.4 271.6h0M381.6 274.0h0M381.6 270.2h0M383.1 271.0h0M377.4 273.1h0M383.2 273.1h0M374.8 270.2h0M373.0 271.9h0M386.4 271.5h0M379.2 268.8h0M374.9 269.5h0M389.3 271.3h0M373.1 272.4h0" stroke="#ce741f" stroke-width="1.10" stroke-linecap="round" fill="none"/><path d="M381.3 274.6h0M373.4 280.2h0M385.7 275.5h0M377.3 279.7h0M389.5 289.3h0M387.6 272.8h0M383.1 286.9h0M393.7 290.0h0M372.2 281.0h0M390.5 272.1h0M384.2 290.4h0M383.0 272.4h0M375.0 287.6h0M392.8 291.5h0M395.3 285.3h0M379.8 283.4h0M397.3 282.1h0M384.1 294.0h0M378.5 287.4h0M381.5 281.0h0M373.7 287.2h0M376.3 290.1h0M370.7 275.8h0M381.8 278.5h0M392.6 286.4h0M375.3 276.0h0M385.3 276.9h0M390.6 286.8h0M370.9 278.8h0M376.2 290.8h0M393.2 273.8h0M379.1 275.2h0M384.2 277.5h0M390.5 282.7h0M367.5 282.3h0M383.4 287.2h0M398.0 283.5h0M379.5 292.5h0M392.9 288.1h0M371.3 277.1h0M391.9 288.1h0M396.5 285.2h0M381.5 276.6h0M392.3 276.7h0M386.8 277.7h0M384.7 287.4h0M374.6 274.7h0M382.8 282.2h0M375.4 281.1h0M398.6 280.0h0M386.4 284.3h0M380.9 282.3h0M382.5 274.2h0M377.4 279.3h0M391.2 274.2h0M386.8 281.0h0M382.5 293.5h0M396.8 280.8h0M399.0 283.0h0M378.5 280.6h0M370.9 278.4h0M388.7 291.0h0M387.3 283.1h0M386.9 279.1h0M380.6 271.6h0M375.0 273.3h0M381.6 280.3h0M376.0 281.9h0M374.3 290.8h0M371.6 287.6h0M396.5 284.5h0M396.6 286.0h0M385.9 276.5h0M382.1 288.5h0M371.3 280.4h0M387.7 285.4h0M387.5 278.5h0M378.8 274.6h0M394.4 277.2h0M381.8 288.8h0M387.1 288.3h0M379.6 283.5h0M385.8 272.4h0M396.2 288.5h0M370.2 280.4h0M374.2 282.2h0M385.2 280.7h0M382.7 272.0h0M373.3 286.3h0M379.0 288.9h0M398.0 277.8h0M378.2 291.9h0M380.8 286.0h0M383.3 280.3h0M374.9 273.3h0M396.6 284.8h0M395.3 283.8h0M377.2 275.5h0M391.5 289.3h0M396.7 279.1h0M384.5 293.3h0M386.3 287.1h0M381.6 290.1h0M377.8 272.4h0M386.7 277.1h0M390.6 291.3h0M372.4 279.5h0M377.2 272.5h0M386.2 288.5h0M376.9 279.0h0M373.3 286.5h0M375.4 282.5h0M383.8 289.8h0M386.6 292.6h0M385.4 284.8h0M377.4 275.8h0M386.5 282.1h0M382.3 288.4h0M368.5 279.6h0M388.1 277.6h0M394.0 287.5h0M379.5 290.2h0M382.1 292.9h0M384.7 273.0h0M386.7 290.2h0M373.9 283.9h0M396.0 279.3h0M369.9 278.8h0M380.9 277.5h0M391.4 287.2h0M377.2 288.7h0M381.6 271.3h0M386.8 280.9h0M389.9 276.5h0M381.5 272.7h0M386.3 279.4h0M385.5 282.8h0M391.5 285.8h0M380.7 281.4h0M374.5 281.4h0M371.9 275.3h0M391.7 275.0h0M387.3 285.7h0M381.2 289.7h0M393.9 282.7h0M376.2 292.2h0M379.8 285.8h0M385.6 275.2h0M388.4 273.7h0M370.7 283.4h0M375.9 280.1h0M382.2 287.9h0M387.7 287.6h0M387.9 281.8h0M383.2 274.9h0M384.6 280.6h0M374.4 276.6h0M393.9 278.3h0M394.8 282.8h0M383.5 274.7h0M377.3 280.6h0M374.8 274.1h0M391.8 282.8h0M387.4 290.8h0M386.7 278.4h0M381.4 285.2h0M392.7 280.1h0M389.6 285.9h0M395.9 276.6h0M387.6 290.0h0M384.5 288.9h0M392.9 280.6h0M393.8 281.1h0M390.4 289.7h0M379.8 281.3h0M373.9 288.9h0M396.5 280.1h0M382.0 288.5h0M394.3 289.0h0M393.2 281.6h0M374.5 282.9h0M376.8 290.4h0M388.0 280.9h0M383.6 282.9h0M384.2 290.3h0M380.8 271.8h0M397.5 284.7h0M390.1 281.8h0M383.0 277.6h0M380.4 288.3h0M395.7 285.2h0M373.2 282.1h0M388.4 281.7h0M386.9 289.2h0M379.2 277.8h0M379.0 284.4h0M392.0 287.4h0M378.6 289.1h0M371.5 276.7h0M380.8 274.9h0M374.9 273.2h0M381.0 271.6h0M381.8 289.6h0M381.8 278.6h0M394.8 276.2h0M382.7 285.9h0M380.4 280.1h0M379.7 291.0h0M370.8 287.9h0M382.7 285.3h0M389.5 288.0h0M374.8 288.7h0M389.6 292.5h0M384.4 287.7h0M374.8 289.6h0M371.8 282.2h0M379.0 274.2h0M380.8 276.5h0M390.0 283.6h0M380.2 284.8h0M381.3 284.4h0M376.6 272.2h0M378.7 275.2h0M387.5 273.7h0M390.5 279.1h0M385.8 291.2h0M371.2 276.8h0M393.7 277.6h0M379.2 285.3h0M384.2 288.1h0M394.0 278.1h0M399.4 282.8h0M395.8 284.7h0M390.0 288.8h0M388.1 287.6h0M388.1 281.8h0M369.0 282.6h0M375.7 288.5h0M388.7 276.9h0M369.4 281.4h0M389.3 285.2h0M379.8 289.9h0M372.1 282.5h0M372.2 281.1h0M384.3 286.4h0M372.3 289.4h0M392.2 278.7h0M387.1 290.5h0M383.6 286.9h0M391.8 285.1h0M369.1 285.5h0M381.2 282.8h0M381.9 288.7h0M384.0 285.0h0M375.2 285.0h0M376.6 292.0h0M378.3 283.1h0M383.0 279.3h0M390.2 276.6h0M376.5 283.3h0" stroke="#d5bb41" stroke-width="1.10" stroke-linecap="round" fill="none"/><path d="M403.1 279.4h0M402.5 280.7h0M406.2 287.5h0M398.8 280.4h0M400.0 282.6h0M403.6 286.8h0M405.6 283.6h0M401.9 289.7h0M402.6 288.4h0M400.5 286.8h0M403.5 279.1h0M402.3 288.8h0M402.5 285.7h0M403.7 288.6h0M404.6 280.2h0M402.1 287.7h0M403.4 289.3h0M405.9 285.5h0M397.7 280.8h0M402.8 279.5h0M396.8 287.7h0M397.3 285.9h0M397.7 286.7h0M399.8 284.3h0M407.1 286.9h0M404.8 282.7h0M404.5 283.6h0M399.5 282.3h0M405.9 285.8h0M402.0 279.5h0M396.3 286.7h0M405.6 280.8h0M397.6 280.3h0M405.8 287.1h0M399.8 279.8h0M404.0 280.2h0M396.3 285.0h0M405.1 286.0h0M399.9 285.3h0M396.7 285.4h0M400.9 288.2h0M403.4 287.6h0M400.3 286.5h0M401.6 290.1h0M400.4 288.9h0M403.1 284.3h0M403.5 281.7h0M404.0 287.1h0M400.3 280.3h0M406.5 285.0h0M404.2 281.7h0M405.2 283.9h0M399.1 287.8h0M399.9 284.6h0M404.9 288.0h0M401.7 283.1h0M406.3 284.6h0M404.1 282.5h0M400.0 279.2h0M399.7 287.3h0M404.2 288.8h0M398.7 285.8h0M398.2 280.3h0M406.8 287.2h0M404.1 288.0h0M404.2 283.5h0M406.7 287.4h0M404.9 279.5h0M400.3 286.7h0M404.8 288.5h0M398.6 284.1h0M405.2 283.2h0M401.6 280.0h0M400.8 286.7h0M401.6 284.0h0M396.9 283.4h0M397.7 281.8h0M398.7 288.5h0M401.3 286.3h0M398.3 283.3h0M400.6 278.3h0M406.0 284.8h0M405.8 284.1h0M401.9 282.3h0M403.7 280.4h0M405.8 281.7h0M405.4 287.3h0M404.4 289.0h0M402.4 286.0h0M398.7 287.7h0" stroke="#578b33" stroke-width="1.10" stroke-linecap="round" fill="none"/><path d="M360.6 286.7h0M354.2 287.1h0M358.1 288.0h0M358.9 286.2h0M360.1 285.8h0M354.7 287.5h0M359.1 286.8h0M356.9 287.1h0M358.2 286.4h0M355.9 289.7h0M360.4 288.8h0M358.0 290.0h0M361.5 288.9h0M358.9 285.1h0M354.4 287.6h0M358.1 286.1h0M359.8 288.0h0M361.4 285.6h0M362.5 287.5h0M361.0 289.2h0M359.8 286.2h0M356.1 286.8h0M357.5 290.2h0M359.9 290.0h0M361.4 286.8h0M359.3 288.6h0M360.1 285.0h0M360.5 286.2h0M358.7 285.9h0M357.1 287.5h0M358.8 289.2h0M361.6 286.9h0M361.8 288.7h0M359.4 285.8h0M361.0 285.0h0M358.5 288.8h0M356.8 286.9h0M360.4 289.6h0M357.5 286.6h0M356.7 288.4h0M358.3 287.6h0M360.7 288.6h0M362.2 285.0h0M358.6 285.2h0M356.7 286.0h0M359.0 284.3h0M360.4 285.8h0M361.4 286.7h0M355.9 286.3h0M358.5 286.2h0M357.9 287.5h0M361.8 287.0h0M356.9 285.0h0M359.2 285.3h0M360.7 289.9h0M362.0 287.7h0M355.7 285.5h0M360.5 287.5h0M357.4 288.8h0M356.2 287.8h0" stroke="#894f28" stroke-width="1.10" stroke-linecap="round" fill="none"/><path d="M366.4 290.2h0M368.3 290.9h0M372.8 289.4h0M369.9 291.0h0M370.8 288.7h0M371.7 288.1h0M369.5 292.1h0M366.0 290.2h0M370.1 287.8h0M370.9 293.0h0M378.3 289.8h0M372.5 287.8h0M377.0 289.2h0M368.1 292.2h0M369.9 288.0h0M368.1 290.8h0M376.4 291.6h0M372.1 290.0h0M375.8 288.7h0M370.1 288.5h0M374.2 288.4h0M367.9 287.7h0M373.9 288.7h0M367.2 287.3h0M366.7 292.1h0M370.6 288.8h0M369.0 290.4h0M369.7 291.3h0M370.5 288.4h0M370.3 287.7h0M371.3 288.1h0M373.4 290.9h0M375.0 290.7h0M372.4 292.8h0M366.8 288.1h0" stroke="#563589" stroke-width="1.10" stroke-linecap="round" fill="none"/><path d="M370.7 297.3h0M374.4 299.6h0M375.0 295.6h0M374.5 299.6h0M378.6 296.2h0M371.6 297.7h0M371.6 298.5h0M377.1 295.7h0M372.9 296.2h0M372.8 295.3h0M372.2 297.7h0M377.6 298.9h0M378.2 298.1h0M375.1 296.9h0M370.2 297.7h0M374.3 296.9h0M377.6 296.0h0M371.7 298.8h0M375.1 299.0h0M376.1 298.3h0M375.2 299.3h0M374.8 296.4h0M373.9 299.1h0M377.0 295.4h0M376.7 295.8h0M373.0 297.4h0M372.6 297.5h0M378.8 297.1h0M377.2 297.2h0M378.1 298.2h0M373.8 299.6h0M373.0 298.8h0M370.7 298.8h0M373.7 295.8h0M378.6 295.9h0" stroke="#3b669f" stroke-width="1.10" stroke-linecap="round" fill="none"/><path d="M388.4 303.8h0M388.3 303.2h0M386.2 303.8h0M388.6 304.5h0M385.8 304.4h0M387.6 305.5h0M390.5 305.4h0M390.8 304.1h0M389.7 304.1h0M389.5 303.6h0M389.3 304.5h0M387.6 303.8h0M389.1 302.9h0M388.4 304.9h0M385.1 303.9h0M388.0 302.5h0M388.2 303.4h0M386.5 303.1h0" stroke="#b4a2c2" stroke-width="1.10" stroke-linecap="round" fill="none"/><path d="M375.7 306.4h0M373.7 304.5h0M374.3 306.5h0M375.3 305.5h0M374.7 307.1h0M374.5 306.1h0M375.1 306.0h0M374.7 305.0h0M375.9 304.9h0M373.6 307.0h0M374.1 307.5h0M375.2 306.2h0" stroke="#b01d22" stroke-width="1.10" stroke-linecap="round" fill="none"/><path d="M404.7 273.1h0M402.7 272.0h0M403.3 271.6h0M402.9 271.9h0M403.1 271.4h0M403.3 271.5h0" stroke="#c41b7a" stroke-width="1.10" stroke-linecap="round" fill="none"/><path d="M396.8 294.8h0M399.9 296.3h0M400.0 293.7h0M401.7 293.4h0M402.3 294.5h0M404.2 294.3h0M403.6 296.8h0M403.5 293.4h0M406.0 294.5h0M402.1 298.7h0M398.3 295.3h0M405.9 295.1h0" stroke="#9fb9cd" stroke-width="1.10" stroke-linecap="round" fill="none"/><path d="M361.4 276.9h0M359.4 280.0h0M364.7 279.4h0M363.9 278.4h0M363.6 278.3h0M363.0 279.4h0M363.2 279.9h0M360.4 277.5h0M363.0 279.3h0M362.2 279.9h0M365.7 278.9h0M366.2 277.8h0" stroke="#afc789" stroke-width="1.10" stroke-linecap="round" fill="none"/></g>
<g fill="#5ec7d0"><circle cx="342.7" cy="240.8" r="0.7"/><circle cx="421.5" cy="240.5" r="0.9"/><circle cx="423" cy="239.8" r="0.9"/><circle cx="420.5" cy="285.5" r="0.8"/><circle cx="422.5" cy="284.8" r="0.8"/></g>
<g stroke="#000" stroke-width="2.5" fill="none"><path d="M267.1 321.1V270"/><path d="M265.9 319.9H316"/></g>
<path d="M262.8 272.5L267.1 264.3L271.4 272.5Z M314.2 315.6L322.2 319.9L314.2 324.2Z" fill="#000"/>
<g font-size="11.5" fill="#000"><text transform="translate(263.2 302.1) rotate(-90)" text-anchor="middle">UMAP2</text><text x="265.3" y="332">UMAP1</text></g>
<g font-size="8.5" text-anchor="middle" fill="#000"><text transform="translate(427.3 242.2) rotate(90)">IAV</text><text transform="translate(427.3 286.1) rotate(90)">Naive</text></g>
<text x="438.8" y="266.6" font-size="11" fill="#000">Celltype</text>
<g stroke="#9a9a9a" stroke-width="0.35"><circle cx="443.4" cy="275.10" r="3.3" fill="#f3d54a"/><circle cx="443.4" cy="285.03" r="3.3" fill="#4475b5"/><circle cx="443.4" cy="294.96" r="3.3" fill="#639f3b"/><circle cx="443.4" cy="304.89" r="3.3" fill="#623d9c"/><circle cx="443.4" cy="314.82" r="3.3" fill="#9a9a9a"/><circle cx="443.4" cy="324.75" r="3.3" fill="#b5d3ea"/><circle cx="443.4" cy="334.68" r="3.3" fill="#eb8424"/><circle cx="443.4" cy="344.61" r="3.3" fill="#9c5a2e"/><circle cx="443.4" cy="354.54" r="3.3" fill="#c7e39c"/><circle cx="443.4" cy="364.47" r="3.3" fill="#cdb9dd"/><circle cx="443.4" cy="374.40" r="3.3" fill="#eea5a5"/><circle cx="443.4" cy="384.33" r="3.3" fill="#c92127"/><circle cx="443.4" cy="394.26" r="3.3" fill="#5ec7d0"/><circle cx="443.4" cy="406.8" r="3.3" fill="#df1f8b"/><circle cx="443.4" cy="419.7" r="3.3" fill="#a9d9cb"/></g>
<g font-size="6.9" fill="#1a1a1a" stroke="#1a1a1a" stroke-width="0.09"><text x="452" y="277.60">Th1</text><text x="452" y="287.53">Cytotoxic CD4</text><text x="452" y="297.46">Quiescent memory</text><text x="452" y="307.39">Tfh.1</text><text x="452" y="317.32">Acutely activated</text><text x="452" y="327.25">Naive</text><text x="452" y="337.18">Th17</text><text x="452" y="347.11">Treg</text><text x="452" y="357.04">Early activated</text><text x="452" y="366.97">NKT</text><text x="452" y="376.90">Tfh.2</text><text x="452" y="386.83">IFN response</text><text x="452" y="396.76">Ciliated cells</text><text x="452" y="405.8">Mesenchymal</text><text x="452" y="412.4">Progenitor Cell</text><text x="452" y="422.2">Club cells</text></g>
<text x="245.2" y="373.8" font-size="26.6" fill="#000">D</text>
<g font-size="8.5" text-anchor="middle" fill="#000"><text x="303" y="360.5">HA</text><text x="387.7" y="360.5">NP</text></g>
<g><path d="M317.7 367.0h0M299.5 367.4h0M309.7 371.0h0M310.0 368.2h0M295.8 368.4h0M308.0 365.6h0M314.0 367.7h0M297.4 367.6h0M295.5 368.7h0M303.6 367.9h0M309.1 367.4h0M311.7 368.5h0M302.8 370.6h0M308.2 366.5h0M309.1 365.6h0M293.7 367.0h0M313.5 371.4h0M316.9 367.7h0M308.6 365.3h0M307.3 366.6h0M307.3 369.4h0M317.8 367.5h0M300.3 368.0h0M307.1 370.2h0M300.8 370.0h0M303.1 365.8h0M302.5 367.8h0M306.6 365.9h0M313.8 370.6h0M310.1 367.1h0M298.2 368.3h0M298.4 368.9h0M299.7 371.2h0M310.0 371.4h0M303.2 368.4h0M302.4 366.2h0M304.4 371.8h0M312.6 366.1h0M301.0 367.9h0M302.3 371.8h0M295.8 370.0h0M306.8 370.3h0M305.3 371.4h0M301.7 368.6h0M311.0 367.0h0M317.8 368.5h0M306.3 371.1h0M314.8 370.4h0M306.6 369.0h0M313.0 371.0h0M317.1 369.4h0M295.2 368.7h0M310.3 366.1h0M309.5 369.0h0M299.7 368.9h0M311.1 367.5h0M305.6 366.4h0M319.4 368.5h0M309.1 365.8h0M304.4 365.8h0M285.0 377.2h0M287.9 373.6h0M284.1 379.3h0M289.3 373.3h0M282.5 373.6h0M290.8 375.9h0M288.2 374.1h0M291.2 376.6h0M285.2 373.2h0M284.5 375.3h0M285.3 376.0h0M288.9 379.4h0M286.0 372.9h0M283.1 379.9h0M282.4 375.9h0M287.5 375.4h0M287.6 374.2h0M287.2 374.4h0M290.7 378.6h0M288.8 372.7h0M281.4 375.4h0M283.6 373.9h0M286.5 374.8h0M286.5 376.9h0M286.9 375.4h0M282.8 374.2h0M289.1 379.5h0M279.8 376.4h0M288.8 376.7h0M288.2 373.8h0M286.0 376.7h0M282.3 374.4h0M280.9 375.1h0M288.0 373.3h0M290.2 372.8h0M289.0 378.5h0M280.8 375.9h0M287.1 378.3h0M288.7 378.9h0M281.9 373.2h0M288.1 378.1h0M285.7 376.3h0M286.3 373.0h0M288.3 377.7h0M281.7 378.6h0M304.8 381.1h0M305.6 375.1h0M298.7 373.7h0M307.8 376.9h0M297.2 380.5h0M295.1 374.9h0M294.2 379.6h0M299.8 379.3h0M299.4 379.1h0M307.0 375.7h0M300.0 379.0h0M307.0 377.5h0M306.4 379.3h0M307.8 375.0h0M304.1 377.0h0M299.4 375.6h0M301.6 377.6h0M302.0 376.8h0M305.7 379.3h0M306.2 380.4h0M300.7 374.7h0M306.4 374.8h0M299.8 379.8h0M300.3 373.9h0M298.5 377.5h0M307.3 376.3h0M306.3 376.1h0M307.4 376.9h0M294.6 375.9h0M296.7 377.4h0M301.8 377.2h0M307.9 377.8h0M304.4 381.5h0M297.9 376.6h0M302.8 379.4h0M297.0 377.5h0M296.5 380.4h0M297.9 380.2h0M304.0 376.2h0M304.6 379.1h0M303.1 378.4h0M294.8 377.9h0M308.6 378.9h0M296.0 375.5h0M299.6 380.8h0M306.4 376.4h0M305.0 375.1h0M302.9 374.2h0M307.2 378.3h0M301.8 379.7h0M303.6 375.9h0M305.0 377.3h0M302.1 380.6h0M299.0 378.1h0M307.5 379.8h0M302.1 376.3h0M300.6 374.6h0M296.6 380.7h0M308.9 375.7h0M305.4 380.8h0M306.5 383.9h0M298.7 386.7h0M312.5 379.5h0M317.0 378.2h0M303.3 386.3h0M307.6 391.1h0M309.8 379.2h0M304.9 381.3h0M316.4 388.7h0M315.4 379.1h0M316.6 391.9h0M310.2 380.4h0M318.6 383.5h0M309.4 390.8h0M310.6 377.7h0M307.7 381.6h0M314.0 377.7h0M314.9 386.1h0M324.6 389.5h0M309.2 384.3h0M312.9 377.9h0M315.8 379.5h0M314.7 376.5h0M311.3 389.5h0M320.1 389.3h0M312.7 382.1h0M313.3 375.3h0M313.4 389.6h0M305.8 380.9h0M312.5 388.9h0M301.3 384.6h0M304.6 392.5h0M321.8 379.7h0M313.9 376.6h0M304.0 376.7h0M311.6 379.8h0M307.7 380.6h0M316.0 376.0h0M313.3 391.0h0M306.8 383.9h0M304.2 383.0h0M307.1 378.7h0M309.6 378.6h0M316.0 385.7h0M307.0 386.3h0M310.2 389.6h0M313.5 385.3h0M308.4 379.9h0M320.1 376.3h0M316.0 378.3h0M323.1 382.0h0M304.0 383.8h0M318.4 389.0h0M311.8 386.7h0M323.3 385.7h0M306.6 383.4h0M320.0 383.1h0M313.4 392.4h0M310.6 386.5h0M315.1 378.7h0M319.0 379.6h0M316.6 382.1h0M316.6 375.6h0M315.3 387.0h0M311.1 390.5h0M313.6 379.2h0M313.3 387.1h0M323.6 387.6h0M323.6 385.8h0M323.8 392.2h0M319.7 375.5h0M305.5 379.4h0M318.2 380.0h0M326.0 388.4h0M326.5 384.3h0M301.7 385.8h0M323.1 381.7h0M313.6 379.7h0M319.7 389.1h0M321.5 380.1h0M311.0 378.2h0M310.5 384.3h0M311.7 391.8h0M302.6 386.7h0M320.8 386.4h0M301.4 387.1h0M321.8 390.7h0M310.0 384.0h0M306.8 375.5h0M321.9 391.1h0M301.4 385.0h0M311.3 390.8h0M321.9 390.6h0M317.6 376.4h0M316.9 376.4h0M309.7 390.2h0M302.5 384.1h0M320.8 385.8h0M317.0 377.3h0M324.9 388.3h0M308.7 392.1h0M305.0 388.4h0M319.3 389.4h0M318.6 392.3h0M309.4 384.9h0M299.2 388.1h0M307.7 388.4h0M313.7 385.2h0M307.6 382.2h0M321.6 384.0h0M309.5 381.1h0M309.7 383.9h0M309.0 392.0h0M320.7 391.4h0M309.3 376.1h0M318.6 392.1h0M326.4 385.1h0M316.0 380.0h0M321.6 376.3h0M313.9 387.1h0M302.8 383.8h0M322.7 380.8h0M319.8 379.7h0M321.0 391.7h0M319.7 390.5h0M320.2 376.2h0M301.5 390.3h0M301.5 386.3h0M314.9 383.5h0M325.9 382.3h0M313.1 379.8h0M300.2 382.0h0M320.5 387.3h0M311.6 391.0h0M309.4 391.9h0M323.2 387.8h0M314.1 377.7h0M320.1 381.1h0M321.6 379.8h0M304.6 392.8h0M300.2 384.6h0M327.0 384.5h0M315.9 389.2h0M300.0 384.6h0M309.3 375.9h0M309.7 384.9h0M326.2 382.7h0M303.6 388.3h0M311.0 378.0h0M314.3 376.0h0M304.8 388.4h0M305.0 381.2h0M307.4 388.5h0M314.5 388.0h0M301.1 389.2h0M305.0 376.3h0M327.4 385.3h0M326.9 381.6h0M304.0 380.5h0M323.5 383.9h0M321.6 377.5h0M302.9 386.0h0M311.1 384.7h0M310.3 384.1h0M314.4 373.6h0M301.6 387.1h0M313.9 382.9h0M323.9 378.6h0M314.8 388.5h0M317.5 379.4h0M304.3 386.0h0M326.8 383.4h0M300.7 389.8h0M307.7 380.6h0M327.4 386.5h0M315.0 394.9h0M307.0 392.1h0M312.4 394.3h0M327.9 382.5h0M315.2 390.7h0M307.2 382.3h0M311.5 394.7h0M315.3 386.2h0M309.8 389.8h0M313.5 394.6h0M304.3 391.1h0M315.2 388.0h0M322.3 381.8h0M318.0 383.2h0M306.7 384.6h0M299.3 383.9h0M314.4 383.5h0M299.9 383.1h0M312.9 389.8h0M300.4 383.9h0M311.4 375.5h0M303.7 386.4h0M317.4 380.8h0M309.2 393.7h0M304.3 384.1h0M306.0 380.7h0M303.3 383.7h0M315.9 377.7h0M313.5 383.3h0M305.6 393.1h0M322.6 385.1h0M308.0 376.1h0M320.0 384.1h0M324.9 386.2h0M321.0 389.5h0M318.7 392.4h0M314.2 384.4h0M304.2 388.5h0M319.3 375.8h0M310.3 392.6h0M306.6 381.1h0M305.4 378.7h0M302.3 384.4h0M313.5 391.7h0M304.8 386.4h0M319.9 380.8h0M324.8 378.1h0M306.7 386.7h0M302.9 391.8h0M310.3 381.5h0M314.2 388.3h0M315.9 391.1h0M303.8 390.7h0M312.6 384.4h0M321.9 386.5h0M305.3 379.7h0M310.8 390.2h0M298.9 387.2h0M310.6 383.4h0M303.3 384.6h0M323.5 384.8h0M318.9 393.3h0M306.3 393.2h0M315.3 390.0h0M314.8 393.5h0M318.4 378.1h0M323.2 377.4h0M308.6 376.1h0M301.7 389.0h0M299.0 381.5h0M309.0 385.8h0M318.6 390.6h0M309.2 386.0h0M315.0 375.4h0M313.2 378.0h0M308.9 391.7h0M325.2 382.9h0M325.3 384.9h0M313.7 387.5h0M306.9 383.6h0M302.2 381.9h0M313.9 388.6h0M308.0 389.4h0M305.2 381.2h0M320.5 392.6h0M327.0 380.2h0M333.4 377.0h0M324.3 386.0h0M327.6 378.7h0M339.5 385.1h0M337.7 379.3h0M328.4 390.7h0M325.7 380.3h0M331.0 390.7h0M326.8 389.4h0M336.8 390.1h0M338.1 388.2h0M325.7 390.5h0M331.4 380.3h0M340.0 384.8h0M323.8 385.5h0M332.5 379.7h0M329.0 380.1h0M329.1 389.8h0M333.8 386.6h0M327.5 389.9h0M321.5 383.5h0M333.2 379.8h0M329.6 390.1h0M325.3 378.1h0M326.4 386.0h0M339.3 382.4h0M325.6 387.0h0M329.5 385.2h0M336.2 385.2h0M337.6 383.7h0M326.7 390.4h0M336.0 384.4h0M339.6 379.2h0M326.7 378.1h0M324.7 387.8h0M340.1 386.5h0M326.3 380.2h0M339.7 388.9h0M326.7 390.7h0M326.9 382.7h0M325.1 386.6h0M335.0 390.3h0M333.2 378.4h0M337.8 379.6h0M329.6 391.8h0M324.5 378.9h0M329.3 391.9h0M328.1 379.6h0M322.3 385.3h0M326.6 378.5h0M339.8 380.5h0M334.5 384.8h0M328.9 381.6h0M334.4 387.5h0M334.9 383.1h0M336.2 376.9h0M331.0 386.0h0M324.1 386.8h0M340.9 383.4h0M333.3 385.7h0M327.5 379.3h0M329.8 382.0h0M326.7 389.8h0M332.3 392.6h0M338.0 379.8h0M324.2 387.3h0M327.5 382.6h0M334.4 377.6h0M327.3 384.3h0M324.9 378.9h0M333.9 377.7h0M326.1 379.6h0M334.4 391.3h0M335.1 387.8h0M328.4 384.7h0M336.0 391.0h0M334.8 389.3h0M323.4 387.6h0M337.6 385.9h0M342.2 387.5h0M336.5 389.4h0M339.4 381.2h0M324.5 388.8h0M338.0 379.7h0M329.9 390.3h0M332.5 385.1h0M330.9 391.0h0M333.4 385.4h0M330.7 382.8h0M328.5 391.9h0M335.1 391.5h0M339.9 384.8h0M336.7 382.0h0M326.2 378.2h0M328.3 381.2h0M333.1 386.4h0M325.8 386.1h0M333.4 385.7h0M322.4 381.4h0M334.2 384.1h0M337.5 383.5h0M340.5 383.9h0M334.9 385.9h0M323.7 388.6h0M334.7 383.9h0M323.5 384.8h0M338.5 390.2h0M335.4 385.3h0M340.2 382.5h0M325.2 384.8h0M333.9 391.9h0M328.7 376.2h0M325.4 378.5h0M340.2 384.0h0M324.8 387.6h0M339.7 387.6h0M329.9 379.9h0M339.3 388.3h0M324.2 382.4h0M333.1 387.4h0M330.3 379.1h0M324.3 389.3h0M326.8 391.0h0M325.9 389.6h0M328.3 389.3h0M338.2 381.5h0M333.1 378.1h0M330.7 377.8h0M332.0 384.7h0M279.1 385.8h0M285.2 386.6h0M281.5 383.7h0M278.3 388.4h0M278.7 388.3h0M284.7 385.9h0M282.4 383.6h0M283.1 384.0h0M283.8 389.3h0M280.7 387.4h0M280.1 390.2h0M277.0 382.9h0M281.5 386.7h0M280.3 388.0h0M276.7 387.9h0M281.1 385.4h0M278.2 385.1h0M278.6 388.1h0M281.7 387.9h0M275.4 386.4h0M281.1 386.2h0M279.6 384.3h0M281.8 385.1h0M279.9 388.8h0M284.3 388.3h0M286.6 384.4h0M277.2 387.2h0M285.3 384.6h0M275.6 386.4h0M276.5 386.4h0M278.7 387.1h0M279.7 384.4h0M281.6 386.0h0M285.2 387.3h0M277.9 384.6h0M275.8 383.4h0M278.2 387.4h0M277.2 385.6h0M285.0 384.4h0M279.8 388.0h0M281.1 390.0h0M274.6 386.8h0M281.2 383.6h0M281.1 383.2h0M281.5 382.4h0M282.0 383.1h0M279.2 385.8h0M285.2 386.0h0M282.5 386.1h0M285.7 386.5h0M299.4 388.2h0M294.3 388.0h0M287.5 387.5h0M298.0 382.7h0M289.9 383.2h0M284.8 387.7h0M295.1 389.4h0M286.7 386.4h0M301.5 389.2h0M294.2 390.9h0M298.0 384.9h0M298.7 391.3h0M286.6 386.7h0M300.2 390.3h0M293.8 382.2h0M293.1 390.0h0M293.8 385.4h0M298.3 391.3h0M295.3 383.1h0M298.7 390.9h0M291.3 385.8h0M300.0 389.7h0M292.1 387.7h0M289.6 389.9h0M287.4 387.0h0M291.0 383.2h0M289.5 391.0h0M300.5 388.5h0M289.3 386.8h0M294.5 388.8h0M298.1 387.3h0M304.3 385.5h0M305.6 385.2h0M302.6 384.8h0M298.0 387.2h0M299.8 390.9h0M297.5 390.7h0M297.9 381.6h0M292.3 389.4h0M289.7 390.3h0M298.6 386.7h0M299.6 384.1h0M305.6 389.6h0M301.2 384.5h0M295.8 389.1h0M292.9 387.2h0M303.4 387.2h0M296.0 383.0h0M286.5 388.4h0M292.5 385.5h0M304.3 386.7h0M304.2 390.4h0M288.3 388.0h0M305.0 386.1h0M288.1 386.8h0M295.5 383.5h0M296.4 384.1h0M287.6 384.8h0M301.3 386.0h0M298.5 388.1h0M304.0 388.1h0M294.7 381.7h0M299.6 384.0h0M295.6 385.8h0M292.2 392.0h0M303.7 388.3h0M300.4 388.7h0M291.8 391.1h0M302.6 388.4h0M305.6 388.0h0M291.3 388.6h0M295.5 385.4h0M293.3 392.1h0M294.1 388.4h0M295.0 387.5h0M287.6 389.4h0M298.3 383.4h0M294.3 390.7h0M304.9 387.3h0M295.7 390.4h0M305.2 386.5h0M305.2 389.1h0M295.2 389.5h0M291.8 387.8h0M301.1 384.6h0M298.2 388.1h0M293.7 388.3h0M299.8 385.6h0M302.1 383.3h0M304.5 387.6h0M290.1 384.6h0M290.9 388.5h0M288.7 388.9h0M289.8 387.2h0M296.5 392.0h0M293.6 381.5h0M291.7 391.7h0M289.1 390.3h0M303.2 389.5h0M291.6 389.1h0M296.2 391.4h0M303.5 391.2h0M304.9 390.7h0M301.5 391.3h0M296.5 390.8h0M297.2 390.2h0M306.8 392.3h0M295.3 391.5h0M308.4 391.0h0M296.8 391.5h0M300.7 393.3h0M298.0 391.6h0M304.5 392.9h0M308.4 391.0h0M307.9 390.5h0M300.9 394.1h0M305.4 390.4h0M298.7 392.8h0M302.9 391.1h0M302.4 390.2h0M298.3 393.9h0M298.3 390.1h0M305.4 392.2h0M306.3 392.6h0M301.4 391.5h0M307.2 389.9h0M302.5 391.3h0M309.2 390.1h0M302.5 392.8h0M308.9 392.8h0M304.8 390.8h0M300.5 389.0h0M302.5 394.6h0M308.0 391.0h0M306.6 392.8h0M296.8 393.4h0M306.6 394.1h0M302.2 393.9h0M307.8 390.5h0M294.8 392.1h0M334.9 395.3h0M335.7 394.7h0M332.5 394.9h0M328.4 398.7h0M330.2 396.7h0M331.9 398.9h0M337.7 397.1h0M334.1 396.3h0M331.0 395.0h0M335.9 397.7h0M340.2 396.1h0M330.2 395.2h0M334.2 395.8h0M333.7 397.6h0M337.1 394.9h0M328.3 394.6h0M330.4 395.5h0M336.8 395.8h0M331.2 396.4h0M332.2 398.6h0M333.8 394.3h0M327.8 395.5h0M334.8 397.2h0M330.0 397.7h0M327.9 395.4h0M330.9 397.6h0M334.0 395.6h0M335.6 396.6h0M335.8 398.1h0M336.8 397.8h0M329.0 396.6h0M335.6 396.5h0M335.4 394.5h0M337.1 399.1h0M331.7 394.6h0M338.9 397.4h0M338.8 397.0h0M333.5 397.4h0M327.7 399.0h0M331.6 395.1h0M336.9 399.6h0M337.7 397.3h0M333.7 395.5h0M332.2 395.7h0M329.4 395.9h0M328.3 395.7h0M340.8 397.7h0M333.9 396.3h0M329.0 396.6h0M327.5 396.5h0M305.0 400.6h0M317.5 397.6h0M313.5 402.1h0M307.1 398.8h0M304.1 397.2h0M301.4 400.9h0M314.0 401.0h0M300.0 402.4h0M296.5 398.3h0M313.7 397.1h0M306.5 397.4h0M299.7 400.7h0M303.0 400.9h0M309.7 397.5h0M302.4 395.7h0M301.6 401.4h0M300.9 395.3h0M303.5 399.2h0M314.4 401.1h0M311.1 396.1h0M297.9 401.5h0M312.1 400.4h0M318.7 397.6h0M318.0 396.3h0M311.7 403.8h0M317.8 400.6h0M299.7 399.6h0M312.5 401.7h0M295.8 397.4h0M297.5 399.4h0M300.4 402.2h0M304.4 397.3h0M315.5 396.5h0M298.5 402.7h0M320.2 398.2h0M302.2 403.3h0M300.7 401.9h0M301.7 396.0h0M304.9 399.1h0M319.0 398.1h0M319.0 399.4h0M302.9 395.1h0M308.0 400.9h0M320.1 399.8h0M317.1 401.6h0M300.5 398.5h0M307.1 403.8h0M305.1 395.6h0M314.4 399.0h0M314.5 401.0h0M303.2 394.2h0M314.5 401.1h0M314.7 401.1h0M318.1 399.1h0M317.7 401.4h0M298.1 402.0h0M305.9 396.8h0M304.4 398.1h0M307.9 404.3h0M299.5 397.7h0M304.5 395.6h0M297.3 399.3h0M310.1 398.5h0M315.4 401.3h0M304.1 401.7h0M302.4 401.7h0M311.6 397.0h0M303.0 400.0h0M302.3 397.5h0M315.3 402.9h0M316.9 402.5h0M299.9 400.5h0M303.8 400.8h0M318.0 396.7h0M305.4 400.4h0M306.3 403.7h0M318.2 397.0h0M307.9 393.8h0M310.4 402.6h0M298.6 399.4h0M299.6 396.1h0M319.2 402.0h0M307.0 395.8h0M303.4 399.8h0M318.3 398.4h0M320.7 397.8h0M311.7 396.0h0M311.6 401.1h0M315.7 402.5h0M305.8 399.3h0M318.6 401.6h0M310.0 399.9h0M307.6 397.5h0M312.4 395.6h0M297.0 398.4h0M314.2 398.5h0M311.7 400.4h0M308.3 401.0h0M308.4 401.3h0M309.4 399.4h0M304.3 396.0h0M316.0 395.7h0M299.0 396.1h0M304.3 398.3h0M307.2 397.4h0M309.6 402.8h0M319.5 397.9h0M299.2 400.4h0M305.0 396.9h0M313.5 400.0h0M316.3 398.7h0M313.8 398.5h0M298.4 399.8h0M299.3 401.2h0M302.4 398.7h0M307.5 394.8h0M311.9 402.4h0M314.2 403.5h0M299.4 400.0h0M298.4 398.3h0M322.0 405.1h0M320.6 407.8h0M319.3 409.2h0M319.2 407.2h0M324.1 405.2h0M322.8 405.0h0M320.5 406.0h0M323.0 405.4h0M318.1 404.2h0M322.7 403.4h0M323.5 406.4h0M314.2 406.0h0M317.4 405.9h0M316.3 407.1h0M322.3 406.2h0M317.8 409.4h0M320.2 406.0h0M323.5 406.7h0M318.3 407.5h0M324.6 407.0h0M323.2 405.9h0M322.4 404.0h0M319.1 406.0h0M316.9 404.8h0M316.8 406.9h0M325.0 404.9h0M315.9 406.0h0M319.0 405.3h0M318.8 405.7h0M319.9 408.1h0M320.9 404.8h0M320.2 403.6h0M325.7 405.6h0M315.8 405.4h0M322.0 403.6h0M316.4 407.1h0M324.9 406.1h0M322.3 405.8h0M315.4 408.4h0M318.1 407.5h0M301.2 409.3h0M296.9 410.3h0M296.8 409.0h0M298.2 409.9h0M300.8 407.6h0M299.2 407.8h0M297.6 410.0h0M301.5 409.1h0M297.8 407.7h0M299.0 411.0h0M299.1 407.5h0M299.7 408.7h0M301.1 410.1h0M299.8 408.8h0M297.3 409.3h0M303.8 409.2h0M301.1 408.0h0M298.4 407.2h0M296.4 407.8h0M296.7 409.4h0M335.8 369.1h0M335.8 368.5h0M333.0 368.2h0M335.1 369.7h0M334.6 368.3h0M335.9 369.3h0M332.3 367.6h0M336.0 368.1h0M325.2 369.1h0M325.0 369.9h0M323.5 369.5h0M325.1 369.4h0M324.0 369.1h0" stroke="#dcdcdc" stroke-width="1.20" stroke-linecap="round" fill="none"/></g>
<g><path d="M388.7 370.4h0M376.8 368.0h0M377.6 367.1h0M386.4 370.2h0M396.7 368.0h0M378.4 370.2h0M389.5 366.4h0M393.7 368.5h0M383.5 368.2h0M387.2 371.3h0M385.1 368.5h0M381.2 368.4h0M386.9 368.8h0M388.3 369.9h0M384.0 366.7h0M386.9 365.9h0M374.3 367.6h0M382.9 371.7h0M380.8 370.8h0M391.1 367.8h0M385.8 368.1h0M381.4 369.5h0M388.6 369.1h0M391.2 370.5h0M375.3 368.6h0M378.5 366.4h0M378.2 366.6h0M388.9 366.6h0M395.3 368.6h0M376.7 370.2h0M385.3 367.7h0M395.6 368.5h0M384.5 369.9h0M377.7 366.9h0M383.4 365.4h0M396.5 366.2h0M380.1 367.7h0M388.8 367.4h0M392.0 367.2h0M392.6 369.4h0M384.8 369.5h0M382.4 366.9h0M381.0 369.2h0M385.8 367.6h0M390.7 368.7h0M384.6 368.2h0M379.0 366.5h0M393.2 370.0h0M378.5 370.1h0M386.2 369.0h0M391.3 369.8h0M385.1 367.2h0M379.6 368.1h0M391.7 368.4h0M394.5 368.1h0M374.7 369.4h0M378.8 369.9h0M385.2 368.4h0M379.0 369.4h0M377.3 368.3h0M365.1 379.1h0M369.6 376.8h0M369.4 378.3h0M363.4 379.4h0M364.1 374.6h0M364.8 375.9h0M369.9 378.4h0M369.4 378.5h0M362.2 377.4h0M366.4 379.5h0M365.6 376.6h0M367.5 373.4h0M368.1 374.7h0M364.0 377.0h0M363.1 377.5h0M364.4 375.1h0M366.9 372.5h0M369.6 375.1h0M366.7 379.6h0M368.5 375.4h0M364.9 378.3h0M367.5 374.8h0M365.4 375.9h0M362.8 376.0h0M368.7 376.2h0M366.1 372.9h0M370.2 379.6h0M371.3 374.8h0M369.0 378.6h0M370.9 373.5h0M367.2 377.7h0M372.7 374.4h0M361.3 376.4h0M366.1 378.6h0M363.6 373.6h0M364.2 378.9h0M363.7 373.9h0M369.7 373.7h0M367.0 375.7h0M368.0 379.6h0M365.8 378.9h0M371.6 378.4h0M361.2 376.2h0M367.7 378.5h0M368.1 376.4h0M387.3 378.8h0M375.6 375.0h0M384.6 379.7h0M373.3 378.8h0M385.2 376.9h0M383.6 378.2h0M384.6 378.8h0M382.7 380.2h0M377.0 376.1h0M378.7 376.2h0M372.6 378.4h0M386.3 380.1h0M383.8 379.8h0M390.2 377.6h0M388.0 378.8h0M382.5 375.1h0M379.3 379.4h0M380.3 375.9h0M381.2 376.8h0M375.4 376.6h0M380.5 375.0h0M388.0 376.3h0M382.6 380.6h0M374.8 377.6h0M383.5 381.1h0M379.8 380.1h0M377.2 375.9h0M379.5 379.7h0M370.4 376.5h0M380.9 376.0h0M386.4 380.2h0M384.4 381.6h0M375.7 379.7h0M377.0 375.5h0M378.9 378.6h0M382.6 376.1h0M385.6 380.4h0M386.7 380.2h0M379.7 381.0h0M378.1 374.5h0M382.4 378.8h0M376.9 375.3h0M386.1 375.6h0M376.1 377.1h0M376.0 374.8h0M385.3 379.3h0M381.0 374.2h0M374.8 376.5h0M386.9 376.8h0M385.7 380.7h0M373.1 378.7h0M377.4 378.8h0M375.9 380.5h0M383.3 376.3h0M382.2 378.1h0M374.3 379.2h0M379.0 380.8h0M376.7 381.6h0M377.7 377.5h0M382.1 379.0h0M400.4 386.0h0M388.4 393.2h0M407.5 386.7h0M402.0 388.2h0M397.0 376.1h0M378.9 385.3h0M391.3 386.7h0M404.9 379.6h0M388.4 385.3h0M386.6 386.2h0M404.4 377.5h0M397.3 383.4h0M394.6 383.9h0M379.8 383.8h0M386.9 377.5h0M405.9 380.3h0M384.6 392.1h0M390.4 380.8h0M389.2 386.9h0M383.7 379.1h0M383.8 376.9h0M406.8 389.0h0M391.8 383.1h0M389.3 389.1h0M398.8 378.8h0M397.0 380.5h0M400.4 387.7h0M382.1 384.4h0M382.9 379.4h0M405.9 388.2h0M397.4 391.0h0M398.0 389.0h0M389.5 380.8h0M387.7 385.9h0M384.6 391.1h0M404.7 386.8h0M384.0 393.0h0M395.1 393.6h0M382.4 390.9h0M388.3 376.3h0M383.0 391.6h0M399.5 389.6h0M400.5 382.7h0M388.2 390.6h0M382.3 391.4h0M399.1 380.9h0M390.0 376.9h0M392.1 394.5h0M399.9 382.8h0M395.4 385.4h0M393.9 380.6h0M406.3 380.7h0M405.2 384.0h0M387.7 386.5h0M400.4 387.4h0M401.4 390.1h0M381.2 389.7h0M389.0 377.9h0M384.6 377.1h0M398.9 393.0h0M402.0 386.1h0M392.6 385.1h0M407.7 382.3h0M382.0 382.1h0M405.3 382.7h0M378.1 385.5h0M385.4 392.3h0M384.6 379.3h0M396.9 394.5h0M382.1 380.1h0M383.2 388.1h0M392.1 388.5h0M394.1 386.6h0M382.7 389.6h0M402.0 385.9h0M400.6 387.1h0M390.1 376.0h0M386.2 381.5h0M382.7 388.4h0M386.4 386.6h0M396.8 392.9h0M403.7 384.2h0M382.7 385.8h0M393.9 393.1h0M401.5 385.1h0M390.9 384.5h0M385.9 381.5h0M398.9 389.3h0M384.8 384.8h0M388.5 385.6h0M394.6 381.3h0M387.1 394.6h0M386.1 388.3h0M383.0 383.4h0M386.7 386.6h0M383.9 384.6h0M396.9 387.5h0M402.7 382.4h0M386.2 390.8h0M397.4 385.4h0M388.2 387.4h0M397.1 375.7h0M400.1 388.3h0M399.9 388.3h0M393.8 394.2h0M388.7 389.3h0M387.7 387.2h0M405.0 384.2h0M385.0 375.3h0M396.1 379.6h0M395.2 380.1h0M391.3 393.6h0M399.9 377.6h0M386.4 391.5h0M405.4 382.0h0M392.4 386.0h0M384.9 393.1h0M389.5 385.4h0M381.7 384.7h0M394.3 380.4h0M387.2 386.5h0M382.3 382.2h0M392.7 387.4h0M381.5 379.9h0M388.2 376.0h0M398.8 380.2h0M398.6 391.4h0M399.1 394.7h0M391.4 392.3h0M383.7 380.6h0M381.8 389.3h0M398.1 392.3h0M407.0 379.1h0M392.3 381.6h0M406.6 383.8h0M387.8 383.9h0M389.0 380.2h0M397.3 380.7h0M388.7 387.1h0M391.8 385.5h0M396.3 390.6h0M400.4 391.9h0M396.9 389.6h0M382.1 380.5h0M385.0 379.1h0M399.7 392.2h0M400.6 386.4h0M382.7 390.1h0M397.1 378.1h0M392.8 386.7h0M384.9 375.4h0M392.7 375.3h0M384.8 375.4h0M393.2 395.5h0M391.4 391.7h0M395.0 393.0h0M406.3 387.5h0M405.1 379.5h0M392.1 378.5h0M384.7 378.4h0M396.7 381.3h0M405.3 386.4h0M390.7 382.4h0M398.6 388.5h0M388.8 383.2h0M397.5 392.7h0M396.3 382.1h0M403.2 390.6h0M393.7 385.4h0M385.3 378.5h0M389.0 382.3h0M403.1 380.2h0M402.2 376.5h0M380.7 381.5h0M397.8 387.1h0M401.2 384.5h0M386.6 391.1h0M398.9 390.5h0M406.0 387.8h0M398.0 383.9h0M399.6 386.3h0M399.9 379.4h0M391.1 378.6h0M392.8 381.5h0M396.0 377.9h0M397.3 380.4h0M391.3 385.0h0M397.8 391.1h0M408.0 382.4h0M404.2 384.7h0M407.4 387.2h0M402.8 384.5h0M403.4 380.1h0M400.3 388.8h0M398.9 383.1h0M392.9 394.4h0M401.5 390.7h0M405.0 381.0h0M392.7 391.2h0M395.2 382.7h0M403.2 381.2h0M386.4 380.6h0M379.1 380.6h0M404.9 379.2h0M401.8 386.4h0M401.0 385.1h0M386.9 382.7h0M393.9 379.7h0M400.2 377.5h0M395.4 383.8h0M388.0 381.7h0M396.7 375.1h0M389.5 389.1h0M387.0 379.1h0M403.6 391.5h0M387.7 378.7h0M400.4 392.6h0M387.9 383.9h0M382.9 390.4h0M387.2 379.3h0M404.8 390.7h0M395.7 384.7h0M403.2 378.2h0M401.3 379.8h0M406.9 385.0h0M388.4 375.1h0M401.8 382.5h0M395.9 384.6h0M393.8 382.6h0M395.3 376.5h0M406.1 388.1h0M386.7 386.6h0M405.5 380.1h0M399.2 381.1h0M379.4 382.7h0M389.5 388.5h0M383.5 389.1h0M389.8 376.0h0M389.6 383.3h0M395.3 382.2h0M391.7 383.4h0M401.9 391.9h0M391.7 375.8h0M400.4 386.7h0M393.3 392.6h0M396.5 385.4h0M391.0 394.6h0M396.9 382.9h0M405.6 384.4h0M393.7 378.4h0M384.4 382.4h0M385.8 384.0h0M380.0 384.8h0M390.5 391.0h0M396.5 380.5h0M393.9 386.8h0M389.0 390.9h0M400.4 390.5h0M403.2 384.5h0M403.4 379.5h0M417.4 379.2h0M412.9 385.0h0M404.0 384.6h0M402.7 380.6h0M418.0 378.8h0M421.2 384.2h0M416.1 380.0h0M405.0 377.9h0M407.6 381.0h0M414.2 380.6h0M408.8 383.7h0M411.0 382.7h0M405.3 381.7h0M417.4 385.3h0M419.6 383.3h0M411.1 387.0h0M416.3 376.1h0M413.6 383.9h0M405.0 383.2h0M403.1 382.3h0M407.8 381.0h0M413.3 384.9h0M412.6 387.8h0M415.1 378.2h0M413.3 389.7h0M407.2 388.8h0M405.8 380.0h0M419.7 385.8h0M408.9 381.8h0M407.8 386.6h0M408.6 383.3h0M411.8 389.4h0M406.9 390.7h0M402.6 381.9h0M417.5 382.8h0M414.8 376.9h0M412.0 385.4h0M413.2 381.2h0M418.4 381.9h0M407.9 380.6h0M419.2 390.5h0M406.4 387.7h0M412.8 387.3h0M408.4 382.4h0M414.1 381.3h0M408.7 385.3h0M407.4 380.7h0M410.7 386.3h0M405.4 384.1h0M418.1 383.8h0M408.7 391.2h0M412.8 386.4h0M408.9 390.9h0M416.9 385.6h0M415.5 377.4h0M415.4 378.3h0M416.4 387.5h0M417.4 384.0h0M408.1 387.4h0M402.8 387.6h0M415.4 388.5h0M404.1 388.5h0M402.9 389.4h0M411.5 377.5h0M405.3 383.6h0M405.3 385.9h0M409.4 389.2h0M406.4 386.5h0M418.3 384.0h0M407.5 381.0h0M405.2 389.2h0M411.7 378.7h0M414.7 378.5h0M413.4 382.5h0M404.8 384.6h0M411.2 381.9h0M410.3 382.2h0M418.8 389.1h0M407.0 390.7h0M410.2 380.5h0M403.8 378.4h0M414.0 388.9h0M418.7 380.8h0M415.4 386.3h0M418.9 382.6h0M406.5 388.4h0M421.8 386.6h0M416.6 385.6h0M414.9 390.0h0M411.8 389.9h0M414.7 379.2h0M406.4 382.2h0M409.4 390.2h0M403.1 388.5h0M405.9 378.9h0M402.7 380.2h0M413.4 390.4h0M407.3 384.6h0M409.9 381.3h0M416.1 389.2h0M410.7 382.6h0M418.4 380.1h0M415.9 378.0h0M417.1 383.7h0M415.1 386.3h0M418.8 378.3h0M404.9 383.9h0M420.5 384.3h0M407.6 377.0h0M416.8 388.0h0M420.7 388.0h0M420.5 386.3h0M407.0 379.6h0M402.1 381.5h0M406.0 390.6h0M408.9 377.2h0M410.9 377.4h0M402.0 387.8h0M408.0 380.8h0M415.3 382.9h0M419.6 389.8h0M411.5 385.0h0M417.3 383.6h0M419.7 381.4h0M418.7 390.0h0M405.2 379.9h0M401.1 387.0h0M406.6 387.7h0M402.0 379.6h0M410.1 377.5h0M356.0 384.4h0M355.3 384.9h0M358.9 384.0h0M362.6 384.4h0M355.0 388.1h0M356.4 387.0h0M355.7 387.4h0M359.1 387.7h0M360.2 383.8h0M355.5 384.9h0M363.0 389.2h0M362.4 386.1h0M355.7 387.0h0M355.6 385.3h0M358.0 387.8h0M358.7 383.7h0M358.3 384.0h0M359.9 385.4h0M361.6 389.6h0M357.2 385.8h0M355.9 387.4h0M361.8 384.9h0M359.6 383.8h0M353.5 387.2h0M360.9 382.4h0M355.8 385.9h0M362.4 383.0h0M360.5 389.4h0M358.9 386.5h0M357.8 387.8h0M363.2 383.6h0M356.1 386.0h0M364.7 386.7h0M366.0 385.2h0M358.8 384.9h0M363.6 382.8h0M360.7 384.0h0M361.8 388.1h0M356.9 385.8h0M365.6 384.7h0M360.6 386.8h0M361.2 388.3h0M365.4 387.4h0M358.8 382.8h0M363.3 383.4h0M366.2 383.9h0M361.2 382.7h0M356.1 385.8h0M357.5 384.7h0M364.5 383.3h0M372.8 382.2h0M377.3 389.6h0M378.4 385.9h0M380.4 386.2h0M378.5 384.5h0M381.9 387.1h0M381.8 382.9h0M377.6 384.8h0M369.3 386.7h0M376.3 381.2h0M379.3 388.3h0M381.3 389.8h0M374.3 385.4h0M376.3 391.2h0M382.5 388.9h0M375.8 384.7h0M378.4 385.5h0M385.9 386.0h0M378.3 388.9h0M375.1 384.4h0M365.6 385.6h0M381.8 388.7h0M375.6 388.2h0M383.7 387.5h0M370.6 383.5h0M369.0 386.8h0M376.0 383.2h0M370.6 390.4h0M369.0 387.8h0M369.6 385.4h0M371.0 392.0h0M373.7 384.7h0M367.3 386.5h0M377.5 385.1h0M371.1 385.1h0M383.6 387.1h0M381.0 382.0h0M372.4 383.8h0M378.0 381.9h0M368.4 389.3h0M373.4 388.2h0M369.3 387.1h0M383.0 383.6h0M371.9 385.4h0M365.6 385.2h0M377.6 383.3h0M385.4 385.6h0M379.4 390.2h0M370.9 389.5h0M370.9 391.5h0M378.8 390.3h0M374.7 388.7h0M366.8 384.0h0M382.0 386.6h0M374.7 388.0h0M381.5 384.5h0M370.8 386.4h0M371.5 381.5h0M382.2 385.5h0M369.1 382.5h0M366.9 386.0h0M369.6 382.3h0M374.6 389.7h0M372.2 387.5h0M374.3 384.8h0M384.6 391.1h0M370.4 391.4h0M369.9 390.1h0M379.2 388.6h0M377.7 385.9h0M379.7 382.6h0M373.1 392.6h0M380.6 388.7h0M381.9 388.9h0M385.2 387.8h0M376.7 386.4h0M382.2 386.3h0M369.0 384.1h0M372.9 383.9h0M380.6 385.4h0M380.1 386.0h0M378.8 384.1h0M382.7 386.4h0M375.8 385.7h0M374.0 391.8h0M383.9 389.3h0M378.5 386.4h0M378.5 391.7h0M369.5 387.4h0M382.0 391.4h0M381.1 384.0h0M368.1 386.8h0M373.0 389.2h0M371.1 386.3h0M380.8 383.3h0M377.2 385.7h0M367.2 386.4h0M371.3 388.2h0M367.8 386.1h0M372.2 387.4h0M382.3 392.6h0M388.0 391.5h0M379.5 392.9h0M387.5 392.1h0M385.3 393.2h0M381.4 391.6h0M384.7 391.8h0M385.4 392.4h0M385.5 391.1h0M387.1 394.2h0M380.3 391.2h0M389.1 391.3h0M377.6 389.8h0M383.6 391.8h0M377.9 392.9h0M387.3 392.1h0M375.6 391.7h0M382.1 393.1h0M384.7 390.7h0M389.2 391.8h0M377.8 392.1h0M385.0 391.4h0M377.3 392.3h0M378.6 390.2h0M378.0 390.5h0M378.2 390.9h0M379.2 390.4h0M379.6 394.0h0M379.1 389.9h0M384.5 392.0h0M378.7 390.2h0M388.1 392.2h0M383.1 390.2h0M376.9 390.8h0M377.6 388.5h0M378.6 389.7h0M385.0 391.1h0M385.2 392.7h0M387.5 390.9h0M388.5 391.6h0M407.7 396.3h0M419.0 397.3h0M414.0 397.6h0M408.0 396.2h0M407.4 397.6h0M416.4 394.5h0M420.4 398.1h0M413.3 397.4h0M410.6 395.5h0M415.4 395.7h0M413.7 398.7h0M420.9 398.0h0M420.1 396.4h0M418.2 399.5h0M415.1 394.3h0M412.8 395.9h0M413.1 398.4h0M415.3 398.4h0M412.5 399.2h0M415.1 396.5h0M416.0 396.2h0M410.4 396.2h0M412.9 396.9h0M409.1 397.0h0M410.7 394.9h0M410.8 394.8h0M414.0 394.9h0M408.7 394.9h0M408.0 399.0h0M410.1 399.6h0M411.9 396.7h0M414.5 397.1h0M407.8 399.2h0M410.4 396.8h0M413.8 394.4h0M409.2 396.5h0M413.5 396.9h0M419.9 395.5h0M409.6 396.7h0M411.1 397.9h0M413.5 396.6h0M413.0 396.8h0M414.2 398.2h0M411.7 394.3h0M410.1 394.7h0M410.6 399.6h0M415.2 399.8h0M416.5 398.9h0M409.2 397.8h0M414.4 396.5h0M382.4 402.1h0M395.3 395.6h0M392.1 398.9h0M391.1 394.8h0M394.6 401.8h0M394.5 400.0h0M386.8 402.5h0M390.4 395.5h0M388.3 398.4h0M389.1 398.2h0M386.0 393.8h0M380.4 400.4h0M380.1 397.5h0M397.8 397.1h0M378.8 397.1h0M388.1 398.3h0M397.9 396.7h0M388.4 398.3h0M377.4 399.8h0M389.2 397.5h0M389.3 401.8h0M397.2 399.3h0M384.1 397.4h0M383.4 403.9h0M383.0 396.8h0M390.0 403.1h0M390.1 398.3h0M380.7 399.6h0M394.5 397.0h0M383.6 399.1h0M397.6 397.6h0M379.4 401.4h0M376.8 400.6h0M395.3 400.1h0M395.6 399.1h0M385.5 394.5h0M383.4 403.7h0M378.5 401.7h0M383.7 398.5h0M399.3 397.6h0M377.2 399.8h0M381.2 403.2h0M394.4 395.5h0M381.7 402.2h0M396.9 403.4h0M392.4 396.4h0M394.8 398.2h0M393.4 399.3h0M399.0 397.9h0M388.8 404.1h0M397.2 397.9h0M390.6 399.5h0M395.5 398.7h0M383.2 398.2h0M388.8 397.8h0M376.7 398.7h0M388.3 399.4h0M394.9 399.4h0M379.6 399.3h0M395.3 400.7h0M382.6 397.3h0M397.0 399.2h0M379.8 402.3h0M392.6 398.4h0M398.1 395.8h0M380.2 396.6h0M399.9 400.0h0M394.1 400.7h0M388.8 403.2h0M396.6 401.4h0M388.3 398.8h0M389.7 399.4h0M389.1 398.9h0M394.0 403.1h0M388.0 402.7h0M388.2 400.3h0M386.1 401.1h0M376.1 400.1h0M387.1 397.1h0M389.2 400.5h0M386.7 398.9h0M382.8 398.9h0M399.3 400.2h0M385.7 395.9h0M381.0 402.1h0M388.9 400.1h0M380.0 400.6h0M391.4 398.2h0M394.0 398.0h0M397.1 401.3h0M394.0 401.4h0M387.7 398.8h0M397.2 397.8h0M394.5 403.5h0M392.2 400.6h0M380.4 400.7h0M380.4 401.3h0M383.5 398.2h0M391.7 396.2h0M387.9 401.5h0M398.4 400.2h0M394.3 401.8h0M390.4 399.6h0M380.7 402.1h0M392.0 398.5h0M396.3 401.2h0M386.2 400.8h0M384.2 399.5h0M376.8 402.0h0M382.0 401.8h0M392.0 397.2h0M391.3 404.1h0M396.6 395.6h0M383.0 399.4h0M385.3 394.1h0M382.8 397.6h0M385.5 402.6h0M392.4 396.0h0M400.0 398.2h0M384.9 395.9h0M395.2 406.1h0M402.2 404.4h0M402.7 406.4h0M398.0 406.7h0M405.6 408.7h0M406.3 406.2h0M404.9 405.8h0M401.2 407.8h0M397.3 407.6h0M404.6 405.3h0M403.5 403.7h0M401.9 406.6h0M395.5 406.9h0M399.7 404.8h0M401.4 407.3h0M401.4 405.4h0M404.1 403.5h0M397.6 404.4h0M404.5 405.7h0M400.7 407.7h0M400.6 407.1h0M403.8 406.7h0M396.5 404.3h0M403.7 405.3h0M402.0 407.0h0M400.3 405.4h0M406.1 406.2h0M404.0 405.7h0M403.1 403.7h0M400.8 407.9h0M399.4 403.9h0M402.0 408.5h0M398.3 407.9h0M397.5 403.4h0M397.0 406.7h0M402.6 407.4h0M399.3 407.5h0M403.4 407.5h0M400.0 404.0h0M399.1 405.7h0M380.6 410.0h0M379.8 407.4h0M376.4 410.3h0M379.7 408.7h0M378.5 407.1h0M380.9 409.8h0M380.6 409.7h0M382.2 409.4h0M379.9 409.4h0M382.2 408.3h0M378.1 408.8h0M378.0 407.2h0M380.3 411.5h0M376.4 409.3h0M377.9 408.5h0M377.8 409.7h0M376.6 409.1h0M380.9 407.4h0M376.4 407.8h0M377.6 408.9h0M416.8 367.6h0M412.9 369.7h0M416.5 369.4h0M415.6 369.9h0M414.3 369.2h0M410.0 369.3h0M418.4 370.3h0M414.5 368.5h0M404.3 371.1h0M404.3 369.2h0M404.8 371.2h0M405.7 370.2h0M403.0 370.8h0" stroke="#dcdcdc" stroke-width="1.20" stroke-linecap="round" fill="none"/></g>
<g><path d="M300.1 425.6h0M307.3 426.2h0M311.8 425.8h0M314.4 427.6h0M310.4 427.1h0M311.8 426.8h0M305.6 425.3h0M300.4 426.7h0M307.6 427.9h0M306.1 428.4h0M302.5 423.7h0M310.7 423.8h0M303.1 425.3h0M308.0 426.8h0M302.2 428.1h0M313.8 426.1h0M312.8 425.7h0M307.4 428.0h0M302.5 423.8h0M310.4 423.4h0M298.9 427.8h0M306.8 424.4h0M299.6 424.8h0M304.2 426.2h0M316.9 427.0h0M311.8 426.4h0M301.7 427.2h0M311.3 423.1h0M300.0 423.5h0M316.7 425.3h0M304.0 423.4h0M309.2 428.3h0M301.0 423.2h0M310.0 427.7h0M315.0 425.2h0M303.1 426.6h0M308.6 425.4h0M299.7 426.9h0M309.7 422.6h0M306.0 424.7h0M308.7 425.6h0M299.7 424.4h0M305.6 427.4h0M297.3 427.4h0M318.2 426.4h0M301.4 425.9h0M317.7 425.4h0M301.6 424.6h0M314.7 425.3h0M302.3 425.0h0M309.5 425.1h0M299.0 427.7h0M298.3 424.7h0M297.5 424.1h0M311.0 424.7h0M312.1 425.8h0M309.6 424.5h0M301.3 427.6h0M296.6 426.7h0M302.7 426.9h0M302.6 423.9h0M311.9 427.7h0M295.9 425.8h0M312.8 426.2h0M295.3 425.0h0M311.8 426.8h0M310.1 426.4h0M299.3 427.3h0M317.6 425.3h0M296.8 424.8h0M299.1 424.7h0M303.0 428.8h0M299.7 426.7h0M314.7 428.0h0M296.4 425.5h0M308.6 426.9h0M306.3 422.8h0M313.0 426.6h0M316.2 425.6h0M316.9 425.3h0M312.8 426.0h0M310.5 424.6h0M302.3 428.8h0M307.8 423.8h0M303.2 424.5h0M311.1 425.3h0M310.7 425.9h0M317.3 425.2h0M313.2 428.3h0M312.8 428.3h0M288.5 436.2h0M284.1 436.2h0M282.6 433.7h0M289.0 436.9h0M284.3 433.7h0M285.7 433.5h0M287.1 429.9h0M281.9 435.0h0M285.7 433.7h0M283.2 433.3h0M284.6 433.6h0M284.3 431.8h0M287.4 432.4h0M288.1 432.2h0M283.3 429.2h0M285.3 435.2h0M292.1 432.7h0M291.2 433.2h0M281.1 434.1h0M288.6 432.1h0M290.7 433.5h0M287.2 429.5h0M287.2 429.9h0M285.2 431.6h0M290.1 431.2h0M291.6 433.7h0M287.3 434.2h0M281.0 430.8h0M290.5 435.3h0M283.7 437.0h0M288.8 430.0h0M290.1 432.5h0M283.4 430.0h0M283.6 431.3h0M288.1 437.1h0M289.5 432.9h0M291.0 431.1h0M285.4 435.0h0M288.4 436.0h0M286.6 431.7h0M288.1 431.7h0M286.0 437.0h0M290.3 432.7h0M282.2 432.0h0M284.0 434.7h0M287.7 432.3h0M287.6 433.1h0M288.5 433.7h0M284.7 433.6h0M286.2 430.7h0M284.2 429.5h0M287.2 432.4h0M286.1 434.2h0M290.2 435.4h0M283.4 431.5h0M282.1 434.3h0M284.1 435.2h0M288.8 435.8h0M284.3 432.6h0M282.0 437.7h0M290.3 434.1h0M292.2 431.6h0M290.1 431.2h0M286.6 435.2h0M286.1 436.3h0M285.0 432.5h0M287.0 432.2h0M298.6 432.3h0M307.6 432.4h0M300.1 434.0h0M299.5 434.2h0M307.2 436.0h0M298.6 432.9h0M294.9 434.7h0M307.6 435.7h0M295.7 433.2h0M302.0 438.1h0M309.5 435.4h0M307.7 434.4h0M304.9 432.5h0M296.9 437.3h0M295.3 438.9h0M304.1 433.0h0M305.0 436.7h0M298.2 432.7h0M298.6 436.9h0M302.3 435.7h0M308.1 435.8h0M295.4 437.7h0M307.9 435.2h0M305.2 431.9h0M299.3 432.1h0M304.3 433.7h0M304.1 436.6h0M301.5 431.8h0M301.8 436.0h0M300.6 439.2h0M299.0 437.2h0M294.7 438.0h0M300.9 436.3h0M293.7 434.8h0M296.1 432.9h0M296.8 433.9h0M303.7 431.1h0M304.7 436.7h0M305.3 432.3h0M297.8 433.3h0M297.6 433.0h0M309.5 435.4h0M294.3 434.8h0M307.3 433.8h0M299.6 436.9h0M291.9 434.8h0M298.9 432.0h0M300.8 439.0h0M302.8 433.2h0M302.7 434.3h0M296.9 436.8h0M304.6 432.1h0M305.8 434.8h0M300.4 437.8h0M301.2 432.5h0M293.7 435.7h0M304.0 438.2h0M299.1 434.2h0M298.3 431.7h0M305.3 435.8h0M294.1 433.5h0M299.2 437.6h0M306.0 431.8h0M303.3 432.0h0M303.2 434.5h0M295.6 434.6h0M304.0 437.6h0M304.1 438.1h0M297.7 434.1h0M301.4 433.5h0M296.6 432.0h0M297.9 433.5h0M308.0 435.4h0M305.9 431.9h0M303.2 437.9h0M293.9 435.9h0M302.8 431.6h0M294.6 437.5h0M302.5 434.8h0M305.1 432.8h0M298.5 438.5h0M293.7 434.4h0M296.5 436.4h0M305.4 437.7h0M303.0 435.3h0M305.8 433.3h0M300.9 437.7h0M306.8 434.8h0M297.4 435.3h0M297.5 437.2h0M320.2 443.1h0M316.6 441.4h0M303.7 439.8h0M320.8 439.4h0M323.0 444.3h0M305.6 448.5h0M314.8 434.0h0M321.6 433.1h0M302.7 437.7h0M300.3 444.8h0M299.8 440.5h0M315.6 447.4h0M325.1 442.8h0M302.2 441.3h0M321.9 448.6h0M299.5 443.4h0M309.0 433.9h0M303.6 439.3h0M315.0 451.5h0M319.5 435.3h0M302.5 446.4h0M304.9 436.0h0M321.3 440.4h0M307.0 447.7h0M327.0 438.2h0M309.3 445.6h0M317.8 445.2h0M305.4 447.2h0M311.0 445.3h0M314.2 434.1h0M309.4 440.5h0M299.9 444.3h0M302.7 443.3h0M319.8 436.2h0M316.8 442.9h0M307.9 449.6h0M303.0 434.5h0M309.0 448.6h0M311.9 432.5h0M322.8 444.3h0M322.8 448.0h0M314.0 447.9h0M314.6 446.6h0M315.2 431.1h0M302.7 446.4h0M313.6 445.3h0M311.3 434.3h0M308.3 438.7h0M310.1 439.2h0M325.2 445.0h0M321.4 438.1h0M325.6 442.5h0M302.2 447.5h0M300.7 438.2h0M309.9 437.4h0M309.9 450.6h0M323.8 448.7h0M319.8 434.7h0M315.8 449.6h0M322.3 446.9h0M320.1 437.8h0M324.0 439.9h0M319.0 436.3h0M326.6 446.9h0M325.3 447.0h0M311.5 442.0h0M316.1 447.8h0M313.1 440.9h0M320.0 437.4h0M309.7 443.7h0M313.6 445.8h0M307.8 447.9h0M314.8 446.3h0M318.2 444.3h0M314.5 439.8h0M303.7 445.9h0M315.3 438.3h0M324.3 436.3h0M315.3 442.3h0M325.6 440.0h0M319.4 439.7h0M312.8 449.3h0M310.6 434.5h0M310.1 435.8h0M304.9 448.1h0M313.0 433.5h0M303.0 438.0h0M324.6 449.0h0M303.1 447.3h0M321.7 441.7h0M301.0 440.4h0M301.2 441.8h0M322.6 438.1h0M315.7 452.3h0M301.9 448.1h0M321.2 447.9h0M324.4 446.7h0M316.8 434.9h0M298.5 441.8h0M305.2 437.2h0M321.6 439.2h0M307.5 436.5h0M308.5 444.5h0M311.0 444.1h0M320.4 438.8h0M320.2 450.5h0M310.0 433.3h0M307.5 440.7h0M312.5 451.2h0M310.8 450.5h0M315.7 436.0h0M321.1 437.7h0M305.5 450.9h0M311.6 451.9h0M299.4 442.0h0M318.6 433.0h0M322.5 442.4h0M312.6 447.5h0M301.1 438.3h0M321.6 437.1h0M305.7 438.9h0M312.9 451.4h0M309.6 436.0h0M319.5 436.1h0M312.2 450.2h0M300.1 438.5h0M323.2 448.7h0M326.8 442.0h0M314.8 437.9h0M311.9 452.0h0M316.8 436.8h0M314.1 441.4h0M305.0 441.7h0M308.9 435.8h0M304.5 437.1h0M310.9 447.1h0M299.9 442.0h0M306.6 433.3h0M306.2 439.7h0M317.8 437.8h0M307.5 444.4h0M309.8 439.0h0M319.6 436.0h0M307.0 436.5h0M301.4 442.7h0M321.3 447.3h0M309.7 432.6h0M304.2 448.3h0M311.0 440.1h0M304.9 445.4h0M306.8 444.1h0M325.8 436.3h0M311.1 435.0h0M307.5 435.8h0M303.5 438.6h0M320.1 438.7h0M299.5 440.2h0M318.2 445.1h0M312.5 432.9h0M310.7 447.5h0M312.4 433.3h0M321.8 449.7h0M299.7 441.3h0M299.7 442.4h0M309.4 449.0h0M317.4 445.2h0M326.9 443.8h0M301.9 438.7h0M310.9 445.3h0M313.0 447.7h0M304.3 436.0h0M324.0 436.5h0M317.4 443.1h0M304.7 440.8h0M308.5 450.4h0M315.3 442.6h0M322.3 443.7h0M309.8 434.1h0M318.9 444.2h0M302.3 444.1h0M320.7 436.6h0M320.6 448.5h0M314.7 432.2h0M304.4 449.4h0M304.9 438.8h0M317.3 437.5h0M326.7 437.8h0M317.6 434.9h0M308.2 437.3h0M304.7 440.5h0M315.2 439.5h0M306.0 443.2h0M310.9 448.1h0M299.9 445.4h0M299.4 439.0h0M305.9 442.2h0M321.1 448.8h0M313.4 441.3h0M323.1 445.9h0M308.1 449.2h0M305.0 439.7h0M320.5 440.4h0M321.8 442.2h0M323.8 438.5h0M310.4 438.8h0M313.7 446.2h0M307.3 448.1h0M321.2 440.2h0M321.4 442.8h0M307.4 439.0h0M311.0 432.4h0M323.6 443.3h0M312.7 441.8h0M312.9 451.5h0M301.4 445.7h0M308.2 435.4h0M318.4 440.9h0M309.5 442.5h0M303.6 439.1h0M309.2 436.2h0M304.5 434.9h0M316.0 450.8h0M303.2 437.9h0M306.8 438.0h0M318.9 444.3h0M302.7 436.1h0M311.6 438.9h0M299.6 444.5h0M307.2 435.3h0M320.1 436.1h0M314.2 433.5h0M310.9 440.9h0M310.2 447.6h0M307.4 450.1h0M303.7 436.2h0M306.3 434.4h0M309.3 444.9h0M312.8 449.3h0M320.8 438.8h0M299.8 443.3h0M315.9 440.7h0M321.6 444.0h0M311.5 451.1h0M313.0 443.9h0M299.7 445.8h0M315.2 432.0h0M326.2 442.9h0M302.9 445.2h0M310.6 442.6h0M302.9 435.4h0M305.5 445.0h0M320.3 444.4h0M323.3 445.9h0M300.0 439.6h0M300.9 446.2h0M325.1 442.8h0M311.5 442.8h0M311.2 448.8h0M315.8 445.2h0M298.9 441.3h0M325.4 444.2h0M321.3 448.5h0M315.5 434.7h0M311.6 439.5h0M305.6 445.1h0M309.7 437.0h0M322.6 445.0h0M301.9 441.1h0M307.8 437.4h0M324.6 442.9h0M314.5 442.0h0M314.0 438.9h0M311.8 431.9h0M327.2 444.4h0M313.8 443.7h0M311.9 439.2h0M318.8 440.4h0M310.6 435.9h0M328.5 441.1h0M310.3 437.4h0M328.6 443.1h0M306.6 432.2h0M302.5 444.3h0M305.8 441.9h0M310.4 435.7h0M319.5 447.3h0M322.3 448.6h0M323.0 445.4h0M321.4 447.5h0M300.4 445.1h0M315.7 441.2h0M301.7 439.8h0M319.6 449.4h0M315.1 432.2h0M317.2 444.9h0M306.5 447.2h0M308.5 443.5h0M324.9 444.8h0M300.3 442.5h0M303.9 439.4h0M317.1 443.8h0M316.3 448.8h0M307.4 443.7h0M321.5 449.2h0M299.8 437.4h0M305.3 447.3h0M318.0 442.2h0M320.5 437.7h0M302.2 436.8h0M307.2 449.0h0M317.6 443.7h0M304.8 440.7h0M326.1 436.3h0M315.7 441.6h0M300.4 442.1h0M321.5 447.2h0M302.3 446.9h0M309.6 446.7h0M314.4 433.5h0M311.5 443.8h0M300.6 440.2h0M310.5 448.2h0M311.0 449.2h0M311.5 435.0h0M324.1 449.5h0M311.7 446.4h0M323.7 448.5h0M312.2 450.0h0M309.7 448.7h0M307.7 437.3h0M328.5 444.3h0M326.5 444.1h0M315.3 445.0h0M307.5 443.7h0M315.4 446.2h0M327.4 438.0h0M318.4 447.0h0M311.7 433.4h0M306.3 434.6h0M299.3 447.8h0M317.4 436.6h0M310.9 450.8h0M308.8 449.7h0M306.2 450.2h0M325.1 447.5h0M307.8 444.9h0M318.4 449.1h0M316.7 445.7h0M315.7 443.0h0M314.5 442.2h0M309.7 439.7h0M322.5 447.9h0M311.8 440.2h0M304.6 449.8h0M310.3 447.7h0M305.3 445.7h0M306.7 437.6h0M317.4 443.0h0M301.7 441.2h0M302.1 446.0h0M305.6 451.1h0M315.1 437.5h0M300.2 438.0h0M318.4 437.8h0M308.6 439.4h0M308.9 446.0h0M312.9 444.6h0M309.4 444.5h0M326.3 439.8h0M307.4 448.2h0M312.1 438.0h0M317.1 445.6h0M325.5 442.3h0M308.8 448.1h0M327.8 442.5h0M308.7 445.7h0M325.1 440.7h0M319.1 440.7h0M314.1 439.3h0M314.6 439.1h0M326.8 442.2h0M326.1 445.0h0M324.6 435.5h0M314.5 439.1h0M313.3 440.1h0M298.8 442.2h0M318.4 436.6h0M310.7 448.9h0M321.5 448.5h0M299.9 444.5h0M329.2 436.9h0M331.8 444.0h0M329.3 448.3h0M331.2 442.5h0M327.7 447.6h0M326.7 434.8h0M336.1 435.6h0M331.1 446.3h0M328.6 447.6h0M332.4 449.9h0M327.0 446.2h0M341.1 443.6h0M330.6 438.6h0M329.8 444.5h0M326.1 442.1h0M336.6 442.7h0M338.5 439.1h0M329.3 443.5h0M335.0 446.5h0M332.1 437.3h0M325.9 439.5h0M329.4 436.1h0M335.9 448.2h0M329.4 443.0h0M325.9 441.1h0M325.4 436.1h0M327.6 442.7h0M340.1 438.2h0M323.6 445.3h0M332.9 450.0h0M321.9 437.3h0M338.3 445.7h0M340.4 442.9h0M329.5 444.0h0M320.9 445.5h0M324.1 447.3h0M330.7 438.3h0M333.2 442.0h0M321.0 445.1h0M334.1 445.1h0M324.2 439.2h0M336.5 441.1h0M328.0 434.5h0M336.7 439.7h0M327.4 446.9h0M336.3 441.9h0M339.6 443.2h0M333.1 446.4h0M330.4 448.9h0M331.6 446.8h0M325.3 435.0h0M337.8 446.6h0M327.3 438.0h0M335.9 441.6h0M328.3 446.4h0M330.4 446.5h0M337.1 442.7h0M325.0 444.7h0M324.0 441.3h0M326.6 447.3h0M338.0 436.1h0M330.8 445.1h0M329.2 447.8h0M332.5 434.7h0M325.8 438.6h0M333.4 438.9h0M331.3 443.8h0M330.1 441.7h0M331.8 436.1h0M332.5 436.8h0M332.1 437.9h0M332.2 449.0h0M330.3 443.5h0M340.9 441.6h0M323.1 437.3h0M330.2 449.4h0M324.0 439.4h0M328.1 442.5h0M337.4 439.1h0M332.6 444.0h0M326.6 447.9h0M329.9 448.7h0M338.8 444.5h0M327.5 441.3h0M331.1 438.8h0M321.9 437.9h0M329.3 447.4h0M328.3 434.4h0M329.5 443.8h0M333.0 443.6h0M333.7 448.6h0M339.3 437.6h0M331.4 440.7h0M331.5 447.3h0M336.9 437.3h0M336.9 443.6h0M324.9 438.7h0M329.6 440.9h0M333.2 441.8h0M340.8 436.2h0M326.9 440.7h0M332.2 439.9h0M332.1 449.5h0M326.1 437.1h0M327.9 448.0h0M340.5 438.9h0M334.2 433.3h0M329.4 444.7h0M323.5 441.2h0M331.6 445.5h0M332.3 434.2h0M336.8 447.2h0M338.7 438.1h0M326.1 440.6h0M332.1 441.4h0M332.6 439.1h0M328.8 436.5h0M327.2 443.0h0M334.9 437.6h0M336.6 439.2h0M328.1 435.0h0M327.9 435.8h0M333.2 438.4h0M325.4 437.1h0M331.6 436.5h0M327.1 437.8h0M322.0 445.0h0M334.0 447.1h0M334.3 434.2h0M334.8 440.6h0M325.6 439.7h0M328.8 446.9h0M326.6 441.9h0M327.9 434.5h0M327.9 448.1h0M335.8 447.1h0M327.8 434.1h0M323.8 441.5h0M326.4 438.3h0M325.5 444.4h0M334.9 448.3h0M332.9 435.0h0M325.2 441.2h0M336.6 443.4h0M325.4 445.0h0M337.3 434.4h0M341.4 443.3h0M321.3 439.9h0M327.9 437.4h0M331.1 441.3h0M339.7 441.0h0M331.5 438.3h0M328.0 447.6h0M329.5 435.1h0M333.5 436.6h0M339.0 443.4h0M341.4 441.4h0M339.8 436.5h0M333.7 438.3h0M332.5 441.2h0M322.0 441.1h0M339.3 444.9h0M333.8 441.7h0M337.9 437.6h0M337.0 445.4h0M322.7 442.1h0M325.3 447.3h0M327.5 439.3h0M327.6 441.1h0M333.9 439.9h0M324.2 443.0h0M328.7 449.0h0M331.2 438.1h0M335.8 443.7h0M323.4 445.4h0M336.2 443.3h0M326.9 441.1h0M329.7 446.6h0M326.2 438.4h0M332.7 438.4h0M336.2 435.8h0M322.7 437.4h0M331.4 434.4h0M329.4 434.5h0M324.1 435.5h0M332.6 449.4h0M338.5 446.2h0M335.1 447.7h0M335.9 446.6h0M328.6 447.0h0M326.5 435.2h0M337.2 435.2h0M323.0 439.2h0M328.5 446.1h0M342.3 442.1h0M284.1 441.9h0M283.5 445.0h0M277.1 440.8h0M283.1 445.7h0M276.2 444.9h0M278.3 446.8h0M279.7 442.1h0M276.4 442.0h0M280.9 442.7h0M277.0 443.2h0M281.8 441.2h0M276.9 441.2h0M278.4 439.6h0M282.0 442.2h0M276.9 440.1h0M274.5 443.5h0M275.1 443.8h0M282.2 443.9h0M279.1 439.8h0M279.5 442.5h0M283.9 445.0h0M283.8 445.0h0M278.5 446.3h0M279.1 444.8h0M277.4 443.5h0M276.7 441.9h0M276.0 442.9h0M282.3 444.8h0M283.1 445.4h0M278.6 441.5h0M282.2 441.6h0M278.4 443.9h0M278.4 443.9h0M281.1 444.3h0M276.2 442.4h0M280.3 443.6h0M277.0 444.4h0M276.7 444.8h0M277.6 444.9h0M283.4 440.7h0M279.4 439.6h0M282.2 444.0h0M275.8 442.8h0M279.0 444.7h0M277.3 442.0h0M280.7 441.6h0M278.5 442.8h0M284.2 440.3h0M275.3 444.6h0M282.6 446.8h0M275.6 444.1h0M282.7 442.0h0M278.6 446.4h0M280.6 440.1h0M278.1 445.1h0M278.7 442.8h0M276.3 439.5h0M279.9 445.2h0M283.3 443.6h0M281.5 439.2h0M285.6 442.8h0M277.9 446.2h0M276.8 442.8h0M276.5 443.6h0M275.5 445.1h0M281.6 444.3h0M281.3 438.5h0M279.1 444.6h0M283.7 440.2h0M283.9 440.9h0M283.3 439.3h0M275.9 443.5h0M275.0 444.6h0M282.1 443.5h0M285.4 442.7h0M291.8 445.0h0M294.7 445.9h0M292.8 446.5h0M293.4 438.0h0M301.2 446.3h0M293.3 447.2h0M292.2 441.4h0M296.2 444.5h0M298.6 442.1h0M300.9 446.1h0M295.3 441.8h0M303.1 446.6h0M304.2 442.5h0M301.7 444.0h0M287.1 445.9h0M301.4 444.1h0M300.4 444.6h0M288.9 443.9h0M293.5 445.7h0M298.7 440.8h0M301.2 445.3h0M292.7 445.5h0M292.2 447.9h0M293.5 443.5h0M292.3 444.3h0M290.4 439.8h0M292.0 438.6h0M288.1 442.0h0M295.9 446.8h0M295.5 443.4h0M300.4 445.4h0M290.1 447.7h0M289.3 446.2h0M291.8 442.6h0M304.3 446.0h0M290.1 447.4h0M297.3 444.7h0M295.5 449.3h0M296.2 447.5h0M297.7 448.0h0M299.8 441.7h0M297.5 438.9h0M295.7 443.4h0M292.4 445.5h0M292.4 445.5h0M291.5 443.1h0M286.6 443.8h0M302.3 447.4h0M297.5 447.3h0M303.6 443.2h0M294.6 440.2h0M298.3 449.3h0M297.2 447.7h0M296.5 446.9h0M299.8 444.8h0M289.6 440.9h0M289.5 441.5h0M299.9 440.9h0M294.6 443.6h0M299.3 447.1h0M297.4 443.5h0M289.6 441.3h0M292.8 442.8h0M291.3 448.6h0M298.0 439.8h0M303.6 446.3h0M298.2 440.9h0M289.7 443.3h0M293.2 447.8h0M304.5 443.8h0M287.7 446.6h0M286.2 444.0h0M293.5 443.5h0M299.7 448.5h0M294.8 446.0h0M287.8 442.7h0M285.3 444.5h0M292.2 440.7h0M290.8 442.0h0M296.1 444.1h0M300.8 443.6h0M286.5 446.8h0M294.8 439.0h0M302.6 445.2h0M299.3 448.0h0M295.2 447.4h0M298.3 448.4h0M292.2 443.7h0M290.5 439.9h0M297.2 442.1h0M303.1 441.8h0M297.2 445.9h0M292.7 449.6h0M288.0 444.1h0M288.1 442.5h0M289.8 443.5h0M301.2 441.1h0M292.9 446.9h0M287.9 442.5h0M295.7 439.5h0M301.3 444.6h0M296.5 446.9h0M295.3 447.4h0M305.1 443.1h0M304.2 445.5h0M295.2 441.4h0M298.7 440.2h0M288.2 447.1h0M303.0 446.8h0M302.5 442.8h0M286.8 444.6h0M293.1 439.3h0M292.3 438.4h0M291.3 448.7h0M292.7 439.7h0M289.8 445.0h0M299.3 441.3h0M295.8 441.0h0M295.2 445.2h0M302.3 440.8h0M293.7 447.6h0M293.4 448.7h0M288.7 448.5h0M303.8 446.1h0M290.3 446.0h0M287.0 442.1h0M297.3 449.2h0M293.2 439.6h0M304.3 444.6h0M290.0 442.3h0M289.7 448.4h0M299.1 443.5h0M294.9 450.5h0M294.2 449.6h0M293.4 448.4h0M303.4 443.9h0M293.1 441.9h0M295.0 446.9h0M304.4 446.6h0M299.4 440.1h0M287.7 447.3h0M302.0 440.9h0M285.8 445.1h0M298.7 447.5h0M292.6 439.9h0M300.4 439.7h0M294.5 442.3h0M287.9 447.1h0M296.3 445.2h0M290.2 445.9h0M302.0 446.8h0M297.0 448.5h0M297.3 447.1h0M298.3 447.2h0M302.7 447.6h0M305.1 450.1h0M298.2 447.4h0M298.5 447.6h0M298.4 448.0h0M300.7 447.7h0M295.2 449.0h0M309.4 449.0h0M303.8 451.3h0M302.0 446.9h0M298.6 449.5h0M298.6 448.0h0M300.9 448.5h0M300.8 449.4h0M306.1 448.6h0M298.1 449.0h0M307.8 450.4h0M307.4 448.2h0M299.5 449.2h0M306.8 447.6h0M301.6 450.0h0M302.0 447.1h0M304.4 448.5h0M297.3 448.7h0M295.7 448.6h0M293.6 449.7h0M303.1 448.0h0M296.3 450.7h0M300.1 450.5h0M301.4 446.9h0M296.0 448.8h0M300.0 446.3h0M306.7 448.9h0M299.4 450.4h0M295.3 447.3h0M293.9 449.2h0M297.1 448.6h0M306.4 450.9h0M296.4 449.3h0M297.7 447.1h0M308.4 448.5h0M304.4 448.7h0M297.0 448.1h0M300.7 448.7h0M303.6 446.7h0M303.3 448.4h0M308.7 449.3h0M306.5 448.1h0M308.0 449.2h0M302.9 450.3h0M298.2 447.6h0M301.7 450.7h0M297.4 449.1h0M305.5 447.9h0M303.8 451.2h0M304.7 447.1h0M332.6 452.8h0M331.4 452.5h0M333.3 453.3h0M329.6 452.8h0M333.8 452.4h0M328.1 454.2h0M333.6 456.1h0M336.3 453.4h0M337.0 453.0h0M333.1 453.3h0M336.9 454.0h0M335.2 455.3h0M332.5 456.4h0M331.9 455.3h0M329.8 455.4h0M330.0 455.4h0M332.2 452.1h0M339.1 454.9h0M339.0 454.8h0M338.0 454.8h0M334.7 455.4h0M330.2 455.2h0M329.4 453.2h0M329.3 453.5h0M334.3 451.6h0M329.4 454.5h0M335.5 454.6h0M329.2 455.4h0M330.4 452.8h0M335.8 455.6h0M328.4 453.1h0M330.6 454.5h0M336.7 455.8h0M332.2 454.0h0M333.6 457.3h0M337.8 456.7h0M327.3 453.9h0M332.0 456.1h0M337.0 455.3h0M330.2 455.6h0M330.8 456.0h0M337.5 454.1h0M330.9 452.5h0M333.9 452.2h0M332.2 456.2h0M334.9 451.7h0M339.5 454.2h0M330.6 456.2h0M335.4 452.5h0M335.6 455.4h0M333.7 453.0h0M330.0 452.4h0M336.0 455.4h0M332.6 454.9h0M337.4 455.0h0M330.2 454.1h0M335.7 451.9h0M337.4 454.4h0M334.2 452.6h0M338.7 456.6h0M334.2 451.8h0M327.0 454.4h0M332.2 456.6h0M330.5 451.7h0M334.4 454.5h0M339.3 455.0h0M329.1 454.8h0M327.8 454.5h0M339.4 455.0h0M338.1 455.1h0M335.2 456.1h0M333.5 453.5h0M338.0 454.5h0M337.3 451.7h0M332.2 453.6h0M314.5 453.5h0M309.6 452.4h0M311.5 456.8h0M319.0 456.5h0M302.8 459.3h0M310.5 461.0h0M304.5 451.9h0M315.6 457.8h0M302.4 456.6h0M299.4 459.4h0M316.1 455.9h0M316.8 452.6h0M315.2 454.6h0M301.7 455.0h0M299.0 456.5h0M296.5 456.8h0M301.5 455.5h0M298.2 453.3h0M315.4 454.4h0M308.1 453.0h0M303.8 454.2h0M299.2 457.6h0M318.5 459.4h0M310.6 453.9h0M315.4 458.9h0M300.7 460.9h0M316.3 451.7h0M318.6 458.6h0M317.4 454.6h0M314.0 453.4h0M309.8 453.2h0M305.3 455.9h0M299.0 455.0h0M298.9 459.1h0M309.5 458.4h0M303.7 459.7h0M307.9 456.4h0M297.7 456.2h0M301.6 453.5h0M306.5 459.7h0M303.5 457.8h0M312.4 454.3h0M312.8 459.3h0M316.7 459.2h0M297.7 457.8h0M313.4 459.9h0M300.6 454.4h0M311.5 458.0h0M312.3 452.5h0M313.6 460.5h0M309.6 458.7h0M310.8 451.8h0M300.9 455.4h0M307.1 457.8h0M302.8 459.1h0M317.9 454.9h0M311.5 456.3h0M298.0 458.3h0M296.8 455.6h0M313.0 453.6h0M308.1 451.2h0M313.4 451.8h0M314.8 455.5h0M313.4 460.1h0M302.8 460.4h0M311.7 458.1h0M309.5 459.3h0M313.5 456.9h0M311.8 460.3h0M315.5 457.6h0M299.3 457.0h0M313.4 454.2h0M316.4 455.3h0M304.0 452.9h0M311.7 454.5h0M307.9 460.6h0M314.3 461.0h0M297.0 457.0h0M306.8 455.4h0M316.8 454.7h0M315.2 452.2h0M306.4 452.8h0M310.4 456.0h0M303.8 454.9h0M312.3 460.2h0M302.9 458.0h0M312.0 454.3h0M303.9 456.7h0M312.6 455.5h0M303.6 458.5h0M308.0 460.2h0M313.0 453.2h0M316.7 456.2h0M309.1 451.4h0M303.5 458.9h0M303.3 455.0h0M301.5 455.6h0M316.8 454.0h0M304.6 460.4h0M305.6 457.6h0M304.4 454.2h0M298.0 456.7h0M316.2 460.1h0M307.7 460.0h0M304.5 461.4h0M308.8 461.0h0M315.2 458.2h0M313.3 453.4h0M306.9 453.7h0M313.6 452.7h0M315.4 459.6h0M313.9 458.9h0M301.5 452.8h0M318.7 458.4h0M297.4 457.7h0M315.0 456.5h0M312.4 455.1h0M298.4 458.5h0M315.3 458.7h0M298.5 458.5h0M313.7 459.6h0M311.5 457.1h0M308.8 453.1h0M297.2 455.9h0M318.3 452.1h0M302.7 459.6h0M305.3 458.7h0M306.1 461.0h0M308.1 460.2h0M300.7 453.0h0M313.3 460.5h0M307.4 455.9h0M319.3 456.3h0M315.3 453.2h0M320.6 458.0h0M315.8 456.1h0M320.4 458.1h0M298.7 459.6h0M318.1 455.2h0M303.0 453.7h0M302.4 458.9h0M315.1 454.2h0M305.1 457.1h0M298.5 454.0h0M309.1 461.3h0M311.9 454.5h0M316.8 458.2h0M315.0 454.3h0M302.5 460.0h0M314.3 456.5h0M306.8 456.9h0M317.9 457.5h0M308.3 458.2h0M300.3 460.6h0M305.5 458.6h0M299.9 458.3h0M306.0 459.1h0M310.4 456.1h0M316.2 456.0h0M304.5 451.3h0M312.3 456.9h0M300.0 457.7h0M315.4 455.5h0M319.9 455.4h0M308.8 454.8h0M312.7 459.0h0M314.8 458.7h0M320.7 455.4h0M309.0 454.1h0M315.1 453.7h0M304.1 454.3h0M300.5 459.9h0M299.5 458.0h0M309.7 452.7h0M315.8 460.2h0M310.1 460.3h0M309.6 455.9h0M314.4 459.6h0M300.9 459.7h0M304.4 457.7h0M324.7 464.7h0M321.7 463.4h0M323.1 463.8h0M323.1 461.7h0M316.3 462.6h0M324.4 464.5h0M322.6 464.8h0M320.2 464.8h0M324.1 462.0h0M322.9 461.1h0M324.4 463.8h0M319.8 461.7h0M320.5 461.2h0M322.1 463.9h0M324.7 462.9h0M314.5 462.8h0M322.7 462.5h0M317.4 462.6h0M317.0 462.1h0M316.3 464.5h0M319.2 465.5h0M323.0 465.8h0M322.2 464.3h0M316.5 463.8h0M316.1 464.9h0M318.2 462.9h0M322.8 462.9h0M321.5 463.8h0M323.3 463.0h0M317.7 463.8h0M316.7 462.8h0M317.9 461.7h0M320.5 463.9h0M315.5 465.1h0M321.3 464.7h0M326.8 462.0h0M319.0 461.4h0M318.3 461.7h0M323.1 464.7h0M317.1 462.6h0M323.5 461.4h0M324.2 465.6h0M317.9 463.3h0M316.2 462.4h0M324.5 463.1h0M325.5 462.6h0M317.4 463.4h0M316.9 465.3h0M317.0 462.9h0M321.5 463.2h0M322.7 463.9h0M323.0 463.1h0M319.2 460.6h0M321.1 461.5h0M319.5 461.0h0M319.3 465.4h0M326.1 463.3h0M320.5 464.9h0M321.0 463.2h0M322.8 466.1h0M297.7 465.5h0M298.0 465.6h0M302.8 465.1h0M301.9 467.1h0M297.7 464.5h0M297.7 467.1h0M296.3 465.3h0M299.1 464.4h0M296.1 466.2h0M298.3 467.6h0M300.3 467.8h0M301.1 465.7h0M299.1 466.1h0M297.0 466.5h0M298.5 464.7h0M301.0 465.4h0M301.1 464.5h0M302.6 465.0h0M301.9 464.8h0M296.5 466.9h0M301.9 466.1h0M300.4 467.4h0M301.1 466.1h0M304.3 465.2h0M299.3 467.5h0M297.6 466.0h0M301.2 466.8h0M302.2 465.8h0M301.8 466.0h0M297.4 466.9h0M333.3 426.7h0M333.3 426.7h0M333.0 426.8h0M335.2 426.8h0M332.4 427.7h0M334.5 427.7h0M335.0 426.6h0M337.2 424.8h0M337.5 426.6h0M333.3 427.6h0M337.3 426.8h0M333.0 425.2h0M326.8 427.3h0M323.4 425.6h0M323.8 426.3h0M323.1 428.2h0M324.9 427.3h0M323.1 426.6h0M325.9 426.9h0" stroke="#dcdcdc" stroke-width="1.20" stroke-linecap="round" fill="none"/></g>
<g><path d="M381.3 425.3h0M375.6 428.2h0M398.2 426.5h0M387.8 426.4h0M386.5 428.2h0M379.6 425.7h0M392.7 428.2h0M387.8 424.6h0M377.6 424.4h0M378.9 426.5h0M377.5 427.1h0M390.3 424.7h0M390.2 428.3h0M382.4 423.3h0M397.9 425.2h0M386.6 424.3h0M395.6 425.9h0M375.9 428.2h0M379.6 424.4h0M380.8 425.9h0M395.1 427.9h0M378.4 427.5h0M382.9 423.1h0M376.7 426.1h0M399.7 425.7h0M397.9 427.3h0M385.3 427.2h0M394.4 426.9h0M395.6 424.9h0M376.0 424.5h0M389.1 429.4h0M393.9 426.2h0M380.2 425.8h0M393.1 427.2h0M375.4 426.5h0M388.7 428.3h0M382.4 425.6h0M382.6 427.9h0M386.1 427.6h0M385.2 428.8h0M397.0 426.8h0M383.9 428.3h0M389.0 426.0h0M387.3 425.1h0M387.4 426.3h0M390.0 425.3h0M390.3 429.1h0M382.3 425.5h0M377.9 425.1h0M375.7 425.1h0M394.7 426.5h0M377.1 426.9h0M382.2 425.0h0M388.4 428.2h0M386.0 427.6h0M383.8 424.2h0M381.8 422.7h0M391.3 427.9h0M391.6 425.5h0M388.4 425.5h0M390.2 424.9h0M377.5 427.2h0M393.6 426.5h0M379.2 427.7h0M383.8 423.1h0M384.8 425.2h0M380.4 426.3h0M387.6 424.2h0M379.1 426.1h0M393.0 426.1h0M391.2 425.9h0M389.7 423.5h0M379.6 426.9h0M380.8 425.0h0M382.1 426.9h0M384.1 423.9h0M389.0 423.5h0M384.0 426.4h0M392.9 424.9h0M384.4 426.8h0M393.4 424.8h0M383.3 423.2h0M381.3 427.1h0M383.5 427.0h0M399.6 424.5h0M391.5 428.6h0M387.6 425.3h0M383.0 426.0h0M384.0 422.9h0M387.2 425.0h0M361.4 432.9h0M372.4 431.3h0M363.9 437.2h0M363.5 431.4h0M365.6 432.4h0M365.9 430.1h0M365.9 430.0h0M360.7 435.3h0M361.4 431.6h0M365.0 432.3h0M362.4 430.8h0M363.4 432.5h0M362.7 436.1h0M371.5 433.8h0M369.0 429.8h0M368.2 432.7h0M371.0 433.7h0M365.2 431.3h0M370.5 434.1h0M364.9 431.7h0M366.7 430.4h0M364.9 429.9h0M372.0 434.5h0M368.3 431.4h0M372.9 436.8h0M366.6 434.2h0M370.3 430.2h0M362.4 432.9h0M366.3 434.3h0M368.9 430.1h0M370.1 434.3h0M364.1 435.6h0M362.2 436.2h0M366.3 434.4h0M366.9 430.5h0M365.2 431.7h0M366.5 436.1h0M367.0 434.9h0M368.4 432.1h0M369.6 436.8h0M364.7 438.1h0M361.8 431.9h0M364.4 435.3h0M366.0 436.8h0M367.8 436.0h0M364.2 431.8h0M366.7 431.1h0M369.3 432.0h0M368.4 432.7h0M361.9 430.9h0M363.1 432.8h0M364.4 435.2h0M366.7 430.3h0M363.6 433.0h0M364.6 430.0h0M367.4 433.8h0M369.3 436.1h0M365.0 435.1h0M370.1 436.7h0M370.0 432.8h0M369.1 435.1h0M359.8 432.8h0M368.5 434.6h0M363.1 431.7h0M367.3 436.1h0M369.3 432.4h0M366.0 435.6h0M382.8 434.6h0M387.9 436.3h0M388.8 437.0h0M375.3 434.7h0M379.6 438.5h0M377.8 435.0h0M378.1 437.0h0M377.2 435.3h0M383.7 431.1h0M372.8 435.4h0M386.9 437.7h0M381.5 438.5h0M374.2 433.6h0M378.0 434.8h0M382.4 434.6h0M372.8 436.8h0M376.1 434.0h0M378.9 433.2h0M375.7 438.8h0M387.2 433.0h0M384.0 437.7h0M374.0 433.0h0M381.0 439.2h0M386.9 437.6h0M374.6 433.4h0M380.4 434.4h0M381.1 432.1h0M373.6 433.3h0M381.3 438.2h0M389.6 435.4h0M388.2 433.1h0M384.4 437.7h0M387.2 434.6h0M372.1 434.8h0M387.6 434.3h0M384.5 434.8h0M376.8 438.9h0M377.7 432.0h0M383.5 438.6h0M375.7 433.4h0M385.1 438.5h0M383.6 433.2h0M383.9 433.4h0M375.9 434.6h0M381.7 432.7h0M388.6 434.5h0M385.8 438.0h0M382.8 437.8h0M379.3 438.8h0M378.5 439.2h0M378.8 433.8h0M385.4 433.5h0M381.8 437.5h0M383.9 435.7h0M387.3 435.2h0M389.0 436.1h0M382.5 431.6h0M374.4 435.7h0M387.9 436.0h0M376.9 433.7h0M382.5 438.8h0M377.3 436.3h0M380.4 432.5h0M387.7 435.6h0M383.1 436.7h0M373.3 436.1h0M379.0 436.4h0M375.5 436.3h0M380.2 432.0h0M384.6 435.9h0M381.5 438.6h0M372.3 434.5h0M383.3 434.3h0M377.5 433.1h0M385.2 431.8h0M378.8 438.5h0M386.0 432.7h0M378.7 437.7h0M375.4 436.0h0M388.3 433.5h0M379.5 433.1h0M372.5 435.2h0M381.3 437.2h0M373.6 434.1h0M381.6 433.9h0M379.6 435.7h0M376.0 434.1h0M379.2 433.8h0M383.1 434.2h0M377.8 438.7h0M403.5 447.7h0M402.1 447.5h0M381.7 436.9h0M386.2 434.9h0M399.9 447.3h0M405.2 441.9h0M391.4 436.7h0M399.7 443.2h0M389.0 446.0h0M389.7 437.2h0M400.8 438.4h0M392.0 449.0h0M404.9 437.9h0M404.9 447.3h0M381.4 443.4h0M407.4 443.6h0M396.1 435.2h0M400.6 448.0h0M400.1 437.4h0M390.6 443.6h0M403.4 435.7h0M396.6 444.5h0M393.9 445.9h0M407.7 444.2h0M391.1 442.2h0M392.5 439.5h0M397.0 451.3h0M393.3 441.9h0M377.7 442.5h0M390.3 443.8h0M397.4 432.5h0M404.1 441.3h0M401.4 440.5h0M385.2 433.2h0M399.4 449.6h0M392.8 436.2h0M381.6 445.5h0M401.0 433.4h0M381.7 437.1h0M396.2 437.3h0M392.2 438.3h0M399.3 436.2h0M404.1 443.2h0M402.5 438.8h0M391.7 439.4h0M391.6 441.0h0M388.3 434.1h0M393.8 441.4h0M395.1 439.9h0M380.4 443.4h0M387.9 444.5h0M401.0 444.4h0M382.5 438.0h0M402.4 447.5h0M402.3 438.3h0M400.1 435.2h0M387.8 439.7h0M383.2 437.1h0M393.3 435.6h0M393.1 450.9h0M386.5 434.8h0M398.9 450.9h0M398.8 449.1h0M405.4 443.3h0M393.3 447.6h0M385.3 440.1h0M395.1 441.3h0M402.3 445.7h0M382.1 440.7h0M381.4 441.9h0M398.7 439.4h0M390.2 439.2h0M392.5 451.5h0M388.0 448.7h0M397.9 437.9h0M389.6 439.7h0M394.9 450.9h0M385.7 437.3h0M405.6 437.4h0M407.0 438.3h0M403.3 438.2h0M396.1 432.3h0M386.3 439.6h0M398.6 433.6h0M392.9 434.7h0M404.6 447.4h0M404.9 438.8h0M395.8 438.4h0M401.4 440.2h0M403.9 446.1h0M395.7 444.6h0M385.0 439.2h0M384.7 439.9h0M383.9 440.2h0M383.1 438.0h0M403.0 439.1h0M401.0 441.1h0M391.5 443.5h0M403.3 448.6h0M380.7 446.7h0M395.3 438.9h0M379.6 441.0h0M398.7 450.3h0M395.6 451.6h0M383.4 445.1h0M390.2 446.4h0M396.5 444.3h0M400.6 441.4h0M389.5 443.6h0M394.6 449.4h0M401.5 433.8h0M385.6 436.4h0M397.4 450.2h0M402.8 441.9h0M407.1 437.3h0M386.9 433.7h0M398.1 450.9h0M402.4 448.7h0M391.8 436.5h0M395.0 440.7h0M389.7 437.7h0M397.6 450.0h0M396.0 433.6h0M392.3 449.3h0M398.0 435.6h0M387.1 446.5h0M392.5 449.1h0M393.5 451.8h0M382.1 437.3h0M390.0 444.9h0M399.3 438.1h0M382.1 446.6h0M406.8 442.3h0M409.1 440.5h0M395.7 439.7h0M393.9 442.1h0M400.2 449.4h0M403.1 447.6h0M391.8 434.3h0M388.5 449.1h0M392.8 434.9h0M403.2 442.9h0M402.7 435.4h0M387.0 449.0h0M406.3 447.1h0M400.8 450.5h0M397.1 433.7h0M403.0 438.8h0M395.2 437.6h0M390.9 440.6h0M397.3 450.7h0M385.7 446.6h0M393.5 446.3h0M392.2 442.2h0M388.9 441.8h0M392.9 441.4h0M407.4 444.7h0M398.3 434.9h0M384.1 447.7h0M394.0 433.1h0M403.8 436.4h0M387.5 451.8h0M385.5 434.2h0M404.6 439.0h0M402.0 438.5h0M390.6 438.4h0M389.3 439.8h0M385.5 438.6h0M381.5 444.3h0M399.0 447.9h0M389.1 449.8h0M394.6 439.4h0M401.8 445.4h0M400.9 445.9h0M399.6 448.9h0M383.2 434.0h0M393.5 431.9h0M395.0 441.0h0M397.3 445.2h0M394.9 435.3h0M387.5 443.6h0M395.3 438.9h0M407.7 440.9h0M397.6 434.9h0M399.5 435.4h0M388.3 439.0h0M404.2 443.9h0M397.6 447.4h0M404.9 449.2h0M394.4 443.8h0M405.0 439.7h0M405.3 442.2h0M386.7 434.6h0M402.3 442.2h0M402.9 445.3h0M386.7 438.4h0M395.7 432.4h0M400.0 445.9h0M393.0 437.2h0M400.2 439.3h0M382.2 435.9h0M390.5 437.9h0M381.9 438.8h0M385.8 444.3h0M398.4 448.9h0M409.0 442.4h0M390.1 439.4h0M388.8 449.8h0M398.4 439.6h0M389.0 437.3h0M378.9 440.8h0M402.5 445.4h0M389.6 445.9h0M390.8 445.1h0M407.7 441.2h0M384.1 442.9h0M383.9 448.5h0M395.1 438.6h0M405.7 445.7h0M381.7 445.2h0M385.2 447.3h0M393.0 446.9h0M403.2 437.0h0M405.5 443.2h0M398.3 437.9h0M403.6 443.2h0M399.4 438.9h0M389.7 438.8h0M389.9 432.4h0M406.7 438.3h0M388.8 440.3h0M386.4 436.2h0M389.0 443.2h0M386.2 444.2h0M384.6 443.1h0M383.0 438.5h0M399.3 449.3h0M400.5 447.9h0M396.2 437.8h0M388.5 436.1h0M393.2 436.0h0M384.2 443.9h0M398.1 437.2h0M387.2 436.7h0M394.8 440.4h0M387.4 434.3h0M385.0 441.8h0M395.0 439.9h0M400.2 445.8h0M389.8 446.6h0M399.7 439.3h0M406.3 445.1h0M380.9 442.5h0M392.2 443.4h0M386.0 446.9h0M381.0 438.9h0M384.6 448.2h0M395.5 436.0h0M380.0 446.8h0M389.4 443.1h0M406.0 445.9h0M394.9 447.2h0M383.9 434.1h0M381.1 447.4h0M393.8 439.0h0M397.3 451.0h0M379.7 442.8h0M387.2 448.2h0M403.7 447.8h0M403.7 437.2h0M386.0 442.3h0M395.6 450.3h0M396.5 447.1h0M404.8 440.0h0M389.7 436.9h0M395.2 442.6h0M398.3 450.3h0M394.0 444.4h0M388.5 442.2h0M395.0 443.7h0M380.5 445.3h0M399.9 436.2h0M392.0 436.4h0M390.0 436.3h0M399.0 443.3h0M402.7 443.3h0M386.0 432.9h0M391.8 443.1h0M392.7 432.8h0M384.5 444.0h0M404.6 438.9h0M403.3 435.4h0M393.8 446.3h0M400.5 445.2h0M398.3 437.0h0M379.3 441.6h0M386.2 439.1h0M398.9 448.6h0M406.2 436.9h0M382.0 443.5h0M401.7 440.1h0M403.4 437.2h0M389.4 447.0h0M386.3 443.1h0M380.2 440.4h0M399.7 439.6h0M396.5 443.5h0M402.2 443.2h0M388.8 444.2h0M398.8 437.2h0M396.1 448.5h0M389.9 441.2h0M399.0 443.9h0M399.0 450.0h0M384.9 442.8h0M390.5 451.6h0M388.3 434.1h0M385.1 447.9h0M394.3 445.7h0M399.2 444.4h0M383.3 435.5h0M401.3 445.8h0M386.6 443.7h0M381.1 444.6h0M402.2 448.6h0M396.4 432.7h0M397.7 435.7h0M397.7 435.1h0M401.8 433.4h0M399.5 444.0h0M385.9 443.5h0M403.5 435.2h0M387.3 444.4h0M385.1 435.5h0M400.4 449.4h0M397.0 446.7h0M385.2 434.9h0M395.5 442.0h0M398.9 433.1h0M395.3 441.0h0M388.3 449.6h0M396.6 448.8h0M401.0 449.4h0M394.5 440.4h0M399.1 446.8h0M404.1 445.8h0M399.4 434.0h0M390.3 447.0h0M382.5 437.4h0M399.5 444.2h0M394.5 443.7h0M388.4 437.3h0M395.2 434.6h0M392.9 434.6h0M405.0 437.8h0M401.6 445.2h0M384.1 436.5h0M406.4 437.5h0M381.9 442.0h0M397.2 441.3h0M393.1 448.9h0M388.6 448.4h0M386.9 441.0h0M382.9 444.8h0M403.8 445.7h0M404.1 436.8h0M397.8 449.4h0M391.9 443.7h0M394.5 448.8h0M399.9 438.4h0M383.2 440.1h0M398.4 432.7h0M393.5 438.1h0M382.6 434.4h0M398.7 440.1h0M388.1 448.6h0M388.8 443.5h0M404.0 436.2h0M391.1 435.5h0M393.3 448.1h0M393.8 440.1h0M384.3 443.8h0M389.1 434.2h0M396.8 445.6h0M383.1 439.8h0M396.5 443.0h0M388.9 436.9h0M397.6 432.6h0M403.8 443.0h0M398.2 437.5h0M405.4 442.7h0M417.4 441.5h0M416.4 443.3h0M411.6 436.2h0M415.9 443.3h0M408.7 444.8h0M403.0 443.3h0M415.5 440.7h0M408.4 436.8h0M404.6 445.8h0M405.7 447.2h0M415.9 447.4h0M411.6 435.4h0M412.5 436.4h0M408.2 447.1h0M411.9 433.2h0M409.9 437.3h0M410.5 435.8h0M413.5 442.3h0M418.3 437.5h0M417.1 438.0h0M418.2 436.1h0M409.4 439.8h0M402.2 436.5h0M414.3 440.7h0M419.8 445.2h0M411.6 448.0h0M403.3 441.9h0M418.7 438.6h0M414.0 447.5h0M404.4 447.3h0M411.7 437.4h0M411.0 442.1h0M417.1 444.5h0M412.0 436.7h0M407.1 448.8h0M420.3 441.4h0M412.8 445.9h0M406.5 445.8h0M417.4 443.8h0M418.8 439.2h0M407.6 446.6h0M408.6 433.3h0M419.9 439.3h0M409.6 441.2h0M411.8 443.8h0M417.9 444.1h0M400.2 443.1h0M421.4 439.6h0M404.0 440.6h0M411.1 434.1h0M415.7 434.4h0M414.4 441.4h0M409.5 439.7h0M412.6 445.7h0M411.2 434.2h0M412.8 447.1h0M401.2 439.8h0M406.2 441.3h0M403.3 444.8h0M415.1 441.2h0M404.8 436.1h0M404.1 446.3h0M408.3 444.7h0M407.7 442.0h0M413.4 448.1h0M414.7 444.0h0M414.0 441.9h0M408.1 449.8h0M418.9 445.6h0M413.1 447.6h0M409.9 446.2h0M404.2 435.7h0M404.8 446.8h0M406.4 447.5h0M411.6 442.2h0M402.5 442.5h0M407.2 438.4h0M412.7 448.4h0M408.8 440.2h0M418.5 439.2h0M402.0 443.3h0M409.4 440.2h0M416.0 448.8h0M404.4 437.3h0M403.9 443.0h0M416.5 440.2h0M420.6 441.6h0M418.7 444.1h0M418.3 446.0h0M413.2 441.5h0M411.4 432.9h0M411.0 443.6h0M419.8 438.3h0M408.1 443.1h0M410.4 447.8h0M408.7 434.4h0M402.2 443.1h0M404.1 442.5h0M419.0 438.3h0M414.7 443.7h0M407.3 446.9h0M415.9 442.7h0M402.8 438.7h0M417.2 447.2h0M405.4 443.2h0M407.0 443.3h0M419.4 446.2h0M413.9 441.2h0M410.4 437.6h0M410.2 440.1h0M421.2 444.1h0M413.4 448.9h0M404.9 444.0h0M414.4 442.5h0M417.4 440.9h0M411.9 444.3h0M417.9 447.3h0M405.9 448.9h0M419.0 436.2h0M402.9 444.4h0M405.8 446.9h0M408.0 445.4h0M411.7 444.8h0M409.2 440.3h0M417.5 439.9h0M421.6 440.9h0M416.9 442.2h0M410.7 449.6h0M404.6 436.0h0M411.5 434.8h0M409.9 437.3h0M420.1 444.3h0M402.5 438.5h0M405.8 436.9h0M421.0 442.6h0M414.7 440.1h0M408.7 444.5h0M419.2 448.5h0M417.9 437.5h0M404.7 436.8h0M404.6 441.3h0M414.0 441.3h0M406.5 440.8h0M403.2 446.9h0M405.8 440.9h0M405.0 448.1h0M414.0 438.9h0M407.5 442.3h0M411.9 440.4h0M404.9 441.3h0M403.2 438.1h0M417.0 442.9h0M404.3 442.4h0M412.8 436.0h0M419.2 437.5h0M413.4 433.9h0M412.0 439.3h0M416.5 443.9h0M413.2 433.8h0M403.8 437.0h0M404.3 441.2h0M421.7 442.2h0M410.2 446.2h0M402.1 443.1h0M411.1 433.5h0M403.0 446.5h0M404.6 444.5h0M411.9 446.8h0M411.4 435.6h0M417.6 438.7h0M403.1 444.4h0M421.2 443.1h0M417.1 444.1h0M408.0 436.7h0M410.7 447.9h0M411.6 434.9h0M411.7 441.9h0M417.0 446.0h0M410.5 446.9h0M409.7 434.1h0M411.2 445.9h0M409.7 437.9h0M403.2 445.1h0M416.4 440.8h0M417.5 447.1h0M410.1 433.9h0M409.5 441.1h0M417.5 443.3h0M410.7 437.3h0M422.0 441.3h0M403.4 445.5h0M417.1 442.2h0M416.6 442.4h0M408.1 441.8h0M364.3 444.5h0M366.4 442.4h0M360.8 440.4h0M360.1 441.1h0M360.3 446.0h0M362.7 445.1h0M365.9 441.2h0M356.5 441.0h0M357.7 442.9h0M358.7 440.6h0M362.3 444.6h0M359.9 440.0h0M359.9 442.1h0M361.8 441.7h0M362.3 443.9h0M356.0 443.9h0M355.8 442.2h0M358.9 441.2h0M356.6 445.7h0M364.5 443.1h0M358.4 440.3h0M361.4 439.8h0M359.6 445.2h0M361.3 440.3h0M358.5 442.9h0M365.2 441.7h0M359.2 441.3h0M364.4 441.5h0M365.7 439.7h0M355.6 443.3h0M361.1 445.7h0M363.3 441.5h0M362.6 440.7h0M355.9 445.6h0M358.3 442.1h0M358.3 443.5h0M360.3 439.6h0M357.1 443.2h0M359.6 439.9h0M356.9 441.3h0M357.0 443.2h0M364.8 444.5h0M364.3 444.5h0M360.7 446.3h0M358.5 445.1h0M362.3 443.4h0M360.3 441.6h0M364.1 443.8h0M358.8 441.7h0M356.7 444.8h0M362.7 445.3h0M357.7 439.8h0M358.0 445.9h0M355.4 443.4h0M364.4 444.5h0M356.6 444.0h0M357.7 446.3h0M364.1 445.1h0M363.5 441.7h0M355.2 443.9h0M359.1 443.9h0M364.6 445.6h0M361.5 440.8h0M366.8 441.8h0M362.6 440.9h0M363.5 440.9h0M363.5 441.6h0M355.7 443.4h0M361.4 441.6h0M355.0 443.5h0M364.4 447.9h0M362.0 439.9h0M355.9 441.4h0M356.1 443.9h0M356.1 441.6h0M370.4 441.6h0M373.9 443.8h0M381.8 446.2h0M369.6 444.2h0M376.6 447.6h0M366.6 444.8h0M368.9 446.5h0M378.2 447.4h0M376.8 446.7h0M375.4 444.9h0M381.1 440.3h0M382.7 444.9h0M374.6 442.2h0M376.7 439.1h0M382.0 443.3h0M382.5 447.9h0M378.1 446.0h0M369.1 445.3h0M373.6 448.5h0M381.6 443.0h0M365.3 443.4h0M368.5 444.9h0M366.4 444.6h0M377.6 445.3h0M366.7 445.4h0M375.7 442.2h0M372.5 441.9h0M371.5 441.4h0M376.2 441.6h0M366.3 441.8h0M367.4 441.3h0M374.8 445.6h0M380.9 445.8h0M370.5 444.7h0M378.0 443.8h0M373.6 441.4h0M370.9 445.4h0M374.7 438.7h0M373.0 447.7h0M382.4 447.5h0M369.1 444.5h0M375.2 442.1h0M383.1 444.1h0M374.5 439.5h0M373.6 441.3h0M372.9 442.1h0M365.5 444.8h0M381.3 441.6h0M374.4 441.9h0M371.3 447.2h0M369.0 444.9h0M377.4 443.6h0M366.7 446.2h0M378.4 447.9h0M375.6 441.1h0M380.0 446.9h0M374.1 439.6h0M370.2 447.1h0M383.7 443.9h0M379.1 443.5h0M381.3 441.2h0M376.7 441.7h0M366.4 444.5h0M379.2 441.9h0M366.6 443.7h0M384.4 445.5h0M378.0 443.3h0M383.1 441.5h0M373.5 440.1h0M373.9 444.9h0M372.3 445.5h0M369.5 441.0h0M375.4 446.1h0M371.4 443.2h0M383.0 442.1h0M370.8 442.7h0M366.3 443.7h0M366.3 445.6h0M382.5 444.2h0M375.2 439.6h0M368.3 441.9h0M373.9 439.9h0M381.9 445.4h0M380.7 439.6h0M381.2 448.1h0M380.8 447.6h0M374.9 443.8h0M382.8 442.5h0M383.7 442.2h0M382.4 447.7h0M368.8 442.0h0M368.4 446.4h0M370.7 444.9h0M376.1 441.1h0M379.1 444.2h0M379.2 442.1h0M379.0 442.9h0M372.3 448.5h0M369.5 442.0h0M374.7 445.5h0M380.2 448.3h0M377.3 445.3h0M375.4 440.3h0M376.0 448.5h0M378.1 446.6h0M380.7 448.3h0M373.7 441.0h0M383.3 446.5h0M374.3 444.0h0M379.7 448.6h0M374.2 448.4h0M372.2 444.9h0M367.8 447.7h0M382.2 447.1h0M369.3 448.9h0M379.3 441.9h0M367.5 444.9h0M377.3 446.3h0M379.8 439.3h0M380.9 447.2h0M378.6 440.3h0M368.3 446.7h0M381.3 444.6h0M366.3 443.1h0M376.0 442.7h0M374.2 445.7h0M379.5 440.2h0M373.7 440.5h0M384.3 445.0h0M369.3 446.4h0M378.2 441.1h0M376.0 440.7h0M375.2 440.6h0M370.2 447.0h0M379.3 446.5h0M378.1 446.1h0M374.8 439.9h0M375.8 445.6h0M371.6 444.0h0M379.8 446.6h0M371.6 445.9h0M372.5 442.1h0M380.2 446.5h0M380.8 441.2h0M368.0 444.0h0M372.1 443.5h0M378.5 444.5h0M372.1 447.0h0M368.3 443.0h0M374.7 444.7h0M377.4 448.9h0M374.1 450.0h0M378.0 449.4h0M375.7 449.2h0M387.7 449.7h0M379.2 449.1h0M378.9 450.8h0M378.6 451.5h0M379.8 449.2h0M385.4 450.1h0M388.5 449.4h0M376.7 447.8h0M380.8 448.7h0M381.4 450.4h0M385.9 447.9h0M388.9 450.9h0M382.8 449.7h0M378.6 447.1h0M380.3 450.5h0M386.3 448.9h0M384.8 450.2h0M378.0 450.4h0M383.7 450.9h0M387.0 448.7h0M385.8 448.0h0M380.4 450.4h0M377.3 449.0h0M383.9 447.5h0M377.6 447.2h0M384.3 449.0h0M380.6 447.9h0M383.9 447.1h0M383.0 450.9h0M376.8 449.4h0M383.6 449.2h0M377.1 447.5h0M389.5 449.6h0M377.3 449.5h0M375.9 449.4h0M383.6 446.4h0M387.2 449.9h0M375.3 448.9h0M386.9 447.6h0M386.6 448.4h0M381.6 446.5h0M381.4 448.0h0M380.3 447.5h0M379.2 447.2h0M376.8 449.1h0M381.1 448.9h0M379.1 448.1h0M382.5 449.2h0M384.5 447.5h0M382.3 447.4h0M383.3 447.8h0M382.9 451.1h0M385.2 447.2h0M383.0 448.4h0M381.9 450.7h0M382.3 449.7h0M415.5 456.4h0M419.6 453.7h0M414.5 456.2h0M409.0 451.1h0M415.7 455.1h0M410.8 455.0h0M416.1 452.6h0M417.5 453.1h0M414.3 454.7h0M416.6 452.9h0M407.8 454.1h0M410.4 456.1h0M413.1 455.8h0M407.2 454.9h0M418.4 454.1h0M419.1 453.5h0M412.5 453.4h0M413.4 453.9h0M410.0 454.7h0M418.5 453.7h0M412.4 452.5h0M405.3 454.6h0M415.7 455.2h0M415.6 454.8h0M408.9 455.7h0M411.8 456.3h0M410.0 456.5h0M411.1 455.7h0M417.5 455.3h0M408.4 456.4h0M408.9 457.3h0M419.5 453.9h0M409.2 454.4h0M414.9 455.6h0M415.9 453.5h0M411.5 451.2h0M409.7 454.2h0M412.7 452.3h0M419.0 454.5h0M410.1 454.8h0M417.3 455.9h0M418.2 454.6h0M418.8 455.6h0M417.0 455.0h0M416.6 454.9h0M409.9 455.3h0M419.4 452.4h0M407.1 455.5h0M414.5 453.5h0M414.1 451.0h0M408.9 455.4h0M415.5 454.3h0M410.0 453.8h0M413.0 452.4h0M413.5 453.9h0M408.3 456.0h0M414.6 456.9h0M409.7 455.1h0M413.9 452.2h0M414.3 452.1h0M413.8 455.3h0M419.0 455.3h0M407.8 455.9h0M416.4 455.6h0M414.0 456.5h0M408.9 454.8h0M411.2 454.0h0M419.4 453.3h0M415.4 453.2h0M412.7 452.6h0M408.6 455.7h0M418.0 454.5h0M407.2 455.4h0M417.8 451.3h0M412.1 453.8h0M388.4 453.8h0M383.4 461.0h0M390.8 461.3h0M386.0 454.5h0M394.5 457.5h0M380.6 454.5h0M380.7 453.0h0M386.6 452.2h0M386.8 452.8h0M387.3 456.5h0M377.4 455.6h0M389.9 459.9h0M391.2 456.2h0M379.8 459.4h0M394.6 451.6h0M393.8 458.7h0M384.2 456.7h0M387.4 457.6h0M386.0 452.4h0M394.2 459.1h0M395.4 453.6h0M387.0 460.1h0M397.7 460.8h0M395.9 460.0h0M398.8 457.9h0M391.3 453.8h0M394.1 460.3h0M380.7 459.4h0M390.3 451.8h0M389.8 456.6h0M383.8 456.0h0M390.7 460.2h0M379.6 459.1h0M382.6 460.5h0M387.1 453.0h0M383.5 452.7h0M386.6 454.1h0M390.6 456.0h0M380.4 458.8h0M396.7 454.9h0M387.6 456.1h0M383.2 458.3h0M377.3 455.2h0M397.9 457.6h0M381.5 457.5h0M376.2 456.5h0M390.9 454.3h0M395.4 454.2h0M393.7 454.7h0M394.6 457.9h0M391.2 454.1h0M390.4 455.4h0M387.0 451.0h0M399.3 455.9h0M391.5 456.8h0M382.2 456.1h0M378.7 457.7h0M382.1 451.8h0M391.2 455.7h0M389.6 452.7h0M388.7 458.5h0M393.1 461.2h0M378.9 456.8h0M381.1 460.0h0M397.3 453.7h0M384.9 457.0h0M382.9 457.4h0M391.9 451.7h0M376.4 456.6h0M382.4 458.5h0M381.1 459.8h0M377.4 457.8h0M388.0 452.4h0M379.7 459.5h0M390.7 455.6h0M386.7 461.7h0M388.9 459.4h0M393.3 452.7h0M379.8 458.4h0M381.2 454.3h0M380.6 456.3h0M390.6 457.9h0M394.1 457.1h0M396.4 456.9h0M389.5 451.6h0M378.7 458.3h0M391.9 460.5h0M376.8 456.7h0M383.1 453.0h0M391.7 458.9h0M397.8 457.1h0M379.1 454.1h0M389.7 454.6h0M377.6 458.6h0M385.5 459.1h0M388.7 456.1h0M397.2 456.5h0M387.4 454.6h0M384.9 461.6h0M382.1 455.4h0M387.6 453.7h0M387.6 461.0h0M385.2 460.6h0M383.4 452.6h0M388.2 457.4h0M385.2 454.2h0M394.0 454.6h0M379.5 459.4h0M383.1 454.3h0M385.3 458.1h0M386.5 455.3h0M393.7 456.2h0M389.3 461.8h0M388.7 453.9h0M391.2 453.4h0M385.1 455.2h0M381.9 458.5h0M384.5 460.0h0M394.2 459.5h0M389.5 455.4h0M393.9 455.2h0M381.8 460.2h0M398.6 453.4h0M391.6 455.8h0M391.4 460.4h0M381.8 451.9h0M395.1 454.5h0M376.5 454.9h0M389.3 451.9h0M380.2 457.5h0M381.6 461.2h0M389.2 453.7h0M388.2 457.6h0M395.9 454.7h0M385.3 457.7h0M384.8 457.5h0M383.0 452.5h0M390.3 457.2h0M387.7 457.9h0M384.0 455.3h0M397.7 457.8h0M387.1 460.9h0M393.1 455.0h0M391.4 454.5h0M381.4 458.1h0M392.9 450.8h0M397.2 457.5h0M393.0 455.2h0M396.3 455.6h0M391.5 453.0h0M380.1 458.7h0M396.0 453.1h0M384.2 454.4h0M376.9 456.6h0M386.1 458.3h0M391.2 454.9h0M392.1 452.3h0M398.6 456.9h0M385.1 452.4h0M386.4 456.9h0M386.5 455.4h0M384.0 452.4h0M401.0 456.7h0M381.5 456.1h0M389.9 453.0h0M389.1 457.3h0M397.1 459.2h0M379.0 455.9h0M381.5 454.8h0M388.5 453.7h0M388.0 452.8h0M377.0 454.9h0M393.1 452.5h0M395.5 459.6h0M398.1 458.8h0M389.3 458.2h0M396.1 456.0h0M383.4 457.6h0M390.3 456.3h0M387.6 456.0h0M396.3 461.6h0M404.4 465.6h0M402.1 463.1h0M403.2 461.9h0M403.5 463.7h0M400.1 464.1h0M398.6 465.6h0M400.8 460.6h0M403.7 463.5h0M399.1 465.3h0M398.2 462.8h0M400.8 463.3h0M401.5 460.9h0M402.6 460.8h0M408.0 465.2h0M400.4 462.6h0M400.8 463.5h0M403.6 464.8h0M401.0 462.5h0M404.5 464.3h0M406.0 463.0h0M399.8 462.7h0M398.1 463.9h0M401.6 462.3h0M403.8 463.3h0M402.4 465.4h0M402.3 460.4h0M400.6 461.2h0M399.9 466.0h0M404.6 462.1h0M395.3 462.6h0M399.3 462.6h0M404.9 463.7h0M402.8 463.8h0M405.0 463.9h0M395.5 463.7h0M399.1 462.8h0M398.8 464.8h0M401.2 461.7h0M396.0 464.8h0M404.0 465.3h0M405.2 463.9h0M401.6 464.8h0M397.6 466.3h0M401.8 465.5h0M397.1 463.5h0M396.9 462.7h0M406.2 464.1h0M403.6 463.5h0M402.9 464.2h0M396.7 463.6h0M396.3 463.3h0M397.6 462.9h0M401.0 462.4h0M399.2 461.8h0M398.2 462.5h0M395.0 464.2h0M398.6 463.9h0M406.0 463.7h0M394.8 462.4h0M379.2 465.6h0M379.7 464.2h0M380.3 467.6h0M379.9 465.8h0M380.5 467.0h0M377.6 466.1h0M379.1 466.2h0M380.0 465.3h0M379.4 466.0h0M381.4 466.1h0M378.6 468.0h0M381.5 465.8h0M379.3 467.1h0M377.9 466.9h0M380.4 465.3h0M382.1 467.2h0M378.1 467.4h0M380.1 465.9h0M383.0 466.6h0M377.7 467.0h0M379.0 467.3h0M379.3 468.4h0M376.5 464.7h0M375.4 465.1h0M376.7 464.8h0M378.6 468.5h0M378.4 466.4h0M380.7 467.2h0M380.3 468.0h0M378.6 465.9h0M415.0 425.7h0M415.0 427.3h0M412.9 426.3h0M416.1 426.5h0M413.2 427.3h0M412.4 424.0h0M416.2 425.6h0M414.8 425.6h0M416.5 428.4h0M415.5 425.2h0M416.1 426.1h0M414.5 428.1h0M403.4 428.2h0M405.3 426.5h0M403.2 428.0h0M403.0 427.3h0M404.0 425.4h0M404.4 427.1h0M404.7 428.3h0" stroke="#dcdcdc" stroke-width="1.20" stroke-linecap="round" fill="none"/></g>
<g><path d="M306.9 370.2h0M316.1 367.7h0M301.0 371.2h0M316.8 368.2h0M310.1 369.0h0M296.8 366.8h0M301.8 370.1h0M300.1 370.7h0M297.3 370.0h0M314.1 371.8h0M305.1 371.6h0M312.7 369.2h0M295.7 368.9h0M299.6 368.5h0M310.1 367.4h0M302.5 369.3h0M305.7 365.8h0M307.7 370.3h0" stroke="#ce741f" stroke-width="1.20" stroke-linecap="round" fill="none"/><path d="M288.9 372.5h0M288.5 372.9h0M281.8 377.9h0M282.5 378.7h0M290.0 374.1h0M288.1 371.9h0M290.3 377.4h0M283.9 375.4h0M284.7 373.9h0M289.7 376.0h0M287.7 378.7h0M285.7 374.2h0M283.7 374.5h0M291.7 375.6h0M283.0 375.7h0M284.1 376.0h0M289.3 378.6h0M286.0 379.6h0M283.9 377.0h0M290.1 379.6h0M291.1 379.0h0M285.0 376.4h0M290.1 377.7h0M282.8 378.6h0M285.9 377.0h0M288.5 378.8h0M288.0 377.5h0M288.7 378.1h0M283.7 373.4h0M287.9 375.5h0M285.2 378.0h0M284.0 378.9h0M281.8 375.8h0M287.9 372.7h0M285.4 373.3h0M287.9 376.3h0M287.2 377.1h0M286.5 373.2h0M285.0 373.6h0M284.8 375.5h0M287.7 374.2h0M290.4 376.9h0M292.4 376.1h0M290.1 373.6h0M291.2 375.5h0M292.0 372.9h0M281.6 375.4h0M285.6 377.7h0M283.3 374.3h0M283.8 379.3h0M281.5 375.3h0M282.7 377.2h0M285.9 377.8h0M281.2 376.9h0" stroke="#afc789" stroke-width="1.20" stroke-linecap="round" fill="none"/><path d="M298.1 376.9h0M300.5 375.0h0M299.7 375.8h0M297.4 381.2h0M301.3 378.1h0M303.2 377.6h0M308.6 378.4h0M293.5 374.8h0M299.1 376.3h0M301.4 376.3h0M298.7 374.9h0M295.2 378.2h0M295.5 380.5h0M295.9 375.5h0M300.7 378.9h0M293.6 376.8h0M305.1 380.1h0M309.1 377.6h0M300.6 377.7h0M306.2 379.7h0M295.9 375.8h0M294.3 379.9h0M303.6 374.9h0M306.6 378.2h0M300.0 381.3h0M303.0 377.8h0M302.4 382.5h0M299.2 381.0h0M297.2 373.9h0M301.5 378.3h0M303.4 378.2h0M301.9 378.7h0M301.5 377.8h0M305.8 376.8h0M307.7 379.5h0M301.0 380.3h0M301.2 376.3h0M297.5 374.9h0M307.9 377.1h0M307.0 377.1h0M305.8 376.8h0M295.1 375.6h0M307.1 379.3h0M304.8 376.8h0M302.3 380.8h0M301.4 382.3h0M303.6 379.2h0M303.8 374.7h0M302.4 375.5h0M303.7 375.7h0M299.7 379.7h0M308.6 375.8h0M301.3 380.2h0M298.8 374.7h0M301.3 376.4h0M298.9 377.0h0M305.1 376.9h0M302.8 378.4h0M293.7 375.9h0M308.2 375.8h0M301.8 376.4h0M304.6 376.8h0M301.3 380.5h0M309.1 379.5h0M306.3 377.0h0M295.3 376.5h0M303.7 381.7h0M299.9 373.8h0M306.1 378.3h0M296.3 376.1h0M305.3 374.1h0M303.5 380.1h0" stroke="#878787" stroke-width="1.20" stroke-linecap="round" fill="none"/><path d="M303.6 381.4h0M310.9 385.4h0M317.0 379.7h0M314.7 382.6h0M307.9 387.5h0M316.6 390.8h0M323.1 388.7h0M313.5 392.4h0M324.9 385.9h0M306.5 377.3h0M303.7 380.2h0M319.7 375.1h0M324.0 380.1h0M310.5 379.2h0M301.0 386.7h0M306.8 381.1h0M318.7 383.3h0M309.8 389.3h0M300.2 384.2h0M326.6 381.2h0M312.1 374.3h0M301.4 379.2h0M312.8 386.5h0M320.0 392.1h0M321.8 383.9h0M307.3 375.4h0M309.0 387.6h0M321.3 389.7h0M313.5 381.4h0M317.1 378.4h0M314.0 389.9h0M299.3 385.6h0M312.8 395.0h0M315.7 380.9h0M302.9 390.9h0M304.1 376.4h0M324.6 380.0h0M312.5 388.5h0M307.3 383.3h0M314.7 381.8h0M304.8 386.6h0M326.7 381.5h0M311.9 377.8h0M318.4 386.6h0M316.8 378.8h0M315.2 379.5h0M323.8 385.5h0M311.1 375.3h0M319.8 393.1h0M317.0 383.3h0M325.2 390.6h0M317.1 377.4h0M325.0 389.5h0M311.5 385.6h0M324.6 380.2h0M304.5 381.0h0M316.5 381.3h0M315.9 392.5h0M319.5 375.4h0M319.8 385.5h0M310.3 392.0h0M306.6 378.4h0M322.5 376.4h0M326.1 384.2h0M308.5 389.5h0M323.3 387.3h0M318.5 380.1h0M319.7 393.8h0M317.4 385.8h0M325.5 382.0h0M306.2 385.9h0M317.2 376.4h0M315.6 387.7h0M319.2 378.7h0M320.1 392.5h0M312.5 374.7h0M327.1 385.7h0M318.8 381.1h0M321.8 379.3h0M312.2 384.7h0M303.4 384.8h0M326.8 385.2h0M327.7 385.0h0M308.0 392.0h0M323.0 391.6h0M318.4 393.3h0M315.6 377.8h0M315.2 387.5h0M312.5 383.8h0M319.1 375.4h0M308.8 380.8h0M309.6 377.4h0M315.0 381.2h0M314.4 383.4h0M319.1 381.6h0M298.6 382.7h0M317.4 382.9h0M308.8 388.6h0M316.6 377.5h0M305.8 391.8h0M315.2 394.0h0M323.1 378.2h0M307.4 379.3h0M311.5 385.1h0M321.0 391.2h0M316.7 386.3h0M316.2 393.8h0M325.5 388.1h0M303.9 379.8h0M326.3 387.2h0M319.5 392.8h0M319.4 390.8h0M309.7 386.1h0M321.7 385.0h0M303.7 391.7h0M311.8 393.1h0M317.0 375.6h0M304.3 385.0h0M314.7 375.2h0M311.8 380.1h0M309.0 382.2h0M313.8 381.1h0M317.1 382.7h0M323.6 384.6h0M307.4 376.9h0M301.4 379.8h0M321.5 378.2h0M311.4 377.0h0M317.7 385.5h0M304.9 387.4h0M305.2 391.1h0M301.9 379.4h0M320.1 379.2h0M324.6 381.3h0M320.8 386.5h0M306.9 384.5h0M320.0 388.1h0M303.2 388.3h0M319.9 376.9h0M309.8 382.4h0M315.3 394.6h0M298.6 386.1h0M318.8 380.4h0M308.9 382.9h0M300.9 388.8h0M308.0 381.5h0M314.2 388.3h0M303.2 386.0h0M322.9 377.9h0M304.0 378.0h0M311.0 382.7h0M307.0 389.6h0M306.1 378.5h0M325.9 389.3h0M300.9 382.5h0M325.5 388.5h0M324.8 381.6h0M306.6 387.7h0M316.9 388.8h0M324.3 379.3h0M309.4 385.3h0M316.0 387.1h0M318.2 377.5h0M309.3 379.3h0M316.2 383.3h0M323.2 385.3h0M302.2 388.4h0M325.5 381.5h0M314.4 389.6h0M308.5 385.8h0M304.6 389.0h0M306.5 374.9h0M322.1 377.9h0M314.9 394.0h0M302.7 386.6h0M316.8 385.7h0M321.6 389.6h0M316.0 393.6h0M306.5 388.7h0M312.8 378.1h0M305.7 387.6h0M314.7 383.3h0M312.7 375.4h0M315.8 378.6h0M316.6 380.2h0M308.7 390.8h0M317.5 376.5h0M322.8 384.2h0M302.4 380.9h0M325.6 382.7h0M304.9 393.0h0M300.3 380.3h0M301.4 384.1h0M306.0 387.5h0M321.7 389.4h0M302.8 377.6h0M328.6 386.2h0M323.5 381.6h0M308.5 379.7h0M322.5 380.3h0M307.8 378.0h0M327.3 383.4h0M320.8 392.3h0M317.0 382.9h0M306.0 387.4h0M320.9 378.6h0M311.5 388.0h0M312.0 378.6h0M311.6 395.1h0M311.4 385.4h0M317.8 392.9h0M301.5 388.8h0M313.9 383.2h0M321.8 384.3h0M318.4 378.6h0M310.2 390.4h0M300.0 386.9h0M323.0 380.6h0M302.9 388.0h0M321.5 378.1h0M309.2 385.9h0M309.6 375.3h0M322.2 377.9h0M311.5 383.5h0M320.3 391.7h0M320.9 391.0h0M317.5 391.1h0M306.5 376.5h0M311.6 382.4h0M311.0 389.0h0M316.3 375.0h0M300.3 385.1h0M312.1 389.3h0M315.7 387.7h0M310.0 388.6h0M310.4 393.6h0M303.0 387.3h0M304.7 382.0h0M324.0 390.8h0M311.0 383.0h0M312.0 394.3h0M324.6 385.0h0M301.4 383.6h0M324.4 384.7h0M303.6 381.1h0M313.7 381.1h0M306.9 390.3h0M313.6 392.2h0M318.4 375.6h0M326.1 378.0h0M308.2 388.5h0M301.9 385.7h0M308.3 385.2h0M305.3 382.5h0M310.3 376.2h0M327.5 385.9h0M306.7 380.1h0M324.7 386.0h0M320.4 379.8h0M319.9 392.0h0M318.6 377.9h0M319.7 384.4h0M324.4 379.8h0M315.9 386.3h0M320.8 388.7h0M308.7 383.2h0M324.1 380.1h0M320.0 385.7h0M311.7 374.8h0M311.1 376.0h0M308.2 376.1h0M302.0 385.2h0M303.9 380.0h0M310.0 376.3h0M308.6 382.7h0M301.4 383.9h0M313.7 376.4h0M308.1 381.9h0M304.5 383.4h0M312.5 389.4h0M313.8 392.2h0M308.7 379.4h0M319.9 391.8h0M322.7 387.4h0M316.5 392.0h0M304.5 388.3h0M320.0 379.4h0M307.1 384.7h0M313.4 392.5h0M314.8 388.0h0M305.4 388.7h0M314.0 375.9h0M323.1 380.0h0M308.6 385.8h0M321.1 388.4h0M321.5 385.6h0M305.2 378.7h0M307.1 382.8h0M307.6 384.2h0M306.6 387.3h0M302.2 383.7h0M307.1 388.8h0M318.4 390.5h0M326.4 383.1h0M310.6 390.1h0M318.7 384.1h0M326.6 388.4h0M320.5 393.7h0M325.8 387.8h0M306.8 379.2h0M317.5 384.6h0M301.0 382.8h0" stroke="#d5bb41" stroke-width="1.20" stroke-linecap="round" fill="none"/><path d="M329.2 390.8h0M332.6 380.5h0M336.3 392.1h0M333.2 387.1h0M341.2 385.3h0M326.5 391.5h0M331.9 391.4h0M335.7 386.2h0M335.6 377.4h0M330.4 383.9h0M336.1 385.8h0M323.9 386.9h0M326.8 386.3h0M326.0 384.2h0M339.2 381.0h0M334.8 390.1h0M322.7 387.8h0M336.4 384.9h0M338.8 378.4h0M326.0 391.6h0M328.2 380.4h0M325.8 382.3h0M326.9 382.5h0M331.1 387.5h0M331.9 386.8h0M327.3 384.5h0M335.8 378.8h0M337.1 380.5h0M335.7 391.8h0M329.0 381.4h0M336.4 384.7h0M334.1 380.3h0M328.8 386.8h0M331.8 388.6h0M323.1 385.0h0M336.7 381.4h0M340.4 384.9h0M333.6 383.9h0M341.0 381.1h0M327.3 390.2h0M328.6 389.8h0M333.2 386.1h0M324.1 381.1h0M324.3 383.9h0M334.7 383.2h0M329.2 387.4h0M323.7 388.8h0M331.8 392.6h0M325.2 381.4h0M332.1 375.4h0M332.9 384.2h0M333.3 380.2h0M336.5 385.8h0M324.9 379.2h0M321.3 383.1h0M341.6 384.6h0M333.7 385.7h0M331.0 389.1h0M327.7 390.0h0M329.2 379.6h0M337.5 387.2h0M324.0 385.0h0M337.4 387.5h0M327.4 383.0h0M326.3 378.3h0M341.3 386.6h0M332.6 385.0h0M325.8 381.6h0M339.6 382.7h0M322.4 382.4h0M333.3 391.7h0M339.5 389.3h0M327.8 384.6h0M335.9 389.0h0M340.2 387.4h0M328.4 381.1h0M335.6 387.8h0M330.9 382.4h0M326.5 388.0h0M331.3 388.4h0M334.6 383.1h0M336.9 377.9h0M324.6 386.8h0M336.5 383.0h0M327.0 377.8h0M335.9 384.4h0M337.7 384.7h0M327.9 385.8h0M334.5 385.6h0M328.3 392.1h0M334.7 385.6h0M330.9 381.5h0M333.5 389.4h0M330.2 386.9h0M335.4 377.8h0M330.1 389.8h0M327.4 392.4h0M321.7 386.4h0M325.6 383.5h0M336.3 387.8h0M337.5 388.1h0M331.4 377.1h0M334.6 380.6h0M332.6 382.6h0M331.1 384.8h0M329.5 385.5h0M340.0 385.0h0M343.0 382.8h0M335.6 382.1h0M333.8 378.2h0M326.3 385.2h0M326.6 388.3h0M321.2 380.6h0M340.3 380.6h0M330.7 389.2h0M327.5 387.0h0M340.2 388.5h0M323.0 384.5h0M331.0 377.8h0M337.9 380.9h0M329.7 387.5h0M330.5 383.2h0M326.4 379.7h0M332.7 380.8h0M337.9 383.3h0M329.7 383.0h0M330.1 382.1h0M336.3 380.2h0M323.4 387.8h0M336.0 379.0h0M340.3 381.8h0M333.9 383.9h0M327.8 385.5h0M336.9 382.6h0M331.1 391.3h0M338.3 379.4h0M325.9 389.0h0M325.2 389.9h0M324.0 381.4h0M325.0 376.6h0M334.6 378.4h0M336.0 389.0h0M338.9 387.7h0M326.3 391.1h0M333.5 381.2h0M341.4 387.6h0M322.0 383.4h0M331.8 377.5h0M337.4 382.7h0M332.6 382.3h0M337.2 378.9h0M327.3 388.3h0M321.6 383.8h0M338.3 379.8h0M322.7 387.9h0M335.7 380.3h0" stroke="#578b33" stroke-width="1.20" stroke-linecap="round" fill="none"/><path d="M276.7 386.9h0M276.2 386.0h0M282.0 383.0h0M274.7 385.9h0M274.5 385.1h0M278.4 383.2h0M281.0 383.2h0M275.9 384.4h0M282.3 384.8h0M280.6 383.9h0M282.7 383.2h0M282.7 384.5h0M283.7 386.1h0M280.5 384.4h0M287.2 386.5h0M279.0 389.3h0M281.1 387.3h0M282.7 383.0h0M286.3 384.6h0M275.6 386.9h0M279.3 388.9h0M283.2 389.6h0M276.2 386.6h0M284.1 385.1h0M278.0 384.5h0M284.4 388.6h0M276.0 386.5h0M277.7 383.1h0M283.2 382.8h0M282.8 388.2h0M278.2 387.8h0M275.5 385.9h0M279.7 385.4h0M274.8 383.0h0M284.7 386.4h0M276.9 388.3h0M280.2 382.2h0M276.6 383.5h0M275.2 386.3h0M278.8 385.6h0M283.3 385.6h0M274.4 385.7h0M275.4 385.6h0M275.9 385.4h0M281.4 388.0h0M277.0 388.3h0M284.0 384.0h0M274.0 384.4h0M280.0 385.1h0M281.4 387.5h0M283.0 387.3h0M276.6 387.0h0M284.9 385.3h0M276.7 383.8h0M279.9 386.6h0M276.4 383.9h0M281.4 385.0h0M282.4 385.8h0M284.2 384.9h0M281.0 384.1h0" stroke="#894f28" stroke-width="1.20" stroke-linecap="round" fill="none"/><path d="M291.1 390.6h0M292.0 383.6h0M290.5 390.3h0M297.6 385.5h0M303.1 387.1h0M287.7 391.3h0M286.1 388.0h0M301.9 387.0h0M290.6 389.1h0M295.9 386.7h0M291.1 388.7h0M291.9 389.8h0M299.3 390.8h0M289.5 381.7h0M284.9 386.1h0M296.7 382.6h0M300.3 391.5h0M302.2 384.1h0M301.7 386.1h0M300.7 386.4h0M296.5 387.9h0M294.9 386.2h0M292.1 387.2h0M295.0 384.0h0M293.4 387.4h0M298.1 388.2h0M298.5 390.1h0M299.2 391.6h0M298.8 385.0h0M299.7 386.2h0M298.8 386.2h0M302.6 387.3h0M287.8 388.7h0M305.3 386.1h0M303.0 387.4h0M297.7 386.0h0M299.2 387.4h0M295.2 382.2h0M299.0 382.8h0M289.9 391.3h0M297.1 382.7h0M292.9 388.6h0M295.9 381.9h0M298.8 385.7h0M297.0 385.2h0M300.8 391.5h0M285.8 386.0h0M292.1 388.1h0M300.5 388.9h0M296.5 386.1h0M291.9 383.4h0M297.1 392.3h0M301.9 388.3h0M286.2 388.3h0M293.9 386.3h0M290.6 389.9h0M300.5 382.7h0M289.7 392.1h0M292.5 390.5h0M294.6 386.5h0M298.6 382.8h0M292.0 384.9h0M295.7 382.0h0M301.6 383.0h0M301.3 388.0h0M294.3 386.5h0M288.2 383.8h0M293.6 390.2h0M288.8 382.9h0M292.1 389.5h0M286.5 388.5h0M289.3 384.7h0M297.0 383.2h0M290.8 389.3h0M298.2 389.2h0M292.6 386.3h0M291.6 382.7h0M300.1 392.1h0M298.7 390.8h0M305.2 386.7h0M297.4 388.1h0M300.7 388.7h0M303.8 385.5h0M292.5 391.1h0M287.4 387.0h0M295.3 382.5h0M299.3 385.5h0M297.2 389.6h0M290.1 392.2h0M299.0 387.0h0M290.8 388.3h0M294.7 386.6h0M297.2 389.7h0M290.4 386.1h0M299.2 385.4h0M304.5 386.5h0M298.9 389.3h0M301.0 391.4h0M299.9 387.4h0M290.6 385.5h0M288.5 382.7h0M297.8 388.8h0M301.1 388.9h0M286.9 385.4h0M290.2 392.3h0M303.0 387.4h0M292.7 384.8h0M302.3 385.6h0M290.0 384.4h0M288.6 390.2h0M289.3 390.9h0M292.6 389.2h0M286.6 383.6h0M296.4 383.3h0M301.5 389.7h0M296.3 390.2h0M291.9 383.0h0M298.3 390.9h0M295.0 386.9h0M293.5 384.2h0" stroke="#563589" stroke-width="1.20" stroke-linecap="round" fill="none"/><path d="M296.6 392.9h0M307.0 392.5h0M305.8 392.5h0M302.0 391.7h0M299.5 390.6h0M295.7 392.3h0M306.6 392.3h0M304.2 392.5h0M303.2 393.4h0M294.7 391.3h0M297.2 392.1h0M304.4 391.4h0M295.6 392.2h0M300.1 389.7h0M299.4 389.8h0M296.3 392.0h0M295.9 391.4h0M304.5 392.1h0M304.7 389.5h0M299.0 392.9h0M297.8 393.3h0M307.9 392.0h0M304.7 392.4h0M299.0 392.2h0" stroke="#d19191" stroke-width="1.20" stroke-linecap="round" fill="none"/><path d="M334.6 393.9h0M333.1 397.6h0M333.9 395.5h0M331.8 395.8h0M338.9 397.5h0M331.2 396.6h0M331.1 398.0h0M333.1 398.5h0M338.9 398.7h0M333.4 396.7h0M336.7 397.0h0M327.8 395.3h0M333.0 397.1h0M337.7 397.5h0M330.9 394.3h0M330.9 395.4h0M336.4 396.7h0M339.0 397.6h0M331.9 395.5h0M329.7 398.0h0M338.2 399.7h0M338.2 396.0h0M337.7 397.4h0M331.7 397.1h0M336.1 398.2h0M336.0 395.5h0M338.8 395.7h0M328.8 397.4h0M331.6 398.5h0M332.6 399.4h0M334.6 399.0h0M336.7 398.1h0M334.0 399.6h0M332.2 394.3h0M336.6 396.3h0M335.5 399.0h0M330.0 394.8h0M328.2 398.2h0M329.6 397.4h0M335.1 397.3h0M337.2 397.1h0M328.5 398.3h0M330.8 399.2h0M328.5 398.3h0M334.6 398.5h0M332.7 393.9h0M328.8 394.6h0M335.8 398.6h0M330.9 397.6h0M330.6 397.6h0M330.7 396.1h0M337.4 397.5h0M330.5 399.0h0M339.0 397.8h0M329.0 395.6h0M335.3 395.4h0M331.9 399.0h0M331.7 395.3h0M328.8 397.1h0M331.0 394.4h0" stroke="#9fb9cd" stroke-width="1.20" stroke-linecap="round" fill="none"/><path d="M310.2 403.5h0M312.6 399.7h0M311.6 402.2h0M303.7 396.2h0M315.1 399.1h0M299.3 399.8h0M302.6 396.1h0M315.6 399.1h0M307.5 397.0h0M309.8 402.4h0M304.9 395.3h0M313.6 399.3h0M318.1 401.1h0M312.0 402.4h0M316.1 397.3h0M305.9 398.8h0M308.5 397.6h0M299.1 399.5h0M315.7 395.6h0M314.8 397.9h0M312.2 398.7h0M316.4 397.4h0M305.3 398.7h0M302.5 396.8h0M307.3 401.7h0M319.4 397.9h0M315.1 401.4h0M298.2 402.0h0M297.2 397.8h0M318.4 398.5h0M318.2 400.8h0M308.0 394.5h0M302.3 402.7h0M305.2 403.5h0M313.1 399.0h0M317.2 402.4h0M302.8 396.7h0M304.8 399.4h0M319.0 398.3h0M314.3 395.7h0M311.5 401.5h0M304.7 398.0h0M304.4 401.3h0M313.0 394.1h0M301.7 396.9h0M306.3 398.0h0M310.4 402.1h0M309.8 401.9h0M310.5 400.7h0M318.8 400.6h0M308.3 395.5h0M317.7 401.4h0M312.2 397.5h0M315.1 394.4h0M298.3 401.3h0M300.4 396.9h0M300.4 397.0h0M313.4 399.3h0M302.0 394.2h0M301.4 401.6h0M310.4 399.5h0M315.9 401.9h0M309.3 402.5h0M316.3 397.6h0M311.8 395.6h0M298.5 399.1h0M309.6 401.3h0M299.0 396.3h0M299.8 398.2h0M318.1 402.4h0M309.7 403.1h0M315.7 401.8h0M307.5 396.0h0M301.6 399.1h0M309.5 401.8h0M304.4 398.5h0M304.0 396.3h0M306.3 403.8h0M306.1 401.6h0M316.1 398.5h0M307.3 400.2h0M299.5 402.6h0M307.6 403.0h0M320.2 399.6h0M299.6 397.7h0M305.6 403.1h0M299.1 397.8h0M304.4 396.4h0M316.7 396.1h0M313.6 403.0h0M300.6 400.4h0M318.2 396.1h0M299.8 399.4h0M301.3 395.4h0M305.5 395.4h0M297.4 399.5h0M306.2 394.0h0M310.9 403.3h0M304.8 395.9h0M311.1 402.0h0M312.0 402.0h0M314.4 397.5h0M299.4 397.5h0M300.9 400.9h0M302.7 401.8h0M301.4 399.4h0M311.6 396.5h0M318.1 397.8h0M305.5 397.7h0M305.3 395.2h0M298.7 399.8h0M305.6 399.8h0M297.2 400.5h0M304.3 395.9h0M304.1 401.8h0M310.2 401.2h0M305.2 396.3h0M313.0 400.2h0M304.0 397.8h0M320.1 398.8h0M319.7 398.3h0M307.6 403.1h0M297.5 399.4h0M299.1 401.1h0M301.3 401.1h0M307.2 398.3h0M317.5 395.2h0M309.4 400.0h0M303.1 403.2h0M301.8 402.8h0M317.5 400.1h0M319.5 396.6h0M314.1 395.1h0M319.0 396.8h0M312.7 395.3h0M310.5 399.9h0M298.4 401.9h0M312.7 400.0h0M316.1 398.2h0M311.3 399.2h0M312.9 400.4h0M309.3 403.9h0M310.0 397.9h0M307.5 398.0h0" stroke="#3b669f" stroke-width="1.20" stroke-linecap="round" fill="none"/><path d="M325.5 403.6h0M318.0 405.2h0M321.0 406.9h0M325.9 406.5h0M322.0 403.6h0M322.6 408.8h0M323.2 404.6h0M321.8 404.7h0M324.6 405.2h0M320.0 406.2h0M316.6 407.3h0M321.1 407.2h0M319.2 404.3h0M323.3 403.7h0M316.0 407.8h0M324.3 404.3h0M321.8 406.7h0M321.3 403.9h0M318.4 404.6h0" stroke="#b4a2c2" stroke-width="1.20" stroke-linecap="round" fill="none"/><path d="M299.9 409.2h0M301.3 408.0h0M303.9 408.7h0M298.8 407.8h0M302.4 409.4h0M297.2 407.2h0M297.9 407.5h0M302.6 409.1h0M299.9 407.5h0M296.4 408.9h0M296.0 409.7h0M296.7 407.5h0M300.6 409.2h0M298.9 408.9h0M298.7 410.0h0M300.2 408.0h0M302.8 409.7h0M295.5 410.6h0M297.0 409.0h0M302.2 409.3h0M298.3 410.0h0M302.4 410.1h0M296.6 409.7h0M297.0 407.6h0" stroke="#b01d22" stroke-width="1.20" stroke-linecap="round" fill="none"/><path d="M333.1 370.9h0M332.3 369.9h0" stroke="#c41b7a" stroke-width="1.20" stroke-linecap="round" fill="none"/><path d="M324.2 370.3h0" stroke="#52afb7" stroke-width="1.20" stroke-linecap="round" fill="none"/></g>
<g fill="#0b0b0b" opacity="0.72"><ellipse cx="286.5" cy="375.2" rx="7.5" ry="3.8" transform="rotate(-5 286.5 375.2)"/><ellipse cx="302.0" cy="376.0" rx="8.0" ry="4.0" transform="rotate(0 302.0 376.0)"/><ellipse cx="333.0" cy="383.0" rx="9.0" ry="7.5" transform="rotate(0 333.0 383.0)"/><ellipse cx="279.5" cy="385.7" rx="6.0" ry="4.2" transform="rotate(10 279.5 385.7)"/><ellipse cx="295.7" cy="388.8" rx="10.5" ry="5.5" transform="rotate(10 295.7 388.8)"/><ellipse cx="306.5" cy="398.8" rx="9.0" ry="4.0" transform="rotate(-5 306.5 398.8)"/><ellipse cx="334.2" cy="396.5" rx="7.5" ry="3.5" transform="rotate(0 334.2 396.5)"/><ellipse cx="299.0" cy="407.5" rx="2.5" ry="2.0" transform="rotate(0 299.0 407.5)"/></g>
<g opacity="0.60"><path d="M288.3 372.6h0M286.8 373.6h0M292.2 376.2h0M291.2 374.5h0M283.9 377.2h0M292.3 375.4h0M280.0 377.3h0M281.3 376.5h0M285.1 377.1h0M284.5 374.8h0M288.9 377.1h0M289.3 377.0h0M290.8 374.0h0M279.2 374.9h0M299.2 373.3h0M305.5 372.5h0M296.8 376.3h0M299.1 376.3h0M303.3 375.8h0M304.5 374.2h0M301.1 379.4h0M309.9 376.1h0M297.5 378.5h0M305.4 375.7h0M297.4 376.9h0M302.9 373.2h0M300.9 374.2h0M306.1 378.0h0M299.5 377.7h0M303.8 376.5h0M298.6 374.8h0M301.8 376.1h0M304.1 377.1h0M303.7 376.8h0M307.6 376.0h0M294.0 376.2h0M296.4 378.0h0M325.7 386.8h0M326.2 378.6h0M333.8 390.3h0M341.0 380.7h0M333.5 380.2h0M337.0 382.4h0M340.1 383.2h0M329.4 376.6h0M333.3 387.5h0M332.7 382.5h0M341.0 382.5h0M329.8 380.0h0M336.3 388.7h0M331.7 377.5h0M336.6 384.1h0M339.6 385.4h0M332.8 378.1h0M337.3 377.3h0M335.9 376.5h0M334.7 375.8h0M329.4 386.8h0M333.2 386.8h0M328.9 383.8h0M331.5 383.6h0M333.1 390.3h0M328.8 382.7h0M331.7 383.3h0M330.0 384.3h0M333.8 388.2h0M337.9 380.3h0M328.6 385.5h0M332.3 382.8h0M328.3 386.3h0M334.1 389.3h0M332.0 387.8h0M326.0 380.4h0M341.2 384.5h0M332.5 376.5h0M327.9 384.3h0M328.5 379.0h0M337.4 380.9h0M333.2 389.9h0M329.3 384.1h0M331.2 377.7h0M332.4 384.1h0M328.4 380.8h0M339.4 380.2h0M331.7 378.5h0M279.1 382.2h0M279.3 384.1h0M282.8 389.2h0M275.4 382.4h0M279.5 382.3h0M283.6 387.6h0M283.3 389.2h0M276.5 388.9h0M274.8 383.6h0M283.8 387.9h0M281.0 386.9h0M281.1 384.9h0M279.7 385.3h0M284.7 385.8h0M282.3 389.4h0M305.2 391.2h0M293.9 385.5h0M288.3 389.2h0M305.7 390.0h0M298.0 384.2h0M304.5 387.6h0M290.3 386.8h0M299.5 384.7h0M290.9 389.2h0M296.1 388.2h0M290.8 388.0h0M302.4 391.8h0M288.8 388.6h0M293.2 384.6h0M301.7 390.3h0M295.8 391.9h0M300.8 388.5h0M305.9 389.1h0M294.3 389.8h0M290.6 386.0h0M301.0 386.9h0M293.0 384.4h0M292.2 388.1h0M304.7 390.8h0M292.5 392.1h0M300.1 390.5h0M303.9 389.1h0M288.3 389.4h0M302.9 388.1h0M292.8 388.7h0M299.3 386.5h0M289.2 391.3h0M302.9 395.8h0M305.5 399.3h0M301.4 399.1h0M306.5 395.0h0M308.4 401.6h0M313.1 398.6h0M310.4 395.7h0M301.7 397.2h0M303.7 399.4h0M312.1 400.9h0M302.2 397.8h0M301.3 402.3h0M309.5 400.2h0M306.8 402.7h0M308.9 401.5h0M301.0 398.9h0M302.8 399.4h0M300.4 400.2h0M299.9 399.0h0M312.9 400.3h0M332.5 395.3h0M330.6 395.5h0M332.0 395.1h0M329.5 397.2h0M341.3 397.0h0M332.3 399.6h0M338.1 395.1h0M336.6 397.8h0M339.0 395.6h0M337.3 398.7h0M339.6 394.2h0M330.4 395.6h0M331.1 395.8h0M330.5 395.2h0M300.5 408.3h0M297.0 407.7h0M298.4 407.7h0" stroke="#0a0a0a" stroke-width="2.0" stroke-linecap="round"/><path d="M289.4 372.8h0M288.5 376.8h0M293.3 375.8h0M280.9 375.3h0M288.3 373.2h0M290.8 375.5h0M291.8 377.2h0M282.2 375.1h0M293.6 375.5h0M284.8 372.4h0M285.1 376.6h0M288.7 377.4h0M282.3 374.5h0M283.8 375.3h0M287.7 372.3h0M287.6 374.4h0M291.6 377.2h0M290.5 375.1h0M302.4 379.2h0M300.0 376.8h0M306.9 375.1h0M307.1 373.8h0M305.1 377.5h0M307.7 378.2h0M305.0 374.4h0M306.5 374.5h0M307.4 377.6h0M303.0 376.0h0M298.4 374.5h0M301.5 373.6h0M328.2 379.0h0M338.0 382.3h0M338.7 382.4h0M327.5 388.6h0M329.6 387.6h0M338.2 387.3h0M336.6 382.2h0M336.7 382.8h0M339.7 379.3h0M338.7 382.9h0M340.4 385.9h0M330.3 385.6h0M330.9 381.7h0M337.3 380.0h0M330.9 387.1h0M327.0 384.4h0M330.0 388.5h0M336.4 389.2h0M339.5 383.8h0M334.8 385.7h0M333.8 376.5h0M332.7 386.9h0M330.2 386.3h0M340.0 378.8h0M277.3 385.9h0M278.2 382.9h0M280.0 383.6h0M276.4 382.7h0M283.4 384.6h0M277.6 383.5h0M283.9 386.9h0M276.6 386.8h0M284.4 385.7h0M278.8 388.7h0M282.3 385.6h0M278.6 382.1h0M295.7 386.6h0M298.4 392.4h0M303.1 393.2h0M285.6 388.2h0M293.5 384.2h0M294.9 391.3h0M304.3 388.3h0M291.6 392.4h0M302.7 391.6h0M305.0 387.8h0M298.3 384.6h0M287.6 387.3h0M298.8 389.9h0M289.1 385.1h0M298.3 384.3h0M293.9 385.2h0M289.3 389.2h0M296.1 385.4h0M296.3 393.6h0M294.3 386.8h0M287.8 385.6h0M287.8 390.0h0M295.9 390.4h0M301.6 391.7h0M292.3 389.6h0M304.3 387.9h0M290.9 385.4h0M289.1 389.8h0M302.2 393.0h0M292.9 385.4h0M300.6 401.4h0M300.1 399.4h0M302.7 401.6h0M313.3 397.0h0M309.9 401.8h0M308.8 395.3h0M308.7 402.5h0M309.3 394.9h0M301.8 398.5h0M311.2 396.7h0M299.3 399.1h0M304.0 402.5h0M335.5 397.7h0M339.2 395.2h0M337.1 394.2h0M336.5 395.0h0M329.0 396.4h0M333.4 397.7h0M335.1 396.5h0M339.1 399.1h0M336.4 393.6h0M337.7 396.0h0M332.8 398.0h0M336.8 394.6h0M335.1 394.6h0M332.3 399.2h0M339.8 394.8h0M336.8 397.1h0M328.9 395.8h0M298.7 405.6h0M299.3 408.3h0" stroke="#0a0a0a" stroke-width="2.8" stroke-linecap="round"/><path d="M293.1 374.5h0M285.8 374.2h0M292.0 375.6h0M283.6 373.5h0M289.1 372.8h0M285.1 377.5h0M287.9 377.1h0M288.8 377.9h0M288.1 372.2h0M284.1 372.6h0M288.6 377.1h0M288.9 373.6h0M296.1 376.0h0M294.6 374.8h0M300.0 376.4h0M306.2 374.3h0M304.1 378.3h0M296.1 377.7h0M309.8 376.4h0M306.2 376.7h0M300.0 372.5h0M304.1 376.6h0M297.6 375.4h0M307.1 377.2h0M306.8 373.4h0M307.4 376.3h0M306.3 375.4h0M335.7 386.6h0M328.0 383.5h0M330.7 390.0h0M339.7 385.4h0M332.5 376.2h0M331.7 388.2h0M328.2 388.0h0M338.9 388.2h0M324.7 384.3h0M330.4 388.6h0M326.3 380.3h0M334.8 389.2h0M329.4 379.3h0M339.6 379.3h0M324.9 382.5h0M335.6 389.8h0M327.3 377.3h0M340.2 380.6h0M332.9 384.1h0M327.9 387.7h0M328.6 376.5h0M338.8 378.3h0M328.4 384.0h0M328.1 387.9h0M330.3 378.3h0M328.8 381.8h0M336.5 387.8h0M332.8 387.5h0M336.4 387.2h0M332.7 379.3h0M340.7 382.0h0M326.3 382.9h0M335.9 387.4h0M337.3 389.2h0M282.6 383.9h0M283.7 387.3h0M275.6 382.6h0M278.5 382.4h0M278.0 386.4h0M281.4 389.4h0M279.8 381.8h0M283.2 387.3h0M278.6 386.5h0M275.5 384.2h0M276.5 382.1h0M282.8 386.3h0M289.2 389.4h0M303.1 392.2h0M291.9 383.8h0M299.1 394.1h0M290.3 391.4h0M295.5 383.6h0M300.4 390.7h0M297.7 390.5h0M297.9 389.5h0M290.4 387.6h0M299.5 385.8h0M297.6 394.3h0M291.9 393.1h0M299.0 389.9h0M303.5 391.6h0M298.2 386.6h0M291.8 384.6h0M292.7 387.3h0M296.2 386.6h0M287.2 388.7h0M287.4 386.5h0M293.3 383.7h0M294.1 386.8h0M295.7 384.7h0M296.1 393.8h0M293.1 385.2h0M288.0 388.7h0M298.3 387.0h0M299.6 399.9h0M307.9 399.5h0M299.8 401.9h0M313.6 398.7h0M309.7 397.4h0M303.8 398.6h0M314.8 397.3h0M304.8 396.1h0M314.6 397.3h0M314.6 397.5h0M301.1 400.2h0M305.0 396.0h0M300.1 399.9h0M307.0 401.4h0M301.9 396.3h0M304.9 396.9h0M314.5 397.4h0M298.4 399.8h0M311.3 395.6h0M313.0 399.0h0M301.5 400.7h0M301.9 396.0h0M307.6 398.4h0M301.1 400.2h0M333.4 395.2h0M336.0 397.7h0M332.4 394.1h0M337.1 393.6h0M337.6 394.8h0M337.9 399.2h0M337.0 398.4h0M333.1 398.1h0M335.0 394.1h0M335.8 396.1h0M297.3 407.6h0M298.8 405.9h0" stroke="#0a0a0a" stroke-width="3.4" stroke-linecap="round"/></g>
<g fill="#1e1a06" opacity="0.80"><ellipse cx="313.5" cy="384.5" rx="11.0" ry="9.0" transform="rotate(10 313.5 384.5)"/></g>
<g opacity="0.40"><path d="M307.8 380.5h0M305.3 389.3h0M308.4 376.8h0M307.4 380.5h0M318.7 383.3h0M318.1 387.3h0M318.6 384.2h0M311.4 377.9h0M318.6 386.1h0M308.7 385.3h0M318.1 377.5h0M320.3 379.6h0M323.7 383.7h0M307.2 378.7h0M319.4 381.5h0M321.2 378.8h0M306.9 377.6h0M318.2 381.7h0M318.3 388.0h0M317.3 390.8h0M308.9 381.6h0M320.4 388.2h0M309.6 385.9h0M319.2 389.9h0M311.4 388.4h0M307.1 390.0h0M316.3 381.9h0M310.2 390.6h0M310.6 387.9h0M317.8 390.2h0M317.4 382.8h0M318.6 380.1h0M322.0 384.8h0M314.0 379.6h0M306.4 381.6h0M314.7 384.9h0M305.4 380.8h0M306.4 390.6h0M308.8 379.7h0M306.4 382.5h0M308.1 380.8h0M317.9 378.7h0M322.7 388.7h0M306.4 380.1h0M313.3 379.5h0M310.2 382.5h0M320.4 390.6h0M312.1 392.1h0M314.7 387.6h0" stroke="#0a0a0a" stroke-width="2.0" stroke-linecap="round"/><path d="M309.3 384.5h0M305.3 382.9h0M305.3 384.8h0M323.4 383.0h0M310.7 391.7h0M316.5 390.2h0M311.4 390.3h0M316.3 392.9h0M315.5 382.4h0M323.7 381.9h0M313.3 392.3h0M315.8 388.2h0M317.9 379.9h0M304.2 384.7h0M310.0 389.5h0M310.5 379.6h0M318.0 389.0h0M307.4 387.2h0M305.6 386.1h0M319.9 378.1h0M315.0 386.3h0M318.5 380.8h0M308.0 389.6h0M306.4 387.4h0M305.2 386.7h0M315.2 385.6h0M311.0 377.1h0M307.4 379.9h0M311.2 388.6h0M313.3 378.4h0M309.2 386.1h0M305.1 383.1h0M310.1 381.0h0M320.4 378.5h0M303.5 380.6h0M313.5 376.1h0M313.2 383.0h0M317.9 379.3h0M315.9 377.9h0M322.7 383.7h0M312.0 393.3h0M314.5 379.2h0M316.3 391.9h0M305.6 380.6h0M314.9 384.8h0M306.8 388.9h0M321.5 389.3h0M307.6 388.2h0M313.9 384.0h0M314.0 388.4h0M317.2 382.0h0" stroke="#0a0a0a" stroke-width="2.8" stroke-linecap="round"/><path d="M318.7 392.5h0M313.0 381.4h0M321.6 388.5h0M312.3 391.9h0M317.1 376.7h0M322.6 389.7h0M312.8 382.1h0M306.0 388.1h0M310.3 378.8h0M321.7 387.1h0M316.0 383.5h0M306.8 389.1h0M307.4 379.1h0M310.2 385.6h0M314.4 380.8h0M317.9 379.5h0M314.6 392.6h0M309.3 378.1h0M311.0 377.2h0M321.5 388.5h0M309.1 390.5h0M321.1 380.0h0M318.4 390.4h0M310.0 389.7h0M311.5 383.9h0M310.9 383.6h0M312.5 392.2h0M310.5 386.8h0M320.8 382.4h0M314.6 390.4h0M312.5 387.7h0M318.3 381.8h0M312.2 387.6h0M305.4 381.5h0M320.0 391.2h0M309.3 383.8h0M314.7 383.0h0M313.7 382.4h0M319.9 390.0h0M317.8 387.9h0M320.3 384.0h0M318.6 379.9h0M315.7 390.6h0M314.1 391.4h0M306.9 380.2h0M314.4 384.5h0M312.2 384.0h0M309.6 382.8h0M315.0 383.8h0M321.4 379.4h0M307.4 377.0h0M312.1 390.4h0M308.0 380.3h0M307.1 390.2h0M309.8 391.7h0" stroke="#0a0a0a" stroke-width="3.4" stroke-linecap="round"/></g>
<path d="M305 379 C309 376 316 377 320 381 C323 385 321 391 316 392 C311 393 306 390 305 386 C304 383 308 381 312 382 C315 383 317 386 314 388" fill="none" stroke="#b9a436" stroke-width="0.6" opacity="0.9"/>
<path d="M303 390 C306 394 313 396 319 394 M321 378 C325 381 326 387 324 392" fill="none" stroke="#b9a436" stroke-width="0.6" opacity="0.9"/>
<g><path d="M315.3 369.2h0M296.9 370.2h0M306.1 370.9h0M294.9 370.0h0M313.1 367.5h0M298.1 368.5h0M307.3 367.8h0M316.5 367.3h0M299.7 368.5h0M299.2 370.5h0" stroke="#ce741f" stroke-width="1.00" stroke-linecap="round" fill="none"/><path d="M285.8 374.6h0M286.1 377.1h0M283.7 376.2h0M286.4 378.0h0M282.7 373.4h0M287.6 373.4h0M282.6 377.6h0M287.7 374.1h0M291.9 376.4h0" stroke="#afc789" stroke-width="1.00" stroke-linecap="round" fill="none"/><path d="M297.5 375.7h0M297.7 377.7h0M293.0 376.7h0M294.3 375.7h0M305.4 380.5h0M303.3 374.9h0M297.9 381.2h0M305.0 378.9h0M295.9 377.6h0M309.3 376.7h0M294.8 375.9h0M297.6 378.3h0M308.3 377.7h0" stroke="#878787" stroke-width="1.00" stroke-linecap="round" fill="none"/><path d="M323.4 389.7h0M306.8 375.8h0M307.6 384.8h0M307.3 387.8h0M304.6 391.1h0M318.6 380.5h0M320.9 376.7h0M318.0 386.7h0M302.7 386.4h0M307.0 379.2h0M316.6 391.9h0M302.2 383.9h0M315.7 378.8h0M306.8 379.2h0M301.1 389.1h0M326.1 387.3h0M318.6 383.9h0M315.0 389.3h0M304.5 382.3h0M324.4 389.8h0M323.6 387.4h0M324.0 384.2h0M305.5 392.7h0M301.3 382.4h0M307.1 376.1h0M305.7 381.2h0M315.0 379.7h0M301.9 386.3h0M299.0 381.8h0M323.7 380.5h0M309.2 391.7h0M304.6 388.5h0M311.1 382.1h0M301.7 378.4h0M315.3 387.2h0M307.8 380.9h0M306.8 386.9h0M312.7 390.6h0M319.7 382.6h0M307.2 389.8h0M317.3 382.6h0M313.9 387.8h0M300.6 385.7h0M311.3 379.4h0M314.0 384.5h0M306.7 381.3h0M328.2 386.9h0M324.2 387.1h0M315.2 379.4h0M319.4 378.8h0M322.7 378.9h0M310.4 391.1h0M324.9 377.6h0M301.6 382.2h0M318.8 379.6h0M321.9 381.6h0M319.9 389.8h0M309.2 385.8h0M322.0 384.5h0M316.6 389.3h0M319.6 378.7h0M318.0 380.3h0" stroke="#d5bb41" stroke-width="1.00" stroke-linecap="round" fill="none"/><path d="M329.3 384.5h0M331.2 378.5h0M329.5 385.3h0M328.8 383.9h0M335.8 389.5h0M333.3 378.1h0M327.3 382.7h0M337.5 387.3h0M334.1 386.7h0M338.4 383.9h0M321.0 383.8h0M329.7 377.4h0M332.3 385.0h0M329.2 390.8h0M336.6 386.7h0M334.8 384.6h0M338.4 380.7h0M325.1 385.9h0M335.9 387.4h0M328.7 380.6h0M322.4 386.4h0M330.6 382.7h0" stroke="#578b33" stroke-width="1.00" stroke-linecap="round" fill="none"/><path d="M282.4 384.3h0M281.3 386.6h0M286.6 385.7h0M285.4 386.0h0M278.8 383.5h0M277.3 386.1h0M279.9 384.4h0M276.7 385.4h0M275.1 384.2h0M281.7 382.8h0M279.3 386.1h0" stroke="#894f28" stroke-width="1.00" stroke-linecap="round" fill="none"/><path d="M291.1 386.6h0M303.0 390.0h0M293.4 391.4h0M291.2 383.5h0M298.5 389.2h0M293.9 384.9h0M286.4 390.2h0M289.3 388.0h0M295.8 391.6h0M296.9 386.9h0M301.1 385.0h0M293.2 382.6h0M294.2 390.5h0M297.0 382.1h0M291.2 387.0h0M297.0 387.1h0M293.7 388.4h0M303.1 384.9h0M298.5 386.9h0M290.6 387.1h0M291.9 390.5h0M301.2 383.6h0" stroke="#563589" stroke-width="1.00" stroke-linecap="round" fill="none"/><path d="M308.0 391.7h0M296.9 390.3h0" stroke="#d19191" stroke-width="1.00" stroke-linecap="round" fill="none"/><path d="M333.4 399.2h0M331.6 397.5h0M331.0 398.4h0M329.3 396.6h0M333.7 394.4h0" stroke="#9fb9cd" stroke-width="1.00" stroke-linecap="round" fill="none"/><path d="M309.9 401.6h0M302.4 397.9h0M302.2 402.3h0M301.3 401.6h0M311.7 403.9h0M314.2 397.0h0M295.3 399.5h0M314.1 398.9h0M312.8 398.0h0M313.9 401.7h0M305.4 404.5h0M302.1 400.4h0M303.4 397.2h0M303.8 401.3h0M298.4 397.3h0M308.2 400.8h0M310.1 398.1h0M306.0 400.4h0M311.2 397.9h0M305.5 399.7h0M314.7 398.6h0M309.7 396.6h0M300.2 401.9h0M316.5 402.2h0M317.4 401.8h0M300.4 401.5h0M314.2 398.8h0M313.5 395.1h0M302.3 401.4h0M307.9 398.6h0M316.5 398.9h0M297.0 398.0h0M316.1 398.4h0M303.6 403.1h0M308.2 398.6h0M308.4 400.5h0M311.6 397.8h0M303.0 398.6h0M309.9 401.9h0M305.2 399.0h0M315.1 400.5h0M305.9 402.8h0" stroke="#3b669f" stroke-width="1.00" stroke-linecap="round" fill="none"/><path d="M322.9 407.2h0M323.6 408.9h0" stroke="#b4a2c2" stroke-width="1.00" stroke-linecap="round" fill="none"/><path d="M300.2 408.2h0M300.8 408.7h0M301.0 409.7h0M295.1 408.6h0" stroke="#b01d22" stroke-width="1.00" stroke-linecap="round" fill="none"/><path d="M336.6 369.5h0" stroke="#c41b7a" stroke-width="1.00" stroke-linecap="round" fill="none"/><path d="M323.4 368.0h0" stroke="#52afb7" stroke-width="1.00" stroke-linecap="round" fill="none"/></g>
<g><path d="M376.7 369.9h0M394.0 368.2h0M392.7 366.9h0M376.4 367.7h0M390.8 366.8h0M389.2 370.6h0M383.0 367.8h0M388.4 367.2h0M393.9 367.2h0M389.8 369.2h0M389.9 369.7h0M385.6 371.4h0M396.9 369.0h0M395.8 366.6h0M384.4 368.5h0M397.7 368.2h0M378.3 369.5h0M378.3 367.4h0" stroke="#ce741f" stroke-width="1.20" stroke-linecap="round" fill="none"/><path d="M364.1 377.2h0M365.9 379.1h0M362.7 375.4h0M371.5 375.8h0M362.2 379.0h0M361.4 377.5h0M365.2 380.7h0M370.2 375.9h0M367.9 374.7h0M367.7 374.2h0M365.8 377.6h0M372.1 376.5h0M368.2 374.4h0M362.5 376.1h0M366.4 379.4h0M367.5 375.7h0M361.9 374.4h0M370.0 376.9h0M362.0 373.7h0M365.5 378.9h0M361.8 376.0h0M367.8 373.7h0M366.9 371.8h0M367.1 377.4h0M363.4 376.4h0M363.5 374.0h0M362.5 377.9h0M366.4 378.3h0M362.0 377.1h0M361.9 378.1h0M361.3 375.2h0M364.6 374.7h0M367.0 377.1h0M363.3 378.0h0M362.2 376.8h0M363.2 375.7h0M370.2 375.1h0M369.1 376.9h0M361.3 374.1h0M364.4 377.9h0M365.0 378.8h0M360.9 374.1h0M369.5 375.5h0M367.7 375.3h0M361.7 378.0h0M367.0 374.0h0M369.0 378.6h0M369.0 378.8h0M365.0 374.8h0M363.4 375.1h0M367.6 378.2h0M364.3 374.5h0M363.7 375.1h0M362.0 372.8h0" stroke="#afc789" stroke-width="1.20" stroke-linecap="round" fill="none"/><path d="M385.4 378.0h0M376.0 378.0h0M385.5 380.9h0M376.5 375.1h0M376.3 380.1h0M382.4 375.1h0M379.1 375.2h0M375.6 378.7h0M380.8 374.9h0M385.0 376.6h0M381.2 376.8h0M374.4 378.4h0M379.6 378.7h0M381.1 377.5h0M382.0 378.4h0M385.8 378.9h0M388.0 376.7h0M374.4 378.7h0M379.5 375.2h0M384.9 380.0h0M378.9 379.3h0M376.3 379.7h0M374.4 378.7h0M377.3 380.8h0M382.4 379.0h0M387.8 379.9h0M388.5 379.4h0M378.8 380.5h0M376.2 375.3h0M376.5 377.4h0M387.5 378.4h0M383.8 379.9h0M379.4 375.6h0M385.2 377.4h0M383.8 376.6h0M383.8 378.3h0M381.7 376.9h0M385.2 380.3h0M384.0 377.0h0M382.9 376.5h0M383.6 377.2h0M386.0 374.0h0M387.2 376.2h0M378.9 376.9h0M379.5 380.8h0M386.9 376.8h0M385.4 379.0h0M386.2 375.7h0M375.4 376.7h0M386.0 378.3h0M375.7 380.2h0M380.5 380.5h0M381.8 378.8h0M381.6 373.1h0M378.9 375.0h0M380.5 374.6h0M385.8 380.3h0M378.5 377.8h0M383.9 381.3h0M385.0 378.9h0M379.9 375.7h0M382.2 377.0h0M378.5 375.9h0M388.3 377.4h0M378.4 377.5h0M377.2 375.9h0M373.5 378.7h0M375.7 379.3h0M377.4 378.1h0M374.4 376.4h0M387.0 375.0h0M378.5 379.9h0" stroke="#878787" stroke-width="1.20" stroke-linecap="round" fill="none"/><path d="M394.3 387.8h0M386.3 380.2h0M399.1 390.6h0M401.4 381.6h0M395.6 393.4h0M394.3 390.6h0M380.4 380.3h0M396.4 388.5h0M400.7 380.8h0M403.7 388.1h0M396.0 388.6h0M392.9 383.9h0M409.9 385.6h0M379.4 382.7h0M394.7 390.4h0M389.7 382.1h0M393.1 392.8h0M385.4 377.8h0M393.0 382.0h0M398.2 388.2h0M399.8 377.5h0M380.5 384.5h0M390.7 388.7h0M391.4 393.9h0M399.3 393.0h0M393.2 385.7h0M398.3 380.2h0M391.3 378.0h0M402.5 377.1h0M396.4 394.3h0M395.1 384.0h0M408.3 382.9h0M409.2 385.9h0M403.0 379.4h0M393.9 381.8h0M406.7 388.7h0M386.2 389.6h0M401.0 387.3h0M379.5 382.4h0M392.8 385.1h0M393.7 384.3h0M395.4 379.3h0M383.5 385.8h0M397.0 381.9h0M394.6 389.2h0M383.9 378.8h0M384.8 383.1h0M399.5 384.0h0M382.0 383.6h0M391.8 392.6h0M392.3 375.1h0M400.5 390.0h0M395.6 394.8h0M395.2 381.6h0M403.1 379.4h0M390.1 384.6h0M396.6 378.3h0M404.6 390.8h0M385.0 389.3h0M403.1 380.2h0M386.6 388.2h0M403.2 388.1h0M390.3 392.5h0M401.4 378.4h0M400.7 387.2h0M390.5 384.3h0M405.8 378.7h0M397.6 383.8h0M402.9 389.7h0M387.2 389.7h0M398.3 388.5h0M392.9 387.3h0M391.5 376.6h0M386.4 389.9h0M391.2 384.9h0M379.9 380.8h0M388.8 392.0h0M393.7 376.4h0M383.7 381.4h0M396.7 391.6h0M386.0 386.3h0M392.4 387.5h0M395.9 394.3h0M381.8 378.6h0M401.1 386.8h0M383.0 390.4h0M388.4 381.7h0M394.4 381.6h0M385.4 385.7h0M399.5 378.5h0M388.3 390.6h0M398.0 383.2h0M391.0 379.6h0M395.7 375.8h0M387.8 392.6h0M393.0 384.1h0M384.8 376.6h0M393.1 375.5h0M395.3 394.3h0M406.7 383.7h0M386.2 377.2h0M403.2 381.9h0M386.0 392.1h0M390.8 387.9h0M404.3 379.2h0M396.4 389.4h0M400.6 381.2h0M381.8 390.6h0M382.5 381.9h0M381.3 389.0h0M400.7 386.3h0M398.7 392.9h0M385.1 390.3h0M405.8 381.0h0M384.8 383.0h0M404.3 383.3h0M387.7 381.7h0M393.7 384.5h0M390.3 383.3h0M405.6 388.0h0M385.8 391.6h0M393.2 375.9h0M383.6 379.0h0M393.7 378.2h0M393.9 383.6h0M388.5 376.1h0M390.6 387.2h0M390.0 383.9h0M403.7 382.5h0M393.7 384.0h0M399.7 390.0h0M401.8 392.2h0M392.8 378.8h0M383.5 381.7h0M394.8 383.0h0M402.0 382.2h0M385.7 377.8h0M381.2 385.8h0M395.4 383.4h0M401.7 383.6h0M390.3 394.8h0M398.3 378.3h0M395.1 389.3h0M391.2 380.5h0M392.3 375.8h0M391.4 377.4h0M389.6 378.6h0M394.9 379.2h0M392.5 380.0h0M389.7 382.8h0M381.5 391.2h0M384.3 381.7h0M395.3 380.2h0M397.6 385.8h0M390.5 392.2h0M407.8 384.0h0M393.3 392.3h0M401.7 392.0h0M385.0 377.3h0M387.5 381.9h0M378.7 381.3h0M387.2 376.7h0M383.2 390.9h0M393.3 390.6h0M383.9 390.3h0M388.4 383.5h0M384.4 380.4h0M396.5 375.5h0M406.1 386.4h0M381.2 389.8h0M400.9 393.0h0M391.2 386.7h0M397.2 387.7h0M393.2 390.5h0M390.1 385.5h0M392.8 393.3h0M394.4 376.5h0M396.6 376.0h0M399.2 380.2h0M390.8 391.9h0M383.6 380.3h0M381.9 384.7h0M392.0 378.3h0M402.7 380.8h0M404.1 385.2h0M402.8 385.8h0M407.1 383.9h0M395.0 393.4h0M399.1 393.4h0M380.3 385.1h0M406.6 384.6h0M405.4 387.9h0M383.8 384.6h0M387.2 379.8h0M388.9 382.4h0M379.8 388.5h0M402.1 390.4h0M387.8 377.7h0M398.9 381.2h0M400.9 381.2h0M387.5 382.3h0M393.0 382.8h0M406.7 382.3h0M405.6 387.4h0M403.7 385.4h0M390.8 374.6h0M395.0 388.8h0M405.0 384.4h0M397.7 394.6h0M400.3 385.4h0M400.9 390.1h0M396.2 386.2h0M383.7 391.4h0M398.1 386.4h0M396.6 376.8h0M392.3 379.7h0M379.1 382.9h0M389.4 390.5h0M387.6 380.2h0M395.1 394.6h0M402.2 378.4h0M406.3 383.5h0M397.3 382.4h0M396.3 386.4h0M387.5 394.0h0M385.2 381.0h0M385.4 378.6h0M380.3 382.2h0M394.1 378.4h0M396.6 386.5h0M392.8 387.9h0M400.2 390.5h0M385.0 390.8h0M395.6 382.9h0M397.5 388.9h0M391.5 376.7h0M394.4 376.2h0M391.9 379.4h0M393.4 378.7h0M407.9 385.6h0M406.8 380.3h0M378.6 385.5h0M389.0 387.0h0M397.3 382.4h0M402.2 379.5h0M400.1 389.7h0M395.0 377.2h0M393.6 390.1h0M401.3 390.5h0M406.6 387.1h0M385.4 382.4h0M404.5 379.0h0M384.9 385.0h0M401.3 390.9h0M400.8 385.0h0M386.1 391.3h0M394.8 392.6h0M402.9 379.5h0M397.1 377.5h0M382.7 382.9h0M387.7 379.0h0M400.8 378.0h0M405.5 385.2h0M406.8 386.6h0M399.9 377.8h0M384.2 386.0h0M405.6 382.0h0M401.1 381.0h0M404.7 387.2h0M398.3 376.3h0M392.3 384.5h0M399.4 383.1h0M393.8 384.8h0M380.7 384.1h0M392.9 386.4h0M388.4 387.2h0M391.8 386.0h0M399.0 384.2h0M383.0 378.8h0M396.1 391.3h0M400.6 388.8h0M390.3 385.6h0M407.2 388.5h0M402.1 386.5h0M389.5 391.4h0M401.7 392.1h0M388.2 381.1h0M400.5 388.6h0M393.5 379.2h0M393.7 375.1h0M397.8 389.6h0M388.3 392.6h0M403.4 380.1h0M387.0 385.3h0M379.2 381.5h0M380.5 387.6h0M385.4 381.2h0M405.2 384.1h0M401.2 387.0h0M392.5 381.7h0M399.3 383.7h0M391.6 389.9h0M391.4 383.7h0M403.7 386.7h0M398.7 378.7h0M395.6 386.3h0M387.9 388.4h0M388.5 383.2h0M405.7 378.8h0M392.6 387.0h0M386.8 385.9h0M403.4 387.6h0" stroke="#d5bb41" stroke-width="1.20" stroke-linecap="round" fill="none"/><path d="M416.7 387.2h0M401.8 381.9h0M406.9 385.3h0M407.1 390.5h0M415.5 392.4h0M404.6 378.1h0M419.8 385.1h0M405.7 382.6h0M416.2 380.0h0M417.8 386.6h0M418.6 388.8h0M418.3 382.1h0M416.0 390.8h0M411.3 389.4h0M410.0 379.4h0M414.4 378.6h0M419.9 383.5h0M416.6 385.6h0M413.3 383.8h0M418.8 380.3h0M418.6 385.2h0M412.5 389.1h0M416.9 387.4h0M410.7 378.8h0M418.5 380.6h0M415.5 380.9h0M413.9 384.4h0M416.6 385.2h0M416.2 380.8h0M415.5 390.0h0M409.6 390.6h0M401.8 379.7h0M402.8 388.8h0M401.8 384.3h0M414.2 389.8h0M413.7 389.9h0M415.7 388.7h0M409.5 377.3h0M407.6 391.1h0M411.9 379.5h0M409.0 387.1h0M417.1 383.5h0M405.1 388.4h0M413.8 382.0h0M408.7 391.6h0M415.0 391.2h0M404.3 381.8h0M404.9 388.2h0M412.9 383.8h0M402.5 382.4h0M405.2 389.8h0M407.1 386.3h0M415.2 389.2h0M414.1 385.0h0M410.6 387.9h0M405.4 388.2h0M409.6 388.4h0M417.6 384.1h0M409.2 392.0h0M414.4 387.3h0M402.1 384.1h0M413.6 377.4h0M419.4 386.9h0M400.8 383.4h0M409.8 382.5h0M411.4 389.5h0M414.6 390.0h0M421.7 387.9h0M412.9 380.3h0M418.5 388.3h0M420.2 386.7h0M412.0 388.8h0M404.1 381.4h0M409.7 391.3h0M411.3 382.5h0M415.4 387.0h0M415.2 390.7h0M411.7 390.8h0M403.6 380.8h0M406.6 390.2h0M409.8 384.8h0M412.2 379.7h0M410.4 377.8h0M412.0 392.1h0M413.3 389.6h0M404.5 379.0h0M408.7 383.4h0M402.1 379.7h0M415.0 380.6h0M410.0 386.1h0M405.7 384.4h0M409.6 386.1h0M412.2 376.7h0M410.1 391.2h0M405.7 383.1h0M420.2 382.6h0M408.9 377.4h0M416.8 381.4h0M409.4 385.7h0M399.7 382.5h0M416.2 379.1h0M407.9 388.4h0M417.1 386.9h0M413.7 380.7h0M414.5 384.7h0M408.2 386.1h0M418.2 390.2h0M412.6 377.1h0M415.2 390.5h0M405.3 388.0h0M415.2 382.1h0M413.6 391.5h0M420.5 386.9h0M412.1 388.3h0M419.8 379.0h0M405.2 383.0h0M404.3 382.7h0M402.0 382.3h0M411.0 389.9h0M408.0 378.9h0M410.9 383.9h0M403.2 386.6h0M404.1 387.5h0M414.2 377.7h0M417.1 386.0h0M404.2 387.5h0M418.1 378.9h0M412.0 382.6h0M411.6 386.6h0M409.3 377.8h0M403.2 385.4h0M418.0 382.7h0M416.2 382.3h0M411.8 376.6h0M410.9 377.3h0M401.7 382.2h0M412.0 380.4h0M405.0 385.4h0M407.9 378.3h0M413.9 382.0h0M412.9 388.3h0M413.0 388.9h0M407.5 380.8h0M413.4 386.1h0M409.6 388.3h0M407.4 377.8h0M413.4 377.1h0M413.0 382.3h0M403.9 380.9h0M403.9 385.7h0M414.2 383.3h0M418.3 388.1h0M407.2 391.3h0M413.4 386.6h0M410.2 376.3h0M421.6 383.7h0" stroke="#578b33" stroke-width="1.20" stroke-linecap="round" fill="none"/><path d="M359.4 387.1h0M365.1 383.9h0M361.7 386.0h0M360.8 388.1h0M363.9 384.1h0M360.6 382.9h0M360.7 387.5h0M360.6 382.7h0M364.4 388.7h0M358.7 384.5h0M358.8 386.4h0M356.6 385.9h0M362.4 388.4h0M357.1 387.6h0M360.2 388.6h0M362.9 386.2h0M354.5 386.8h0M359.5 385.6h0" stroke="#894f28" stroke-width="1.20" stroke-linecap="round" fill="none"/><path d="M382.7 388.8h0M375.8 384.3h0M374.0 385.6h0M367.4 387.0h0M372.1 390.1h0M369.2 386.7h0M379.7 387.8h0M379.3 389.6h0M381.1 387.5h0M368.5 387.6h0M372.4 385.8h0M383.6 384.8h0M373.3 388.8h0M371.3 385.0h0M374.8 387.7h0M378.8 388.7h0M377.2 384.4h0M371.3 383.0h0M365.9 385.2h0M381.5 384.8h0M384.8 386.1h0M383.6 384.0h0M370.8 389.6h0M373.9 383.7h0M368.8 390.0h0M373.1 384.3h0M372.5 388.4h0M379.2 386.7h0M379.3 389.2h0M369.5 387.0h0M370.6 389.0h0M369.3 388.9h0M376.7 390.6h0M374.5 385.8h0M376.7 389.6h0M372.7 384.9h0M375.0 392.2h0M378.8 387.1h0M369.2 382.7h0M378.2 385.4h0M379.4 390.1h0M366.6 385.3h0M373.1 385.9h0M369.4 389.1h0M372.1 386.2h0M371.9 382.2h0M377.1 388.2h0M376.8 387.2h0M383.0 388.6h0M378.4 389.2h0M368.5 385.9h0M372.3 389.3h0M377.8 384.7h0M373.5 381.3h0M375.1 385.7h0M373.6 385.8h0M372.2 384.3h0M381.6 383.2h0M377.9 387.7h0M368.7 384.5h0M380.7 383.8h0M383.8 387.5h0M380.9 385.0h0M373.0 387.8h0M379.4 386.6h0M378.5 382.4h0M378.7 389.9h0M367.9 385.9h0M375.8 382.7h0M370.4 383.3h0M374.8 391.0h0M372.1 388.5h0M379.8 386.7h0M369.2 389.3h0M380.7 386.0h0M383.2 386.9h0M376.5 388.8h0M374.4 385.0h0M380.0 391.3h0M374.4 383.0h0M368.2 386.7h0M375.8 386.2h0M376.3 389.3h0M369.1 389.6h0M381.7 384.3h0M380.6 389.1h0M379.6 382.4h0M379.5 384.8h0M380.6 386.0h0M383.0 384.1h0M366.2 384.2h0M371.8 387.2h0M382.9 386.6h0M367.7 388.8h0M380.0 387.9h0M369.8 386.6h0M377.2 386.4h0M374.1 384.3h0M378.8 384.9h0M378.8 387.0h0M381.4 384.0h0M374.2 386.0h0M372.1 382.5h0M370.9 391.4h0M380.7 384.9h0M385.8 387.2h0M371.3 388.5h0M369.0 388.4h0M374.7 386.8h0M380.3 384.7h0M368.9 383.3h0M373.7 383.8h0M378.9 389.5h0M374.5 384.7h0M382.1 385.0h0M379.1 390.7h0M367.6 384.0h0M372.4 390.8h0M378.2 390.1h0M371.0 386.1h0" stroke="#563589" stroke-width="1.20" stroke-linecap="round" fill="none"/><path d="M378.6 389.6h0M387.6 391.7h0M376.3 390.3h0M386.2 391.8h0M379.2 392.2h0M387.7 389.9h0M377.2 391.7h0M382.3 390.9h0M375.9 391.0h0M380.3 392.2h0M380.5 394.2h0M379.0 391.0h0M382.4 391.0h0M386.8 392.6h0M388.8 392.0h0M376.9 393.2h0M382.3 394.0h0M382.1 392.9h0M382.2 388.9h0M380.4 389.0h0M385.7 391.0h0M380.1 391.2h0M379.5 391.9h0M374.9 392.6h0" stroke="#d19191" stroke-width="1.20" stroke-linecap="round" fill="none"/><path d="M410.7 395.5h0M411.4 397.4h0M413.3 396.9h0M415.1 394.6h0M410.0 396.4h0M410.2 394.6h0M410.9 394.8h0M419.2 396.9h0M415.2 396.5h0M413.7 398.3h0M417.1 395.6h0M416.7 397.7h0M413.7 398.5h0M409.3 396.6h0M409.2 395.7h0M408.0 396.1h0M419.4 394.6h0M411.3 397.4h0M413.3 397.5h0M415.9 399.4h0M412.5 397.5h0M419.8 397.7h0M419.6 396.8h0M410.1 397.4h0M416.8 395.3h0M417.0 399.0h0M417.2 396.3h0M409.8 398.4h0M418.2 395.3h0M414.7 395.0h0M416.2 397.9h0M413.6 398.5h0M413.4 398.2h0M411.7 394.1h0M409.9 396.0h0M413.3 398.7h0M416.1 395.2h0M415.1 393.7h0M408.6 397.1h0M414.4 397.0h0M407.2 398.1h0M418.2 396.3h0M417.2 397.4h0M410.2 398.1h0M415.6 397.3h0M412.9 398.7h0M419.9 396.6h0M410.4 397.9h0M415.3 397.5h0M416.0 394.8h0M408.4 397.5h0M413.0 394.9h0M409.7 396.6h0M408.1 395.7h0M420.0 396.4h0M413.2 398.4h0M411.2 398.2h0M409.5 396.0h0M415.6 396.3h0M415.4 397.6h0" stroke="#9fb9cd" stroke-width="1.20" stroke-linecap="round" fill="none"/><path d="M383.8 395.1h0M386.2 397.5h0M400.0 398.5h0M384.3 395.5h0M378.9 398.9h0M383.5 397.6h0M396.4 398.3h0M396.8 400.8h0M397.6 401.8h0M387.1 398.0h0M385.7 401.8h0M398.2 400.7h0M396.4 401.1h0M397.8 398.7h0M386.3 394.6h0M388.7 400.5h0M380.5 402.1h0M384.1 400.6h0M389.9 393.1h0M397.4 397.8h0M394.3 400.3h0M381.2 401.1h0M385.3 395.4h0M386.4 403.7h0M388.1 399.3h0M381.7 401.6h0M400.2 399.0h0M393.2 399.0h0M387.2 400.8h0M391.4 399.5h0M387.1 404.0h0M378.6 398.3h0M393.7 394.3h0M398.6 399.7h0M393.0 397.3h0M386.5 398.2h0M382.2 403.3h0M378.1 401.0h0M383.3 401.0h0M384.5 396.0h0M388.2 396.7h0M379.6 399.7h0M393.4 398.9h0M389.8 397.5h0M400.0 399.5h0M382.1 400.0h0M387.2 398.5h0M394.2 399.9h0M380.3 399.7h0M398.7 398.9h0M394.2 396.2h0M380.0 400.9h0M391.1 396.4h0M394.7 393.4h0M396.5 401.6h0M399.0 401.0h0M388.6 400.6h0M381.1 399.1h0M399.5 398.2h0M392.1 401.8h0M389.3 397.2h0M389.1 404.1h0M392.7 399.6h0M394.7 396.8h0M385.8 397.5h0M389.6 396.3h0M381.8 399.9h0M391.6 400.1h0M398.9 398.1h0M384.3 401.8h0M391.2 397.8h0M391.6 397.3h0M379.0 398.4h0M392.8 397.4h0M398.6 399.9h0M384.8 401.2h0M392.2 397.7h0M377.3 398.7h0M392.2 399.3h0M380.7 396.5h0M381.2 398.1h0M385.2 395.2h0M377.7 401.9h0M377.3 398.4h0M385.6 401.4h0M385.5 398.3h0M393.1 403.1h0M390.3 403.4h0M395.4 403.2h0M379.6 401.5h0M385.7 399.3h0M396.2 396.0h0M381.0 402.9h0M384.4 395.5h0M384.1 398.8h0M389.9 401.5h0M398.3 400.0h0M381.7 396.0h0M386.8 404.1h0M397.4 396.8h0M385.7 397.1h0M392.1 394.2h0M386.9 402.0h0M394.5 396.6h0M380.5 397.9h0M394.7 402.5h0M379.4 400.7h0M379.9 396.7h0M381.2 399.9h0M382.6 400.3h0M386.2 395.1h0M389.9 402.1h0M389.4 397.0h0M389.8 398.1h0M389.8 400.7h0M388.5 399.6h0M384.3 402.7h0M390.8 399.7h0M385.6 400.5h0M392.1 398.9h0M386.3 400.6h0M382.1 397.6h0M385.1 396.4h0M395.2 397.0h0M391.8 399.6h0M386.9 401.3h0M395.9 396.9h0M399.3 400.9h0M378.5 400.9h0M388.9 398.9h0M379.2 401.5h0M397.7 399.0h0M382.9 396.2h0M382.3 403.4h0M382.4 401.7h0M392.9 398.0h0M388.9 397.7h0M386.6 402.4h0M395.8 399.4h0M391.2 402.1h0M380.7 403.3h0M391.3 398.8h0M399.9 399.3h0M391.7 400.5h0" stroke="#3b669f" stroke-width="1.20" stroke-linecap="round" fill="none"/><path d="M402.6 405.0h0M401.4 404.3h0M403.9 407.6h0M403.3 407.2h0M400.2 404.7h0M398.8 407.9h0M404.8 406.4h0M400.9 407.3h0M398.4 402.9h0M399.0 407.9h0M401.2 403.8h0M403.3 406.3h0M401.2 408.7h0M402.5 406.0h0M400.3 406.9h0M400.6 404.8h0M401.6 405.8h0M404.5 407.4h0M402.6 408.4h0" stroke="#b4a2c2" stroke-width="1.20" stroke-linecap="round" fill="none"/><path d="M379.4 407.4h0M376.1 407.6h0M380.2 408.6h0M380.4 408.9h0M382.2 407.5h0M377.4 407.9h0M379.4 408.1h0M380.7 407.4h0M376.8 407.7h0M382.2 408.2h0M380.9 407.7h0M377.1 408.7h0M378.5 410.6h0M377.6 409.4h0M377.7 408.5h0M380.9 410.6h0M381.4 409.5h0M380.0 408.4h0M379.5 409.8h0M379.2 407.3h0M376.4 408.3h0M382.0 410.0h0M380.9 407.6h0M381.7 409.3h0" stroke="#b01d22" stroke-width="1.20" stroke-linecap="round" fill="none"/><path d="M412.0 370.5h0M413.4 370.5h0" stroke="#c41b7a" stroke-width="1.20" stroke-linecap="round" fill="none"/><path d="M405.0 368.7h0" stroke="#52afb7" stroke-width="1.20" stroke-linecap="round" fill="none"/></g>
<g fill="#0b0b0b" opacity="0.75"><ellipse cx="375.0" cy="374.5" rx="17.0" ry="3.6" transform="rotate(5 375.0 374.5)"/><ellipse cx="374.5" cy="386.5" rx="11.5" ry="7.0" transform="rotate(10 374.5 386.5)"/><ellipse cx="410.5" cy="382.5" rx="10.0" ry="6.5" transform="rotate(0 410.5 382.5)"/><ellipse cx="413.5" cy="396.8" rx="7.5" ry="3.7" transform="rotate(0 413.5 396.8)"/><ellipse cx="386.0" cy="397.5" rx="10.0" ry="5.5" transform="rotate(0 386.0 397.5)"/></g>
<g opacity="0.60"><path d="M364.5 375.2h0M373.8 376.6h0M378.5 376.1h0M388.7 377.3h0M368.2 376.1h0M384.2 374.8h0M389.7 374.7h0M363.8 371.4h0M385.5 376.2h0M385.0 375.7h0M377.4 375.8h0M375.5 375.5h0M365.6 372.1h0M387.7 376.2h0M383.6 376.3h0M381.8 371.8h0M387.8 375.2h0M369.6 375.6h0M370.3 375.6h0M360.6 374.7h0M366.3 371.7h0M358.8 373.5h0M365.4 372.9h0M368.0 375.2h0M385.6 375.2h0M363.5 373.1h0M375.7 372.1h0M383.8 374.4h0M385.4 374.8h0M365.2 382.6h0M375.5 382.6h0M372.0 380.9h0M365.4 384.1h0M372.1 386.7h0M375.9 392.0h0M368.6 380.4h0M382.8 390.4h0M370.3 383.9h0M370.9 387.8h0M381.6 386.8h0M370.2 381.4h0M375.2 391.1h0M382.1 385.8h0M365.2 388.6h0M375.6 391.3h0M380.5 381.4h0M364.0 387.3h0M370.6 386.3h0M372.7 385.1h0M372.2 393.1h0M376.9 380.3h0M370.4 380.7h0M371.1 389.4h0M369.9 383.1h0M375.8 387.2h0M368.6 384.1h0M374.1 386.3h0M373.3 389.3h0M372.8 388.7h0M382.2 387.2h0M372.4 388.0h0M366.5 387.8h0M367.3 388.9h0M377.2 391.5h0M369.4 386.5h0M381.8 388.3h0M381.7 386.8h0M365.8 382.1h0M371.9 381.7h0M370.6 380.9h0M381.3 389.5h0M371.1 383.1h0M373.5 393.2h0M381.6 384.5h0M380.6 386.3h0M411.9 379.7h0M419.5 383.6h0M401.1 382.6h0M408.4 383.2h0M406.5 387.0h0M415.2 382.7h0M415.3 386.8h0M407.6 383.9h0M418.4 382.1h0M405.1 380.1h0M412.7 379.9h0M413.1 385.3h0M408.8 379.6h0M405.2 385.9h0M404.9 380.8h0M412.4 388.8h0M403.0 378.8h0M405.9 383.8h0M417.2 378.8h0M406.4 379.1h0M404.2 387.0h0M408.8 381.4h0M412.4 381.7h0M420.1 381.3h0M420.5 382.6h0M401.9 379.4h0M416.1 385.6h0M410.7 387.1h0M412.4 382.6h0M407.4 396.9h0M411.0 394.4h0M408.3 397.9h0M414.6 393.9h0M420.0 395.0h0M414.5 395.1h0M413.9 399.6h0M414.8 399.7h0M418.5 394.2h0M417.3 395.4h0M381.5 398.3h0M378.8 398.0h0M388.2 393.5h0M385.9 392.8h0M386.9 394.4h0M384.0 401.7h0M392.7 400.7h0M382.0 398.4h0M383.8 396.1h0M377.6 400.1h0M384.9 394.1h0M393.3 396.6h0M386.5 400.1h0M379.1 396.8h0M393.8 395.6h0M381.3 394.0h0M381.2 397.8h0M387.2 400.7h0M392.3 399.7h0M389.4 396.2h0M382.3 399.6h0M384.0 398.6h0M380.8 401.4h0M378.6 398.0h0M391.3 398.0h0M378.8 395.7h0M383.2 397.8h0" stroke="#0a0a0a" stroke-width="2.0" stroke-linecap="round"/><path d="M376.0 376.3h0M364.7 371.4h0M386.3 376.8h0M381.2 372.5h0M383.4 373.4h0M380.8 376.1h0M365.6 376.5h0M387.5 374.9h0M364.0 373.9h0M381.0 377.2h0M387.8 376.4h0M363.6 375.8h0M371.2 372.2h0M383.2 375.2h0M385.6 376.5h0M374.1 377.3h0M371.0 376.1h0M382.2 374.7h0M359.3 372.7h0M375.9 377.5h0M362.7 372.6h0M362.8 373.7h0M380.5 371.6h0M367.2 374.1h0M369.1 371.8h0M362.1 373.8h0M381.9 376.0h0M371.9 374.1h0M367.1 376.7h0M365.2 374.1h0M369.2 375.5h0M381.9 375.0h0M382.6 372.0h0M383.3 372.5h0M382.9 391.6h0M367.0 382.4h0M375.5 381.0h0M367.3 390.0h0M366.8 384.2h0M375.7 391.7h0M377.2 380.1h0M374.2 384.1h0M374.6 391.4h0M384.1 387.9h0M373.9 389.9h0M372.4 384.3h0M377.7 384.4h0M379.3 382.0h0M372.2 379.7h0M384.7 388.6h0M375.3 382.1h0M382.4 385.1h0M382.8 389.5h0M367.0 389.6h0M363.9 386.9h0M366.5 383.8h0M378.2 385.4h0M367.9 385.3h0M371.6 391.1h0M370.3 380.0h0M370.6 381.0h0M380.0 393.2h0M368.1 387.5h0M384.4 385.7h0M379.1 385.9h0M370.7 388.4h0M382.1 386.8h0M379.1 393.4h0M383.2 390.5h0M409.8 378.5h0M400.9 382.5h0M419.2 385.2h0M408.0 387.8h0M409.0 388.1h0M412.8 378.1h0M410.1 387.4h0M408.2 383.2h0M413.5 383.0h0M412.5 385.9h0M410.2 377.2h0M414.2 383.4h0M418.6 381.6h0M411.2 386.0h0M407.8 383.2h0M409.1 380.1h0M411.0 379.8h0M418.8 384.4h0M415.0 387.4h0M418.2 380.3h0M408.2 383.3h0M405.2 381.0h0M405.7 381.1h0M416.8 383.1h0M404.9 386.9h0M403.2 378.9h0M415.9 380.1h0M417.0 383.2h0M405.1 384.6h0M416.1 378.0h0M418.9 385.8h0M408.7 382.2h0M407.3 388.1h0M416.0 387.6h0M415.1 385.4h0M402.2 379.5h0M403.2 386.8h0M415.6 395.8h0M411.5 395.2h0M416.1 395.1h0M418.8 397.1h0M416.7 396.8h0M411.3 399.4h0M418.3 394.8h0M416.1 395.3h0M407.7 395.6h0M414.6 400.1h0M409.6 393.9h0M417.3 393.7h0M391.2 398.3h0M391.5 397.2h0M376.5 398.6h0M391.6 396.7h0M390.3 401.0h0M388.9 397.6h0M393.1 395.8h0M384.5 397.9h0M382.0 398.1h0M379.2 395.7h0M391.6 395.2h0M377.9 400.1h0M386.7 395.4h0M392.7 393.9h0M391.8 393.9h0M386.0 403.0h0M386.3 395.5h0M390.5 398.8h0M381.7 395.4h0M390.4 396.4h0M378.1 394.7h0M382.5 395.1h0M381.2 395.5h0M387.6 396.6h0" stroke="#0a0a0a" stroke-width="2.8" stroke-linecap="round"/><path d="M379.9 374.3h0M383.2 376.4h0M381.0 374.0h0M386.6 376.0h0M385.4 373.3h0M365.6 375.1h0M372.1 376.4h0M365.7 374.8h0M390.7 375.4h0M363.2 373.3h0M383.0 377.6h0M386.3 376.2h0M373.1 372.5h0M365.4 374.4h0M369.7 375.2h0M381.2 371.7h0M379.4 374.3h0M382.4 375.4h0M369.3 371.4h0M377.6 371.8h0M366.1 372.5h0M388.9 376.1h0M376.4 377.0h0M382.9 374.7h0M384.0 375.1h0M380.8 375.7h0M370.6 377.1h0M367.1 372.3h0M361.4 372.2h0M383.0 375.4h0M380.0 372.8h0M373.7 372.2h0M379.5 375.6h0M379.1 385.7h0M376.9 389.3h0M380.3 381.7h0M374.4 388.4h0M367.9 381.3h0M375.3 382.6h0M382.4 387.6h0M370.1 380.1h0M372.3 392.3h0M377.2 386.2h0M384.8 390.4h0M382.8 390.3h0M366.9 382.2h0M375.9 389.2h0M368.6 390.4h0M373.3 382.3h0M375.3 379.7h0M375.0 385.8h0M369.9 392.2h0M377.7 388.8h0M364.4 387.8h0M373.3 381.7h0M383.8 386.1h0M372.3 386.6h0M365.7 384.8h0M385.7 387.1h0M370.3 382.3h0M375.4 384.2h0M375.4 383.0h0M366.0 382.5h0M375.9 386.9h0M384.9 385.7h0M382.0 383.6h0M380.4 390.1h0M379.9 388.7h0M385.6 387.9h0M380.3 389.9h0M374.3 383.3h0M382.6 391.4h0M375.5 387.4h0M365.3 382.9h0M380.3 382.9h0M379.5 390.6h0M372.9 391.3h0M365.7 389.6h0M402.9 385.6h0M405.1 384.7h0M416.7 381.0h0M413.1 384.1h0M414.9 387.5h0M413.6 383.1h0M417.2 377.7h0M419.0 381.1h0M402.3 379.8h0M407.9 384.9h0M412.4 381.8h0M410.9 384.5h0M416.8 383.4h0M410.3 383.6h0M416.8 385.3h0M411.0 377.0h0M400.7 382.6h0M413.3 384.4h0M419.0 384.0h0M411.7 381.1h0M407.7 379.7h0M408.8 380.7h0M411.1 379.6h0M415.5 379.9h0M402.4 383.1h0M419.1 382.0h0M403.6 382.8h0M404.9 378.6h0M410.8 380.5h0M409.6 381.1h0M417.4 384.1h0M408.1 384.1h0M410.7 380.5h0M403.8 386.4h0M410.6 376.1h0M402.9 380.3h0M411.5 398.7h0M411.0 393.7h0M411.9 398.5h0M412.0 397.3h0M415.9 395.1h0M414.3 396.1h0M412.8 400.0h0M412.0 393.6h0M416.7 398.5h0M412.0 398.2h0M413.6 398.7h0M417.9 394.8h0M413.8 397.6h0M410.1 398.1h0M416.1 399.8h0M410.7 395.2h0M415.5 397.5h0M419.4 395.8h0M412.4 399.0h0M408.6 398.4h0M412.0 394.4h0M380.1 395.7h0M392.8 395.2h0M391.0 394.4h0M391.6 400.3h0M385.0 401.3h0M392.8 394.2h0M394.5 398.0h0M390.7 393.5h0M385.8 395.5h0M381.6 392.7h0M391.9 399.3h0M394.5 399.8h0M379.4 401.4h0M383.5 393.6h0M378.3 398.4h0M382.1 399.3h0M381.5 395.0h0M383.9 398.2h0M384.0 400.4h0M385.8 394.7h0M386.5 398.5h0M385.2 402.6h0M393.2 398.8h0M378.2 396.2h0M382.0 394.3h0M387.6 399.4h0M388.4 400.3h0M384.6 402.0h0M391.4 393.8h0M389.3 401.8h0M386.3 395.1h0M387.2 398.1h0M384.1 399.8h0M394.2 395.1h0M391.1 394.1h0" stroke="#0a0a0a" stroke-width="3.4" stroke-linecap="round"/></g>
<g fill="#1e1a06" opacity="0.80"><ellipse cx="391.0" cy="383.5" rx="13.0" ry="8.0" transform="rotate(10 391.0 383.5)"/></g>
<g opacity="0.40"><path d="M386.5 378.4h0M396.4 386.2h0M387.8 388.2h0M396.3 377.6h0M380.2 382.7h0M394.9 382.5h0M388.6 387.3h0M398.5 381.3h0M391.4 381.8h0M389.7 384.6h0M390.9 387.1h0M394.1 380.5h0M397.8 382.5h0M395.9 377.1h0M391.9 379.7h0M389.7 388.8h0M388.8 385.9h0M388.2 380.4h0M388.6 379.6h0M382.9 378.7h0M378.3 381.0h0M382.7 377.4h0M399.1 381.8h0M399.2 390.4h0M389.9 375.6h0M382.9 387.1h0M389.6 377.1h0M386.5 385.2h0M393.0 385.6h0M392.0 382.0h0M383.2 377.2h0M384.7 384.8h0M396.5 381.9h0M381.4 386.9h0M402.5 383.4h0M381.2 380.4h0M388.5 387.1h0M386.0 390.3h0M379.4 378.9h0M391.1 377.7h0M399.7 387.3h0M386.6 387.6h0M391.1 389.0h0M388.2 379.8h0M386.4 378.5h0M400.3 380.1h0M383.6 382.5h0M382.0 386.0h0M386.6 387.3h0" stroke="#0a0a0a" stroke-width="2.0" stroke-linecap="round"/><path d="M382.7 377.9h0M382.7 378.4h0M396.2 390.2h0M393.0 378.2h0M395.6 390.0h0M393.6 391.6h0M387.5 385.0h0M386.3 386.9h0M379.3 383.9h0M382.8 381.3h0M387.0 379.5h0M388.9 385.5h0M398.7 384.3h0M385.8 385.7h0M385.8 385.4h0M391.2 390.9h0M390.1 389.8h0M383.2 380.8h0M385.1 389.8h0M401.2 388.2h0M398.4 384.1h0M390.7 379.5h0M390.1 381.6h0M395.5 383.2h0M390.0 379.2h0M396.6 388.8h0M384.1 378.6h0M386.9 380.4h0M388.9 379.0h0M383.5 377.5h0M395.3 386.4h0M397.6 388.0h0M387.0 384.1h0M389.0 382.0h0M390.2 384.6h0M394.3 378.4h0M400.1 384.5h0M381.6 384.8h0M388.1 389.5h0M388.4 388.1h0M387.0 376.3h0M384.7 384.8h0M400.4 388.3h0M389.7 387.6h0M397.3 387.1h0M387.1 382.9h0M397.5 382.4h0M389.1 381.0h0M388.1 378.3h0M387.9 390.3h0M397.3 385.2h0M380.5 384.7h0M382.9 388.6h0M381.3 377.7h0M380.7 381.6h0M392.3 378.7h0M384.5 380.9h0M383.4 385.8h0M384.8 382.9h0M396.7 389.2h0M381.6 385.5h0M402.0 383.3h0M400.7 387.8h0" stroke="#0a0a0a" stroke-width="2.8" stroke-linecap="round"/><path d="M382.0 388.0h0M395.9 378.6h0M388.4 376.8h0M399.8 382.6h0M390.8 388.9h0M390.7 379.5h0M395.9 386.0h0M387.3 376.4h0M384.7 387.2h0M383.9 381.9h0M389.6 382.6h0M400.9 379.5h0M392.3 375.7h0M381.4 378.9h0M395.9 382.5h0M398.6 389.6h0M397.2 379.0h0M395.7 382.8h0M395.4 383.5h0M381.7 377.4h0M394.6 388.9h0M398.2 388.0h0M400.3 380.0h0M393.9 378.6h0M392.8 380.3h0M381.0 380.7h0M393.1 384.1h0M381.4 382.4h0M399.1 378.2h0M382.3 381.5h0M380.8 385.9h0M389.0 390.5h0M385.6 387.2h0M403.4 385.6h0M383.4 377.9h0M396.7 382.7h0M390.1 380.9h0M386.9 386.6h0M389.0 383.8h0M383.5 376.4h0M390.6 388.8h0M395.7 390.5h0M386.3 382.7h0M386.4 381.2h0M391.4 386.7h0M384.5 380.0h0M397.7 387.0h0M382.3 379.2h0M394.0 377.7h0M398.6 383.6h0M400.3 386.6h0" stroke="#0a0a0a" stroke-width="3.4" stroke-linecap="round"/></g>
<path d="M381 379 C386 376 394 377 399 381 C403 385 401 390 395 391 C389 392 384 389 384 386 C384 383 389 382 393 383 C396 384 397 386 394 388" fill="none" stroke="#b9a436" stroke-width="0.6" opacity="0.9"/>
<path d="M380 389 C384 393 392 395 400 393 M402 377 C405 380 406 386 404 390" fill="none" stroke="#b9a436" stroke-width="0.6" opacity="0.9"/>
<g><path d="M397.6 369.6h0M390.3 367.6h0M395.8 368.0h0M385.7 370.4h0M378.4 369.0h0M388.2 370.5h0M383.9 371.0h0M387.8 371.4h0M384.2 367.7h0" stroke="#ce741f" stroke-width="1.00" stroke-linecap="round" fill="none"/><path d="M367.2 373.1h0M369.7 375.4h0M368.4 373.1h0M368.3 379.6h0M367.5 374.1h0M366.2 375.6h0M361.9 378.1h0M366.7 378.6h0M361.8 377.6h0" stroke="#afc789" stroke-width="1.00" stroke-linecap="round" fill="none"/><path d="M378.5 376.6h0M377.5 376.9h0M376.7 379.1h0M374.6 378.9h0M377.6 380.7h0M380.2 376.1h0M375.1 377.7h0M374.4 379.1h0M371.7 377.9h0M373.5 380.9h0M383.5 375.4h0M388.0 377.1h0" stroke="#878787" stroke-width="1.00" stroke-linecap="round" fill="none"/><path d="M393.7 386.2h0M380.0 384.7h0M400.3 380.1h0M380.5 379.5h0M395.0 386.2h0M403.5 381.4h0M398.1 381.6h0M392.9 377.8h0M388.4 376.5h0M393.6 394.3h0M393.6 387.7h0M393.0 387.0h0M389.4 392.3h0M405.0 383.4h0M397.3 393.5h0M400.0 376.6h0M398.3 389.1h0M388.2 378.1h0M388.9 382.7h0M405.2 382.7h0M397.7 383.7h0M386.6 378.0h0M390.2 393.9h0M388.4 389.4h0M383.4 379.4h0M380.9 386.1h0M398.0 380.1h0M388.1 384.6h0M387.3 384.2h0M397.4 377.4h0M397.6 383.2h0M404.1 383.8h0M404.1 386.3h0M389.5 388.1h0M396.7 384.4h0M387.7 386.5h0M404.8 390.6h0M394.8 382.7h0M382.3 379.6h0M403.2 383.2h0M395.2 385.7h0M402.0 390.5h0M401.4 385.5h0M380.1 384.9h0M404.3 389.9h0M387.9 386.6h0M396.7 386.7h0M401.6 377.9h0M388.3 381.7h0M383.9 383.6h0M396.9 381.1h0M390.8 385.0h0M386.4 378.4h0M387.9 390.7h0M382.3 382.2h0M397.9 387.4h0M401.7 380.0h0" stroke="#d5bb41" stroke-width="1.00" stroke-linecap="round" fill="none"/><path d="M407.6 386.9h0M416.7 386.7h0M413.2 382.0h0M409.2 381.1h0M404.5 379.0h0M414.8 380.0h0M408.1 388.1h0M412.1 390.7h0M417.2 387.4h0M417.4 377.9h0M420.2 380.5h0M413.4 376.7h0M406.7 381.1h0M403.7 380.6h0M416.8 388.7h0M412.2 377.4h0M413.3 380.2h0M417.1 379.6h0M407.6 380.8h0M411.8 377.6h0" stroke="#578b33" stroke-width="1.00" stroke-linecap="round" fill="none"/><path d="M356.3 383.9h0M360.8 384.0h0M361.5 386.1h0" stroke="#894f28" stroke-width="1.00" stroke-linecap="round" fill="none"/><path d="M378.9 389.5h0M369.4 386.1h0M379.9 387.5h0M373.4 384.8h0M369.0 387.3h0M374.8 391.5h0M375.0 384.2h0M373.0 390.9h0M370.3 390.6h0M381.0 384.7h0M368.1 389.4h0M379.1 389.9h0M377.6 392.9h0M380.6 390.5h0M380.8 384.5h0M376.0 391.4h0M378.1 386.8h0M371.7 385.2h0M379.3 381.9h0M368.6 386.4h0" stroke="#563589" stroke-width="1.00" stroke-linecap="round" fill="none"/><path d="M386.6 393.1h0M386.2 391.6h0" stroke="#d19191" stroke-width="1.00" stroke-linecap="round" fill="none"/><path d="M412.7 398.9h0M408.4 396.4h0M409.9 399.1h0M419.3 397.9h0M409.7 398.3h0" stroke="#9fb9cd" stroke-width="1.00" stroke-linecap="round" fill="none"/><path d="M392.3 404.6h0M396.1 402.6h0M393.7 400.5h0M386.0 400.2h0M384.8 403.6h0M382.3 397.5h0M386.8 401.7h0M389.4 400.1h0M387.4 402.4h0M391.2 399.7h0M381.5 395.6h0M383.9 404.1h0M386.9 403.9h0M390.4 402.4h0M396.5 398.3h0M381.6 401.5h0M394.7 399.3h0M384.9 402.1h0M386.1 402.4h0M398.9 402.3h0M381.6 398.3h0M380.0 397.9h0M398.4 396.2h0M394.1 402.2h0M388.5 402.8h0M386.0 398.7h0M391.2 397.0h0M392.7 399.8h0M382.9 401.8h0M388.3 396.4h0M382.0 402.8h0M384.1 403.2h0M400.5 397.9h0M382.8 401.1h0M394.6 397.9h0M390.8 402.5h0M389.1 404.0h0M386.5 396.6h0" stroke="#3b669f" stroke-width="1.00" stroke-linecap="round" fill="none"/><path d="M399.3 408.2h0M406.0 406.1h0" stroke="#b4a2c2" stroke-width="1.00" stroke-linecap="round" fill="none"/><path d="M382.3 409.2h0M379.2 409.6h0M379.9 410.3h0M377.9 409.5h0" stroke="#b01d22" stroke-width="1.00" stroke-linecap="round" fill="none"/><path d="M414.2 368.6h0" stroke="#c41b7a" stroke-width="1.00" stroke-linecap="round" fill="none"/><path d="M404.5 371.0h0" stroke="#52afb7" stroke-width="1.00" stroke-linecap="round" fill="none"/></g>
<path d="M369 379.5 Q371.5 378 374.5 380.5 Q372 384 369 382 Z" fill="#fff" opacity="0.9"/>
<g><path d="M308.2 427.6h0M303.8 425.1h0M307.3 429.0h0M306.2 425.2h0M299.8 428.2h0M304.0 428.5h0M296.8 426.2h0M303.7 424.1h0M304.8 428.3h0M298.0 426.2h0M315.1 425.7h0M301.3 429.1h0" stroke="#ce741f" stroke-width="1.10" stroke-linecap="round" fill="none"/><path d="M286.1 429.9h0M284.8 435.0h0M283.3 433.8h0M285.1 435.4h0M287.4 433.2h0M284.2 429.9h0M286.1 432.2h0M284.8 434.5h0M289.4 434.9h0" stroke="#afc789" stroke-width="1.10" stroke-linecap="round" fill="none"/><path d="M305.6 432.7h0M295.1 435.8h0M306.5 432.2h0M306.9 435.7h0M308.0 435.5h0M305.4 434.1h0M310.3 434.8h0M304.5 438.1h0M296.4 439.2h0M294.2 435.7h0M294.6 433.3h0M303.9 435.4h0" stroke="#878787" stroke-width="1.10" stroke-linecap="round" fill="none"/><path d="M303.1 435.5h0M316.0 433.0h0M313.9 452.1h0M317.6 450.1h0M321.1 440.3h0M301.4 442.0h0M315.4 439.6h0M320.4 450.6h0M304.5 446.1h0M311.9 442.1h0M307.6 436.7h0M321.6 448.9h0M320.3 446.0h0M318.2 438.1h0M305.6 447.1h0M303.7 435.8h0M326.2 439.9h0M314.3 441.5h0M304.4 445.5h0M308.2 451.3h0M324.8 438.3h0M311.8 441.3h0M312.1 440.9h0M301.9 440.8h0M318.7 434.7h0M315.9 440.9h0M300.2 442.5h0M319.2 439.8h0M306.3 445.9h0M313.7 436.5h0M304.1 439.9h0M320.3 438.0h0M313.5 449.8h0M301.5 436.0h0M318.8 446.1h0M321.9 435.1h0M312.7 440.2h0M300.5 440.4h0M311.4 439.4h0M315.9 443.4h0M316.1 439.6h0M307.3 435.4h0M312.0 438.6h0M315.9 444.1h0M314.4 447.9h0M301.3 447.8h0M322.1 437.7h0M320.0 437.4h0M308.4 448.8h0M308.3 432.0h0M315.1 434.0h0M322.5 444.6h0" stroke="#d5bb41" stroke-width="1.10" stroke-linecap="round" fill="none"/><path d="M332.1 448.5h0M325.8 442.7h0M336.1 444.4h0M333.9 446.0h0M329.5 438.2h0M328.6 436.7h0M331.6 447.9h0M325.5 439.6h0M336.4 434.2h0M332.2 439.9h0M322.8 436.8h0M331.4 442.3h0M325.8 441.8h0M330.1 438.0h0M326.7 442.4h0M326.0 437.7h0M339.0 440.7h0M326.9 447.0h0M333.9 442.2h0M328.3 446.3h0M338.7 442.6h0M330.7 446.6h0M326.9 445.1h0M328.3 446.7h0M323.5 437.4h0M322.2 441.9h0" stroke="#578b33" stroke-width="1.10" stroke-linecap="round" fill="none"/><path d="M284.3 441.3h0M282.4 441.6h0M279.1 444.9h0M283.3 443.3h0M283.5 441.0h0M281.9 446.3h0M277.9 443.3h0M275.7 445.5h0M276.6 444.2h0M276.5 442.4h0" stroke="#894f28" stroke-width="1.10" stroke-linecap="round" fill="none"/><path d="M301.8 448.4h0M298.3 445.0h0M287.4 441.1h0M291.6 449.1h0M295.0 440.6h0M288.9 444.7h0M304.4 445.2h0M302.7 441.9h0M297.0 443.5h0M287.0 445.6h0M299.1 441.5h0M290.9 440.4h0M300.9 446.6h0M292.1 448.8h0M289.2 442.3h0M299.4 443.6h0M292.4 446.5h0M291.4 442.0h0M289.3 442.6h0M297.8 443.7h0" stroke="#563589" stroke-width="1.10" stroke-linecap="round" fill="none"/><path d="M308.0 451.2h0M308.0 449.6h0M307.7 449.5h0M295.0 448.3h0M301.7 447.3h0M309.9 448.4h0M298.0 449.3h0M299.0 446.2h0" stroke="#d19191" stroke-width="1.10" stroke-linecap="round" fill="none"/><path d="M326.2 454.5h0M335.3 453.9h0M330.3 454.0h0M331.8 455.6h0M335.8 454.2h0M339.1 454.2h0M332.1 454.8h0M338.2 453.0h0M336.0 455.5h0M334.5 456.1h0" stroke="#9fb9cd" stroke-width="1.10" stroke-linecap="round" fill="none"/><path d="M311.4 456.5h0M298.4 458.5h0M318.5 453.1h0M314.4 455.1h0M297.2 455.0h0M309.0 458.0h0M312.3 460.4h0M319.5 455.8h0M311.8 458.6h0M303.4 460.1h0M312.4 461.0h0M301.9 459.6h0M297.2 457.4h0M311.2 460.2h0M298.5 459.7h0M309.8 458.8h0M316.4 454.1h0M311.9 460.5h0M314.8 452.0h0M297.2 456.7h0M299.6 455.2h0M310.0 456.3h0M311.7 461.0h0M296.1 457.5h0" stroke="#3b669f" stroke-width="1.10" stroke-linecap="round" fill="none"/><path d="M320.6 461.6h0M315.9 461.9h0M322.7 462.4h0M318.8 465.6h0M323.0 463.3h0M323.3 461.6h0M323.4 461.6h0M319.6 464.0h0" stroke="#b4a2c2" stroke-width="1.10" stroke-linecap="round" fill="none"/><path d="M301.1 464.8h0M296.8 468.3h0M300.3 465.2h0M297.8 466.7h0" stroke="#b01d22" stroke-width="1.10" stroke-linecap="round" fill="none"/><path d="M333.0 426.3h0" stroke="#c41b7a" stroke-width="1.10" stroke-linecap="round" fill="none"/><path d="M325.3 427.0h0" stroke="#52afb7" stroke-width="1.10" stroke-linecap="round" fill="none"/></g>
<g fill="#ffffff" opacity="0.60" stroke="#000" stroke-width="1.00"><ellipse cx="303.3" cy="428.6" rx="16.0" ry="5.2" transform="rotate(4 303.3 428.6)"/><ellipse cx="282.2" cy="436.0" rx="6.2" ry="3.2" transform="rotate(0 282.2 436.0)"/><ellipse cx="280.5" cy="445.8" rx="8.2" ry="5.8" transform="rotate(8 280.5 445.8)"/><ellipse cx="297.0" cy="455.0" rx="15.5" ry="6.0" transform="rotate(38 297.0 455.0)"/><ellipse cx="337.0" cy="443.0" rx="6.5" ry="8.0" transform="rotate(0 337.0 443.0)"/></g>
<path d="M297 433 L311 431 L322 440 L335 441 L333 452 L320 456 L310 449 L299 446 Z M300 436 L310 434 L314 443 L303 444 Z" fill="none" stroke="#111" stroke-width="0.9"/>
<path d="M312 441 L324 443 L331 447 L326 453 L316 452 Z" fill="none" stroke="#222" stroke-width="0.6"/>
<path d="M300.5 437 L309 435.5 L312.5 442 L304 443 Z M314 443.5 L323 445 L328 448 L324 451.5 L317 450.5 Z" fill="none" stroke="#c9b23c" stroke-width="0.9"/>
<g fill="none" opacity="1.00" stroke="#000" stroke-width="0.90"><ellipse cx="303.3" cy="428.6" rx="12.5" ry="3.4" transform="rotate(4 303.3 428.6)"/><ellipse cx="282.2" cy="436.0" rx="4.0" ry="1.8" transform="rotate(0 282.2 436.0)"/><ellipse cx="280.5" cy="445.8" rx="6.0" ry="4.0" transform="rotate(8 280.5 445.8)"/><ellipse cx="297.0" cy="455.0" rx="12.0" ry="4.0" transform="rotate(38 297.0 455.0)"/><ellipse cx="337.0" cy="443.0" rx="4.5" ry="6.0" transform="rotate(0 337.0 443.0)"/></g>
<g fill="#161616" opacity="0.88"><ellipse cx="303.3" cy="428.6" rx="9.5" ry="2.2" transform="rotate(4 303.3 428.6)"/><ellipse cx="280.5" cy="445.8" rx="4.5" ry="2.8" transform="rotate(8 280.5 445.8)"/><ellipse cx="337.0" cy="443.0" rx="3.2" ry="4.5" transform="rotate(0 337.0 443.0)"/><ellipse cx="282.2" cy="436.0" rx="2.0" ry="0.9" transform="rotate(0 282.2 436.0)"/></g>
<g fill="#3a3a3a" opacity="0.60"><ellipse cx="297.0" cy="455.0" rx="9.0" ry="2.5" transform="rotate(38 297.0 455.0)"/></g>
<g><path d="M302.4 426.3h0M312.6 427.8h0M306.9 427.4h0M303.5 425.2h0M310.9 424.5h0M310.5 428.8h0M302.7 425.6h0M307.1 425.3h0M304.6 425.6h0M309.5 423.9h0" stroke="#ce741f" stroke-width="1.10" stroke-linecap="round" fill="none"/><path d="M289.8 434.5h0M285.2 435.3h0M287.0 431.0h0M288.6 434.5h0M286.6 429.7h0" stroke="#afc789" stroke-width="1.10" stroke-linecap="round" fill="none"/><path d="M298.5 437.4h0M303.8 437.0h0M307.0 437.8h0M298.3 436.9h0M303.8 437.3h0M302.3 433.5h0M297.4 435.9h0" stroke="#878787" stroke-width="1.10" stroke-linecap="round" fill="none"/><path d="M318.1 436.9h0M304.9 442.7h0M322.4 441.0h0M321.1 433.6h0M309.1 441.4h0M303.9 440.2h0M313.8 439.9h0M319.9 439.9h0M321.9 445.5h0M319.2 441.5h0M306.8 436.8h0M323.4 434.6h0M316.0 438.8h0M323.7 434.9h0M301.9 442.1h0M310.2 439.7h0M321.8 437.2h0M318.6 447.5h0M299.9 441.3h0M319.5 443.9h0M322.9 447.6h0M325.5 441.7h0M304.0 436.9h0M305.6 437.2h0M313.8 435.9h0M309.7 441.8h0M321.6 450.2h0M308.5 433.8h0M327.1 444.9h0M302.5 437.8h0M302.5 444.8h0M301.8 443.5h0M300.9 445.1h0M311.0 434.9h0M325.7 445.6h0M316.7 436.7h0M312.0 434.5h0" stroke="#d5bb41" stroke-width="1.10" stroke-linecap="round" fill="none"/><path d="M334.2 436.8h0M324.4 436.2h0M326.1 434.0h0M339.6 436.9h0M340.6 437.8h0M336.6 444.5h0M336.3 437.9h0M337.6 441.4h0M332.0 439.4h0M338.2 447.5h0M338.1 440.5h0M339.0 441.4h0M331.0 438.7h0M327.5 440.9h0M338.3 441.0h0" stroke="#578b33" stroke-width="1.10" stroke-linecap="round" fill="none"/><path d="M278.7 444.3h0M284.4 443.6h0M281.1 439.5h0M279.7 442.1h0M282.2 440.0h0M283.0 446.3h0" stroke="#894f28" stroke-width="1.10" stroke-linecap="round" fill="none"/><path d="M292.9 442.8h0M288.8 441.1h0M302.6 447.2h0M300.1 445.3h0M286.6 441.9h0M290.3 439.4h0M298.6 448.5h0M289.5 448.0h0M295.5 445.8h0M293.5 444.5h0M290.0 447.5h0M293.8 443.5h0" stroke="#563589" stroke-width="1.10" stroke-linecap="round" fill="none"/><path d="M307.2 450.0h0M296.0 451.3h0M306.9 447.1h0M297.4 447.9h0" stroke="#d19191" stroke-width="1.10" stroke-linecap="round" fill="none"/><path d="M330.4 453.4h0M335.2 452.2h0M332.7 456.1h0M336.2 456.8h0M336.6 451.5h0M327.7 455.7h0" stroke="#9fb9cd" stroke-width="1.10" stroke-linecap="round" fill="none"/><path d="M317.2 455.7h0M304.6 451.6h0M314.1 460.0h0M305.7 461.8h0M315.7 459.6h0M315.6 457.7h0M302.9 456.1h0M306.6 453.6h0M318.8 458.0h0M310.0 457.6h0M306.7 451.3h0M320.3 457.9h0M299.2 460.4h0M304.2 457.5h0M310.2 458.0h0M304.5 461.7h0M311.4 457.8h0M311.9 458.7h0M303.1 461.1h0M305.5 454.1h0M312.9 454.2h0" stroke="#3b669f" stroke-width="1.10" stroke-linecap="round" fill="none"/><path d="M318.8 463.2h0M323.3 465.3h0M315.8 464.7h0M318.3 463.5h0" stroke="#b4a2c2" stroke-width="1.10" stroke-linecap="round" fill="none"/><path d="M302.9 467.1h0M299.6 465.9h0" stroke="#b01d22" stroke-width="1.10" stroke-linecap="round" fill="none"/></g>
<g fill="#c92127"><circle cx="300" cy="467.8" r="1.5"/></g>
<g fill="#0c0c0c" opacity="1.00"><ellipse cx="375.0" cy="430.8" rx="5.6" ry="4.6" transform="rotate(0 375.0 430.8)"/></g>
<path d="M373 434 C376 441 380 439 384 442 C388 446 392 445 390 440 C386 436 380 436 376 433" fill="none" stroke="#222" stroke-width="0.8"/>
<path d="M375 435 C377 439 381 438 384 440.5 C387 443 390 442.5 388.5 440 C385.5 437.5 380 437 377 434.5" fill="none" stroke="#c9b23c" stroke-width="0.8"/>
<g fill="none" opacity="1.00" stroke="#c9b23c" stroke-width="0.80"><ellipse cx="395.7" cy="449.5" rx="4.5" ry="2.8" transform="rotate(0 395.7 449.5)"/></g>
<g fill="none" opacity="1.00" stroke="#222" stroke-width="0.70"><ellipse cx="395.7" cy="449.5" rx="7.8" ry="5.5" transform="rotate(0 395.7 449.5)"/><ellipse cx="395.7" cy="449.5" rx="5.5" ry="3.6" transform="rotate(0 395.7 449.5)"/><ellipse cx="395.7" cy="449.5" rx="3.5" ry="2.0" transform="rotate(0 395.7 449.5)"/></g>
<g><path d="M393.9 425.5h0M391.1 423.1h0M388.0 425.4h0M384.1 424.2h0" stroke="#ce741f" stroke-width="1.40" stroke-linecap="round" fill="none"/><path d="M363.8 437.4h0M368.2 430.1h0M365.3 436.8h0" stroke="#afc789" stroke-width="1.40" stroke-linecap="round" fill="none"/><path d="M387.4 435.7h0M378.9 438.6h0M384.9 436.9h0M380.1 436.9h0" stroke="#878787" stroke-width="1.40" stroke-linecap="round" fill="none"/><path d="M385.4 438.9h0M397.2 443.0h0M393.7 442.1h0M393.2 438.0h0M405.9 442.3h0M391.6 442.9h0M406.0 441.8h0M394.7 432.7h0M400.8 435.5h0M383.8 445.5h0M391.4 436.0h0M395.5 449.3h0M394.5 443.2h0M402.4 448.4h0M389.1 434.5h0M380.2 441.8h0M382.2 443.8h0M390.5 450.6h0M399.3 434.3h0M396.2 446.4h0M388.8 436.0h0M386.1 450.2h0M393.9 447.8h0M386.3 445.4h0M402.6 450.6h0M383.7 438.2h0M406.2 440.0h0" stroke="#d5bb41" stroke-width="1.40" stroke-linecap="round" fill="none"/><path d="M416.1 448.4h0M405.7 439.0h0M413.1 436.3h0M401.4 441.5h0M420.8 438.8h0M408.5 444.7h0M411.9 440.4h0M419.3 435.2h0M406.4 441.8h0" stroke="#578b33" stroke-width="1.40" stroke-linecap="round" fill="none"/><path d="M363.9 441.9h0M356.2 443.3h0M354.9 444.0h0" stroke="#894f28" stroke-width="1.40" stroke-linecap="round" fill="none"/><path d="M375.7 445.1h0M369.5 439.9h0M365.2 443.6h0M370.5 448.1h0M369.5 444.5h0M367.0 444.9h0M368.2 443.5h0" stroke="#563589" stroke-width="1.40" stroke-linecap="round" fill="none"/><path d="M388.3 449.2h0M378.7 450.1h0" stroke="#d19191" stroke-width="1.40" stroke-linecap="round" fill="none"/><path d="M407.6 454.6h0M413.8 452.4h0M411.2 451.7h0" stroke="#9fb9cd" stroke-width="1.40" stroke-linecap="round" fill="none"/><path d="M387.5 451.6h0M394.4 453.9h0M395.0 458.6h0M390.1 457.6h0M391.6 454.8h0M379.9 457.4h0M384.8 454.9h0M379.3 458.7h0M383.0 454.4h0M391.0 453.6h0M395.7 457.5h0M395.2 457.8h0M389.1 456.6h0M387.1 452.1h0M384.4 453.9h0M400.1 458.5h0" stroke="#3b669f" stroke-width="1.40" stroke-linecap="round" fill="none"/><path d="M396.2 464.5h0M403.1 464.1h0" stroke="#b4a2c2" stroke-width="1.40" stroke-linecap="round" fill="none"/><path d="M378.8 464.7h0" stroke="#b01d22" stroke-width="1.40" stroke-linecap="round" fill="none"/></g>
<circle cx="379" cy="467.7" r="1.8" fill="#c92127" stroke="#111" stroke-width="0.5"/><circle cx="375" cy="430" r="0.9" fill="#eb8424"/>
<g stroke="#000" stroke-width="2.5" fill="none"><path d="M267.1 474.3V427"/><path d="M265.9 473.1H315"/></g>
<path d="M262.8 427.2L267.1 419L271.4 427.2Z M313.1 468.8L321.1 473.1L313.1 477.4Z" fill="#000"/>
<g font-size="11.5" fill="#000"><text transform="translate(263.2 455.5) rotate(-90)" text-anchor="middle">UMAP2</text><text x="265.3" y="486.1">UMAP1</text></g>
<g font-size="8.5" text-anchor="middle" fill="#000"><text transform="translate(427.3 390.8) rotate(90)">Lung</text><text transform="translate(427.3 448.7) rotate(90)">NT</text></g>
<text x="-2.1" y="526.2" font-size="26.6" fill="#000">E</text>
<g><rect x="32.4" y="521.3" width="28.1" height="72.1" fill="#f1f1f1"/><rect x="63.3" y="521.3" width="33.6" height="72.1" fill="#d9bfc1"/><rect x="117.1" y="521.4" width="28.9" height="69.4" fill="#f1f1f1"/><rect x="148.8" y="521.4" width="33.7" height="69.4" fill="#d9bfc1"/><rect x="202.5" y="521.4" width="24.2" height="66.1" fill="#f1f1f1"/><rect x="230.4" y="521.4" width="37.5" height="66.1" fill="#d9bfc1"/><rect x="284.2" y="521.3" width="27.3" height="60.7" fill="#f1f1f1"/><rect x="315.6" y="521.3" width="36.9" height="60.7" fill="#d9bfc1"/><rect x="370.6" y="521.3" width="23.6" height="63.7" fill="#f1f1f1"/><rect x="397.7" y="521.3" width="32.1" height="63.7" fill="#d9bfc1"/><rect x="454.0" y="521.3" width="28.5" height="68.1" fill="#f1f1f1"/><rect x="485.4" y="521.3" width="36.6" height="68.1" fill="#d9bfc1"/><rect x="31.8" y="624.8" width="24.5" height="67.0" fill="#f1f1f1"/><rect x="60.8" y="624.8" width="36.2" height="67.0" fill="#d9bfc1"/><rect x="117.5" y="624.8" width="31.9" height="69.0" fill="#f1f1f1"/><rect x="153.3" y="624.8" width="29.6" height="69.0" fill="#d9bfc1"/><rect x="202.5" y="624.8" width="26.0" height="69.0" fill="#f1f1f1"/><rect x="232.3" y="624.8" width="35.6" height="69.0" fill="#d9bfc1"/><rect x="287.5" y="624.8" width="29.0" height="67.7" fill="#f1f1f1"/><rect x="320.4" y="624.8" width="32.5" height="67.7" fill="#d9bfc1"/><rect x="367.7" y="624.8" width="32.7" height="55.8" fill="#f1f1f1"/><rect x="405.8" y="624.8" width="30.4" height="55.8" fill="#d9bfc1"/><rect x="459.4" y="624.8" width="25.4" height="64.2" fill="#f1f1f1"/><rect x="488.7" y="624.8" width="33.3" height="64.2" fill="#d9bfc1"/></g>
<path d="M36.0 595.2H92.0M125.0 595.0H175.0M210.0 594.8H255.0M292.0 594.6H343.0M379.0 594.6H410.0M466.0 595.2H514.0M40.0 698.3H86.0M125.0 698.3H174.0M211.0 698.7H259.0M295.0 698.7H344.0M379.0 698.7H427.0M467.0 698.7H512.0" stroke="#c2c2c2" stroke-width="1.7" fill="none"/>
<path d="M80.5 594.4h0M80.3 594.6h0M52.5 594.6h0M79.9 594.6h0M76.6 594.6h0M49.1 594.0h0M62.3 594.2h0M76.8 594.3h0M63.3 593.8h0M50.3 594.4h0M52.2 593.9h0M74.0 594.1h0M81.1 594.5h0M61.3 594.4h0M68.8 594.6h0M65.7 594.4h0M57.4 594.5h0M69.8 594.6h0M61.0 594.6h0M51.3 594.3h0M75.9 594.5h0M70.3 593.9h0M53.0 594.6h0M63.6 594.0h0M67.6 594.0h0M75.4 594.2h0M74.0 594.0h0M61.8 594.0h0M137.6 592.7h0M142.2 593.6h0M160.2 592.4h0M141.6 592.7h0M161.4 591.9h0M137.3 592.7h0M161.7 592.8h0M155.5 593.6h0M135.9 594.1h0M165.3 592.0h0M139.4 593.6h0M164.1 592.5h0M156.4 593.7h0M149.9 594.2h0M161.7 592.6h0M164.4 592.1h0M143.4 594.0h0M160.5 593.8h0M137.8 592.4h0M135.7 591.8h0M166.1 592.6h0M157.1 593.5h0M133.2 593.0h0M160.9 592.5h0M145.9 592.6h0M240.8 591.8h0M219.6 593.8h0M234.3 592.1h0M238.7 589.4h0M218.9 590.6h0M220.2 589.3h0M226.2 590.4h0M244.9 592.3h0M241.4 592.3h0M236.7 592.4h0M239.5 593.9h0M237.8 591.7h0M241.8 591.3h0M232.2 591.8h0M246.9 591.2h0M238.7 590.8h0M232.0 592.5h0M232.0 594.0h0M223.0 593.3h0M230.4 591.6h0M228.6 590.5h0M221.1 589.2h0M323.8 585.0h0M311.3 590.0h0M327.9 590.2h0M333.8 591.8h0M334.9 587.2h0M303.7 593.9h0M312.4 591.9h0M326.3 589.8h0M328.0 589.0h0M335.3 590.3h0M332.2 593.1h0M318.7 587.3h0M321.5 587.3h0M317.3 589.9h0M326.0 593.7h0M323.2 586.3h0M315.6 592.0h0M300.1 593.4h0M310.9 594.0h0M314.7 592.3h0M327.4 590.5h0M312.6 590.1h0M332.9 594.0h0M300.5 585.9h0M308.7 593.6h0M322.0 588.5h0M326.0 587.0h0M328.0 589.0h0M326.0 593.0h0M385.8 591.5h0M395.3 588.2h0M393.9 593.2h0M391.9 594.0h0M401.4 588.4h0M400.9 592.0h0M393.9 591.7h0M398.6 592.4h0M383.8 592.8h0M392.5 587.9h0M391.5 592.9h0M404.1 591.0h0M391.7 594.0h0M390.7 592.8h0M390.6 591.3h0M504.4 593.1h0M482.6 594.3h0M489.7 593.3h0M485.1 593.0h0M491.1 591.1h0M503.8 593.5h0M473.6 591.3h0M475.2 590.8h0M505.5 594.5h0M504.2 594.3h0M482.8 592.8h0M480.8 591.7h0M491.5 593.4h0M496.6 590.9h0M498.0 590.8h0M503.3 592.4h0M502.3 594.4h0M477.9 592.2h0M490.9 592.4h0M480.8 591.0h0M487.8 594.2h0M486.1 594.7h0M483.6 594.0h0M489.9 593.5h0M56.8 696.6h0M73.1 695.1h0M72.0 695.6h0M77.0 693.8h0M64.5 693.4h0M56.1 696.8h0M76.0 693.3h0M72.4 694.4h0M48.3 696.6h0M71.8 697.8h0M56.8 696.7h0M77.0 696.8h0M50.1 696.3h0M76.6 695.0h0M74.9 694.2h0M74.8 693.1h0M67.4 697.5h0M50.0 693.6h0M64.6 693.1h0M66.9 693.1h0M59.9 693.6h0M74.6 693.6h0M60.5 696.5h0M70.0 694.0h0M78.0 694.5h0M137.4 695.9h0M141.9 696.8h0M159.5 695.5h0M141.3 695.8h0M160.7 695.0h0M137.0 695.9h0M160.9 696.0h0M154.9 696.8h0M135.7 697.3h0M164.5 695.1h0M139.1 696.8h0M163.3 695.6h0M155.8 697.0h0M149.4 697.5h0M160.9 695.7h0M163.6 695.3h0M143.0 697.2h0M159.8 697.1h0M137.5 695.5h0M135.5 694.9h0M165.3 695.7h0M156.5 696.7h0M133.0 696.1h0M160.2 695.7h0M222.0 696.5h0M238.6 697.6h0M224.0 696.1h0M222.0 696.4h0M222.2 696.8h0M219.2 696.1h0M235.2 695.4h0M237.4 696.2h0M242.7 696.3h0M236.9 695.0h0M220.3 696.2h0M237.3 696.3h0M240.0 696.6h0M238.0 695.2h0M242.9 696.9h0M218.5 697.0h0M241.0 697.2h0M245.6 697.6h0M244.4 697.1h0M246.6 698.1h0M247.7 696.2h0M220.9 697.4h0M225.7 696.8h0M233.0 695.8h0M334.7 693.8h0M335.8 697.2h0M327.0 694.8h0M333.3 693.8h0M324.9 696.4h0M304.0 695.5h0M303.7 696.1h0M309.2 694.9h0M329.6 696.9h0M305.7 697.1h0M321.6 696.7h0M324.4 697.1h0M317.1 698.2h0M335.3 697.0h0M311.0 695.8h0M336.3 696.6h0M335.5 694.0h0M312.2 696.1h0M309.3 696.0h0M317.2 695.2h0M327.2 694.8h0M312.7 695.5h0M312.9 695.0h0M322.4 696.3h0M389.6 693.1h0M404.3 686.7h0M402.1 696.5h0M399.0 698.1h0M413.7 687.0h0M412.9 694.1h0M402.0 693.5h0M409.4 694.9h0M386.4 695.6h0M399.9 686.2h0M398.3 695.8h0M417.8 692.2h0M398.7 697.9h0M397.2 695.6h0M397.0 692.8h0M397.8 692.3h0M401.3 684.9h0M408.5 692.7h0M408.1 695.8h0M418.6 684.3h0M388.4 692.1h0M402.2 691.2h0M412.5 685.6h0M401.6 691.0h0M396.3 696.0h0M377.0 698.7h0M487.3 698.2h0M481.8 697.9h0M501.2 694.4h0M486.4 693.7h0M494.9 693.7h0M494.7 691.2h0M476.3 697.3h0M486.6 697.0h0M489.9 696.1h0M474.5 696.9h0M497.7 697.6h0M488.8 696.3h0M494.7 693.5h0M504.6 696.9h0M477.1 697.9h0M485.4 693.1h0M487.4 696.4h0M491.6 693.8h0M491.3 691.6h0M481.8 691.1h0M494.7 696.9h0M498.1 696.5h0M494.0 693.0h0M494.0 697.0h0" stroke="#c4c4c4" stroke-width="1.2" stroke-linecap="round" fill="none"/>
<path d="M60.5 521.3V598.6M63.3 521.3V598.6M32.4 593.4H96.9M146.0 521.4V598.6M148.8 521.4V598.6M117.1 590.8H182.5M226.7 521.4V598.6M230.4 521.4V598.6M202.5 587.5H267.9M311.5 521.3V598.6M315.6 521.3V598.6M284.2 582.0H352.5M394.2 521.3V598.6M397.7 521.3V598.6M370.6 585.0H429.8M482.5 521.3V598.6M485.4 521.3V598.6M454.0 589.4H522.0M56.3 624.8V701.3M60.8 624.8V701.3M31.8 691.8H97.0M149.4 624.8V701.3M153.3 624.8V701.3M117.5 693.8H182.9M228.5 624.8V701.3M232.3 624.8V701.3M202.5 693.8H267.9M316.5 624.8V701.3M320.4 624.8V701.3M287.5 692.5H352.9M400.4 624.8V701.3M405.8 624.8V701.3M367.7 680.6H436.2M484.8 624.8V701.3M488.7 624.8V701.3M459.4 689.0H522.0" stroke="#333" stroke-width="0.55" stroke-dasharray="1.6 1.2" fill="none"/>
<path d="M58.9 569.7h0M58.5 562.5h0M58.6 592.9h0M60.2 562.8h0M60.9 579.2h0M61.1 574.2h0M60.1 577.6h0M60.4 581.6h0M60.3 567.6h0M58.5 585.4h0M59.1 558.3h0M60.9 563.8h0M59.2 586.8h0M60.9 583.6h0M58.4 584.7h0M59.5 588.6h0M59.8 582.5h0M59.9 583.7h0M59.5 584.6h0M58.1 579.5h0M59.1 560.4h0M58.4 581.0h0M56.0 590.7h0M55.6 591.3h0M58.7 589.2h0M58.1 590.8h0M58.9 592.2h0M58.9 589.6h0M58.2 591.9h0M55.2 591.7h0M144.5 561.0h0M144.8 575.5h0M145.4 579.6h0M145.2 589.9h0M146.4 583.7h0M146.0 572.6h0M144.7 576.3h0M145.3 576.3h0M146.4 586.9h0M142.9 560.5h0M143.4 588.6h0M145.8 568.6h0M141.6 578.6h0M141.7 577.2h0M144.0 575.9h0M142.4 586.3h0M145.6 564.1h0M141.7 580.3h0M137.3 583.8h0M140.0 587.9h0M141.0 587.9h0M136.2 583.1h0M138.5 586.1h0M141.1 587.7h0M140.7 584.9h0M140.8 584.4h0M224.9 576.9h0M226.4 562.0h0M228.4 578.8h0M224.6 567.7h0M228.3 580.1h0M226.9 569.1h0M225.5 564.4h0M226.0 563.3h0M226.0 573.9h0M228.5 577.3h0M218.3 581.3h0M217.5 583.2h0M220.8 583.5h0M223.8 584.4h0M222.4 584.4h0M482.9 560.7h0M480.4 573.1h0M480.9 573.0h0M481.1 566.9h0M480.9 579.8h0M482.9 551.5h0M482.0 580.4h0M479.9 557.8h0M482.0 561.9h0M480.3 585.9h0M476.5 588.6h0M478.5 584.4h0M478.6 588.4h0M477.5 584.3h0M481.9 586.0h0M477.1 587.9h0M479.3 583.5h0M145.7 687.3h0M146.0 686.1h0M144.0 682.7h0M142.6 684.3h0M142.5 681.8h0M145.5 688.8h0M141.7 682.2h0M142.1 689.4h0M141.5 678.5h0M145.7 678.4h0M145.2 687.0h0M141.6 682.9h0M148.3 686.6h0M141.9 686.2h0M142.8 678.8h0M148.6 682.9h0M147.0 668.2h0M146.4 670.5h0M146.8 669.0h0M146.2 673.7h0M145.6 669.0h0M148.0 670.0h0" stroke="#2a2aa6" stroke-width="1.9" stroke-linecap="round" fill="none"/>
<path d="M60.5 556.0h0M59.5 560.0h0M60.0 565.0h0M68.0 566.3h0M60.5 570.0h0M60.3 575.0h0M60.0 580.0h0M61.0 585.0h0M58.0 590.0h0M55.0 592.5h0M77.1 592.7h0M80.5 590.7h0M64.0 588.0h0M66.0 586.0h0M68.0 590.0h0M70.0 588.0h0M72.0 591.0h0M63.0 592.0h0M66.0 592.5h0M69.0 589.0h0M65.0 584.0h0M67.0 582.5h0M73.0 587.0h0M62.5 578.0h0M75.0 592.0h0M71.0 583.0h0M63.0 591.9h0M72.4 582.7h0M71.5 584.8h0M67.0 585.4h0M69.4 583.5h0M64.9 583.2h0M73.9 588.6h0M68.4 586.1h0M73.9 589.0h0M72.3 587.3h0M63.4 588.4h0M71.7 591.6h0M64.1 588.4h0M69.1 586.6h0M66.5 587.8h0M68.8 584.7h0M73.6 582.4h0M67.6 589.7h0M63.5 584.3h0M66.6 582.8h0M67.1 590.1h0M66.5 590.4h0M74.5 591.6h0M74.3 586.5h0M70.8 582.6h0M67.7 588.1h0M65.1 586.8h0M64.1 590.3h0M74.4 584.4h0M63.7 582.6h0M72.7 587.1h0M70.9 584.3h0M71.4 588.0h0M65.4 589.5h0M63.2 582.7h0M72.0 588.1h0M67.8 585.9h0M73.9 585.3h0M69.5 589.5h0M72.1 585.8h0M68.7 589.5h0M65.2 590.5h0M64.3 588.9h0M73.6 591.5h0M74.6 591.5h0M68.9 583.9h0M67.6 578.5h0M63.7 580.1h0M65.3 583.8h0M68.6 579.5h0M68.1 582.7h0M68.2 583.1h0M65.0 581.8h0M68.1 582.0h0M63.5 579.2h0M65.9 584.4h0M63.8 582.5h0M162.0 541.0h0M144.5 552.0h0M160.0 561.5h0M160.0 568.0h0M143.0 567.3h0M144.5 573.0h0M145.0 577.0h0M163.0 581.0h0M163.5 585.5h0M175.0 587.5h0M137.5 584.0h0M152.0 585.0h0M150.0 588.0h0M154.0 587.0h0M156.0 589.0h0M153.0 582.0h0M148.0 586.0h0M151.0 590.0h0M157.0 584.5h0M142.0 589.0h0M146.0 591.0h0M158.0 590.0h0M151.8 586.3h0M158.7 585.0h0M159.2 589.2h0M154.0 586.5h0M155.2 581.7h0M159.4 587.6h0M159.2 590.4h0M155.0 590.0h0M148.1 582.2h0M158.9 582.3h0M155.9 590.1h0M161.1 584.4h0M148.3 587.7h0M159.0 584.2h0M150.7 584.0h0M158.2 588.4h0M154.4 589.7h0M160.9 589.2h0M152.4 590.1h0M155.7 584.6h0M156.7 584.6h0M159.0 588.6h0M161.4 583.5h0M160.9 586.4h0M151.9 584.9h0M149.6 588.1h0M149.8 581.6h0M148.1 588.4h0M153.8 582.7h0M151.4 586.1h0M151.2 585.2h0M162.0 590.5h0M153.6 584.2h0M155.0 583.1h0M158.9 584.8h0M149.7 584.5h0M149.1 588.0h0M159.5 584.7h0M159.8 586.1h0M161.1 589.9h0M152.6 579.6h0M149.4 577.5h0M152.5 578.5h0M150.6 576.7h0M148.8 576.8h0M151.7 582.8h0M155.7 576.3h0M151.6 582.9h0M152.6 578.4h0M153.9 581.5h0M245.0 560.6h0M246.0 567.7h0M256.0 570.0h0M237.0 571.5h0M225.8 568.0h0M226.0 578.0h0M248.3 581.8h0M250.0 581.8h0M241.5 584.6h0M213.0 582.5h0M232.0 586.0h0M234.0 583.0h0M236.0 585.0h0M238.0 587.0h0M240.0 586.0h0M233.0 580.0h0M235.0 588.0h0M241.9 577.6h0M235.3 581.4h0M235.2 586.3h0M241.1 584.6h0M242.7 581.2h0M232.5 585.5h0M237.4 580.3h0M233.5 585.5h0M240.6 581.1h0M238.6 582.2h0M237.8 581.1h0M235.8 581.4h0M232.3 586.1h0M239.5 582.3h0M239.7 577.7h0M244.3 579.4h0M243.4 583.4h0M239.5 579.6h0M240.7 584.5h0M233.4 580.6h0M244.1 580.1h0M244.4 578.7h0M232.8 581.6h0M236.0 583.5h0M244.2 580.4h0M242.7 584.1h0M232.8 578.0h0M234.6 579.3h0M241.4 584.8h0M238.6 580.9h0M316.0 577.0h0M330.0 573.0h0M341.0 578.5h0M343.0 578.5h0M345.0 578.7h0M482.5 551.5h0M482.5 557.3h0M481.5 569.6h0M480.5 575.3h0M488.2 578.8h0M494.0 582.3h0M478.7 588.5h0M486.4 585.6h0M483.0 582.0h0M485.0 586.0h0M489.0 587.0h0M491.0 588.0h0M493.2 588.7h0M488.0 582.3h0M488.5 584.4h0M491.5 581.7h0M486.1 585.7h0M491.2 583.3h0M490.2 585.9h0M490.4 588.8h0M493.6 582.0h0M488.1 582.1h0M485.3 586.1h0M493.8 584.0h0M486.0 588.4h0M484.5 581.4h0M490.3 585.4h0M484.7 588.5h0M490.1 587.8h0M487.1 588.6h0M484.4 581.9h0M492.4 584.8h0M485.2 588.5h0M486.0 581.7h0M86.2 654.5h0M76.0 687.3h0M78.0 686.8h0M80.0 686.5h0M82.0 686.2h0M84.0 686.0h0M86.0 685.8h0M76.3 687.3h0M76.1 686.3h0M84.1 687.1h0M78.3 686.6h0M76.1 686.6h0M80.8 687.3h0M82.3 686.2h0M84.5 686.0h0M79.3 687.3h0M81.4 686.9h0M82.6 686.6h0M80.4 686.8h0M76.4 686.0h0M81.7 686.4h0M148.5 645.4h0M145.9 666.5h0M154.6 665.0h0M146.5 673.3h0M147.0 681.0h0M137.3 682.0h0M143.0 686.7h0M153.0 686.0h0M155.0 684.0h0M157.0 688.0h0M159.0 682.0h0M156.0 690.0h0M160.0 687.0h0M154.0 691.0h0M158.0 692.0h0M152.0 689.0h0M150.0 692.0h0M139.0 684.0h0M143.0 690.0h0M152.3 682.2h0M159.4 691.3h0M159.2 691.3h0M155.3 684.4h0M157.0 682.7h0M157.2 688.6h0M158.4 689.1h0M153.8 685.6h0M158.7 692.7h0M153.8 691.3h0M155.5 685.5h0M152.2 681.7h0M154.5 690.8h0M156.2 682.9h0M153.3 687.2h0M152.8 681.3h0M154.2 692.1h0M152.6 689.0h0M154.3 685.2h0M155.3 688.8h0M158.2 689.9h0M159.6 691.1h0M154.8 685.6h0M159.9 691.7h0M152.9 691.8h0M159.7 689.9h0M155.7 690.0h0M154.3 687.9h0M157.5 684.4h0M158.0 687.4h0M159.7 681.2h0M158.7 688.7h0M154.8 683.0h0M152.6 681.9h0M157.4 688.8h0M154.9 690.0h0M158.3 693.0h0M157.7 686.8h0M156.0 690.0h0M155.1 686.1h0M153.2 690.9h0M156.5 691.2h0M157.2 688.2h0M158.9 687.9h0M153.5 684.2h0M156.9 686.1h0M158.7 686.6h0M152.3 688.5h0M152.8 690.3h0M152.4 684.7h0M158.0 685.8h0M158.9 692.3h0M155.3 689.5h0M153.6 687.9h0M157.0 687.7h0M151.7 679.9h0M151.4 678.5h0M153.3 677.2h0M153.5 680.8h0M153.7 677.4h0M151.0 678.7h0M154.9 680.9h0M156.2 677.5h0M154.4 682.3h0M155.8 680.9h0M232.9 692.5h0M234.0 691.8h0M255.0 645.4h0M314.6 650.8h0M314.6 672.7h0M316.0 682.0h0M320.8 689.0h0M322.5 688.0h0M324.0 687.5h0M321.5 690.0h0M324.2 690.1h0M322.6 688.4h0M323.3 688.8h0M322.0 689.6h0M321.9 686.9h0M321.7 689.3h0M322.9 689.2h0M323.9 687.7h0M321.6 687.2h0M321.9 688.5h0M493.0 665.0h0M484.0 680.4h0M490.6 679.6h0M500.2 683.5h0M482.5 684.8h0M490.6 688.7h0M486.0 684.9h0M488.5 683.0h0M485.9 686.5h0M485.2 684.3h0M488.6 685.2h0M489.2 684.7h0" stroke="#15154f" stroke-width="2.0" stroke-linecap="round" fill="none"/>
<g font-size="5.3" text-anchor="middle" fill="#2a2a2a" stroke="#2a2a2a" stroke-width="0.09"><text x="70.5" y="532.8">Xcl1</text><text x="59.0" y="557.8">Vim</text><text x="60.5" y="562.0">Tagln2</text><text x="58.5" y="566.6">Pkib</text><text x="62.5" y="571.2">Rhom3</text><text x="59.3" y="577.0">Dusp1</text><text x="64.5" y="582.4">Hspa1b</text><text x="61.0" y="585.8">Ly6c2</text><text x="55.8" y="590.0">Cst3</text><text x="69.0" y="588.0">Ccl5</text><text x="172.0" y="541.6">Tk1</text><text x="141.2" y="553.8">Zfp862</text><text x="160.4" y="563.3">Nsgn</text><text x="158.5" y="568.1">Rgs9</text><text x="143.0" y="569.1">Dusp1</text><text x="139.2" y="574.5">Tsc22d3</text><text x="140.8" y="578.3">Btg1</text><text x="162.3" y="577.8">Penk</text><text x="138.3" y="585.8">Id2</text><text x="171.0" y="585.5">Sgp1</text><text x="140.2" y="591.2">BAG3</text><text x="151.0" y="582.6">Gzma</text><text x="240.6" y="553.8">Tk1</text><text x="237.7" y="562.4">Xcl1</text><text x="240.6" y="568.8">Batf3</text><text x="224.2" y="566.8">Dusp1</text><text x="223.3" y="573.3">Zfp862</text><text x="237.7" y="578.8">Tmem176a</text><text x="210.8" y="584.8">Trav6-7-dv9</text><text x="237.7" y="582.8">Igfbp4</text><text x="316.0" y="578.8">Rpl29</text><text x="330.4" y="574.8">Cxcl2</text><text x="341.0" y="580.3">Gm26848</text><text x="406.7" y="562.8">Trav5-4</text><text x="418.3" y="567.2">D830030K20Rik</text><text x="405.8" y="583.0">Tmem176b</text><text x="489.2" y="548.0">Xcl1</text><text x="481.2" y="553.3">H2-D1</text><text x="481.2" y="559.1">Nfkbia</text><text x="508.8" y="574.5">Tk1</text><text x="482.5" y="571.4">Jund</text><text x="479.6" y="573.8">Ifit3</text><text x="481.0" y="580.6">Crem</text><text x="481.5" y="584.8">Gzmk</text><text x="495.0" y="588.8">Ly6c1</text><text x="86.0" y="656.3">Ppp1r3b</text><text x="80.0" y="687.3">Cmah</text><text x="90.0" y="687.8">Gm20342</text><text x="64.5" y="691.8">Dnase1l3</text><text x="145.4" y="647.2">Fes</text><text x="147.3" y="666.0">S100a11</text><text x="156.2" y="674.5">Ubash3b</text><text x="159.4" y="680.5">Pmepa1</text><text x="140.8" y="681.8">Id2</text><text x="141.2" y="689.5">S1pr1</text><text x="156.2" y="689.1">Dgat1</text><text x="255.0" y="647.2">Tras6-1</text><text x="245.0" y="689.8">Gzmk</text><text x="235.8" y="693.8">Xcl1</text><text x="258.5" y="693.8">Clerk</text><text x="314.0" y="652.6">Nfkbia</text><text x="314.0" y="674.5">Dusp1</text><text x="315.4" y="683.8">S100a10</text><text x="323.7" y="690.8">Tgm5a</text><text x="309.6" y="694.3">Cxcl2</text><text x="493.0" y="666.8">S100a4</text><text x="494.6" y="679.5">Pmepa1</text><text x="483.0" y="685.6">Jund</text><text x="500.4" y="685.3">Spsb1</text><text x="491.5" y="689.8">Anxa2</text></g>
<g fill="none" stroke="#555" stroke-width="0.6"><rect x="32.4" y="521.3" width="64.5" height="77.3"/><rect x="117.1" y="521.4" width="65.4" height="77.2"/><rect x="202.5" y="521.4" width="65.4" height="77.2"/><rect x="284.2" y="521.3" width="68.3" height="77.3"/><rect x="370.6" y="521.3" width="59.2" height="77.3"/><rect x="454.0" y="521.3" width="68.0" height="77.3"/><rect x="31.8" y="624.8" width="65.2" height="76.5"/><rect x="117.5" y="624.8" width="65.4" height="76.5"/><rect x="202.5" y="624.8" width="65.4" height="76.5"/><rect x="287.5" y="624.8" width="65.4" height="76.5"/><rect x="367.7" y="624.8" width="68.5" height="76.5"/><rect x="459.4" y="624.8" width="62.6" height="76.5"/></g>
<path d="M30.4 545.5H32.4M30.4 570.2H32.4M30.4 595.0H32.4M38.0 598.6V600.6M50.0 598.6V600.6M62.0 598.6V600.6M73.8 598.6V600.6M85.8 598.6V600.6M115.1 522.5H117.1M115.1 536.8H117.1M115.1 551.0H117.1M115.1 565.8H117.1M115.1 580.5H117.1M115.1 594.6H117.1M129.6 598.6V600.6M146.5 598.6V600.6M163.8 598.6V600.6M181.0 598.6V600.6M200.5 540.4H202.5M200.5 567.7H202.5M200.5 594.8H202.5M211.3 598.6V600.6M229.0 598.6V600.6M247.0 598.6V600.6M264.6 598.6V600.6M282.2 537.1H284.2M282.2 556.3H284.2M282.2 575.6H284.2M282.2 594.6H284.2M295.2 598.6V600.6M314.0 598.6V600.6M332.7 598.6V600.6M351.9 598.6V600.6M368.6 523.5H370.6M368.6 541.3H370.6M368.6 559.0H370.6M368.6 577.0H370.6M368.6 594.6H370.6M380.2 598.6V600.6M396.2 598.6V600.6M412.9 598.6V600.6M428.8 598.6V600.6M452.0 529.8H454.0M452.0 551.5H454.0M452.0 573.0H454.0M452.0 595.2H454.0M459.4 598.6V600.6M471.5 598.6V600.6M484.0 598.6V600.6M496.5 598.6V600.6M508.8 598.6V600.6M29.8 647.5H31.8M29.8 672.5H31.8M29.8 698.3H31.8M39.5 701.3V703.3M58.3 701.3V703.3M77.0 701.3V703.3M95.8 701.3V703.3M115.5 631.9H117.5M115.5 648.3H117.5M115.5 665.0H117.5M115.5 681.5H117.5M115.5 698.3H117.5M119.6 701.3V703.3M135.4 701.3V703.3M151.2 701.3V703.3M166.7 701.3V703.3M200.5 633.3H202.5M200.5 649.6H202.5M200.5 666.0H202.5M200.5 682.3H202.5M200.5 698.7H202.5M211.3 701.3V703.3M230.4 701.3V703.3M249.8 701.3V703.3M285.5 632.9H287.5M285.5 654.6H287.5M285.5 676.5H287.5M285.5 698.7H287.5M299.6 701.3V703.3M318.3 701.3V703.3M336.5 701.3V703.3M365.7 630.0H367.7M365.7 644.0H367.7M365.7 657.9H367.7M365.7 671.3H367.7M365.7 684.8H367.7M365.7 698.7H367.7M369.2 701.3V703.3M386.0 701.3V703.3M402.9 701.3V703.3M420.2 701.3V703.3M457.4 624.8H459.4M457.4 643.5H459.4M457.4 661.7H459.4M457.4 680.0H459.4M457.4 698.7H459.4M470.0 701.3V703.3M486.7 701.3V703.3M503.0 701.3V703.3" stroke="#555" stroke-width="0.6"/>
<g font-size="7.2" text-anchor="end" fill="#444" stroke="#444" stroke-width="0.09"><text x="29.4" y="548.0">40</text><text x="29.4" y="572.7">20</text><text x="29.4" y="597.5">0</text><text x="114.1" y="525.0">25</text><text x="114.1" y="539.3">20</text><text x="114.1" y="553.5">15</text><text x="114.1" y="568.3">10</text><text x="114.1" y="583.0">5</text><text x="114.1" y="597.1">0</text><text x="199.5" y="542.9">10</text><text x="199.5" y="570.2">5</text><text x="199.5" y="597.3">0</text><text x="281.2" y="539.6">6</text><text x="281.2" y="558.8">4</text><text x="281.2" y="578.1">2</text><text x="281.2" y="597.1">0</text><text x="367.6" y="526.0">10.0</text><text x="367.6" y="543.8">7.5</text><text x="367.6" y="561.5">5.0</text><text x="367.6" y="579.5">2.5</text><text x="367.6" y="597.1">0.0</text><text x="451.0" y="532.3">15</text><text x="451.0" y="554.0">10</text><text x="451.0" y="575.5">5</text><text x="451.0" y="597.7">0</text><text x="28.8" y="650.0">10</text><text x="28.8" y="675.0">5</text><text x="28.8" y="700.8">0</text><text x="114.5" y="634.4">20</text><text x="114.5" y="650.8">15</text><text x="114.5" y="667.5">10</text><text x="114.5" y="684.0">5</text><text x="114.5" y="700.8">0</text><text x="199.5" y="635.8">20</text><text x="199.5" y="652.1">15</text><text x="199.5" y="668.5">10</text><text x="199.5" y="684.8">5</text><text x="199.5" y="701.2">0</text><text x="284.5" y="635.4">15</text><text x="284.5" y="657.1">10</text><text x="284.5" y="679.0">5</text><text x="284.5" y="701.2">0</text><text x="364.7" y="632.5">5</text><text x="364.7" y="646.5">4</text><text x="364.7" y="660.4">3</text><text x="364.7" y="673.8">2</text><text x="364.7" y="687.3">1</text><text x="364.7" y="701.2">0</text><text x="456.4" y="627.3">10.0</text><text x="456.4" y="646.0">7.5</text><text x="456.4" y="664.2">5.0</text><text x="456.4" y="682.5">2.5</text><text x="456.4" y="701.2">0.0</text></g>
<g font-size="7.2" text-anchor="middle" fill="#444" stroke="#444" stroke-width="0.09"><text x="38.0" y="607.7">−10</text><text x="50.0" y="607.7">−5</text><text x="62.0" y="607.7">0</text><text x="73.8" y="607.7">5</text><text x="85.8" y="607.7">10</text><text x="129.6" y="607.7">−5</text><text x="146.5" y="607.7">0</text><text x="163.8" y="607.7">5</text><text x="181.0" y="607.7">10</text><text x="211.3" y="607.7">−5</text><text x="229.0" y="607.7">0</text><text x="247.0" y="607.7">5</text><text x="264.6" y="607.7">10</text><text x="295.2" y="607.7">−5</text><text x="314.0" y="607.7">0</text><text x="332.7" y="607.7">5</text><text x="351.9" y="607.7">10</text><text x="380.2" y="607.7">−5</text><text x="396.2" y="607.7">0</text><text x="412.9" y="607.7">5</text><text x="428.8" y="607.7">10</text><text x="459.4" y="607.7">−10</text><text x="471.5" y="607.7">−5</text><text x="484.0" y="607.7">0</text><text x="496.5" y="607.7">5</text><text x="508.8" y="607.7">10</text><text x="39.5" y="710.4">−5</text><text x="58.3" y="710.4">0</text><text x="77.0" y="710.4">5</text><text x="95.8" y="710.4">10</text><text x="119.6" y="710.4">−8</text><text x="135.4" y="710.4">−4</text><text x="151.2" y="710.4">0</text><text x="166.7" y="710.4">4</text><text x="211.3" y="710.4">−5</text><text x="230.4" y="710.4">0</text><text x="249.8" y="710.4">5</text><text x="299.6" y="710.4">−5</text><text x="318.3" y="710.4">0</text><text x="336.5" y="710.4">5</text><text x="369.2" y="710.4">−8</text><text x="386.0" y="710.4">−4</text><text x="402.9" y="710.4">0</text><text x="420.2" y="710.4">4</text><text x="470.0" y="710.4">−5</text><text x="486.7" y="710.4">0</text><text x="503.0" y="710.4">5</text></g>
<g font-size="6.6" font-weight="bold" fill="#000" stroke="#000" stroke-width="0.09"><text x="32.4" y="515.6">Th1</text><text x="117.1" y="515.7">Cytotoxic CD4</text><text x="202.5" y="515.7">Tfh.1</text><text x="284.2" y="515.6">Acutely Activated</text><text x="370.6" y="515.6">Tfh.2</text><text x="454.0" y="515.6">Quiescent memory</text><text x="31.8" y="619.1">Naive</text><text x="117.5" y="619.1">Th17</text><text x="202.5" y="619.1">Early activated</text><text x="287.5" y="619.1">Treg</text><text x="367.7" y="619.1">IFN response</text><text x="459.4" y="619.1">NKT</text></g>
<path d="M16.6 717.3V674M15.4 716.2H59" stroke="#000" stroke-width="2.4" fill="none"/>
<path d="M13.3 677L16.6 667.7L19.9 677Z M57.7 712.9L65.8 716.2L57.7 719.5Z" fill="#000"/>
<text transform="translate(10.6 717.5) rotate(-90)" font-size="12.2" fill="#000">−Log<tspan font-size="8.5" dy="3">10</tspan><tspan dy="-3" font-style="italic"> P</tspan></text>
<text x="14.8" y="728.4" font-size="12.6" fill="#000">Log<tspan font-size="8.5" dy="3">2</tspan><tspan dy="-3"> fold change</tspan></text>
</svg></body></html>
